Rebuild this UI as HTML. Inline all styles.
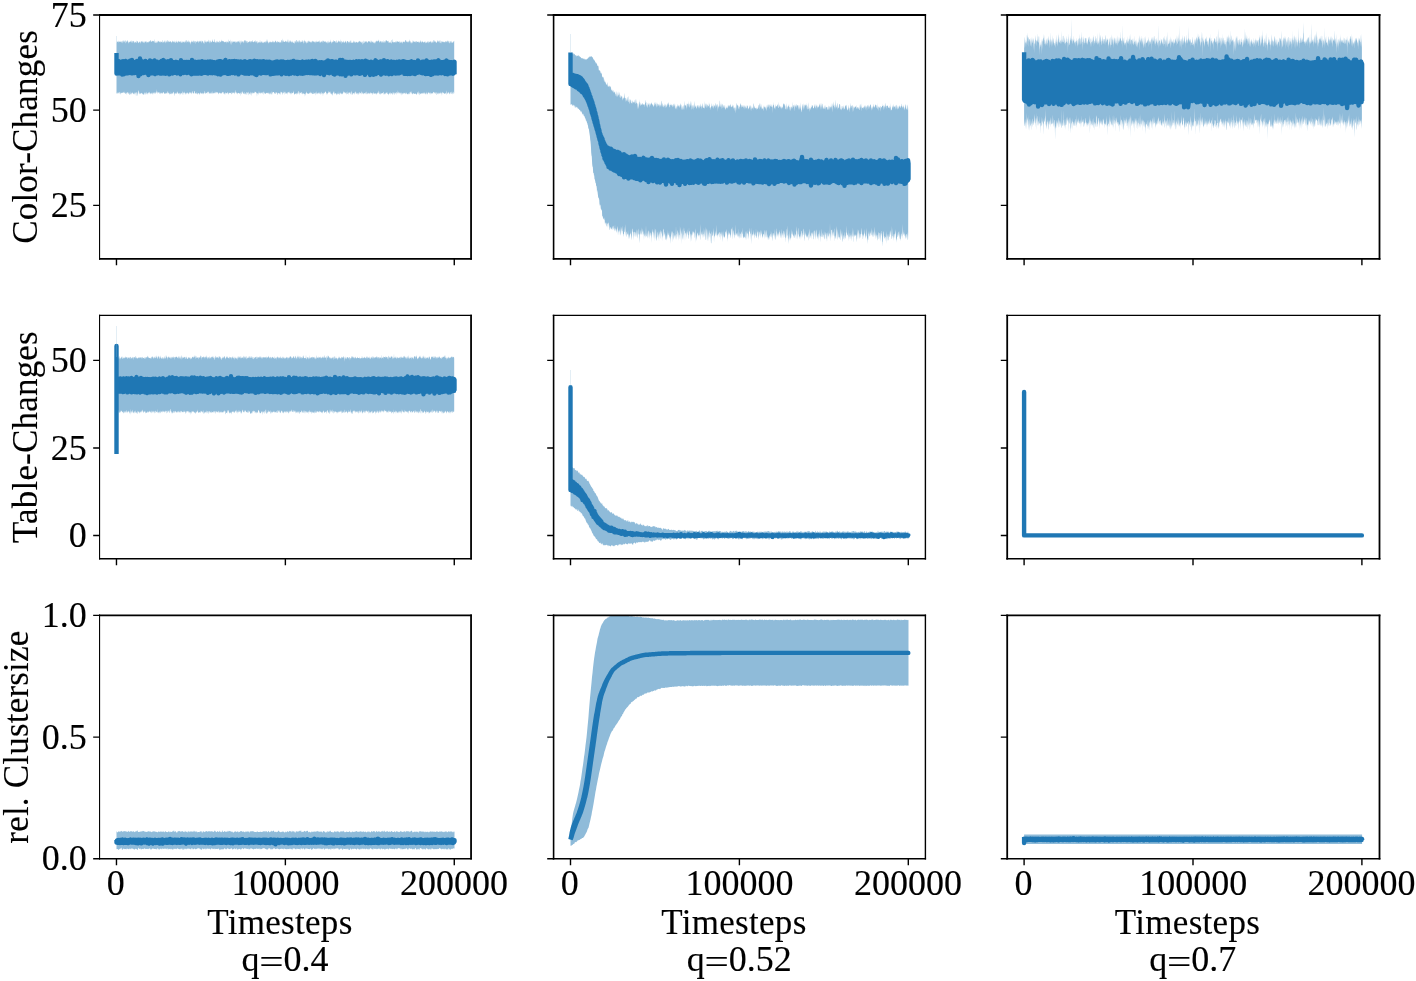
<!DOCTYPE html>
<html lang="en"><head><meta charset="utf-8"><title>Timesteps</title>
<style>html,body{margin:0;padding:0;background:#fff;overflow:hidden}svg{display:block}text{font-family:'Liberation Serif', 'Times New Roman', Times, serif;font-size:35px;fill:#000;letter-spacing:0.3px;stroke:#000;stroke-width:0.12px}.d{font-size:36px;letter-spacing:0}.yl{letter-spacing:0.2px}</style></head><body>
<svg width="1416" height="981" viewBox="0 0 1416 981">
<rect width="1416" height="981" fill="#fff"/>
<defs>
<clipPath id="c00"><rect x="99.6" y="15" width="371.5" height="243.9"/></clipPath>
<clipPath id="c01"><rect x="553.6" y="15" width="371.8" height="243.9"/></clipPath>
<clipPath id="c02"><rect x="1007.2" y="15" width="372.3" height="243.9"/></clipPath>
<clipPath id="c10"><rect x="99.6" y="315.4" width="371.5" height="243.3"/></clipPath>
<clipPath id="c11"><rect x="553.6" y="315.4" width="371.8" height="243.3"/></clipPath>
<clipPath id="c12"><rect x="1007.2" y="315.4" width="372.3" height="243.3"/></clipPath>
<clipPath id="c20"><rect x="99.6" y="615.4" width="371.5" height="243.4"/></clipPath>
<clipPath id="c21"><rect x="553.6" y="615.4" width="371.8" height="243.4"/></clipPath>
<clipPath id="c22"><rect x="1007.2" y="615.4" width="372.3" height="243.4"/></clipPath>
</defs>
<polygon fill="#8fbbd9" points="116.5,43.3 116.7,41.4 117,42 117.2,42.2 117.5,41.1 117.7,41.8 118,41.8 118.2,40.2 118.5,42.7 118.7,42.3 119,41.2 119.2,41.6 119.5,42.3 119.7,41.6 120,41.6 120.2,40.4 120.5,42.3 120.7,41.9 121,42 121.2,40.4 121.5,43.3 121.7,41.9 122,41.5 122.2,43.6 122.5,41.8 122.7,40.5 123,41.1 123.2,39.5 123.5,42.7 123.7,41.4 124,41.1 124.2,42.8 124.5,40.3 124.7,42.3 125,39.9 125.2,40.6 125.5,40.7 125.7,43.1 126,43.4 126.2,40.9 126.5,42.6 126.7,40.4 127,42.3 127.2,41.1 127.5,40.3 127.7,40.2 128,42.1 128.2,43.8 128.5,42 128.7,41.3 129,43.5 129.2,42 129.5,41.9 129.7,42 130,41.1 130.2,41.5 130.5,40.5 130.7,42.3 131,41.7 131.2,42.9 131.5,41.5 131.7,40.1 132,41.7 132.2,43.3 132.5,41.5 132.7,41 133,40.7 133.2,40.9 133.5,41.5 133.7,40.7 134,43.1 134.2,41.5 134.5,42 134.7,43.1 135,43.2 135.2,41.6 135.5,42.2 135.7,42.5 136,41.6 136.2,40.2 136.5,42.4 136.7,42.7 137,43 137.2,41 137.5,41.6 137.7,41.3 138,41.5 138.2,43 138.5,43.2 138.7,42.4 139,42.3 139.2,42.4 139.5,41.8 139.7,41.7 140,41.2 140.2,41.7 140.5,43.8 140.7,42.9 141,41.5 141.2,40.9 141.5,41 141.7,42.1 142,42.2 142.2,40.5 142.5,42.2 142.7,41.3 143,43.1 143.2,41.9 143.5,43.3 143.7,41.4 144,41.5 144.2,42.1 144.5,43.6 144.7,42.3 145,40.7 145.2,42 145.5,41.8 145.7,41.4 146,41.2 146.2,43.4 146.5,41.4 146.7,41 147,42.4 147.2,42 147.5,41.7 147.7,42.7 148,42.2 148.2,42.1 148.5,42.7 148.7,42.1 149,40.7 149.2,41.5 149.5,41.3 149.7,42 150,40.8 150.2,39.9 150.5,41.9 150.7,40.6 151,40 151.2,42.1 151.5,41.2 151.7,42.2 152,41.3 152.2,40.8 152.5,40.7 152.7,41.3 153,41.6 153.2,41.1 153.5,41.5 153.7,40.4 154,41.8 154.2,38.7 154.5,41.4 154.7,42.4 155,42.8 155.2,43.3 155.5,40.4 155.7,42.5 156,42.9 156.2,42.7 156.5,41 156.7,42.2 157,43.5 157.2,40.3 157.5,42.2 157.7,42.8 158,41.2 158.2,42.3 158.5,40.5 158.7,41.1 159,41.1 159.2,42 159.5,41.6 159.7,42.7 160,41 160.2,41.7 160.5,42.7 160.7,42.3 161,40.6 161.2,42.4 161.5,41.4 161.7,42.1 162,42.1 162.2,42.9 162.5,41.9 162.7,40.1 163,40.6 163.2,42.5 163.5,41.4 163.7,42.8 164,42 164.2,41.1 164.5,42.8 164.7,41.1 165,40 165.2,43.7 165.5,40.1 165.7,42.5 166,42.6 166.2,41.9 166.5,40.3 166.7,42.7 167,40.5 167.2,40.6 167.5,40.1 167.7,42.5 168,42.1 168.2,42.5 168.5,40.9 168.7,41.6 169,40.3 169.2,41.5 169.5,42.3 169.7,41.5 170,42.2 170.2,41 170.5,41.3 170.7,41.8 171,41.6 171.2,42.3 171.5,42 171.7,43.4 172,41.6 172.2,40.5 172.5,40.9 172.7,41.8 173,42.4 173.2,41.1 173.5,41.6 173.7,42.4 174,41.7 174.2,40.3 174.5,42.7 174.7,41.9 175,42.2 175.2,42.9 175.5,42.8 175.7,41.5 176,41.3 176.2,42.1 176.5,41.7 176.7,40.1 177,42.9 177.2,42.5 177.5,42.5 177.7,40.7 178,43 178.2,41.3 178.5,41.7 178.7,40.5 179,41.6 179.2,41.6 179.5,41.6 179.7,42.2 180,41.9 180.2,42.7 180.5,41.3 180.7,40.9 181,41.8 181.2,42.4 181.5,42.9 181.7,42.5 182,40.2 182.2,42.1 182.5,43.1 182.7,41.9 183,41.3 183.2,42.1 183.5,41.3 183.7,42.4 184,41.8 184.2,43.1 184.5,42.2 184.7,41.1 185,42.3 185.2,42.6 185.5,41.3 185.7,41.4 186,39.4 186.2,43.2 186.5,41.3 186.7,39.9 187,40.2 187.2,41.6 187.5,42.5 187.7,41 188,42.2 188.2,40.8 188.5,40.3 188.7,42.6 189,42.2 189.2,41.8 189.5,43 189.7,40.9 190,41.4 190.2,43.3 190.5,44.7 190.7,41.8 191,43.3 191.2,41.3 191.5,42.1 191.7,41.6 192,40.1 192.2,42 192.5,42.6 192.7,41.2 193,41.7 193.2,43.1 193.5,40.7 193.7,40.5 194,41.1 194.2,40.7 194.5,43 194.7,42.1 195,41 195.2,41.2 195.5,44.4 195.7,41.3 196,41.1 196.2,42.1 196.5,42.4 196.7,42 197,41 197.2,40.8 197.5,42.3 197.7,41.8 198,40.3 198.2,42.9 198.5,42.5 198.7,41.6 199,40.8 199.2,42 199.5,41.2 199.7,40.6 200,42.1 200.2,40.5 200.5,42.2 200.7,40.5 201,41.6 201.2,41.7 201.5,43.4 201.7,40.8 202,40.5 202.2,41.2 202.5,40.8 202.7,41.3 203,42.2 203.2,42.5 203.5,43.3 203.7,41.1 204,44.2 204.2,43.6 204.5,41.6 204.7,39.7 205,41.7 205.2,42.8 205.5,39.7 205.7,41.9 206,41.6 206.2,41 206.5,42.4 206.7,42.7 207,41.4 207.2,42 207.5,41.2 207.7,41.1 208,41.9 208.2,42.3 208.5,40.3 208.7,39.4 209,42.3 209.2,40.1 209.5,41.9 209.7,43.4 210,41.8 210.2,40.7 210.5,40.5 210.7,42.9 211,41.8 211.2,42.3 211.5,42.6 211.7,41.8 212,41.5 212.2,40.9 212.5,39 212.7,40.4 213,41.7 213.2,41.6 213.5,42.2 213.7,41.7 214,41.9 214.2,42.5 214.5,41 214.7,38.6 215,40.4 215.2,42.7 215.5,41.8 215.7,42.2 216,43.2 216.2,42.8 216.5,40.5 216.7,42.5 217,40.5 217.2,42.2 217.5,42.2 217.7,40.3 218,43 218.2,41.2 218.5,42.4 218.7,41.4 219,42.7 219.2,43 219.5,40.8 219.7,40.4 220,41.7 220.2,42.6 220.5,41.5 220.7,41.2 221,42.2 221.2,39.3 221.5,41.2 221.7,40.6 222,42.1 222.2,41.1 222.5,40.8 222.7,41.5 223,40.5 223.2,41.8 223.5,41.2 223.7,41.5 224,41.2 224.2,42.6 224.5,41.7 224.7,42.3 225,42.2 225.2,41.1 225.5,42.4 225.7,42.1 226,42.1 226.2,41.4 226.5,41.4 226.7,42.6 227,43.8 227.2,41.1 227.5,42.3 227.7,41.5 228,42.5 228.2,42.2 228.5,42.8 228.7,39 229,41.3 229.2,40.9 229.5,41.7 229.7,41.1 230,41.2 230.2,42.4 230.5,44.7 230.7,39.3 231,41.5 231.2,45.2 231.5,41.8 231.7,41.5 232,40.6 232.2,41 232.5,42.5 232.7,42.8 233,41.9 233.2,41 233.5,41.9 233.7,41.6 234,42.3 234.2,41.9 234.5,41.2 234.7,42 235,40.7 235.2,42.5 235.5,42.9 235.7,40.7 236,42.2 236.2,40.9 236.5,42.8 236.7,42.6 237,41.6 237.2,42.7 237.5,41.4 237.7,41.2 238,41.3 238.2,41.7 238.5,40.5 238.7,41.9 239,41.2 239.2,42.5 239.5,42.7 239.7,41.4 240,39.9 240.2,42.5 240.5,45.2 240.7,41.7 241,40.6 241.2,42 241.5,43.2 241.7,40.1 242,42.2 242.2,41.5 242.5,41 242.7,42.8 243,40.6 243.2,42.1 243.5,43.6 243.7,42 244,41 244.2,40.2 244.5,40.6 244.7,40.1 245,43.2 245.2,41.6 245.5,40.1 245.7,40.6 246,40.8 246.2,41.5 246.5,40.6 246.7,43.3 247,41.1 247.2,41.1 247.5,42.1 247.7,43.1 248,43.2 248.2,41.4 248.5,42.2 248.7,41.9 249,42.3 249.2,42 249.5,41 249.7,40.7 250,42 250.2,40.7 250.5,43 250.7,41.8 251,40.9 251.2,41.5 251.5,41.3 251.7,41.2 252,42.7 252.2,40.5 252.5,40.1 252.7,42.1 253,41.6 253.2,42.3 253.5,42.2 253.7,41.6 254,42.5 254.2,41 254.5,41.9 254.7,41.1 255,40.8 255.2,42.4 255.5,42.3 255.7,40 256,40.8 256.2,42.1 256.5,42.8 256.7,40.8 257,41.6 257.2,40.5 257.5,44.1 257.7,42.2 258,43.5 258.2,42.4 258.5,42.6 258.7,42.3 259,41.5 259.2,42.5 259.5,41.9 259.7,43 260,39.5 260.2,41.3 260.5,42.4 260.7,43 261,41.9 261.2,41.2 261.5,41.7 261.7,41.4 262,43.5 262.2,42.6 262.5,43 262.7,42.1 263,41.3 263.2,42.9 263.5,43.3 263.7,42.3 264,41.8 264.2,42.8 264.5,41.5 264.7,42.5 265,41.2 265.2,40.9 265.5,42.3 265.7,42.1 266,43.5 266.2,41.5 266.5,41.8 266.7,40.8 267,39 267.2,40.1 267.5,42.2 267.7,40.7 268,42.8 268.2,43.1 268.5,41.5 268.7,43.9 269,42 269.2,42.8 269.5,41.6 269.7,42.7 270,41 270.2,42.8 270.5,41.3 270.7,41.7 271,42.4 271.2,42 271.5,41.7 271.7,42.5 272,42.5 272.2,40.2 272.5,42.3 272.7,42.4 273,40.9 273.2,42.4 273.5,40.6 273.7,43.1 274,41.6 274.2,41.7 274.5,42.9 274.7,41.7 275,42.3 275.2,40.9 275.5,40.8 275.7,40.5 276,41.6 276.2,42.7 276.5,42 276.7,42.6 277,40.9 277.2,41 277.5,41.4 277.7,42.8 278,42.1 278.2,41.8 278.5,42.4 278.7,41.7 279,41.8 279.2,43 279.5,41.2 279.7,42 280,43.3 280.2,41.9 280.5,42.4 280.7,41.3 281,43.6 281.2,39.8 281.5,40.5 281.7,40.2 282,43.3 282.2,42.1 282.5,38.3 282.7,40.6 283,42.1 283.2,41.9 283.5,41.2 283.7,40.2 284,40.8 284.2,42 284.5,42.1 284.7,41.9 285,41.7 285.2,40.2 285.5,41.8 285.7,40.9 286,41.8 286.2,42.2 286.5,41.2 286.7,40.9 287,42.7 287.2,42.1 287.5,41.2 287.7,39.1 288,41.8 288.2,42.4 288.5,42.8 288.7,41.2 289,38.9 289.2,41.4 289.5,42.9 289.7,40.7 290,41.7 290.2,41 290.5,42 290.7,39.5 291,42.1 291.2,41.4 291.5,41.6 291.7,42.3 292,43.1 292.2,40.3 292.5,42.7 292.7,42.3 293,41.5 293.2,43.1 293.5,42.9 293.7,43 294,41.3 294.2,41 294.5,42.9 294.7,44.1 295,42.4 295.2,42.6 295.5,41.4 295.7,40.6 296,41.6 296.2,43.3 296.5,40.1 296.7,39.9 297,40.1 297.2,41.9 297.5,42.6 297.7,40.7 298,41.4 298.2,43 298.5,41.7 298.7,40.7 299,40.6 299.2,40 299.5,42.5 299.7,39.8 300,42.9 300.2,42.6 300.5,41.2 300.7,41.3 301,42.5 301.2,41.9 301.5,42 301.7,40.3 302,42.6 302.2,41 302.5,39.8 302.7,41.2 303,42.2 303.2,43.7 303.5,41.5 303.7,40.6 304,43.7 304.2,41.9 304.5,39.5 304.7,40.8 305,40.9 305.2,43.1 305.5,41.6 305.7,41.3 306,41.3 306.2,44.1 306.5,41.3 306.7,42.4 307,43.4 307.2,42 307.5,40.8 307.7,42.4 308,43.2 308.2,41.8 308.5,40.7 308.7,40.6 309,42 309.2,41.6 309.5,41.7 309.7,41.8 310,40.5 310.2,42.5 310.5,42 310.7,41.6 311,42.9 311.2,42.6 311.5,41.8 311.7,41 312,42.8 312.2,41.4 312.5,41.1 312.7,40.4 313,41.8 313.2,40.9 313.5,41.3 313.7,42.2 314,41.8 314.2,42.7 314.5,42.1 314.7,41.4 315,41.5 315.2,41.3 315.5,43.4 315.7,41.8 316,41.4 316.2,42.6 316.5,41.9 316.7,41.2 317,40.2 317.2,42.2 317.5,42 317.7,41.8 318,41.4 318.2,41 318.5,41.6 318.7,42 319,41.7 319.2,40.1 319.5,41.4 319.7,42.1 320,43.2 320.2,41 320.5,42.5 320.7,42.5 321,42.5 321.2,41.7 321.5,41.6 321.7,40.8 322,42.5 322.2,39.9 322.5,41.4 322.7,41.5 323,43.4 323.2,41.5 323.5,40.9 323.7,40.5 324,41.1 324.2,41.9 324.5,41.8 324.7,41.6 325,41.2 325.2,41.6 325.5,42.7 325.7,40.8 326,41.9 326.2,43.3 326.5,42.3 326.7,41.4 327,42.4 327.2,41.1 327.5,41.8 327.7,43.2 328,43.5 328.2,40.3 328.5,42.4 328.7,43.6 329,41.3 329.2,42 329.5,43.2 329.7,41.4 330,42.2 330.2,41.4 330.5,39.2 330.7,42.1 331,41.6 331.2,42.6 331.5,43.7 331.7,42.4 332,41.1 332.2,42.2 332.5,42 332.7,42.7 333,40.5 333.2,40.8 333.5,40 333.7,42.3 334,41.8 334.2,41.2 334.5,41.1 334.7,41.3 335,41 335.2,41.5 335.5,41.4 335.7,43.1 336,42.1 336.2,39.7 336.5,41.3 336.7,42.9 337,42.7 337.2,42.1 337.5,42.4 337.7,43.2 338,40.7 338.2,41.1 338.5,40.2 338.7,42.2 339,41.2 339.2,41.2 339.5,41.1 339.7,42.4 340,41.7 340.2,41.3 340.5,42.9 340.7,40.9 341,38.9 341.2,44.4 341.5,41.5 341.7,41.3 342,41.1 342.2,41.7 342.5,42.5 342.7,42.5 343,42.3 343.2,41.5 343.5,40.5 343.7,42.1 344,43.2 344.2,42.8 344.5,41.5 344.7,43.2 345,41.5 345.2,41.8 345.5,40.6 345.7,41.5 346,41.9 346.2,41.6 346.5,42.5 346.7,43.5 347,43 347.2,41 347.5,41.1 347.7,41.2 348,40.9 348.2,41.8 348.5,42.2 348.7,42 349,43.8 349.2,41.9 349.5,41.7 349.7,41.1 350,43.4 350.2,42.7 350.5,41 350.7,41 351,39.7 351.2,41.8 351.5,42.9 351.7,42.7 352,42.8 352.2,42.8 352.5,42.8 352.7,42.5 353,42.2 353.2,41.7 353.5,40.2 353.7,41.7 354,43.4 354.2,41.3 354.5,41.2 354.7,42.7 355,41.9 355.2,41.4 355.5,43.2 355.7,42.4 356,42.5 356.2,41.3 356.5,42.2 356.7,42.1 357,42.5 357.2,42.8 357.5,42.8 357.7,42 358,42.4 358.2,40.8 358.5,42.4 358.7,42.5 359,41.5 359.2,41.1 359.5,41.7 359.7,40.6 360,42.1 360.2,42.1 360.5,40.9 360.7,41.8 361,42.8 361.2,42.8 361.5,42.7 361.7,41.7 362,41.5 362.2,41.4 362.5,42.3 362.7,45.1 363,43.1 363.2,43.2 363.5,43.7 363.7,40.3 364,41.6 364.2,41.4 364.5,43.1 364.7,43.3 365,40.5 365.2,41.8 365.5,42.3 365.7,41.2 366,41.2 366.2,41 366.5,42.6 366.7,41 367,42.8 367.2,41.9 367.5,42.5 367.7,43.2 368,41.1 368.2,41.1 368.5,42.2 368.7,40.9 369,41.1 369.2,41.7 369.5,41.9 369.7,40.7 370,41.5 370.2,42.3 370.5,43 370.7,40 371,43 371.2,42.6 371.5,40.8 371.7,40.5 372,42.2 372.2,41.4 372.5,41.9 372.7,42.7 373,40.7 373.2,41.9 373.5,42.7 373.7,42.6 374,43.4 374.2,43.3 374.5,42.4 374.7,41.6 375,43.9 375.2,42.4 375.5,42.2 375.7,40.8 376,42.5 376.2,41.1 376.5,41.4 376.7,40.6 377,40.8 377.2,41.9 377.5,40.5 377.7,41 378,41.7 378.2,40.2 378.5,40.7 378.7,41.1 379,38.9 379.2,42.4 379.5,40.9 379.7,42.5 380,42.6 380.2,40.7 380.5,41.8 380.7,41.4 381,40.5 381.2,41.5 381.5,41.6 381.7,42.4 382,42.9 382.2,40.8 382.5,41.4 382.7,42.3 383,43.1 383.2,39.6 383.5,42.9 383.7,41.6 384,43.2 384.2,41.4 384.5,41.1 384.7,41.8 385,43.4 385.2,41.8 385.5,39.7 385.7,42.4 386,40.4 386.2,40.6 386.5,40.8 386.7,40.1 387,40.7 387.2,40.9 387.5,41.1 387.7,41.8 388,41.5 388.2,40.5 388.5,41.6 388.7,42.7 389,42.7 389.2,41.9 389.5,42.4 389.7,42.6 390,43 390.2,43.3 390.5,41.5 390.7,41.5 391,43.1 391.2,43.5 391.5,43.2 391.7,39.7 392,40.3 392.2,38.6 392.5,42.5 392.7,41.9 393,41.8 393.2,41.7 393.5,43 393.7,41.5 394,43 394.2,42.3 394.5,42.1 394.7,42.2 395,41.9 395.2,40.8 395.5,42.4 395.7,42.8 396,41.7 396.2,42.5 396.5,42.6 396.7,40.6 397,41.7 397.2,41.4 397.5,41 397.7,42.1 398,41 398.2,41.4 398.5,42 398.7,42.1 399,42.1 399.2,43.8 399.5,40.9 399.7,42 400,40.7 400.2,42.2 400.5,42.8 400.7,42.9 401,41.2 401.2,41.5 401.5,42.9 401.7,41.7 402,42.7 402.2,40.9 402.5,43.9 402.7,42.7 403,42.2 403.2,41.1 403.5,41.7 403.7,41.9 404,42 404.2,41.7 404.5,41.6 404.7,42 405,43.1 405.2,39.8 405.5,40.6 405.7,39.7 406,41.2 406.2,40.2 406.5,42.3 406.7,41.9 407,41.6 407.2,41.2 407.5,41.9 407.7,42 408,42.9 408.2,41.1 408.5,42.4 408.7,40.5 409,42.9 409.2,39 409.5,41.3 409.7,40.3 410,42.5 410.2,40.5 410.5,43.4 410.7,40.4 411,43.6 411.2,43.3 411.5,41.8 411.7,42.2 412,43.8 412.2,42.6 412.5,39.8 412.7,42.9 413,42 413.2,40.3 413.5,42.5 413.7,40.7 414,42 414.2,42 414.5,41.2 414.7,42.4 415,40.9 415.2,42.2 415.5,41.3 415.7,41.2 416,43.5 416.2,41.9 416.5,40.8 416.7,41.7 417,41.1 417.2,41.8 417.5,41.9 417.7,41.9 418,41.9 418.2,41.3 418.5,42.2 418.7,42.8 419,41.2 419.2,41.7 419.5,41.9 419.7,43 420,42.8 420.2,41.1 420.5,41.9 420.7,40.5 421,40.2 421.2,41.8 421.5,42.7 421.7,42.7 422,41.5 422.2,40.6 422.5,42.2 422.7,41.6 423,42.2 423.2,41.9 423.5,42.4 423.7,42.4 424,42.6 424.2,41.4 424.5,42.7 424.7,41.3 425,41.9 425.2,43.6 425.5,42.4 425.7,40.8 426,43.1 426.2,42.9 426.5,42.8 426.7,42 427,42.1 427.2,41.6 427.5,41.2 427.7,43.2 428,41.5 428.2,41.4 428.5,41.4 428.7,43.5 429,42.6 429.2,41.5 429.5,41.8 429.7,42.3 430,42.6 430.2,40.4 430.5,42.6 430.7,41.6 431,41.2 431.2,41.4 431.5,42.5 431.7,43.4 432,41.9 432.2,42.3 432.5,40.7 432.7,42.5 433,43.1 433.2,40.1 433.5,40 433.7,43.2 434,40.2 434.2,41.5 434.5,42.3 434.7,40.3 435,40.7 435.2,41.8 435.5,42.6 435.7,40.6 436,42.8 436.2,42.1 436.5,42.9 436.7,42.9 437,42.1 437.2,42.3 437.5,40.2 437.7,40.6 438,40.9 438.2,41.5 438.5,42.6 438.7,40.2 439,41.5 439.2,40.6 439.5,40.4 439.7,43.1 440,41.9 440.2,43.3 440.5,42.9 440.7,41 441,40.1 441.2,43.7 441.5,41.4 441.7,40.8 442,42.4 442.2,41.9 442.5,41.2 442.7,41.5 443,41.9 443.2,41.9 443.5,42.5 443.7,41.5 444,41.5 444.2,42.3 444.5,42.1 444.7,42.8 445,41.6 445.2,41.7 445.5,40.8 445.7,43.1 446,40.5 446.2,42 446.5,41 446.7,42.1 447,42.5 447.2,40.3 447.5,41.6 447.7,40.2 448,43.1 448.2,41.4 448.5,40.4 448.7,41.2 449,43 449.2,43.2 449.5,43.2 449.7,41.1 450,41.7 450.2,43.3 450.5,41.1 450.7,41.5 451,40.9 451.2,40.8 451.5,42.9 451.7,42.4 452,42.2 452.2,42.3 452.5,42.7 452.7,43.2 453,41.8 453.2,41.5 453.5,40.9 453.7,42.8 454,41.3 454.2,40.5 454.2,92.7 454,93.8 453.7,93.7 453.5,92.3 453.2,92.2 453,91 452.7,94.9 452.5,92.4 452.2,94.2 452,91.5 451.7,92.1 451.5,93.5 451.2,93.9 451,93.7 450.7,93.6 450.5,91.9 450.2,92.3 450,92.7 449.7,94.1 449.5,94.6 449.2,93.5 449,92.1 448.7,92.9 448.5,91.5 448.2,93 448,93.5 447.7,94.2 447.5,93.3 447.2,92.4 447,93.1 446.7,95.5 446.5,92.6 446.2,90.3 446,92.7 445.7,94.2 445.5,93.5 445.2,92.6 445,93.6 444.7,93.1 444.5,94.1 444.2,93.9 444,93.8 443.7,92.9 443.5,93.1 443.2,92.7 443,91.9 442.7,91.7 442.5,93.2 442.2,92.6 442,95.9 441.7,93.4 441.5,93.3 441.2,93.2 441,91.3 440.7,93.4 440.5,93.7 440.2,92.4 440,92.9 439.7,94 439.5,92.2 439.2,93.9 439,93 438.7,93.8 438.5,92.1 438.2,94.7 438,93.4 437.7,94.3 437.5,92.2 437.2,93.6 437,94.8 436.7,95 436.5,92.4 436.2,92.3 436,93.3 435.7,93.8 435.5,93.8 435.2,91.8 435,93.1 434.7,93.4 434.5,92.8 434.2,92 434,92.5 433.7,92.2 433.5,91.7 433.2,92.1 433,94.2 432.7,93.3 432.5,92.8 432.2,93.6 432,92.7 431.7,93.2 431.5,93 431.2,94.2 431,94 430.7,92.2 430.5,92.7 430.2,94.9 430,92.3 429.7,94.8 429.5,92.2 429.2,93.6 429,92.8 428.7,92.2 428.5,93.2 428.2,92.1 428,93.4 427.7,93.7 427.5,93.5 427.2,95.1 427,91.1 426.7,94.3 426.5,92.3 426.2,93.4 426,95.1 425.7,93.8 425.5,94.2 425.2,92.9 425,92.6 424.7,93.2 424.5,92.1 424.2,94 424,94.1 423.7,92 423.5,93.5 423.2,93.6 423,93.3 422.7,93.6 422.5,92.4 422.2,94 422,93.5 421.7,93.5 421.5,92.7 421.2,93.8 421,94.1 420.7,93.8 420.5,93.2 420.2,94.1 420,94.4 419.7,95.4 419.5,92.2 419.2,93.5 419,93.2 418.7,90.8 418.5,93.3 418.2,94.7 418,92.3 417.7,91.8 417.5,93.5 417.2,93.5 417,93.2 416.7,94.9 416.5,94.5 416.2,94.2 416,94.2 415.7,93.2 415.5,93.4 415.2,94 415,93.4 414.7,94 414.5,93.4 414.2,94.2 414,93.8 413.7,93.2 413.5,93.5 413.2,92.7 413,94.2 412.7,94.4 412.5,93.6 412.2,94 412,92.6 411.7,93.7 411.5,93.5 411.2,91.3 411,91.7 410.7,91.6 410.5,94 410.2,92.1 410,92.2 409.7,92.2 409.5,94.4 409.2,93.6 409,94.4 408.7,93.6 408.5,94.7 408.2,92.8 408,93.6 407.7,94.7 407.5,93.7 407.2,94 407,94.5 406.7,92 406.5,94 406.2,92.6 406,94.6 405.7,93.2 405.5,94.3 405.2,92.7 405,92.2 404.7,93.9 404.5,92.8 404.2,93.1 404,93.6 403.7,92.5 403.5,92.9 403.2,93.9 403,94 402.7,94.7 402.5,93.1 402.2,93.2 402,93.7 401.7,92.1 401.5,95.7 401.2,93.6 401,92.6 400.7,92.7 400.5,92.9 400.2,94.8 400,92.6 399.7,93 399.5,93.9 399.2,92.4 399,92.1 398.7,91.5 398.5,93.9 398.2,92.6 398,93.1 397.7,93.5 397.5,90.1 397.2,94 397,92.1 396.7,92.6 396.5,92 396.2,94.7 396,94.3 395.7,92.1 395.5,93.6 395.2,92.9 395,93.9 394.7,92.2 394.5,92.9 394.2,94.9 394,94.7 393.7,92.9 393.5,92 393.2,93.8 393,91.5 392.7,93.5 392.5,94.9 392.2,94.3 392,93.2 391.7,93.4 391.5,93.6 391.2,92.8 391,94.7 390.7,94.1 390.5,91.7 390.2,93.8 390,92.6 389.7,92.8 389.5,93.7 389.2,93.6 389,93.9 388.7,93.4 388.5,95.4 388.2,94.5 388,93.6 387.7,94.1 387.5,94.3 387.2,91.5 387,94 386.7,92.6 386.5,92.7 386.2,92.8 386,92.1 385.7,94.8 385.5,93.1 385.2,93.6 385,94.1 384.7,92.8 384.5,94.6 384.2,94.1 384,94.7 383.7,94.1 383.5,91.8 383.2,92 383,93 382.7,93.1 382.5,93.8 382.2,92.8 382,93.1 381.7,93 381.5,94.3 381.2,93.8 381,92.3 380.7,94.1 380.5,94.2 380.2,94.7 380,91.8 379.7,94.8 379.5,93.6 379.2,94.2 379,90.6 378.7,91.3 378.5,93.5 378.2,92.8 378,91.9 377.7,92.9 377.5,94.1 377.2,92.4 377,93.5 376.7,92.9 376.5,94.5 376.2,94.3 376,94.6 375.7,93.5 375.5,92.8 375.2,93.8 375,93.2 374.7,93.7 374.5,94 374.2,93.4 374,92.6 373.7,92.3 373.5,93.1 373.2,93.9 373,93.6 372.7,93 372.5,93.6 372.2,95.5 372,93.3 371.7,93.7 371.5,92.8 371.2,93.2 371,92.6 370.7,92.7 370.5,92.2 370.2,94.5 370,92.3 369.7,94.6 369.5,93.4 369.2,93.4 369,93.1 368.7,92.7 368.5,94.1 368.2,93.4 368,91.9 367.7,93.9 367.5,92.9 367.2,94.3 367,94.2 366.7,94.2 366.5,93.3 366.2,91.3 366,92.2 365.7,93.4 365.5,94.6 365.2,91.7 365,93.1 364.7,93.6 364.5,93.2 364.2,92.9 364,93.8 363.7,92.6 363.5,94.6 363.2,93.9 363,93.4 362.7,94 362.5,92.2 362.2,92.7 362,93.1 361.7,91.2 361.5,91.7 361.2,94.5 361,93.9 360.7,92.8 360.5,93.1 360.2,92.8 360,94.3 359.7,93 359.5,91.7 359.2,92.5 359,94.1 358.7,95.1 358.5,92.6 358.2,93 358,94.5 357.7,94.2 357.5,92.6 357.2,93.4 357,93 356.7,94.2 356.5,94 356.2,92.6 356,92.5 355.7,91.6 355.5,91.6 355.2,93.3 355,94 354.7,92.2 354.5,92.4 354.2,94.9 354,93.5 353.7,92.9 353.5,93.3 353.2,93 353,94.2 352.7,94.5 352.5,92.3 352.2,94.6 352,95.2 351.7,93.8 351.5,90.5 351.2,92.3 351,92.2 350.7,92.5 350.5,94.3 350.2,94.2 350,92.9 349.7,92.1 349.5,92.6 349.2,93.6 349,91.9 348.7,95.2 348.5,92.9 348.2,92.2 348,93.9 347.7,94.1 347.5,93.7 347.2,91 347,93.7 346.7,94.7 346.5,93 346.2,92.3 346,92.1 345.7,93.2 345.5,92.8 345.2,93.9 345,92.1 344.7,91.8 344.5,93.6 344.2,92.6 344,92 343.7,92.7 343.5,90.7 343.2,92.6 343,93.7 342.7,94.4 342.5,93.8 342.2,93.3 342,93.1 341.7,93.9 341.5,94.6 341.2,93.3 341,93.9 340.7,91.9 340.5,93.8 340.2,93.5 340,92.8 339.7,93.7 339.5,94.9 339.2,94.6 339,90.9 338.7,94.4 338.5,94.1 338.2,93.6 338,93.9 337.7,94.5 337.5,93.8 337.2,92.2 337,95.6 336.7,94.7 336.5,94.3 336.2,93.2 336,93.7 335.7,93 335.5,93.3 335.2,93.2 335,94.7 334.7,93.3 334.5,94.2 334.2,92.2 334,91 333.7,92.7 333.5,91.3 333.2,93.6 333,92.5 332.7,94.1 332.5,95 332.2,95.8 332,92.8 331.7,94 331.5,94.7 331.2,94.1 331,93.5 330.7,93.7 330.5,93.2 330.2,91.7 330,91.2 329.7,93.2 329.5,92 329.2,91.8 329,93.1 328.7,92.9 328.5,91.6 328.2,91.3 328,93.1 327.7,93.8 327.5,94.7 327.2,93.2 327,92.5 326.7,93.5 326.5,95.2 326.2,92.7 326,92.4 325.7,91.2 325.5,92.3 325.2,91.2 325,92.5 324.7,93.5 324.5,93 324.2,92.4 324,91.9 323.7,93.4 323.5,94.2 323.2,93.1 323,96.7 322.7,92.8 322.5,92.9 322.2,93.9 322,92.8 321.7,91.4 321.5,93 321.2,94.5 321,93.3 320.7,95.3 320.5,92.8 320.2,93.9 320,91.4 319.7,93.3 319.5,94 319.2,93.3 319,93.7 318.7,92.8 318.5,94.1 318.2,92.2 318,92.4 317.7,94.5 317.5,92.8 317.2,93.5 317,94.6 316.7,91 316.5,92.7 316.2,94.5 316,92.9 315.7,92.2 315.5,93 315.2,95.8 315,92.9 314.7,93.7 314.5,92.6 314.2,93.7 314,94 313.7,94 313.5,94.2 313.2,91.7 313,93.7 312.7,94.1 312.5,94.2 312.2,93.4 312,91.9 311.7,92.9 311.5,93.4 311.2,92.9 311,93.9 310.7,91.3 310.5,93.4 310.2,92.8 310,92.1 309.7,94.5 309.5,92.4 309.2,93 309,93.3 308.7,93.2 308.5,94.1 308.2,94.1 308,93.9 307.7,93.3 307.5,93.7 307.2,93.3 307,92.5 306.7,91.3 306.5,92.6 306.2,93.6 306,93.1 305.7,95.4 305.5,92.8 305.2,93.7 305,96.9 304.7,93.9 304.5,93.8 304.2,93.9 304,93.4 303.7,93.1 303.5,94.3 303.2,93.4 303,93.3 302.7,94.7 302.5,92.2 302.2,94.3 302,93.5 301.7,93.8 301.5,92.1 301.2,92 301,92.8 300.7,93.3 300.5,92.3 300.2,93.5 300,92.1 299.7,93.4 299.5,95.3 299.2,92.8 299,91.3 298.7,90.8 298.5,92 298.2,93.7 298,93.5 297.7,93.4 297.5,91.8 297.2,94.6 297,93.9 296.7,94.8 296.5,93.5 296.2,92.9 296,92.9 295.7,93.7 295.5,93.8 295.2,93.7 295,94.1 294.7,93.9 294.5,95.2 294.2,93.9 294,92.9 293.7,92.3 293.5,92.7 293.2,90.4 293,92.4 292.7,92.9 292.5,93.3 292.2,93.3 292,93.1 291.7,92 291.5,94.2 291.2,93.1 291,95.2 290.7,92.7 290.5,93.4 290.2,93.6 290,92.3 289.7,93.3 289.5,91.1 289.2,94.1 289,92.5 288.7,92.6 288.5,92.1 288.2,91.8 288,94 287.7,91.8 287.5,95.3 287.2,91.9 287,93.3 286.7,93.9 286.5,92.4 286.2,93.3 286,93.9 285.7,93.4 285.5,93.2 285.2,92.1 285,91.2 284.7,95.4 284.5,91.5 284.2,92.2 284,92.5 283.7,93.3 283.5,91.1 283.2,93.4 283,92.9 282.7,95.2 282.5,93.8 282.2,92.3 282,92.8 281.7,91.7 281.5,91.9 281.2,92.9 281,91.6 280.7,91.9 280.5,93 280.2,94.7 280,94.6 279.7,94.1 279.5,92.9 279.2,93.7 279,92.5 278.7,93.7 278.5,93 278.2,93 278,92.3 277.7,93.5 277.5,95 277.2,94.5 277,93 276.7,93.3 276.5,92.3 276.2,92 276,92.9 275.7,91.8 275.5,94.1 275.2,94.1 275,93 274.7,93.8 274.5,93.5 274.2,93.1 274,91.8 273.7,92.3 273.5,92.2 273.2,92.1 273,91.9 272.7,91.8 272.5,93.1 272.2,93.3 272,95.3 271.7,94.1 271.5,94 271.2,91.1 271,94.6 270.7,93.9 270.5,93.4 270.2,92.4 270,92.5 269.7,93.1 269.5,94.5 269.2,94.3 269,93.4 268.7,94 268.5,92.9 268.2,92.6 268,92.6 267.7,93.3 267.5,92.4 267.2,93.4 267,93.6 266.7,92.9 266.5,92.4 266.2,92.9 266,93 265.7,94.3 265.5,93 265.2,94 265,93.9 264.7,92.8 264.5,92.4 264.2,93.9 264,90.8 263.7,92.6 263.5,95.4 263.2,92.1 263,91.9 262.7,93.7 262.5,93.8 262.2,92.3 262,92.1 261.7,93 261.5,92.5 261.2,93.8 261,92.6 260.7,92.6 260.5,93.9 260.2,92.7 260,94.2 259.7,92.6 259.5,92.8 259.2,93 259,90.5 258.7,94.1 258.5,94.9 258.2,92.6 258,93 257.7,93.7 257.5,93.5 257.2,93.3 257,97.1 256.7,93.1 256.5,92.5 256.2,93.2 256,91.6 255.7,92.5 255.5,91.7 255.2,92.1 255,92.9 254.7,91.2 254.5,92.4 254.2,93.6 254,92.9 253.7,93.5 253.5,92.5 253.2,93.6 253,92.3 252.7,94.4 252.5,91.9 252.2,93.4 252,92.1 251.7,92.9 251.5,93.3 251.2,96.2 251,92.9 250.7,95.3 250.5,93.6 250.2,91.4 250,93 249.7,93.8 249.5,94.4 249.2,93.5 249,93 248.7,91.5 248.5,92.5 248.2,95.2 248,95.3 247.7,91.6 247.5,93.6 247.2,92.8 247,92.6 246.7,91.7 246.5,92.9 246.2,94.7 246,94.9 245.7,92.7 245.5,94.5 245.2,93.8 245,92.5 244.7,92.1 244.5,94.6 244.2,93.9 244,93.6 243.7,92.6 243.5,94.1 243.2,94.1 243,93 242.7,92.4 242.5,92.2 242.2,91.3 242,91.6 241.7,92.4 241.5,94.3 241.2,94 241,92.7 240.7,92.5 240.5,96.4 240.2,92.5 240,93.8 239.7,93.1 239.5,93.8 239.2,93.4 239,93.8 238.7,92.5 238.5,93.1 238.2,93.1 238,93 237.7,93.3 237.5,93.4 237.2,94.8 237,92.1 236.7,93.6 236.5,91.7 236.2,93.7 236,93.5 235.7,92.1 235.5,92.4 235.2,89.8 235,91.3 234.7,93.5 234.5,92.5 234.2,94.5 234,93.3 233.7,92.8 233.5,91.9 233.2,93.2 233,92.4 232.7,94.1 232.5,92.4 232.2,92.9 232,91.6 231.7,92.7 231.5,94.6 231.2,94.1 231,93.5 230.7,92.6 230.5,92.9 230.2,92.9 230,93.3 229.7,92.8 229.5,92.9 229.2,93.2 229,91.9 228.7,94.9 228.5,93.9 228.2,93.5 228,92.4 227.7,91.9 227.5,92.5 227.2,93.6 227,93.8 226.7,93.4 226.5,93 226.2,92.9 226,92.7 225.7,92.7 225.5,95.1 225.2,91.8 225,93.5 224.7,94.9 224.5,92.9 224.2,93.9 224,92.5 223.7,91.8 223.5,93.4 223.2,94.1 223,91.5 222.7,92.2 222.5,92.5 222.2,92.2 222,93.5 221.7,93.5 221.5,93.4 221.2,92.7 221,92.4 220.7,93.5 220.5,93.1 220.2,94 220,92.4 219.7,93.6 219.5,93.1 219.2,92.2 219,93.3 218.7,93.5 218.5,94.5 218.2,93.5 218,92 217.7,92.4 217.5,93.1 217.2,92.3 217,92.6 216.7,92 216.5,93.1 216.2,91.6 216,94.4 215.7,91.4 215.5,92.5 215.2,93.2 215,91.3 214.7,93 214.5,92.9 214.2,93.2 214,93.8 213.7,93.4 213.5,92.6 213.2,93.3 213,93.1 212.7,93.2 212.5,90.7 212.2,94.4 212,93.6 211.7,93.7 211.5,91.4 211.2,93.5 211,93.2 210.7,94.3 210.5,93.1 210.2,92.5 210,93.5 209.7,93.4 209.5,93.8 209.2,92.8 209,92.6 208.7,92.2 208.5,91.3 208.2,92.3 208,95.1 207.7,91.2 207.5,92.2 207.2,91.9 207,93.5 206.7,92.7 206.5,93 206.2,92.5 206,93.7 205.7,92.1 205.5,93.4 205.2,94.1 205,93.1 204.7,93.3 204.5,91.5 204.2,90.7 204,94.8 203.7,93.5 203.5,92.7 203.2,94.1 203,93 202.7,93.7 202.5,92.2 202.2,94.1 202,94.4 201.7,92.7 201.5,94.1 201.2,93 201,93.7 200.7,93.1 200.5,92.6 200.2,92.3 200,94.5 199.7,93.9 199.5,95 199.2,93.3 199,92.7 198.7,93.5 198.5,92.8 198.2,93.8 198,93 197.7,94.6 197.5,94.5 197.2,93.5 197,92 196.7,92.7 196.5,93.9 196.2,93.4 196,93.5 195.7,93.6 195.5,93.1 195.2,93.2 195,94.3 194.7,91.6 194.5,90.8 194.2,91.2 194,93 193.7,93.2 193.5,93.4 193.2,93.8 193,92.4 192.7,90.8 192.5,91.4 192.2,93.4 192,92.4 191.7,92.6 191.5,93.4 191.2,94.5 191,92.5 190.7,93.7 190.5,92.5 190.2,92.5 190,91.9 189.7,92.5 189.5,94 189.2,91.9 189,93.5 188.7,94.1 188.5,92.5 188.2,94.7 188,93.3 187.7,92.5 187.5,92.5 187.2,93.9 187,91.7 186.7,94 186.5,92.9 186.2,93.3 186,95 185.7,93.6 185.5,93 185.2,93.4 185,94.9 184.7,91.3 184.5,92.4 184.2,93 184,92.3 183.7,92.9 183.5,92.3 183.2,94.1 183,95.4 182.7,93.8 182.5,92.7 182.2,91.1 182,92.4 181.7,94.1 181.5,93 181.2,93.4 181,92.5 180.7,93.6 180.5,93.8 180.2,94.2 180,95.8 179.7,93.2 179.5,92.6 179.2,93.6 179,93.9 178.7,93.5 178.5,93.3 178.2,93.5 178,93.6 177.7,91.2 177.5,93.7 177.2,91.8 177,91.4 176.7,93.9 176.5,93.2 176.2,94.1 176,92.2 175.7,93.8 175.5,94.3 175.2,93.1 175,93.1 174.7,94.2 174.5,96.6 174.2,93.5 174,92.2 173.7,92.1 173.5,91.4 173.2,93.6 173,93.2 172.7,93.9 172.5,93.5 172.2,92.6 172,94 171.7,93.5 171.5,92.9 171.2,94.7 171,91.3 170.7,94.2 170.5,93.9 170.2,93.8 170,94.6 169.7,92.9 169.5,93.8 169.2,95.1 169,92 168.7,93.5 168.5,93.1 168.2,93.5 168,91.1 167.7,92.7 167.5,93.9 167.2,90.6 167,94.1 166.7,93.4 166.5,92.5 166.2,93.1 166,92.9 165.7,94.2 165.5,93.7 165.2,92.8 165,92.7 164.7,93.4 164.5,94.2 164.2,93.8 164,92.9 163.7,91.9 163.5,92.7 163.2,92 163,92.5 162.7,93.8 162.5,92.8 162.2,94.2 162,91.8 161.7,93.8 161.5,93.1 161.2,93.4 161,92.4 160.7,92.7 160.5,93.3 160.2,94.5 160,93.1 159.7,92.1 159.5,94.3 159.2,93.4 159,91.5 158.7,93 158.5,92.2 158.2,92.8 158,92.4 157.7,91.3 157.5,93.7 157.2,93.3 157,91.1 156.7,92.6 156.5,93.3 156.2,89 156,93.7 155.7,92.6 155.5,94.4 155.2,92.1 155,92.5 154.7,92.3 154.5,94 154.2,93.3 154,91.9 153.7,92.7 153.5,93.4 153.2,93 153,95.1 152.7,93.7 152.5,93.8 152.2,92.3 152,93.2 151.7,94 151.5,93.5 151.2,92.6 151,92.7 150.7,94.7 150.5,92.9 150.2,93.4 150,93.9 149.7,91.7 149.5,93.9 149.2,91.6 149,93.1 148.7,92.7 148.5,91.9 148.2,93.1 148,94.9 147.7,93.7 147.5,92.9 147.2,93.2 147,94.1 146.7,93.5 146.5,91.6 146.2,93 146,95.3 145.7,93.9 145.5,93.4 145.2,92.4 145,92.6 144.7,92.6 144.5,95.3 144.2,93 144,93.5 143.7,94.5 143.5,94.6 143.2,95 143,94.2 142.7,94 142.5,94.4 142.2,92.7 142,93.8 141.7,92.8 141.5,92.7 141.2,93.3 141,93.7 140.7,93.8 140.5,92.9 140.2,93.4 140,94.7 139.7,93.3 139.5,92 139.2,93.9 139,94 138.7,91.8 138.5,90.5 138.2,90.4 138,91.9 137.7,93.5 137.5,94.2 137.2,96.6 137,93 136.7,92.2 136.5,91.8 136.2,95.8 136,95.9 135.7,93.1 135.5,93.6 135.2,92.4 135,91.4 134.7,94.3 134.5,92.7 134.2,95 134,93.2 133.7,93.4 133.5,93.7 133.2,94.5 133,93.4 132.7,93.2 132.5,93 132.2,92.1 132,93.1 131.7,92.4 131.5,94.1 131.2,93.4 131,95.5 130.7,91.3 130.5,94.1 130.2,93.9 130,94.9 129.7,94.7 129.5,92.4 129.2,95.3 129,91.5 128.7,93.5 128.5,93.7 128.2,93.8 128,92.7 127.7,92.1 127.5,91.8 127.2,93.8 127,92.7 126.7,95.3 126.5,92.4 126.2,93.3 126,92.1 125.7,93.5 125.5,93.8 125.2,93.8 125,93.9 124.7,91.3 124.5,92.7 124.2,92.9 124,92.9 123.7,91.6 123.5,92.6 123.2,93 123,92.1 122.7,92.9 122.5,93 122.2,92.6 122,93.3 121.7,93 121.5,92.4 121.2,93.4 121,92.3 120.7,92.9 120.5,93.8 120.2,94.8 120,92.3 119.7,94.5 119.5,92.1 119.2,91.7 119,93.2 118.7,93.6 118.5,93.1 118.2,92.1 118,92.9 117.7,92.5 117.5,92.5 117.2,94.1 117,93.9 116.7,93.2 116.5,93"/>
<path d="M116.5,53 116.5,62.9 116.5,73.5 117,72 117,61.9 117.5,61.4 117.5,72 118,72.8 118,62.4 118.5,62.8 118.5,73.3 119,72.3 119,61.3 119.5,61.9 119.5,72.7 120,73.1 120,62.7 120.5,62 120.5,71.8 121,72.6 121,62 121.5,63.4 121.5,73.3 122,74.4 122,61.9 122.5,62.3 122.5,72 123,72.7 123,61.1 123.5,62.1 123.5,74.4 124,72.7 124,62.2 124.5,62.7 124.5,72.1 125,72.6 125,63 125.5,60.9 125.5,73.5 126,72.5 126,63.4 126.5,61.4 126.5,72.1 127,71.9 127,62.9 127.5,62.9 127.5,73.4 128,73.1 128,62.7 128.5,62.7 128.5,72.5 129,73 129,62.4 129.5,62.1 129.5,72.2 130,72 130,60.7 130.5,62.5 130.5,72.1 131,72.6 131,62.8 131.5,62.3 131.5,73.3 132,72.6 132,60 132.5,62.6 132.5,73.2 133,72.8 133,61.8 133.5,63 133.5,72.3 134,72.3 134,62 134.5,62.6 134.5,73 135,72.2 135,62.7 135.5,62.9 135.5,72.3 136,72.7 136,62.7 136.5,62.9 136.5,72.9 137,72.8 137,61 137.5,62.7 137.5,72.4 138,71.8 138,62.4 138.5,62.3 138.5,76 139,72 139,62 139.5,61.2 139.5,72.1 140,72.6 140,58.5 140.5,62.6 140.5,74.1 141,73.6 141,61.6 141.5,62.7 141.5,72.3 142,72.6 142,61.2 142.5,62.4 142.5,72.8 143,72.4 143,62.6 143.5,62.1 143.5,73 144,72.9 144,62.9 144.5,63.2 144.5,72.4 145,72.2 145,61.9 145.5,61 145.5,71.9 146,71.9 146,61.6 146.5,61.8 146.5,72.3 147,72 147,62 147.5,63.1 147.5,73.5 148,72 148,63.1 148.5,62.1 148.5,75 149,72.3 149,62.6 149.5,62.6 149.5,72.6 150,72.5 150,60.4 150.5,62.6 150.5,72.4 151,72.3 151,62.3 151.5,61.7 151.5,73.4 152,72.4 152,61.5 152.5,62.4 152.5,72.8 153,72.2 153,63.2 153.5,61.6 153.5,72.5 154,72.7 154,62.3 154.5,60.4 154.5,72.8 155,74.1 155,62 155.5,62.9 155.5,71.8 156,73.1 156,62.5 156.5,62 156.5,73.4 157,72.5 157,61.6 157.5,62.9 157.5,73.2 158,72 158,63 158.5,62.3 158.5,72.1 159,72.4 159,62.7 159.5,62.5 159.5,72.8 160,73.4 160,62.4 160.5,62.3 160.5,73.2 161,73.5 161,61.3 161.5,61 161.5,73.4 162,72.3 162,61.9 162.5,62.2 162.5,73.3 163,73.4 163,62.3 163.5,60.1 163.5,72.5 164,72.7 164,62.5 164.5,61.1 164.5,72.7 165,72.7 165,61.9 165.5,62.5 165.5,73.7 166,72.5 166,62.7 166.5,63 166.5,73.5 167,72.6 167,61.9 167.5,62.9 167.5,73.3 168,72.1 168,61.3 168.5,61.9 168.5,72.8 169,72.2 169,62.2 169.5,61.8 169.5,74.4 170,72 170,61.9 170.5,61.3 170.5,72.9 171,71.6 171,60.1 171.5,62.7 171.5,72.1 172,73.2 172,62 172.5,61.9 172.5,73.5 173,73.1 173,62 173.5,63.1 173.5,72.9 174,72.9 174,62.6 174.5,62.4 174.5,71.9 175,72.5 175,62.7 175.5,62.1 175.5,72.3 176,72.6 176,62 176.5,62 176.5,72.6 177,73.4 177,62.8 177.5,62.9 177.5,72.5 178,72.1 178,63.2 178.5,62.6 178.5,72.8 179,72.1 179,62.4 179.5,62.1 179.5,72.7 180,72.5 180,62.2 180.5,62.2 180.5,74.2 181,72.4 181,60.3 181.5,62 181.5,72.2 182,72.2 182,62.5 182.5,62.1 182.5,72.1 183,72.7 183,63 183.5,62.3 183.5,71.9 184,72.9 184,61.9 184.5,62.7 184.5,72.2 185,72.5 185,62.4 185.5,62.8 185.5,71.6 186,72.6 186,61.9 186.5,62.6 186.5,72.6 187,73 187,62 187.5,62.8 187.5,72.8 188,71.8 188,62.4 188.5,62.1 188.5,72.3 189,72.4 189,62.1 189.5,62.5 189.5,71.8 190,72.4 190,62.2 190.5,62 190.5,73.4 191,73.8 191,62.3 191.5,62.9 191.5,74.3 192,72 192,60 192.5,62.7 192.5,72.1 193,72 193,61.9 193.5,62.7 193.5,73.5 194,72.2 194,62.9 194.5,62.3 194.5,72.8 195,73.4 195,61.7 195.5,62.2 195.5,72.8 196,73.5 196,62.2 196.5,62.8 196.5,73 197,73.4 197,62.7 197.5,62 197.5,72.7 198,73 198,62.3 198.5,62.1 198.5,72.7 199,73.5 199,61.6 199.5,62.2 199.5,72.2 200,72.2 200,62.7 200.5,62.1 200.5,73.6 201,72.1 201,62.1 201.5,62.8 201.5,73.7 202,73.6 202,61.2 202.5,62 202.5,72.8 203,71.8 203,61.7 203.5,62.6 203.5,72.9 204,72.5 204,62.3 204.5,62.1 204.5,72.9 205,71.9 205,62.3 205.5,62 205.5,72.9 206,72.8 206,62.7 206.5,63.3 206.5,72.4 207,73 207,62.5 207.5,61.9 207.5,73 208,73.5 208,61.7 208.5,62.6 208.5,72.6 209,72.4 209,63.1 209.5,61.8 209.5,72.8 210,72 210,62.9 210.5,61.5 210.5,73.1 211,72.4 211,62.4 211.5,62.1 211.5,72.5 212,72.5 212,61.8 212.5,62 212.5,73.2 213,72.3 213,62.3 213.5,62.6 213.5,72.4 214,71.7 214,62.1 214.5,62.6 214.5,72.4 215,73 215,62.5 215.5,62.6 215.5,73.4 216,72.5 216,62.7 216.5,62.5 216.5,71.8 217,73.6 217,62.7 217.5,61.7 217.5,73 218,74.1 218,61.6 218.5,62.9 218.5,73.4 219,74 219,62.7 219.5,61.2 219.5,72.9 220,73.2 220,62 220.5,61.2 220.5,74.6 221,73.7 221,62.3 221.5,62.4 221.5,72.4 222,72.9 222,62.6 222.5,62.4 222.5,73.3 223,72.1 223,62.1 223.5,62.2 223.5,72.7 224,71.8 224,61.4 224.5,61.4 224.5,72.3 225,72.9 225,62.8 225.5,60 225.5,72.7 226,72.6 226,61.4 226.5,63 226.5,72.5 227,72.2 227,62.4 227.5,63.3 227.5,73.7 228,72 228,62.3 228.5,62.6 228.5,73.7 229,72.3 229,62.3 229.5,61.3 229.5,72.2 230,73.4 230,62.3 230.5,62.4 230.5,72 231,72.3 231,61.7 231.5,62.6 231.5,72.6 232,72.4 232,61.2 232.5,61.7 232.5,73.1 233,72.5 233,62.5 233.5,61.6 233.5,72.6 234,72.3 234,61.6 234.5,61.1 234.5,72.7 235,73.3 235,62.4 235.5,61.8 235.5,72.4 236,72.4 236,62 236.5,61.3 236.5,72.9 237,72.8 237,62.1 237.5,62 237.5,73.3 238,71.7 238,61.5 238.5,62.6 238.5,74.4 239,72.8 239,62.1 239.5,62 239.5,72.4 240,72.4 240,62.9 240.5,61.5 240.5,72.6 241,72.5 241,62.5 241.5,61.8 241.5,72.4 242,72.4 242,62.4 242.5,63 242.5,72.7 243,72.5 243,61.9 243.5,62.9 243.5,71.9 244,72 244,62 244.5,62.4 244.5,73.6 245,72.8 245,61.3 245.5,62.8 245.5,72.7 246,73.3 246,62.8 246.5,62.7 246.5,72.2 247,73.5 247,62.3 247.5,63.1 247.5,73.4 248,72.5 248,61.9 248.5,62.7 248.5,72.9 249,73.6 249,62.8 249.5,62.4 249.5,72.4 250,72.1 250,61.2 250.5,62.6 250.5,73.1 251,71.9 251,62.3 251.5,62.9 251.5,73.1 252,73.3 252,63.1 252.5,61.5 252.5,72.4 253,72.7 253,62.6 253.5,62.7 253.5,72.1 254,72.7 254,62.6 254.5,60.8 254.5,73.5 255,74.3 255,62.7 255.5,61.6 255.5,74.2 256,72.4 256,62.9 256.5,62.5 256.5,75.1 257,72.2 257,61.1 257.5,62.4 257.5,72.6 258,72.8 258,62.5 258.5,62.4 258.5,72.6 259,72.4 259,62.4 259.5,61.6 259.5,73.1 260,72 260,62.4 260.5,62.4 260.5,73.3 261,73.5 261,61.4 261.5,61.9 261.5,72.5 262,72.3 262,62.7 262.5,62.4 262.5,72.7 263,72.6 263,62.1 263.5,61.2 263.5,72.8 264,72.9 264,62.1 264.5,62.7 264.5,72.2 265,72 265,62 265.5,63.1 265.5,73.1 266,71.9 266,61.9 266.5,61.7 266.5,72.5 267,72.9 267,62.3 267.5,63.1 267.5,72.3 268,71.8 268,63.1 268.5,62.1 268.5,72.6 269,71.8 269,61.7 269.5,62.2 269.5,72 270,72.6 270,61.9 270.5,63.2 270.5,74.4 271,72.8 271,63.3 271.5,62.6 271.5,72.6 272,73.8 272,62.7 272.5,62.7 272.5,73.9 273,73.9 273,62.7 273.5,63.1 273.5,73.8 274,71.9 274,62.6 274.5,62.5 274.5,72 275,73.5 275,62 275.5,62.6 275.5,72.3 276,72.7 276,63 276.5,61.7 276.5,73.4 277,72.1 277,63.3 277.5,61.6 277.5,72.4 278,72.3 278,62.5 278.5,62.8 278.5,73.2 279,72.6 279,63.2 279.5,61.9 279.5,72.3 280,72.3 280,62.2 280.5,62 280.5,72.2 281,72.4 281,61.4 281.5,62.8 281.5,74.3 282,73.2 282,62.1 282.5,62.6 282.5,72.3 283,72.5 283,61.5 283.5,61.7 283.5,72.2 284,72.5 284,62.9 284.5,62.7 284.5,72.4 285,72 285,62.9 285.5,62.8 285.5,73.6 286,73.8 286,62.2 286.5,63.1 286.5,71.9 287,72.3 287,62.2 287.5,62 287.5,72.9 288,72.5 288,61.9 288.5,62.6 288.5,72.4 289,74.1 289,62.4 289.5,62.1 289.5,72.1 290,73.7 290,62.1 290.5,62 290.5,72 291,73.6 291,61.6 291.5,62.9 291.5,73.1 292,72.8 292,62.4 292.5,63.1 292.5,72.3 293,72.5 293,62.2 293.5,60.9 293.5,72.1 294,73 294,62.4 294.5,62.8 294.5,73.6 295,72.2 295,61.8 295.5,62.8 295.5,71.9 296,72.2 296,62.4 296.5,62 296.5,73.2 297,72.7 297,63 297.5,62.1 297.5,74 298,72 298,61.9 298.5,62.8 298.5,72.9 299,72.9 299,62.9 299.5,62.2 299.5,72.5 300,73.3 300,62.7 300.5,62.3 300.5,72.3 301,73.6 301,63.1 301.5,62.3 301.5,73.6 302,73.1 302,62.2 302.5,61.6 302.5,73.8 303,72.5 303,62.8 303.5,62.8 303.5,72.5 304,73.4 304,62.1 304.5,63 304.5,73.4 305,72.5 305,61.9 305.5,62 305.5,72.3 306,72.7 306,62.9 306.5,61.8 306.5,72.4 307,72.8 307,62.6 307.5,62.6 307.5,72.2 308,72.6 308,62 308.5,61.5 308.5,72.7 309,72.3 309,63 309.5,62.6 309.5,73.1 310,72.2 310,62.7 310.5,62.1 310.5,72.7 311,72.9 311,61.4 311.5,61.9 311.5,72.8 312,72.5 312,61.9 312.5,61.1 312.5,72.4 313,73.1 313,62.6 313.5,62.1 313.5,72.6 314,72.5 314,62.5 314.5,61.8 314.5,72.6 315,73.4 315,62.2 315.5,61.1 315.5,73.3 316,72.3 316,63 316.5,62.5 316.5,73.3 317,73.2 317,62.2 317.5,62.5 317.5,72.7 318,72.2 318,62.7 318.5,62.8 318.5,73 319,72.5 319,62.7 319.5,62.3 319.5,73.4 320,73.8 320,62.4 320.5,62.4 320.5,72 321,72.4 321,62.1 321.5,62.4 321.5,72.3 322,72.5 322,62.3 322.5,62.6 322.5,73 323,72.8 323,62.9 323.5,62.9 323.5,72.7 324,75.1 324,62.6 324.5,62.6 324.5,72.5 325,73.1 325,62.3 325.5,62.7 325.5,72.6 326,71.8 326,63.1 326.5,61.5 326.5,72.3 327,72.2 327,62.2 327.5,63.1 327.5,72.7 328,72.8 328,60.4 328.5,62.4 328.5,71.9 329,71.6 329,62.7 329.5,62.8 329.5,73.2 330,72.6 330,62.5 330.5,61.6 330.5,72 331,72.3 331,61.4 331.5,62.4 331.5,72.4 332,72.4 332,62.6 332.5,61.3 332.5,72.8 333,72.4 333,61.8 333.5,61.8 333.5,74.1 334,73.8 334,62.4 334.5,62.7 334.5,74.6 335,73.7 335,62.4 335.5,61.9 335.5,72.3 336,72.2 336,63.1 336.5,61.9 336.5,73.2 337,72.3 337,62 337.5,63 337.5,73.4 338,73.1 338,63.1 338.5,62.2 338.5,72.2 339,72.1 339,62.1 339.5,62.1 339.5,73.1 340,74.1 340,60 340.5,61.1 340.5,72.1 341,71.9 341,61.4 341.5,62.4 341.5,72.7 342,74.3 342,61.7 342.5,60.1 342.5,72.8 343,73.8 343,62.6 343.5,62.1 343.5,73.3 344,72.1 344,62.4 344.5,62.8 344.5,73.2 345,72.1 345,62.5 345.5,61.9 345.5,75.7 346,71.8 346,62.7 346.5,62 346.5,73 347,73.6 347,62.8 347.5,62.1 347.5,73.6 348,72.9 348,62.1 348.5,62.3 348.5,72.5 349,73.2 349,61.9 349.5,63 349.5,73.4 350,73 350,62.9 350.5,62 350.5,73.3 351,72.3 351,62.4 351.5,62.4 351.5,74.4 352,72 352,62.2 352.5,62.5 352.5,72.1 353,72.4 353,62.3 353.5,61.8 353.5,71.7 354,72.4 354,62.5 354.5,62.7 354.5,72.4 355,73.3 355,62.7 355.5,62.3 355.5,72 356,73.1 356,61.9 356.5,61.2 356.5,72.8 357,72.1 357,62.9 357.5,62.1 357.5,72.2 358,72.6 358,62.5 358.5,61.5 358.5,73.3 359,72.1 359,61.3 359.5,62.8 359.5,73.8 360,72.1 360,62.9 360.5,62.5 360.5,72.3 361,72.2 361,62.5 361.5,63.3 361.5,73.3 362,72 362,61.3 362.5,61.8 362.5,72.8 363,72 363,62.2 363.5,63 363.5,72.4 364,71.8 364,61.5 364.5,62.5 364.5,72 365,74.8 365,60.8 365.5,60.7 365.5,72.6 366,72.5 366,62.3 366.5,62.7 366.5,71.7 367,72 367,62.1 367.5,61.6 367.5,72.5 368,72 368,62 368.5,62.7 368.5,71.9 369,72.2 369,63 369.5,62.9 369.5,73.4 370,74.9 370,62.3 370.5,62.5 370.5,72.8 371,72.7 371,61.6 371.5,62.1 371.5,72.5 372,72.9 372,62.8 372.5,63.1 372.5,73 373,72.7 373,62.5 373.5,62.4 373.5,74.7 374,72.7 374,63.2 374.5,62.1 374.5,72.7 375,74 375,62 375.5,60.3 375.5,73.6 376,74 376,62.4 376.5,61.4 376.5,73.6 377,73 377,62 377.5,62.5 377.5,72.5 378,72.3 378,62 378.5,62.6 378.5,72.4 379,72.6 379,62.2 379.5,62.4 379.5,72.7 380,72.1 380,62.4 380.5,61.5 380.5,72.1 381,74.5 381,62.9 381.5,61.6 381.5,72.6 382,72.8 382,62.7 382.5,62.1 382.5,71.8 383,72.4 383,61.6 383.5,62 383.5,72.6 384,73.3 384,60.3 384.5,62.4 384.5,71.8 385,73.3 385,62.9 385.5,62.5 385.5,72.5 386,73.6 386,62 386.5,62.8 386.5,73.4 387,73.2 387,62 387.5,61.2 387.5,71.9 388,72.4 388,62.4 388.5,62.9 388.5,72.4 389,74.2 389,62 389.5,63.2 389.5,72.3 390,72.5 390,62 390.5,62.7 390.5,72.3 391,72.4 391,62.2 391.5,61.6 391.5,72.6 392,74 392,63.2 392.5,62.7 392.5,72.7 393,72.7 393,62.2 393.5,62.1 393.5,72.2 394,72.9 394,62 394.5,62.7 394.5,72.2 395,72.3 395,62.5 395.5,62.9 395.5,73.5 396,73.5 396,62.1 396.5,62 396.5,72.4 397,72.7 397,62 397.5,62.6 397.5,72.3 398,73.2 398,62.4 398.5,61.9 398.5,72.3 399,73.2 399,62.3 399.5,61.7 399.5,73.2 400,72.1 400,63.1 400.5,62.3 400.5,72.1 401,72.5 401,62.2 401.5,61.9 401.5,71.7 402,71.8 402,62.9 402.5,63.1 402.5,72.4 403,72.3 403,61.3 403.5,61.3 403.5,72.3 404,72.4 404,62.5 404.5,62.5 404.5,73.9 405,72.1 405,62.8 405.5,62.2 405.5,72.3 406,73 406,61.9 406.5,62.3 406.5,72.1 407,72.4 407,62.9 407.5,62.3 407.5,74.1 408,73.3 408,62.2 408.5,62.2 408.5,72.4 409,72.9 409,62.3 409.5,62.8 409.5,73.4 410,73.9 410,62.5 410.5,61.8 410.5,72.5 411,72.2 411,62 411.5,61.4 411.5,71.8 412,73.4 412,62 412.5,63.1 412.5,73 413,72.9 413,62.1 413.5,62.3 413.5,72.6 414,73.6 414,61.9 414.5,62.3 414.5,71.9 415,74 415,62.7 415.5,63.3 415.5,72.6 416,71.7 416,62.4 416.5,63 416.5,72.5 417,72.6 417,61.8 417.5,62.8 417.5,72.7 418,72.3 418,60.4 418.5,62 418.5,72.5 419,72.3 419,62.2 419.5,62.3 419.5,72.3 420,72.3 420,62.6 420.5,63 420.5,72.5 421,71.8 421,62.8 421.5,62.6 421.5,73.1 422,72.7 422,61.9 422.5,61.7 422.5,73.3 423,72.4 423,62.1 423.5,61.9 423.5,71.4 424,72.3 424,62.2 424.5,62.6 424.5,73.1 425,72 425,61.9 425.5,61.6 425.5,74.1 426,72.3 426,63 426.5,60.5 426.5,72.6 427,73.7 427,62.4 427.5,62.6 427.5,73.8 428,73.3 428,62.8 428.5,61.9 428.5,72.1 429,73.8 429,62.2 429.5,62.8 429.5,72.8 430,72.6 430,62.1 430.5,62.5 430.5,73 431,74.8 431,62.3 431.5,61.8 431.5,73.8 432,72.3 432,62.3 432.5,62.7 432.5,74.3 433,71.9 433,62.2 433.5,62.6 433.5,72.2 434,73.3 434,61.5 434.5,61.8 434.5,73.3 435,72.6 435,62.8 435.5,62.9 435.5,73.4 436,72.5 436,61.4 436.5,62.6 436.5,73.4 437,71.8 437,62.6 437.5,62.1 437.5,72.2 438,73.5 438,62.4 438.5,60.3 438.5,73.2 439,72.6 439,62.1 439.5,63 439.5,73.1 440,72.7 440,62.6 440.5,62.6 440.5,72 441,72.2 441,62.5 441.5,62.2 441.5,73.2 442,73 442,63.3 442.5,62.3 442.5,72.1 443,72.6 443,62.2 443.5,62 443.5,72.6 444,72.5 444,62.6 444.5,62 444.5,72.3 445,74 445,62.3 445.5,61.8 445.5,73.1 446,73.4 446,62.2 446.5,60.6 446.5,72.4 447,72.5 447,63.1 447.5,62 447.5,74.3 448,73.2 448,63.1 448.5,61.9 448.5,73.7 449,71.8 449,62.4 449.5,62.9 449.5,73.5 450,73.1 450,62.1 450.5,62.3 450.5,72.2 451,71.9 451,62.3 451.5,63 451.5,73.2 452,72.3 452,62.2 452.5,62.8 452.5,72.9 453,73.7 453,62.8 453.5,63 453.5,73.4 454,72.9 454,62.6 454.5,61.8 454.5,74.3" fill="none" stroke="#1f77b4" stroke-width="4.4" stroke-linejoin="round" stroke-linecap="butt"/>
<path d="M116.5,36V42" stroke="#8fbbd9" stroke-width="0.5" opacity="0.5"/>
<polygon fill="#8fbbd9" points="570.5,53.8 570.8,53.6 571,53.3 571.2,53 571.5,53.3 571.8,52.2 572,53.9 572.2,53.8 572.5,54.2 572.8,53.6 573,54.8 573.2,54.5 573.5,53.1 573.8,53.2 574,54.3 574.2,53.6 574.5,54.3 574.8,54.5 575,54.5 575.2,55.5 575.5,55.2 575.8,55.3 576,55.2 576.2,56.7 576.5,56 576.8,55.1 577,55.9 577.2,55.4 577.5,55.8 577.8,55.9 578,55.4 578.2,55.3 578.5,55.3 578.8,56.8 579,55.2 579.2,57 579.5,55.7 579.8,56.5 580,56.8 580.2,57.5 580.5,57.3 580.8,56.8 581,57.2 581.2,58.5 581.5,58.3 581.8,58 582,57.9 582.2,58 582.5,59 582.8,57.9 583,58.2 583.2,58.7 583.5,59.3 583.8,58 584,59.4 584.2,59.6 584.5,59.3 584.8,58.3 585,59 585.2,59.4 585.5,59.7 585.8,59 586,59.5 586.2,59.9 586.5,59.1 586.8,59.2 587,59 587.2,58.4 587.5,58.7 587.8,58.6 588,58.8 588.2,57.8 588.5,57.4 588.8,57.6 589,57.1 589.2,57.6 589.5,56.7 589.8,56.1 590,57 590.2,56.5 590.5,56.5 590.8,56.5 591,56.8 591.2,55.8 591.5,56.8 591.8,56.6 592,56.8 592.2,57 592.5,57.1 592.8,57.9 593,58.1 593.2,58.9 593.5,59.8 593.8,58.6 594,60.8 594.2,60.7 594.5,59.6 594.8,60.7 595,61.2 595.2,62.4 595.5,61.4 595.8,63.7 596,61.9 596.2,63.2 596.5,63.5 596.8,63.6 597,64.1 597.2,65 597.5,65.8 597.8,66 598,66.3 598.2,65.4 598.5,66.9 598.8,70 599,70.4 599.2,70.5 599.5,69.7 599.8,70.9 600,70.5 600.2,71.1 600.5,72.2 600.8,73.4 601,72.6 601.2,72.8 601.5,74 601.8,73.2 602,75.9 602.2,76.6 602.5,77.2 602.8,77.4 603,76.2 603.2,77.4 603.5,77.2 603.8,79 604,81.4 604.2,78.7 604.5,81.8 604.8,82.1 605,80.1 605.2,84 605.5,81.5 605.8,82.5 606,83.6 606.2,85.2 606.5,84.7 606.8,83.8 607,83.7 607.2,82.1 607.5,84.4 607.8,86.9 608,84.6 608.2,86.5 608.5,86.8 608.8,86.5 609,85.8 609.2,86.1 609.5,86.9 609.8,85.1 610,89.2 610.2,86.4 610.5,87 610.8,85.8 611,88.1 611.2,89.2 611.5,90.6 611.8,89.6 612,91.6 612.2,89.3 612.5,90.9 612.8,91.3 613,92.2 613.2,91.8 613.5,89.6 613.8,93.1 614,92.6 614.2,92 614.5,91.5 614.8,93.4 615,90.8 615.2,93.7 615.5,94.1 615.8,96.6 616,92.8 616.2,95.3 616.5,96.9 616.8,91.2 617,91.8 617.2,93.1 617.5,95.9 617.8,96.9 618,94 618.2,95.2 618.5,95.4 618.8,91 619,96.8 619.2,97.4 619.5,91.8 619.8,94 620,95.5 620.2,94.9 620.5,97.7 620.8,98.1 621,95.4 621.2,97.6 621.5,95.5 621.8,96.2 622,97.3 622.2,100.4 622.5,95.5 622.8,100.7 623,97.9 623.2,97.7 623.5,99.2 623.8,96.9 624,98.8 624.2,92.7 624.5,95.4 624.8,97.9 625,97.8 625.2,98.2 625.5,97.7 625.8,100.8 626,102.2 626.2,98.3 626.5,101.2 626.8,100.1 627,97.2 627.2,97 627.5,99.7 627.8,101.8 628,97.3 628.2,95.8 628.5,102 628.8,102.3 629,99.7 629.2,102.4 629.5,104.3 629.8,98.7 630,99.7 630.2,99.8 630.5,102.8 630.8,99 631,100.2 631.2,103.5 631.5,103 631.8,103.2 632,99.3 632.2,102.2 632.5,100.2 632.8,103.9 633,102.5 633.2,103 633.5,101.4 633.8,102.1 634,102.6 634.2,101.5 634.5,103.4 634.8,100.2 635,99.9 635.2,98.9 635.5,102.1 635.8,104.2 636,103.4 636.2,98.7 636.5,103.5 636.8,102.9 637,102.6 637.2,103.4 637.5,104.2 637.8,109.6 638,105.6 638.2,107 638.5,109 638.8,102.1 639,105.9 639.2,98.9 639.5,105 639.8,101.4 640,102.3 640.2,105.9 640.5,102.3 640.8,105.6 641,106.1 641.2,103.3 641.5,105.1 641.8,104.8 642,104 642.2,102.4 642.5,105.4 642.8,103.1 643,104.4 643.2,105.2 643.5,103.7 643.8,104.4 644,104.7 644.2,104.5 644.5,104.2 644.8,107.4 645,103.1 645.2,103.2 645.5,101.6 645.8,99.5 646,105.5 646.2,105.1 646.5,107 646.8,101.4 647,102.8 647.2,103.2 647.5,108.2 647.8,106.2 648,104 648.2,104.4 648.5,105.1 648.8,102.3 649,105.2 649.2,102.4 649.5,104.8 649.8,107.7 650,105.2 650.2,103.3 650.5,104.1 650.8,106.3 651,103.7 651.2,102.1 651.5,104.2 651.8,102.4 652,104.4 652.2,104.9 652.5,104.2 652.8,104.2 653,106.7 653.2,106.1 653.5,106.9 653.8,105.2 654,104.3 654.2,105.7 654.5,102.3 654.8,102.9 655,106.8 655.2,104.2 655.5,103.9 655.8,101.5 656,106.1 656.2,102.1 656.5,107.7 656.8,105.7 657,101.9 657.2,104.3 657.5,103.4 657.8,106.4 658,106.4 658.2,104.4 658.5,104.1 658.8,106.2 659,104 659.2,108 659.5,104.1 659.8,106.1 660,101.6 660.2,106.2 660.5,104.2 660.8,106 661,107.6 661.2,105.1 661.5,100.6 661.8,101.5 662,106.5 662.2,103.7 662.5,103.2 662.8,107.5 663,105 663.2,107.3 663.5,107.3 663.8,104.7 664,105.8 664.2,103.2 664.5,106.3 664.8,105.5 665,108.6 665.2,107.2 665.5,105.2 665.8,104.1 666,105.1 666.2,105.6 666.5,107 666.8,107.6 667,103.2 667.2,103.5 667.5,106.2 667.8,103.2 668,104.8 668.2,102.1 668.5,103.1 668.8,104.7 669,105 669.2,104.4 669.5,106.6 669.8,107.4 670,107.1 670.2,105.1 670.5,105.1 670.8,104.4 671,102.9 671.2,105.4 671.5,105.4 671.8,104 672,106.2 672.2,107.5 672.5,104.5 672.8,105.3 673,106.9 673.2,106.2 673.5,104.2 673.8,103.5 674,107.1 674.2,103.8 674.5,106.6 674.8,102.7 675,109.3 675.2,103.8 675.5,109.4 675.8,107.4 676,109.2 676.2,108.3 676.5,107 676.8,105.4 677,110.7 677.2,105.2 677.5,107 677.8,103.4 678,106 678.2,107.1 678.5,104.6 678.8,106.3 679,105.4 679.2,105.3 679.5,107.2 679.8,107.7 680,104.6 680.2,102.7 680.5,106.9 680.8,103.9 681,105.1 681.2,104.4 681.5,108 681.8,110.3 682,104.9 682.2,110.3 682.5,108.7 682.8,105.4 683,108.2 683.2,109.8 683.5,105.6 683.8,105.4 684,110.7 684.2,107.8 684.5,100.6 684.8,105.7 685,104.5 685.2,104.9 685.5,106.3 685.8,105.1 686,105.3 686.2,110.1 686.5,102.9 686.8,106.4 687,108.5 687.2,103.3 687.5,103.9 687.8,103.9 688,107.7 688.2,100.4 688.5,107.1 688.8,103.8 689,103.6 689.2,107 689.5,107.7 689.8,103.5 690,104.1 690.2,106.6 690.5,104.2 690.8,100.5 691,104 691.2,106.7 691.5,101 691.8,109.5 692,109.2 692.2,108.5 692.5,105.7 692.8,104.8 693,107.1 693.2,103.9 693.5,110.3 693.8,104.2 694,108.4 694.2,107.7 694.5,105.2 694.8,100.8 695,104.5 695.2,106.3 695.5,107.3 695.8,105.9 696,105.3 696.2,106.2 696.5,108.5 696.8,108.5 697,108.1 697.2,104.9 697.5,105.2 697.8,107.1 698,105.4 698.2,104.8 698.5,108.8 698.8,106.4 699,106.6 699.2,105 699.5,106.7 699.8,108.8 700,106.7 700.2,103.3 700.5,105.2 700.8,107.2 701,106.6 701.2,109.4 701.5,105.6 701.8,106 702,107.9 702.2,103.8 702.5,107.8 702.8,102.7 703,104.3 703.2,108 703.5,107.7 703.8,107.6 704,107.9 704.2,108 704.5,100.8 704.8,109.3 705,107.9 705.2,103.8 705.5,103.6 705.8,106.9 706,104.8 706.2,108.6 706.5,105.6 706.8,103.2 707,104.5 707.2,105.4 707.5,104.1 707.8,108 708,104.9 708.2,107.1 708.5,105.7 708.8,105.9 709,101.6 709.2,105.2 709.5,103.3 709.8,107.5 710,108.3 710.2,107 710.5,110.2 710.8,106.7 711,107.8 711.2,105.5 711.5,106.9 711.8,103.7 712,103.2 712.2,108.2 712.5,106.2 712.8,105.5 713,106 713.2,107.2 713.5,108.9 713.8,103.3 714,106.2 714.2,105.9 714.5,104.8 714.8,106.2 715,107.2 715.2,108.5 715.5,102.8 715.8,103.9 716,106.4 716.2,103.4 716.5,107.6 716.8,104.5 717,106 717.2,103.9 717.5,104.4 717.8,112 718,105.6 718.2,109.1 718.5,106.1 718.8,107.5 719,104.6 719.2,107.2 719.5,105.2 719.8,100.5 720,101 720.2,106 720.5,107.5 720.8,104.7 721,103.8 721.2,105.1 721.5,109.5 721.8,102.6 722,107.5 722.2,108.5 722.5,103.5 722.8,104.4 723,105.4 723.2,104.9 723.5,108.1 723.8,106.4 724,105.2 724.2,106.9 724.5,108.6 724.8,105.5 725,104.5 725.2,108.1 725.5,109.7 725.8,109.3 726,107.9 726.2,106 726.5,107.9 726.8,107.7 727,109.1 727.2,106.3 727.5,108.4 727.8,108.1 728,103.9 728.2,107.8 728.5,104.4 728.8,106.6 729,105.2 729.2,107.4 729.5,105.4 729.8,105.7 730,104.5 730.2,105.3 730.5,103.6 730.8,107.5 731,105.3 731.2,107.1 731.5,106.4 731.8,107.3 732,107.6 732.2,103.9 732.5,106.2 732.8,106.8 733,105.1 733.2,105.2 733.5,107.2 733.8,109 734,107.6 734.2,107.9 734.5,107.1 734.8,111.6 735,107.4 735.2,108.3 735.5,113.5 735.8,107.2 736,105.9 736.2,103.4 736.5,103.3 736.8,110.7 737,106.6 737.2,104.7 737.5,105.5 737.8,104.3 738,106.5 738.2,105.2 738.5,107.7 738.8,109.5 739,107.5 739.2,106.6 739.5,106.6 739.8,109.7 740,103.9 740.2,103 740.5,104.7 740.8,104.2 741,107.5 741.2,105.8 741.5,104.6 741.8,108.1 742,106.4 742.2,107.3 742.5,106.4 742.8,105.5 743,104.4 743.2,107.5 743.5,104.7 743.8,108.7 744,107 744.2,106.5 744.5,104.7 744.8,109.8 745,106 745.2,107.6 745.5,105.3 745.8,108.9 746,107.4 746.2,108.6 746.5,108.2 746.8,106.3 747,104.8 747.2,106.7 747.5,105.3 747.8,105.9 748,110 748.2,108.5 748.5,108.7 748.8,108 749,108.4 749.2,107.1 749.5,105 749.8,106.9 750,107.7 750.2,110.8 750.5,104.5 750.8,106.8 751,105.7 751.2,111.4 751.5,105.7 751.8,109.2 752,108 752.2,107.7 752.5,108.9 752.8,107.6 753,106.2 753.2,110.5 753.5,104.5 753.8,103.1 754,105.3 754.2,108.2 754.5,105.5 754.8,107.6 755,108.6 755.2,108.2 755.5,107.7 755.8,109 756,106.9 756.2,108.9 756.5,107.2 756.8,109.8 757,109.8 757.2,107 757.5,109.2 757.8,108.7 758,108.6 758.2,107.6 758.5,104.7 758.8,105.6 759,108.7 759.2,109.5 759.5,102.7 759.8,105.2 760,102.9 760.2,104.3 760.5,108.1 760.8,105.7 761,107.9 761.2,109.7 761.5,103.5 761.8,107.6 762,107.6 762.2,107.8 762.5,109 762.8,109.3 763,108.1 763.2,105.1 763.5,109.3 763.8,111.2 764,104.9 764.2,106.8 764.5,107.7 764.8,106.3 765,107.5 765.2,107.6 765.5,109.2 765.8,106.4 766,106.8 766.2,110.9 766.5,109.2 766.8,106.1 767,104.7 767.2,106.9 767.5,108.1 767.8,105.1 768,104.3 768.2,104.5 768.5,105.4 768.8,107 769,107.5 769.2,109.2 769.5,105.5 769.8,105 770,103.4 770.2,104.8 770.5,106.4 770.8,106.2 771,106.4 771.2,107.2 771.5,106.1 771.8,104 772,107.2 772.2,107.5 772.5,105.2 772.8,113.3 773,101.8 773.2,103.8 773.5,105.2 773.8,105.6 774,104.9 774.2,107.2 774.5,109 774.8,107.8 775,107.2 775.2,109.9 775.5,103.8 775.8,106.4 776,106.9 776.2,106.1 776.5,106.5 776.8,106.3 777,105.5 777.2,104.4 777.5,104.6 777.8,106.1 778,107.5 778.2,107.8 778.5,108.2 778.8,101.4 779,104.9 779.2,104.4 779.5,106.7 779.8,106.7 780,105.7 780.2,108.7 780.5,105.7 780.8,106.9 781,107.7 781.2,108.1 781.5,106 781.8,109.4 782,108.1 782.2,108.6 782.5,107.1 782.8,107.1 783,105.1 783.2,102.8 783.5,104.4 783.8,103.6 784,106.6 784.2,103.6 784.5,104.2 784.8,104.8 785,106.7 785.2,105 785.5,109.4 785.8,108.5 786,109.8 786.2,106.9 786.5,103.1 786.8,108.6 787,110.6 787.2,105.9 787.5,109.5 787.8,106.2 788,106.9 788.2,106.5 788.5,105.5 788.8,105.8 789,103.2 789.2,107 789.5,107 789.8,110.8 790,106.6 790.2,107.5 790.5,111.2 790.8,108.7 791,105.6 791.2,107.2 791.5,106.8 791.8,109.3 792,105.7 792.2,108.8 792.5,107.5 792.8,101.4 793,107.6 793.2,105.2 793.5,104.9 793.8,106.7 794,107.3 794.2,111.6 794.5,106.8 794.8,104.1 795,106.5 795.2,107.6 795.5,104.9 795.8,106.2 796,103.5 796.2,104.2 796.5,105.9 796.8,108.2 797,104.9 797.2,105 797.5,106.5 797.8,104.7 798,105.6 798.2,104.9 798.5,110.1 798.8,105.8 799,109.5 799.2,107 799.5,110.2 799.8,104.2 800,107.1 800.2,101.9 800.5,109.3 800.8,107.9 801,106 801.2,110.8 801.5,112.4 801.8,109.7 802,109.9 802.2,106.8 802.5,105.1 802.8,103.7 803,108.8 803.2,103 803.5,106.3 803.8,110.2 804,107.6 804.2,104.2 804.5,105 804.8,109.3 805,104.6 805.2,105.8 805.5,103.9 805.8,106.6 806,104.2 806.2,109.2 806.5,104.8 806.8,105.2 807,102 807.2,109.4 807.5,109.2 807.8,105.6 808,107 808.2,109.1 808.5,109.2 808.8,102.1 809,104.9 809.2,112.1 809.5,109.1 809.8,107.9 810,107.5 810.2,108.4 810.5,108.5 810.8,110.4 811,104.6 811.2,106.8 811.5,107.6 811.8,107.4 812,104.7 812.2,106.3 812.5,104.8 812.8,105.9 813,107.2 813.2,107.9 813.5,108 813.8,108.8 814,107.7 814.2,104.3 814.5,106.9 814.8,105.9 815,103.4 815.2,105.3 815.5,107.6 815.8,108.8 816,106.6 816.2,104 816.5,106.7 816.8,105.3 817,110.4 817.2,104.3 817.5,108.5 817.8,106.3 818,107.6 818.2,105.4 818.5,107.8 818.8,107 819,106.4 819.2,104 819.5,105.7 819.8,103 820,107.8 820.2,102.3 820.5,109.8 820.8,103.7 821,110 821.2,107.7 821.5,102.6 821.8,107.8 822,104.2 822.2,104 822.5,109.2 822.8,102.8 823,106.8 823.2,109.5 823.5,107 823.8,109.5 824,105.8 824.2,105.5 824.5,109.2 824.8,108.6 825,106.6 825.2,110.7 825.5,104.5 825.8,108.9 826,106 826.2,107.3 826.5,107 826.8,107.2 827,107.9 827.2,109.7 827.5,109.7 827.8,107 828,107 828.2,104.9 828.5,110.2 828.8,108.7 829,105.6 829.2,107.2 829.5,109.9 829.8,105.5 830,107.4 830.2,107.3 830.5,106.3 830.8,109 831,102.9 831.2,108.9 831.5,106 831.8,107.1 832,102.1 832.2,112.6 832.5,108 832.8,103 833,105.6 833.2,106.2 833.5,104.9 833.8,101.2 834,104.2 834.2,105.1 834.5,107.2 834.8,107.3 835,109.4 835.2,106.5 835.5,99.5 835.8,104.8 836,109 836.2,104.4 836.5,107.2 836.8,107.5 837,104.8 837.2,102.6 837.5,104.8 837.8,109.7 838,108.1 838.2,106.9 838.5,108.2 838.8,108.2 839,105.1 839.2,104.2 839.5,103.9 839.8,104.3 840,108.5 840.2,109 840.5,109.9 840.8,104.1 841,109.1 841.2,109.3 841.5,110.4 841.8,106.2 842,106.1 842.2,106.1 842.5,107.7 842.8,108.5 843,108.8 843.2,105.6 843.5,110.3 843.8,104.8 844,108.1 844.2,109.6 844.5,109.1 844.8,107.7 845,106.1 845.2,106.7 845.5,105.4 845.8,105.5 846,104.9 846.2,109.1 846.5,104.5 846.8,105.5 847,109.6 847.2,109.2 847.5,110.4 847.8,110 848,107.8 848.2,109.1 848.5,104.7 848.8,107.4 849,110.5 849.2,107.9 849.5,107.5 849.8,112.4 850,108.6 850.2,104.1 850.5,109.3 850.8,101.9 851,108 851.2,107.8 851.5,106.1 851.8,105.4 852,106.1 852.2,112.5 852.5,104.8 852.8,105.4 853,106.6 853.2,106.2 853.5,111.7 853.8,107.7 854,106.7 854.2,108.5 854.5,107.7 854.8,106.7 855,106.4 855.2,106.7 855.5,106.7 855.8,106.2 856,107.1 856.2,109.6 856.5,104.5 856.8,108.4 857,108.5 857.2,106.9 857.5,107 857.8,109.3 858,106.2 858.2,108.3 858.5,109.3 858.8,107.4 859,107.5 859.2,109.9 859.5,110 859.8,104 860,109.1 860.2,105.7 860.5,103.4 860.8,107.4 861,107.4 861.2,102.9 861.5,111.6 861.8,106.1 862,108.4 862.2,107.8 862.5,108.3 862.8,107.2 863,107.7 863.2,107.2 863.5,106.4 863.8,109.3 864,107.4 864.2,107.8 864.5,105.9 864.8,105.2 865,107.4 865.2,104.2 865.5,109.9 865.8,106.3 866,106.4 866.2,106.1 866.5,107.3 866.8,108.1 867,111.2 867.2,105.7 867.5,104.8 867.8,106.8 868,106.8 868.2,105.6 868.5,109.5 868.8,105 869,104.6 869.2,108.9 869.5,106.3 869.8,106.7 870,105.3 870.2,104.4 870.5,105.6 870.8,103.6 871,108.5 871.2,107.6 871.5,110.8 871.8,106.9 872,105.9 872.2,109 872.5,106 872.8,109.9 873,106 873.2,103.4 873.5,106.3 873.8,106.4 874,108 874.2,106.1 874.5,107.5 874.8,107.5 875,105.3 875.2,104.8 875.5,105.5 875.8,103.8 876,107.2 876.2,108.3 876.5,106.4 876.8,104.9 877,104.7 877.2,108.2 877.5,109.1 877.8,102.7 878,111 878.2,110 878.5,105.9 878.8,107 879,107.3 879.2,108.1 879.5,106.3 879.8,107.8 880,108.2 880.2,111.8 880.5,106.3 880.8,105.7 881,109 881.2,106.9 881.5,107.3 881.8,107.2 882,106.3 882.2,106.1 882.5,106.1 882.8,105.5 883,103.1 883.2,110.6 883.5,106.9 883.8,105.5 884,105 884.2,109.3 884.5,105.8 884.8,107.3 885,103.6 885.2,102.9 885.5,107.5 885.8,103.7 886,108.2 886.2,108.7 886.5,105.4 886.8,106 887,106.1 887.2,105.6 887.5,105.4 887.8,105.9 888,106.5 888.2,107.1 888.5,107.9 888.8,107.9 889,107.1 889.2,105.5 889.5,107.9 889.8,108.5 890,107.2 890.2,106.2 890.5,111.1 890.8,102.7 891,108.2 891.2,109.8 891.5,109.9 891.8,110.6 892,108.2 892.2,106.1 892.5,108.1 892.8,104.8 893,109.4 893.2,105.5 893.5,107.9 893.8,103.6 894,106.4 894.2,107.4 894.5,106.6 894.8,106.4 895,105.6 895.2,106.5 895.5,109.8 895.8,105.9 896,104.5 896.2,105 896.5,105.7 896.8,109.2 897,106.5 897.2,108.5 897.5,109.7 897.8,105.3 898,107.4 898.2,105.8 898.5,108.8 898.8,108.6 899,107.7 899.2,104.9 899.5,106.1 899.8,106.8 900,106.9 900.2,105.8 900.5,107.5 900.8,108.1 901,107.6 901.2,105.5 901.5,106.3 901.8,103.4 902,104.3 902.2,108.2 902.5,106.6 902.8,106.7 903,109 903.2,105.9 903.5,107 903.8,104.2 904,109.9 904.2,106.7 904.5,110.5 904.8,108.5 905,106.9 905.2,108.1 905.5,103.9 905.8,106 906,103.4 906.2,108.9 906.5,108.2 906.8,109.7 907,109.6 907.2,110 907.5,106.7 907.8,104.2 908,106.3 908.2,111 908.2,239.9 908,232.7 907.8,239.5 907.5,240.1 907.2,231.7 907,236.8 906.8,238.8 906.5,233.9 906.2,234.3 906,234.7 905.8,237.1 905.5,239.2 905.2,235.7 905,234.1 904.8,233.2 904.5,235.3 904.2,236.4 904,228.8 903.8,234.4 903.5,234.5 903.2,231.4 903,236.3 902.8,235.5 902.5,223.9 902.2,236.9 902,239.1 901.8,232.1 901.5,237.1 901.2,233.8 901,234 900.8,241.2 900.5,238.5 900.2,239.4 900,233.6 899.8,237.1 899.5,239.4 899.2,230.5 899,236.5 898.8,232.3 898.5,231.5 898.2,236.8 898,234.6 897.8,237.2 897.5,236.8 897.2,232.3 897,236.3 896.8,243 896.5,238 896.2,239.8 896,240.6 895.8,229.1 895.5,234.8 895.2,230.3 895,235.8 894.8,233.7 894.5,233.8 894.2,238.5 894,235.2 893.8,233.5 893.5,241 893.2,236.1 893,238.6 892.8,235.9 892.5,236.3 892.2,227.8 892,238.8 891.8,225.4 891.5,238.6 891.2,239.2 891,235.8 890.8,232.6 890.5,230 890.2,235.4 890,230.8 889.8,233.7 889.5,235.9 889.2,237.2 889,237.1 888.8,233.4 888.5,240 888.2,240.5 888,235.3 887.8,237.3 887.5,233.5 887.2,241.4 887,238.6 886.8,230.9 886.5,237.5 886.2,243.9 886,231.8 885.8,241.8 885.5,236.4 885.2,237.6 885,237.1 884.8,238.3 884.5,238.7 884.2,236 884,235.8 883.8,231.4 883.5,231.6 883.2,236.3 883,237 882.8,241.5 882.5,242 882.2,246.7 882,233.9 881.8,232.9 881.5,236.4 881.2,231.1 881,230.7 880.8,236.8 880.5,242 880.2,232.4 880,235.8 879.8,240 879.5,233.1 879.2,232.9 879,239.1 878.8,239 878.5,232.6 878.2,232.2 878,235.4 877.8,239.3 877.5,240.7 877.2,234.8 877,235.1 876.8,238.3 876.5,234 876.2,236.4 876,230.4 875.8,236.9 875.5,231.9 875.2,240.1 875,234.6 874.8,236.1 874.5,226.4 874.2,233 874,237.6 873.8,236.6 873.5,233.6 873.2,231.2 873,236.7 872.8,234.5 872.5,237.5 872.2,229.8 872,234.7 871.8,235.6 871.5,227.8 871.2,233.7 871,236.1 870.8,231.1 870.5,233.2 870.2,233.4 870,237.2 869.8,231 869.5,236.7 869.2,235.8 869,233.2 868.8,234.4 868.5,231.1 868.2,239.8 868,239.8 867.8,244 867.5,237.2 867.2,240.3 867,238.1 866.8,234 866.5,227.9 866.2,236.5 866,235.6 865.8,239 865.5,237.1 865.2,234 865,237.3 864.8,229.1 864.5,232.5 864.2,234 864,233.6 863.8,236.9 863.5,234.2 863.2,236.6 863,239.3 862.8,239.1 862.5,233.5 862.2,236.1 862,233.6 861.8,227.4 861.5,231 861.2,234.1 861,233.9 860.8,233.7 860.5,235 860.2,238 860,237.2 859.8,239.3 859.5,234.7 859.2,232.6 859,239.6 858.8,234.5 858.5,231.9 858.2,229.5 858,231.6 857.8,234.9 857.5,228.8 857.2,240.1 857,234.5 856.8,235.6 856.5,242.3 856.2,238.5 856,233.2 855.8,236.3 855.5,234.2 855.2,236.5 855,234.8 854.8,235.7 854.5,236.9 854.2,234.7 854,234.1 853.8,237 853.5,229.1 853.2,242.5 853,241 852.8,227.1 852.5,236.5 852.2,236.4 852,231 851.8,237 851.5,233.9 851.2,241.5 851,237.7 850.8,232.4 850.5,239.7 850.2,235 850,236.1 849.8,240.1 849.5,232.6 849.2,237 849,237.1 848.8,235.8 848.5,241.4 848.2,229.8 848,235.7 847.8,232.9 847.5,235.4 847.2,234.8 847,237.3 846.8,232.2 846.5,233 846.2,225.6 846,235.8 845.8,235.5 845.5,238.4 845.2,238.4 845,231.6 844.8,233.3 844.5,236.4 844.2,238.3 844,241.1 843.8,234.7 843.5,236 843.2,239 843,238.9 842.8,242.4 842.5,239.9 842.2,230.9 842,236.5 841.8,233 841.5,237.5 841.2,230 841,239.5 840.8,240.5 840.5,232.1 840.2,228.6 840,238.9 839.8,236.7 839.5,237.3 839.2,239.3 839,230.9 838.8,237 838.5,237.7 838.2,233.1 838,238.6 837.8,240.3 837.5,228.9 837.2,232.9 837,240.4 836.8,232.9 836.5,226.1 836.2,230.9 836,236.5 835.8,239.1 835.5,238.1 835.2,235.1 835,236.8 834.8,235.4 834.5,241.9 834.2,228.2 834,229.2 833.8,236.3 833.5,232.8 833.2,231.4 833,237.4 832.8,232.3 832.5,236 832.2,228.7 832,239.7 831.8,229.7 831.5,230.3 831.2,229.4 831,238.3 830.8,233.1 830.5,241.8 830.2,234 830,222.6 829.8,235.4 829.5,232.9 829.2,234 829,240.2 828.8,230.7 828.5,237 828.2,235.3 828,237.4 827.8,234.4 827.5,231.9 827.2,237 827,242.3 826.8,239.1 826.5,238.3 826.2,233.5 826,232.4 825.8,232.2 825.5,234.5 825.2,234.8 825,239.4 824.8,239.3 824.5,237.9 824.2,232.8 824,231 823.8,234.8 823.5,235.2 823.2,237.9 823,233.6 822.8,237.4 822.5,236.7 822.2,232.5 822,234.2 821.8,237.2 821.5,236.4 821.2,228.4 821,233 820.8,242.8 820.5,236.2 820.2,236.4 820,232.3 819.8,236.9 819.5,229.6 819.2,234.8 819,239.3 818.8,231.6 818.5,240.9 818.2,234.2 818,234 817.8,236.3 817.5,236.8 817.2,238.7 817,238.5 816.8,231.3 816.5,229.2 816.2,237.2 816,229.8 815.8,235.1 815.5,239.9 815.2,234.6 815,231.3 814.8,230.5 814.5,237.6 814.2,230.6 814,230.4 813.8,232.4 813.5,239.4 813.2,238.9 813,231.9 812.8,234.7 812.5,232.1 812.2,236.8 812,231.5 811.8,233.7 811.5,233.1 811.2,240 811,231 810.8,238.8 810.5,235.7 810.2,235.2 810,237 809.8,239.3 809.5,231.9 809.2,228.5 809,234.9 808.8,234.5 808.5,232 808.2,240.9 808,239.3 807.8,234.8 807.5,237.8 807.2,236.6 807,235.5 806.8,237.5 806.5,233.9 806.2,238 806,236 805.8,233 805.5,235.8 805.2,230.9 805,237.8 804.8,241.7 804.5,237.3 804.2,230.6 804,236.4 803.8,228.6 803.5,229.6 803.2,234.9 803,234.7 802.8,237.5 802.5,232.4 802.2,235.1 802,238.7 801.8,233.3 801.5,230.7 801.2,231.1 801,240.7 800.8,236.3 800.5,233.3 800.2,237.8 800,236.1 799.8,239.6 799.5,235.7 799.2,236.8 799,237.7 798.8,233.9 798.5,234.9 798.2,227.7 798,229 797.8,235.1 797.5,239.7 797.2,233.9 797,230.6 796.8,231.7 796.5,226 796.2,236.5 796,240 795.8,233.5 795.5,236.1 795.2,233.9 795,237.7 794.8,231.9 794.5,237.5 794.2,238 794,233.3 793.8,238.2 793.5,234.8 793.2,235.9 793,236.3 792.8,230.7 792.5,233.5 792.2,235.2 792,233.4 791.8,234.4 791.5,229 791.2,238.4 791,236.4 790.8,239 790.5,237.6 790.2,240.9 790,234 789.8,241 789.5,236.5 789.2,230.5 789,237.9 788.8,239.5 788.5,244.1 788.2,233.2 788,239.2 787.8,235.5 787.5,235.6 787.2,225.5 787,231.1 786.8,238.2 786.5,234.5 786.2,228.9 786,229.5 785.8,243.1 785.5,237.5 785.2,238.1 785,235.1 784.8,234.1 784.5,230.8 784.2,236.8 784,237 783.8,230.6 783.5,231.2 783.2,236.3 783,239 782.8,234.3 782.5,232.6 782.2,235.8 782,234.7 781.8,228.8 781.5,234.4 781.2,238.9 781,235.2 780.8,238.5 780.5,235.6 780.2,232.4 780,235.6 779.8,232.3 779.5,232.1 779.2,229.5 779,238.2 778.8,235.8 778.5,234.2 778.2,233.3 778,232.1 777.8,236.2 777.5,233 777.2,237.5 777,231.3 776.8,231.4 776.5,237.9 776.2,228.4 776,229 775.8,238.2 775.5,240.5 775.2,236.1 775,234.5 774.8,239.6 774.5,228.7 774.2,237.2 774,233.6 773.8,236.4 773.5,233.6 773.2,232.7 773,235.5 772.8,241.5 772.5,238.2 772.2,232.4 772,236.6 771.8,231.7 771.5,236.3 771.2,238.1 771,230.2 770.8,234.8 770.5,233.8 770.2,237.4 770,236.1 769.8,240.1 769.5,236.3 769.2,235.1 769,236.7 768.8,240.5 768.5,237.3 768.2,237.5 768,240.5 767.8,237.8 767.5,233.9 767.2,237.6 767,237.3 766.8,237.6 766.5,229.5 766.2,232 766,237.5 765.8,237.3 765.5,230.1 765.2,234.2 765,236.7 764.8,229.6 764.5,231.9 764.2,239.6 764,233.5 763.8,235.1 763.5,234 763.2,233.8 763,237.7 762.8,237 762.5,235.6 762.2,239.1 762,232.3 761.8,234.7 761.5,234 761.2,229.9 761,234.3 760.8,238.4 760.5,232.8 760.2,229.6 760,236.8 759.8,232.4 759.5,231.5 759.2,236.1 759,231.7 758.8,231.2 758.5,240 758.2,236.6 758,236.6 757.8,231.6 757.5,233 757.2,229.9 757,236.9 756.8,235.3 756.5,238.3 756.2,237.6 756,227.4 755.8,236.5 755.5,232 755.2,235.7 755,236.5 754.8,238.9 754.5,234 754.2,235.5 754,232 753.8,234.7 753.5,229.7 753.2,235.9 753,233.7 752.8,234 752.5,236.5 752.2,234.5 752,235 751.8,244.6 751.5,235 751.2,231.2 751,227 750.8,240.2 750.5,233.4 750.2,233.9 750,232.3 749.8,231.4 749.5,231.5 749.2,227.5 749,233.3 748.8,240.2 748.5,233.3 748.2,238.8 748,229.6 747.8,232.8 747.5,234.2 747.2,232.7 747,241.2 746.8,236 746.5,230.8 746.2,234.4 746,240.3 745.8,237.9 745.5,237.6 745.2,230.9 745,232.9 744.8,238.3 744.5,236.4 744.2,236.9 744,237.8 743.8,238.6 743.5,236 743.2,238.3 743,237.1 742.8,233.6 742.5,234.1 742.2,227.6 742,238.3 741.8,237.2 741.5,231.3 741.2,232.2 741,233.7 740.8,233.7 740.5,233.4 740.2,238.5 740,236.8 739.8,231.6 739.5,236.1 739.2,239 739,235.5 738.8,235.9 738.5,238 738.2,228.3 738,237.6 737.8,235.9 737.5,231.8 737.2,236.7 737,232.9 736.8,235.9 736.5,233.3 736.2,233.4 736,235.2 735.8,235.2 735.5,224.6 735.2,236.5 735,232.5 734.8,234.5 734.5,234.9 734.2,238.8 734,236.8 733.8,231.5 733.5,230.1 733.2,235.3 733,231.3 732.8,226.4 732.5,232.9 732.2,239.7 732,235.4 731.8,229.9 731.5,228.6 731.2,228.7 731,235.6 730.8,234.3 730.5,236.5 730.2,238.5 730,232.7 729.8,235.1 729.5,233.8 729.2,233 729,231.6 728.8,235.4 728.5,234 728.2,230.6 728,239.4 727.8,238.3 727.5,232.7 727.2,242.3 727,235.2 726.8,229.8 726.5,234.2 726.2,228.3 726,236.3 725.8,231 725.5,232.1 725.2,232.5 725,237.1 724.8,236.5 724.5,238.6 724.2,235.9 724,237.9 723.8,230.4 723.5,237.8 723.2,234.5 723,237.7 722.8,242.3 722.5,235.8 722.2,231.3 722,238.2 721.8,233.6 721.5,236.5 721.2,231.3 721,233.7 720.8,234.3 720.5,231.8 720.2,240.9 720,231.7 719.8,233 719.5,231.7 719.2,237.7 719,236.5 718.8,233.3 718.5,234.7 718.2,232.3 718,236.2 717.8,234.5 717.5,235.1 717.2,237.9 717,231.8 716.8,236.6 716.5,224.8 716.2,234.7 716,236.2 715.8,234.6 715.5,230.7 715.2,235.3 715,232.4 714.8,237.9 714.5,235.5 714.2,236.6 714,243.7 713.8,231.2 713.5,235 713.2,228.1 713,231.9 712.8,235.8 712.5,235.2 712.2,236.6 712,231.8 711.8,231.4 711.5,242.9 711.2,243.5 711,232.5 710.8,234.1 710.5,233.4 710.2,244.1 710,233 709.8,232.7 709.5,229.7 709.2,238.1 709,236.3 708.8,229.9 708.5,241.6 708.2,233.8 708,238.2 707.8,241.6 707.5,234.3 707.2,229.2 707,240.7 706.8,237 706.5,228.3 706.2,230.5 706,234.9 705.8,240.3 705.5,239.5 705.2,226.6 705,232.1 704.8,237 704.5,229.3 704.2,238.1 704,227.3 703.8,232.5 703.5,238 703.2,233.9 703,233.9 702.8,235.6 702.5,230.2 702.2,238.6 702,233.8 701.8,236.1 701.5,231.2 701.2,234.5 701,234 700.8,224 700.5,233.3 700.2,240.4 700,238.4 699.8,234.8 699.5,235.8 699.2,230.9 699,236.6 698.8,236.5 698.5,234.5 698.2,235.7 698,231.5 697.8,234.1 697.5,232.7 697.2,234.4 697,236.6 696.8,240.9 696.5,234.5 696.2,240.9 696,234 695.8,243.6 695.5,228.3 695.2,231.3 695,237.3 694.8,237.9 694.5,233.3 694.2,232.1 694,234.5 693.8,232.8 693.5,231.2 693.2,231.9 693,232.9 692.8,230.8 692.5,233.2 692.2,235.1 692,235.7 691.8,235.3 691.5,233.4 691.2,241.4 691,237.9 690.8,234.8 690.5,233.2 690.2,242.6 690,231.8 689.8,231.3 689.5,231.3 689.2,236.1 689,226.3 688.8,237.4 688.5,239.5 688.2,234.7 688,235.3 687.8,229 687.5,235 687.2,232.5 687,231.5 686.8,239.7 686.5,230.6 686.2,237.4 686,231.9 685.8,232.9 685.5,233.2 685.2,234.5 685,241.8 684.8,235.1 684.5,231 684.2,230.7 684,227.1 683.8,229.4 683.5,240.2 683.2,233.9 683,235.8 682.8,240 682.5,237.7 682.2,231.7 682,228.3 681.8,244.8 681.5,230.5 681.2,234.4 681,232.6 680.8,226.9 680.5,231.3 680.2,240.7 680,225.3 679.8,235.5 679.5,234.4 679.2,239.8 679,232 678.8,233.1 678.5,235.9 678.2,241.1 678,230.9 677.8,238.1 677.5,230.1 677.2,231.4 677,236.6 676.8,240.3 676.5,234.6 676.2,233.9 676,225.4 675.8,234.8 675.5,236 675.2,239.9 675,231.5 674.8,238.6 674.5,234.7 674.2,237.1 674,232.8 673.8,233 673.5,240.2 673.2,238 673,233.7 672.8,231.1 672.5,232.6 672.2,243 672,235.2 671.8,230.8 671.5,237.8 671.2,231.1 671,235.7 670.8,239.8 670.5,235.5 670.2,243.9 670,239.6 669.8,235.4 669.5,238.4 669.2,235.5 669,230.5 668.8,235.3 668.5,235 668.2,232.7 668,236.5 667.8,232.4 667.5,239.2 667.2,229.5 667,238.6 666.8,234.4 666.5,240.3 666.2,238.2 666,241.4 665.8,232.6 665.5,239.4 665.2,239.8 665,235.8 664.8,235.5 664.5,231.5 664.2,234.6 664,234.2 663.8,237.1 663.5,228.5 663.2,229.6 663,229.9 662.8,238.2 662.5,235.1 662.2,237.4 662,241.9 661.8,231.1 661.5,231.7 661.2,234.5 661,232.5 660.8,231.8 660.5,229.6 660.2,239.1 660,237.8 659.8,234.7 659.5,233.2 659.2,231.2 659,243.2 658.8,230.6 658.5,240 658.2,234 658,236.5 657.8,237.8 657.5,233.1 657.2,231.6 657,237 656.8,240.5 656.5,240.5 656.2,237.1 656,228.9 655.8,231.3 655.5,240.1 655.2,228.4 655,229.7 654.8,242.2 654.5,227.7 654.2,238.7 654,233.3 653.8,231.9 653.5,239 653.2,230.3 653,236 652.8,231.8 652.5,231.7 652.2,228.6 652,233.7 651.8,243.3 651.5,232.4 651.2,238.2 651,233.8 650.8,236.3 650.5,233.3 650.2,232.8 650,231.7 649.8,238 649.5,230.6 649.2,240.1 649,232.3 648.8,230.2 648.5,238.2 648.2,230.6 648,231.1 647.8,232.9 647.5,235.1 647.2,238.8 647,236.5 646.8,236.5 646.5,235.8 646.2,232.7 646,225 645.8,232.5 645.5,238 645.2,235.3 645,234 644.8,236.8 644.5,235.4 644.2,232.3 644,241 643.8,234.7 643.5,233.9 643.2,230.3 643,235.5 642.8,231.9 642.5,231.3 642.2,228.2 642,236.4 641.8,227.3 641.5,233.1 641.2,235.1 641,233.3 640.8,235 640.5,230.1 640.2,235 640,229 639.8,238.3 639.5,243.4 639.2,233.8 639,235.1 638.8,233.2 638.5,235.2 638.2,228.5 638,229.8 637.8,230.9 637.5,236.7 637.2,238.7 637,231.7 636.8,229.1 636.5,237.3 636.2,231.9 636,237.7 635.8,232.7 635.5,231.9 635.2,237.8 635,231.5 634.8,232.2 634.5,231.5 634.2,235.4 634,236.9 633.8,232.5 633.5,232.1 633.2,240.5 633,235.7 632.8,228.7 632.5,228.7 632.2,232.2 632,231 631.8,240.7 631.5,235.1 631.2,240.2 631,228.7 630.8,234.3 630.5,234.6 630.2,232.5 630,234.3 629.8,238.6 629.5,233.9 629.2,239.7 629,234.1 628.8,234.9 628.5,239.6 628.2,233.3 628,230 627.8,235.2 627.5,233.8 627.2,233.4 627,235.3 626.8,237.2 626.5,231.5 626.2,232.2 626,238.3 625.8,223.9 625.5,228.9 625.2,235.7 625,232.3 624.8,231.5 624.5,232.3 624.2,226.4 624,234.2 623.8,233.4 623.5,236.9 623.2,233.7 623,233.9 622.8,231.3 622.5,230.9 622.2,225.2 622,234.2 621.8,231 621.5,227.1 621.2,231.7 621,226 620.8,229.5 620.5,233.8 620.2,235.8 620,232.6 619.8,228 619.5,231.9 619.2,230 619,236.2 618.8,230.4 618.5,232.8 618.2,229.5 618,235.8 617.8,230.5 617.5,225.9 617.2,228 617,229.2 616.8,232.3 616.5,228.5 616.2,233.3 616,231 615.8,230.6 615.5,227.9 615.2,229.8 615,223.9 614.8,229.8 614.5,231.6 614.2,228 614,228.4 613.8,229.7 613.5,227.8 613.2,225.4 613,226.5 612.8,228.6 612.5,225.4 612.2,230 612,229.6 611.8,229 611.5,228.2 611.2,229.7 611,226.8 610.8,227.9 610.5,226.7 610.2,229.4 610,227.3 609.8,230 609.5,229.7 609.2,224.5 609,227.6 608.8,224.9 608.5,222.3 608.2,223.7 608,222 607.8,227.9 607.5,223.8 607.2,223.7 607,222.9 606.8,222.6 606.5,226.4 606.2,226.2 606,223.3 605.8,223.2 605.5,221.9 605.2,224.4 605,224.4 604.8,221.8 604.5,217.2 604.2,220 604,220 603.8,218.7 603.5,219.2 603.2,217.9 603,217.5 602.8,217.3 602.5,215.8 602.2,216.3 602,210.9 601.8,210.1 601.5,210.5 601.2,209.1 601,208.4 600.8,209 600.5,205.1 600.2,204.6 600,206.6 599.8,204.9 599.5,204 599.2,198.9 599,200.1 598.8,197.4 598.5,198.3 598.2,197.2 598,195.7 597.8,194 597.5,191.6 597.2,189.8 597,192.5 596.8,188.2 596.5,186.1 596.2,186.1 596,184.2 595.8,182.6 595.5,183.6 595.2,180.8 595,180.4 594.8,179.3 594.5,178.9 594.2,175.1 594,175.9 593.8,173.7 593.5,172.8 593.2,173 593,169.8 592.8,166.7 592.5,166.8 592.2,164.3 592,160.5 591.8,156.4 591.5,155.5 591.2,152.5 591,147.9 590.8,144.8 590.5,141.5 590.2,139.4 590,137 589.8,135.4 589.5,133.6 589.2,131.5 589,130 588.8,128.8 588.5,128.8 588.2,127.4 588,125.5 587.8,125.2 587.5,124.3 587.2,122.7 587,123.2 586.8,121.5 586.5,121.4 586.2,120.3 586,121.1 585.8,119.8 585.5,118.7 585.2,118.1 585,118.6 584.8,117 584.5,116.5 584.2,115.8 584,116 583.8,116 583.5,113.8 583.2,115.2 583,113 582.8,114.7 582.5,114.2 582.2,113.7 582,112.8 581.8,112.4 581.5,112 581.2,110.7 581,112.1 580.8,112 580.5,110.5 580.2,110.9 580,109.9 579.8,110.1 579.5,110.2 579.2,109.5 579,109.3 578.8,109.1 578.5,109 578.2,108.2 578,108.7 577.8,108.8 577.5,107.2 577.2,108 577,106.7 576.8,107.4 576.5,106.4 576.2,107.5 576,107.7 575.8,108.1 575.5,107.2 575.2,106.6 575,105.3 574.8,107.9 574.5,105.5 574.2,105.3 574,106.7 573.8,105.3 573.5,104.6 573.2,105.5 573,105.7 572.8,105.5 572.5,106 572.2,104.3 572,105.2 571.8,103.9 571.5,104.2 571.2,104.6 571,104.6 570.8,104.8 570.5,104.6"/>
<path d="M570.5,52.6 570.5,75 570.5,84 571,83.8 571,74.7 571.5,75 571.5,84.4 572,84.8 572,74.7 572.5,74.9 572.5,85 573,85.2 573,75.1 573.5,75.2 573.5,85.7 574,85.7 574,75.5 574.5,75.7 574.5,85.9 575,86.5 575,76 575.5,75.9 575.5,86.8 576,87.2 576,75.9 576.5,76.6 576.5,87.3 577,87.6 577,76.3 577.5,76.5 577.5,87.9 578,88.2 578,76.4 578.5,77 578.5,89 579,89.3 579,77.3 579.5,77.2 579.5,89.7 580,90.1 580,77.5 580.5,78.2 580.5,90.4 581,90.9 581,78.2 581.5,79.1 581.5,90.5 582,92 582,79.5 582.5,80.2 582.5,91.6 583,92 583,80.8 583.5,82 583.5,93.1 584,93.7 584,82.6 584.5,83.2 584.5,94.8 585,95.8 585,84 585.5,84.3 585.5,96.1 586,97.2 586,85.1 586.5,86.4 586.5,98 587,98.7 587,87.6 587.5,88.5 587.5,99.9 588,101 588,90 588.5,91.7 588.5,102 589,103.5 589,92.8 589.5,94.4 589.5,105.1 590,106.3 590,96.2 590.5,97 590.5,107.9 591,109.4 591,98.9 591.5,100.1 591.5,110.9 592,113.2 592,101.4 592.5,103.2 592.5,114.5 593,116.2 593,104.8 593.5,106.6 593.5,118.2 594,119.9 594,108 594.5,110.1 594.5,121.6 595,123.5 595,112 595.5,113.6 595.5,125 596,126.6 596,115.6 596.5,118 596.5,128.5 597,129.9 597,119.8 597.5,122.6 597.5,131.5 598,133.7 598,124.6 598.5,127.3 598.5,135.2 599,137.5 599,129.1 599.5,131.1 599.5,139.5 600,140.8 600,133.3 600.5,134.6 600.5,143.3 601,145.3 601,136.2 601.5,137 601.5,147.3 602,149.1 602,138.1 602.5,138.9 602.5,151.4 603,152.7 603,140.8 603.5,141.9 603.5,154.9 604,155.6 604,142.9 604.5,144.3 604.5,158.6 605,157.8 605,145.1 605.5,145.8 605.5,160.1 606,160.9 606,147.1 606.5,147.4 606.5,162.6 607,162.8 607,148.7 607.5,148 607.5,164.2 608,164.7 608,147.6 608.5,149.2 608.5,166.9 609,166.2 609,148.5 609.5,149.9 609.5,167.3 610,166.7 610,150 610.5,149.4 610.5,168.5 611,167.8 611,148.6 611.5,150.9 611.5,167.9 612,168.2 612,150.1 612.5,150.5 612.5,168.6 613,169.7 613,150.5 613.5,150.7 613.5,169.5 614,169.4 614,150.9 614.5,151.2 614.5,170.5 615,169.9 615,152.1 615.5,151.8 615.5,170.7 616,171.1 616,152.7 616.5,152.9 616.5,170.5 617,171.5 617,153.3 617.5,151.9 617.5,171.6 618,171.6 618,154.1 618.5,154.1 618.5,171.6 619,173.9 619,153.3 619.5,152.9 619.5,172.9 620,173.6 620,154.9 620.5,154.3 620.5,173.8 621,174.5 621,154.4 621.5,155.6 621.5,173 622,174.6 622,154.6 622.5,155.8 622.5,175 623,174.4 623,156.2 623.5,155.9 623.5,173.7 624,177.3 624,154.3 624.5,156.7 624.5,176.1 625,174.8 625,155.5 625.5,155.5 625.5,175.9 626,174.8 626,156.6 626.5,156.4 626.5,177 627,176.8 627,157.1 627.5,158.2 627.5,175.3 628,176.6 628,158.9 628.5,157.1 628.5,178.5 629,176.8 629,157.7 629.5,158.2 629.5,175.6 630,175.3 630,157.7 630.5,158.7 630.5,176.5 631,177.2 631,157.7 631.5,158.6 631.5,175.8 632,176.4 632,156.4 632.5,159.5 632.5,176.3 633,176.1 633,157.9 633.5,158.3 633.5,175.8 634,178 634,158.9 634.5,158 634.5,176 635,176.8 635,155.9 635.5,157.6 635.5,176.2 636,178.1 636,159.6 636.5,159.2 636.5,178.9 637,178.4 637,160.3 637.5,160.2 637.5,176.3 638,177.4 638,159.4 638.5,159.1 638.5,177.2 639,179.2 639,159.4 639.5,160.5 639.5,179.4 640,178.1 640,159 640.5,159.1 640.5,180.3 641,178.3 641,159.9 641.5,159.7 641.5,179.2 642,178.3 642,160 642.5,159.9 642.5,178.4 643,178.1 643,160.1 643.5,157.8 643.5,178.5 644,177.3 644,160.2 644.5,160.8 644.5,178.8 645,178.3 645,161 645.5,160.3 645.5,178.8 646,180 646,159.4 646.5,161.3 646.5,177.4 647,179.6 647,159.7 647.5,160.1 647.5,178.2 648,179 648,160 648.5,161.9 648.5,182 649,179.4 649,161.4 649.5,161.4 649.5,180.6 650,180.1 650,159.5 650.5,160.5 650.5,179.2 651,179.1 651,160.8 651.5,161.8 651.5,179.1 652,178.4 652,158 652.5,161.4 652.5,179.3 653,181.1 653,160.5 653.5,160.8 653.5,179.1 654,179.3 654,162.2 654.5,160.1 654.5,178.7 655,180.6 655,161.7 655.5,160.4 655.5,179.8 656,179 656,160 656.5,161.3 656.5,180.1 657,182.3 657,162.1 657.5,161.1 657.5,178.5 658,180.3 658,160.1 658.5,162.1 658.5,178.9 659,179.9 659,160.9 659.5,162 659.5,179.1 660,182.5 660,162.3 660.5,162.2 660.5,180.2 661,179.7 661,160.9 661.5,161 661.5,180.8 662,180.1 662,161.8 662.5,162.8 662.5,179 663,180.1 663,161.2 663.5,160.4 663.5,179.8 664,181.1 664,159.5 664.5,162.6 664.5,179.2 665,181.3 665,162.5 665.5,162.7 665.5,179 666,184.5 666,162.2 666.5,162 666.5,179.5 667,179.9 667,162.9 667.5,160.8 667.5,179.1 668,178.8 668,159.8 668.5,161.7 668.5,179.7 669,178.9 669,161.9 669.5,161.8 669.5,179.4 670,181.4 670,160.9 670.5,162.5 670.5,179.8 671,179.5 671,162.2 671.5,161.5 671.5,179.9 672,183.7 672,162.5 672.5,161.2 672.5,181.1 673,181.1 673,162.9 673.5,161.9 673.5,180.5 674,180.7 674,161.2 674.5,162.1 674.5,180.9 675,179.4 675,163.3 675.5,162.8 675.5,179.1 676,179.4 676,160.2 676.5,162.2 676.5,181.1 677,179.4 677,163.5 677.5,162.5 677.5,182.9 678,181.4 678,160 678.5,162.4 678.5,180.5 679,180.5 679,162.9 679.5,162.8 679.5,185.1 680,180.2 680,162.7 680.5,163.2 680.5,181.4 681,180.3 681,161 681.5,162.5 681.5,181.7 682,180.7 682,163 682.5,162.7 682.5,180.3 683,179.8 683,163.2 683.5,162.1 683.5,180.6 684,182 684,161.6 684.5,162.8 684.5,181.8 685,183.8 685,162.3 685.5,161.9 685.5,179.9 686,182.1 686,161.8 686.5,163.1 686.5,180.5 687,181.3 687,163.1 687.5,161.2 687.5,180.6 688,181.9 688,162.4 688.5,162.4 688.5,181.7 689,180.3 689,162.3 689.5,163.1 689.5,183 690,181 690,161.2 690.5,160.5 690.5,182.1 691,180 691,161 691.5,163.7 691.5,182.7 692,180.4 692,164 692.5,161.5 692.5,180.8 693,180.4 693,161.9 693.5,163 693.5,182.7 694,181.6 694,162.1 694.5,162.6 694.5,181.7 695,179.5 695,162.5 695.5,162 695.5,179.7 696,179.7 696,161.2 696.5,163.4 696.5,179.9 697,181.9 697,162.4 697.5,163 697.5,180.9 698,179.7 698,160.2 698.5,161.7 698.5,182.7 699,182.3 699,163.7 699.5,162 699.5,181.3 700,180.9 700,162.9 700.5,160.7 700.5,180.3 701,179 701,162.3 701.5,162.9 701.5,180.4 702,181.3 702,161.7 702.5,163.7 702.5,180.2 703,179.9 703,162.3 703.5,162.8 703.5,181.6 704,183.4 704,163 704.5,162.6 704.5,180.4 705,183.7 705,162.7 705.5,163.2 705.5,179.7 706,180.3 706,160.6 706.5,160.4 706.5,179.5 707,181.3 707,162.7 707.5,163.4 707.5,181.8 708,180.6 708,162.6 708.5,163.1 708.5,181.7 709,180.5 709,163.4 709.5,159.1 709.5,180.2 710,181.3 710,161.8 710.5,161.1 710.5,179.7 711,180.7 711,162.6 711.5,161.1 711.5,181.2 712,182 712,162.1 712.5,162.6 712.5,180.3 713,180.6 713,162.7 713.5,162.3 713.5,181.8 714,179.2 714,161.3 714.5,162.8 714.5,179.6 715,179.7 715,163.3 715.5,162.2 715.5,179.7 716,181.5 716,162.4 716.5,162.1 716.5,180.1 717,180.7 717,162.9 717.5,159.7 717.5,180.1 718,181.6 718,161.8 718.5,162.8 718.5,180.7 719,181 719,162.9 719.5,161.8 719.5,180.4 720,179.8 720,163.7 720.5,161.9 720.5,181.8 721,179.9 721,160.7 721.5,160.6 721.5,179.9 722,180.2 722,162.9 722.5,160.2 722.5,181.6 723,181 723,162 723.5,162.6 723.5,180.7 724,180.5 724,162.8 724.5,161.9 724.5,180.2 725,179.9 725,162 725.5,163.3 725.5,180.2 726,181 726,162.9 726.5,162.1 726.5,179.2 727,182.6 727,162.4 727.5,162.2 727.5,180.8 728,179.8 728,162.7 728.5,160.2 728.5,180.2 729,178.7 729,162.5 729.5,161.6 729.5,180 730,181 730,162 730.5,162.9 730.5,180.2 731,181.1 731,161.7 731.5,162.5 731.5,180.4 732,181.5 732,162.9 732.5,161.6 732.5,180 733,179.1 733,160.4 733.5,163.3 733.5,181.1 734,180 734,162.9 734.5,161.9 734.5,180.1 735,179.9 735,163.2 735.5,162.2 735.5,180.2 736,180.4 736,163.4 736.5,162.3 736.5,179.6 737,180.6 737,162.4 737.5,161.6 737.5,179.9 738,180.2 738,162.4 738.5,163.1 738.5,182.3 739,180.6 739,163.3 739.5,162.4 739.5,182.5 740,180.1 740,161.3 740.5,161.1 740.5,180.6 741,180.8 741,161.7 741.5,163 741.5,180.4 742,180.1 742,163.3 742.5,163.7 742.5,181.3 743,180.2 743,161.2 743.5,161.9 743.5,180.5 744,182.5 744,162.3 744.5,161.7 744.5,179.7 745,179.4 745,162.7 745.5,162.3 745.5,180.2 746,180.7 746,160.4 746.5,163 746.5,179.7 747,180.7 747,163.3 747.5,163.2 747.5,180.5 748,180 748,161.6 748.5,162.9 748.5,180.4 749,181.3 749,162.5 749.5,161.1 749.5,180 750,180.2 750,163.1 750.5,162.3 750.5,181.3 751,181.2 751,161.5 751.5,162.1 751.5,179.3 752,179.6 752,162.3 752.5,163.6 752.5,181.7 753,181 753,163.4 753.5,163 753.5,183.4 754,180.9 754,161.8 754.5,163.4 754.5,179.4 755,180.4 755,159.4 755.5,162.4 755.5,180.4 756,180.4 756,163.4 756.5,162 756.5,181.4 757,181.6 757,161.5 757.5,162.6 757.5,180.7 758,180.1 758,161.8 758.5,161.7 758.5,179.6 759,182 759,163.2 759.5,161.6 759.5,179.9 760,182.1 760,161 760.5,162.8 760.5,179.9 761,180.2 761,161.1 761.5,162.1 761.5,181.9 762,179.9 762,161.7 762.5,161.9 762.5,182.5 763,181 763,163.1 763.5,163.3 763.5,180.1 764,181.1 764,162.8 764.5,160.4 764.5,181.5 765,179.5 765,161.4 765.5,163.2 765.5,182 766,180.1 766,162.9 766.5,163.4 766.5,180.5 767,179.8 767,162.7 767.5,161.4 767.5,182.6 768,181.5 768,162.4 768.5,160.6 768.5,181.3 769,184 769,161.9 769.5,162.6 769.5,179.9 770,181.3 770,161.8 770.5,161.8 770.5,181.6 771,179.6 771,162.8 771.5,162.1 771.5,182.2 772,180.5 772,161.4 772.5,163.6 772.5,180.3 773,180.7 773,163.2 773.5,163.1 773.5,180.9 774,181.7 774,162.1 774.5,162.9 774.5,183.8 775,182.4 775,160.9 775.5,162.2 775.5,180.6 776,182.4 776,161.5 776.5,161.3 776.5,180.1 777,179.4 777,162.9 777.5,162.5 777.5,179.7 778,181.7 778,162.2 778.5,163.3 778.5,181.7 779,180.1 779,162.9 779.5,162 779.5,180.6 780,180.7 780,163 780.5,162.2 780.5,180.8 781,180.6 781,162.3 781.5,162 781.5,180.1 782,179.5 782,163.6 782.5,163 782.5,180.9 783,180.2 783,162.3 783.5,161.6 783.5,180.2 784,181.5 784,161 784.5,163.1 784.5,180.4 785,179.9 785,161.5 785.5,163.2 785.5,180.4 786,181 786,161.8 786.5,162.3 786.5,180.8 787,179.9 787,163 787.5,162.2 787.5,180.4 788,180.4 788,162.6 788.5,161.4 788.5,181.3 789,183 789,161.2 789.5,163.5 789.5,181.5 790,180.9 790,162.4 790.5,162.6 790.5,182.1 791,181.4 791,162.6 791.5,162.4 791.5,180.4 792,181.7 792,163.5 792.5,161.5 792.5,180.1 793,180.9 793,163.7 793.5,162.6 793.5,180.1 794,180.1 794,160.6 794.5,161.2 794.5,184.6 795,179.6 795,162 795.5,163.2 795.5,180.3 796,180.9 796,162.6 796.5,162.9 796.5,182.9 797,180 797,162.1 797.5,163.9 797.5,181 798,181.4 798,163 798.5,162.7 798.5,181.9 799,181.2 799,162.5 799.5,163.2 799.5,182.1 800,181.2 800,162.1 800.5,162.1 800.5,179.7 801,182.1 801,161.8 801.5,159.2 801.5,181.3 802,179.8 802,156.9 802.5,163.7 802.5,181.1 803,179.9 803,162.9 803.5,161 803.5,181.1 804,180.7 804,163.2 804.5,161.7 804.5,180.4 805,181 805,162.8 805.5,161.3 805.5,180.5 806,179.8 806,161.6 806.5,161.4 806.5,181.2 807,181.8 807,163.7 807.5,161.5 807.5,180.3 808,180.6 808,163.5 808.5,163.6 808.5,180.7 809,182 809,162.4 809.5,162.2 809.5,181.9 810,181 810,162.7 810.5,163.1 810.5,179.2 811,185.6 811,159.8 811.5,161.7 811.5,180.9 812,183 812,163.5 812.5,163.6 812.5,181.3 813,181.5 813,162.7 813.5,162 813.5,180.3 814,181.5 814,162.6 814.5,162.7 814.5,181.6 815,182.7 815,163.4 815.5,163.1 815.5,179.9 816,180.2 816,161.7 816.5,162.2 816.5,180.7 817,180.5 817,162.5 817.5,163.1 817.5,180.6 818,179.8 818,162.6 818.5,160.9 818.5,183.4 819,183 819,162.5 819.5,162 819.5,180.1 820,179.8 820,163.2 820.5,163 820.5,180.3 821,180.7 821,162.9 821.5,161.6 821.5,180.2 822,180.5 822,162.5 822.5,162.9 822.5,180.5 823,181 823,163.3 823.5,163.1 823.5,182.2 824,182.5 824,163.7 824.5,163.3 824.5,181.5 825,182.3 825,162.1 825.5,162.1 825.5,180.4 826,181.7 826,162.5 826.5,160 826.5,182.3 827,180.5 827,161.5 827.5,161.5 827.5,180.2 828,180.2 828,163.1 828.5,162.9 828.5,180.3 829,180.2 829,163.8 829.5,163 829.5,182.9 830,180.4 830,162.3 830.5,162.2 830.5,181.4 831,181.6 831,160.5 831.5,161.9 831.5,179.7 832,178.9 832,161.6 832.5,163.7 832.5,180.4 833,180.4 833,163 833.5,162.9 833.5,180.9 834,179.7 834,163 834.5,162.3 834.5,180 835,180.5 835,161.2 835.5,160 835.5,181.2 836,179.5 836,162.2 836.5,163.3 836.5,181.9 837,180.7 837,162.2 837.5,163.4 837.5,182.4 838,181.7 838,163 838.5,161.7 838.5,183 839,181.5 839,163.4 839.5,162.3 839.5,180.4 840,180 840,161.7 840.5,160.9 840.5,181.5 841,181 841,163.6 841.5,160.4 841.5,180.9 842,180.2 842,164 842.5,160.8 842.5,183.3 843,182.1 843,163.3 843.5,162.3 843.5,180 844,182.9 844,164.2 844.5,163.9 844.5,185.7 845,180 845,163.3 845.5,163.6 845.5,180.5 846,180.6 846,162 846.5,161.9 846.5,180.2 847,182.6 847,161.3 847.5,161.5 847.5,182.8 848,180 848,161.8 848.5,161.4 848.5,180.6 849,181.9 849,160.4 849.5,162.8 849.5,182.2 850,179.7 850,162.9 850.5,162.8 850.5,180.6 851,179.4 851,162.8 851.5,162.9 851.5,182.4 852,180.8 852,162.2 852.5,161.2 852.5,181 853,181.5 853,159.7 853.5,164.2 853.5,181.4 854,182.9 854,163.7 854.5,163.5 854.5,180.4 855,180.2 855,162 855.5,161.8 855.5,182.6 856,180.6 856,161.2 856.5,163.5 856.5,180.6 857,180.3 857,163.5 857.5,162.4 857.5,179.6 858,180.5 858,162.5 858.5,162 858.5,180.7 859,181.4 859,161 859.5,162.2 859.5,180.8 860,180.5 860,163.8 860.5,163.1 860.5,181.7 861,180.3 861,163.4 861.5,159.9 861.5,183 862,180.2 862,162.5 862.5,163.2 862.5,179.8 863,181.3 863,162.4 863.5,161.9 863.5,180.9 864,180.1 864,161.3 864.5,162.3 864.5,180.1 865,181.3 865,163.7 865.5,162 865.5,179.9 866,179.8 866,160.4 866.5,163.5 866.5,180 867,180 867,162.8 867.5,161.6 867.5,181.6 868,180.9 868,162.4 868.5,162.3 868.5,181.3 869,180.2 869,162.6 869.5,162 869.5,181 870,180.6 870,163.3 870.5,162.4 870.5,180.6 871,183.1 871,160.4 871.5,162.2 871.5,181 872,179.9 872,162.3 872.5,162.5 872.5,180.6 873,181 873,162.1 873.5,162.3 873.5,180.9 874,181.9 874,162.5 874.5,161.4 874.5,180.1 875,181.1 875,163.1 875.5,162.8 875.5,181.3 876,182.5 876,163.5 876.5,163.5 876.5,179.7 877,182.6 877,162.9 877.5,163.3 877.5,181.3 878,180.7 878,161.7 878.5,161.8 878.5,183.8 879,180.5 879,163.5 879.5,160.8 879.5,181.8 880,181.6 880,160.2 880.5,162.8 880.5,181 881,180 881,162.8 881.5,162.6 881.5,180.1 882,181.4 882,163.6 882.5,163.5 882.5,181.5 883,180.7 883,161.7 883.5,160.9 883.5,179.8 884,180.8 884,160.4 884.5,163.4 884.5,183.7 885,183.3 885,162.7 885.5,163 885.5,181.5 886,181.7 886,163.7 886.5,162.1 886.5,182.1 887,180.5 887,163.9 887.5,162.6 887.5,179.8 888,183.6 888,163.3 888.5,163.3 888.5,181.3 889,180 889,162.5 889.5,161.8 889.5,181.5 890,179.7 890,162.3 890.5,163.1 890.5,181.2 891,180.7 891,163 891.5,162 891.5,181.2 892,181.9 892,163.2 892.5,161.8 892.5,181.2 893,180.3 893,162.5 893.5,163.9 893.5,180.6 894,180.3 894,162.2 894.5,163.4 894.5,179.8 895,180.5 895,162 895.5,163.9 895.5,180.3 896,183 896,157.9 896.5,162.5 896.5,181.5 897,181 897,163.7 897.5,163.3 897.5,180.3 898,180.2 898,159.4 898.5,162.5 898.5,180.5 899,181.3 899,163.5 899.5,163.2 899.5,180.7 900,181.3 900,162.7 900.5,162.4 900.5,180.9 901,180.4 901,162.8 901.5,161.5 901.5,180.3 902,181.8 902,162.4 902.5,161.4 902.5,181.1 903,181.8 903,163.9 903.5,163.3 903.5,181.4 904,180.3 904,163.5 904.5,161.7 904.5,183.9 905,179.4 905,162.7 905.5,161.1 905.5,183.5 906,181.1 906,162.8 906.5,162.5 906.5,179.6 907,181.1 907,161.4 907.5,161.9 907.5,180.5 908,180.2 908,160.2 908.5,163.5 908.5,179.8" fill="none" stroke="#1f77b4" stroke-width="4.4" stroke-linejoin="round" stroke-linecap="butt"/>
<path d="M570.5,34V53" stroke="#8fbbd9" stroke-width="0.5" opacity="0.5"/>
<polygon fill="#8fbbd9" points="1024.1,36.8 1024.3,47.4 1024.5,38.8 1024.7,36.6 1024.9,48.3 1025.1,45.9 1025.3,41.4 1025.5,42.6 1025.7,43.5 1025.9,39.1 1026.1,41.4 1026.3,43.9 1026.5,39.9 1026.7,47.1 1026.9,34.1 1027.1,38.1 1027.3,32.3 1027.5,38.9 1027.7,34.7 1027.9,44.5 1028.1,46.8 1028.3,36.4 1028.5,38.8 1028.7,36.8 1028.9,41.4 1029.1,39.2 1029.3,38.7 1029.5,39.8 1029.7,42.2 1029.9,38.6 1030.1,41.2 1030.3,37.2 1030.5,46.3 1030.7,41 1030.9,45.6 1031.1,47.1 1031.3,41.7 1031.5,36.6 1031.7,46.1 1031.9,38 1032.1,43.6 1032.3,38.7 1032.5,43 1032.7,42.4 1032.9,36.7 1033.1,45.8 1033.3,50.1 1033.5,36.9 1033.7,41.1 1033.9,38.3 1034.1,41.4 1034.3,52.9 1034.5,42.5 1034.7,44 1034.9,43.2 1035.1,38.4 1035.3,35 1035.5,39.7 1035.7,39.7 1035.9,43.5 1036.1,46 1036.3,42.2 1036.5,39.9 1036.7,41.5 1036.9,39.9 1037.1,41.7 1037.3,39.2 1037.5,42.6 1037.7,38.6 1037.9,32.9 1038.1,41.8 1038.3,42.5 1038.5,42.7 1038.7,37.5 1038.9,35.9 1039.1,36.7 1039.3,45.1 1039.5,55.5 1039.7,43.3 1039.9,49.8 1040.1,44.5 1040.3,45.2 1040.5,41.3 1040.7,46.9 1040.9,46.3 1041.1,38.4 1041.3,43.8 1041.5,46.2 1041.7,54.6 1041.9,40 1042.1,50.1 1042.3,42.5 1042.5,38.6 1042.7,40.8 1042.9,41.8 1043.1,37.1 1043.3,42.2 1043.5,33.4 1043.7,38.6 1043.9,38 1044.1,43.8 1044.3,44.4 1044.5,39.8 1044.7,40.6 1044.9,34.5 1045.1,41.1 1045.3,46.3 1045.5,42.8 1045.7,44.6 1045.9,41.7 1046.1,39.1 1046.3,41.2 1046.5,45.1 1046.7,43.8 1046.9,38.6 1047.1,38.8 1047.3,43.4 1047.5,42.5 1047.7,46.3 1047.9,38.5 1048.1,35.4 1048.3,41.4 1048.5,36.7 1048.7,39.9 1048.9,40.2 1049.1,41.5 1049.3,48.2 1049.5,43.6 1049.7,40.4 1049.9,39.1 1050.1,45.2 1050.3,41 1050.5,31.7 1050.7,42.6 1050.9,38.3 1051.1,43.1 1051.3,46.9 1051.5,38.1 1051.7,42.3 1051.9,40.2 1052.1,40.3 1052.3,44.7 1052.5,34.7 1052.7,39 1052.9,46.6 1053.1,39.4 1053.3,37.7 1053.5,40.1 1053.7,41.9 1053.9,43 1054.1,45.2 1054.3,45.7 1054.5,43.7 1054.7,43 1054.9,43.2 1055.1,38.1 1055.3,48.1 1055.5,45.6 1055.7,39.9 1055.9,43.2 1056.1,44.2 1056.3,41.7 1056.5,41.9 1056.7,34.2 1056.9,39.5 1057.1,43 1057.3,46.7 1057.5,38.3 1057.7,45.7 1057.9,40.8 1058.1,38.7 1058.3,34.6 1058.5,40.4 1058.7,42.7 1058.9,32.8 1059.1,38.2 1059.3,41.5 1059.5,43 1059.7,42.4 1059.9,41.5 1060.1,44 1060.3,42.8 1060.5,40.7 1060.7,40.2 1060.9,40.7 1061.1,30.4 1061.3,41.5 1061.5,38.7 1061.7,44.1 1061.9,41.7 1062.1,42.5 1062.3,39 1062.5,42.6 1062.7,41.2 1062.9,36 1063.1,35.8 1063.3,36 1063.5,42.1 1063.7,42.4 1063.9,41.4 1064.1,43.7 1064.3,43.6 1064.5,37 1064.7,38.7 1064.9,40.4 1065.1,42.9 1065.3,43.2 1065.5,39 1065.7,45.7 1065.9,42.7 1066.1,42.1 1066.3,41.3 1066.5,42.4 1066.7,35.5 1066.9,38.8 1067.1,39 1067.3,43.1 1067.5,43 1067.7,40.2 1067.9,53.1 1068.1,32.8 1068.3,38.8 1068.5,47.2 1068.7,43.7 1068.9,36.1 1069.1,43.8 1069.3,42.7 1069.5,45.2 1069.7,45.1 1069.9,41.3 1070.1,35.3 1070.3,40 1070.5,40.3 1070.7,37.5 1070.9,41.4 1071.1,40.8 1071.3,39.1 1071.5,18.4 1071.7,42.7 1071.9,38.4 1072.1,38.8 1072.3,44.2 1072.5,38.4 1072.7,44.3 1072.9,40.7 1073.1,35.3 1073.3,40.4 1073.5,39.1 1073.7,41.5 1073.9,40.2 1074.1,42.1 1074.3,43.3 1074.5,41.6 1074.7,44.8 1074.9,38 1075.1,41 1075.3,42.2 1075.5,42.2 1075.7,46.7 1075.9,40.3 1076.1,43.5 1076.3,40.8 1076.5,41.4 1076.7,37.2 1076.9,41.2 1077.1,39.3 1077.3,48.2 1077.5,39.4 1077.7,43.2 1077.9,45.9 1078.1,43.9 1078.3,38.4 1078.5,39.5 1078.7,45.7 1078.9,37.4 1079.1,41.4 1079.3,45 1079.5,33.4 1079.7,38.6 1079.9,38.2 1080.1,39.4 1080.3,44.8 1080.5,38 1080.7,39.1 1080.9,44.5 1081.1,44.2 1081.3,31.3 1081.5,37.8 1081.7,37.2 1081.9,43.3 1082.1,41.2 1082.3,50.2 1082.5,41.8 1082.7,42.2 1082.9,36.4 1083.1,43.2 1083.3,34.7 1083.5,45.8 1083.7,36.7 1083.9,39.9 1084.1,37.6 1084.3,45.1 1084.5,40.8 1084.7,43.2 1084.9,43 1085.1,37.9 1085.3,38.6 1085.5,37.4 1085.7,38.5 1085.9,43.2 1086.1,42.5 1086.3,43.1 1086.5,38.3 1086.7,38 1086.9,44.5 1087.1,43.2 1087.3,41.8 1087.5,40.6 1087.7,44.3 1087.9,44.7 1088.1,40.1 1088.3,39.4 1088.5,36.5 1088.7,40.2 1088.9,37.8 1089.1,36.2 1089.3,42.6 1089.5,41.8 1089.7,41.3 1089.9,36.2 1090.1,38.4 1090.3,39.5 1090.5,47.2 1090.7,42.6 1090.9,44 1091.1,40.9 1091.3,37.8 1091.5,47.2 1091.7,42 1091.9,42.1 1092.1,43.8 1092.3,40.6 1092.5,42.1 1092.7,37.1 1092.9,41.7 1093.1,37.1 1093.3,36.4 1093.5,46.9 1093.7,33.7 1093.9,39.4 1094.1,40.9 1094.3,40.6 1094.5,45.1 1094.7,40.7 1094.9,42.9 1095.1,43.5 1095.3,36.1 1095.5,36.5 1095.7,42.2 1095.9,39.3 1096.1,37.6 1096.3,43.5 1096.5,42.2 1096.7,37.5 1096.9,42.9 1097.1,32.6 1097.3,40.8 1097.5,44 1097.7,44.8 1097.9,41.1 1098.1,44.7 1098.3,42.9 1098.5,40 1098.7,41.7 1098.9,43.3 1099.1,42.6 1099.3,38.1 1099.5,31.6 1099.7,47.5 1099.9,40 1100.1,34.2 1100.3,37.8 1100.5,41.8 1100.7,35.1 1100.9,42.4 1101.1,40.5 1101.3,45.2 1101.5,38.4 1101.7,41.2 1101.9,45.5 1102.1,43.3 1102.3,35.7 1102.5,40.5 1102.7,41.4 1102.9,35.4 1103.1,42.5 1103.3,44.5 1103.5,38.8 1103.7,38.9 1103.9,41.5 1104.1,44.7 1104.3,39 1104.5,39.1 1104.7,39.5 1104.9,40.9 1105.1,42.8 1105.3,37.9 1105.5,34.4 1105.7,36.4 1105.9,45.4 1106.1,38.3 1106.3,43.2 1106.5,41.5 1106.7,37.7 1106.9,41.8 1107.1,38.9 1107.3,39.7 1107.5,40 1107.7,37.4 1107.9,40.5 1108.1,45.7 1108.3,43.4 1108.5,46.2 1108.7,37.8 1108.9,49.2 1109.1,42.8 1109.3,42 1109.5,39.1 1109.7,37.9 1109.9,41.2 1110.1,45.4 1110.3,43.9 1110.5,48.6 1110.7,40 1110.9,36.4 1111.1,39.6 1111.3,45.1 1111.5,45.1 1111.7,37.6 1111.9,34.1 1112.1,44.8 1112.3,35.4 1112.5,43 1112.7,38.1 1112.9,40 1113.1,39.4 1113.3,43.6 1113.5,48.3 1113.7,36.6 1113.9,44.7 1114.1,42.8 1114.3,37.9 1114.5,38.6 1114.7,42 1114.9,36.6 1115.1,39.8 1115.3,43.8 1115.5,42.2 1115.7,37.1 1115.9,44.7 1116.1,43.1 1116.3,42.5 1116.5,45.5 1116.7,36.7 1116.9,41.4 1117.1,38.5 1117.3,35 1117.5,46.4 1117.7,39.6 1117.9,45.7 1118.1,40.3 1118.3,41 1118.5,43.7 1118.7,42.8 1118.9,36.3 1119.1,42.4 1119.3,37.2 1119.5,40.1 1119.7,42 1119.9,39.4 1120.1,31.1 1120.3,40.9 1120.5,37.9 1120.7,39 1120.9,37.5 1121.1,40.6 1121.3,41.1 1121.5,39.9 1121.7,44.8 1121.9,40.5 1122.1,41.4 1122.3,36.6 1122.5,40.2 1122.7,48.1 1122.9,23.9 1123.1,43.6 1123.3,41.8 1123.5,40.7 1123.7,37.6 1123.9,41.4 1124.1,36.3 1124.3,45.8 1124.5,42.2 1124.7,45.2 1124.9,42.6 1125.1,43.3 1125.3,43.4 1125.5,41.8 1125.7,46.1 1125.9,42.2 1126.1,42 1126.3,39.1 1126.5,40.4 1126.7,50.3 1126.9,39.6 1127.1,43.7 1127.3,41.2 1127.5,35.8 1127.7,43.5 1127.9,41.2 1128.1,40.9 1128.3,44.4 1128.5,42.1 1128.7,37.9 1128.9,42 1129.1,39.1 1129.3,38.5 1129.5,46.2 1129.7,34.4 1129.9,39.7 1130.1,39.5 1130.3,43.6 1130.5,44.7 1130.7,38.9 1130.9,33 1131.1,46.9 1131.3,38.6 1131.5,40.3 1131.7,40.1 1131.9,40 1132.1,41.6 1132.3,38.2 1132.5,42.9 1132.7,44.2 1132.9,38.8 1133.1,38.5 1133.3,44.6 1133.5,45.5 1133.7,43.1 1133.9,43.7 1134.1,34.9 1134.3,42 1134.5,41.7 1134.7,41 1134.9,44 1135.1,44.4 1135.3,41.2 1135.5,40.5 1135.7,45.9 1135.9,39.8 1136.1,39.4 1136.3,44.5 1136.5,40.8 1136.7,46.6 1136.9,46.4 1137.1,44.3 1137.3,42 1137.5,47.6 1137.7,40.1 1137.9,48 1138.1,42.9 1138.3,42.7 1138.5,42.1 1138.7,41.4 1138.9,37.3 1139.1,50.6 1139.3,44.4 1139.5,37.9 1139.7,35.1 1139.9,39.7 1140.1,40.2 1140.3,43 1140.5,39.1 1140.7,42.5 1140.9,38.5 1141.1,35.3 1141.3,44.7 1141.5,41.2 1141.7,37.7 1141.9,38.9 1142.1,43.1 1142.3,37.1 1142.5,41.8 1142.7,44.9 1142.9,39.9 1143.1,44 1143.3,45.8 1143.5,48.4 1143.7,44.4 1143.9,38.4 1144.1,37 1144.3,40.6 1144.5,47.7 1144.7,40.7 1144.9,44.2 1145.1,43 1145.3,48 1145.5,41.3 1145.7,35.8 1145.9,39.4 1146.1,42.3 1146.3,42.8 1146.5,43.1 1146.7,43.5 1146.9,42.2 1147.1,40.1 1147.3,41.2 1147.5,39.7 1147.7,42.4 1147.9,41.7 1148.1,47.1 1148.3,42.1 1148.5,38.6 1148.7,40.7 1148.9,36.4 1149.1,40.8 1149.3,42.6 1149.5,39.9 1149.7,45.4 1149.9,41.9 1150.1,39.2 1150.3,43.9 1150.5,43.5 1150.7,40.9 1150.9,42.6 1151.1,38.6 1151.3,51.4 1151.5,36.5 1151.7,40.4 1151.9,37.7 1152.1,41.1 1152.3,35.9 1152.5,42 1152.7,44.5 1152.9,37.3 1153.1,42.3 1153.3,36 1153.5,39.6 1153.7,41.4 1153.9,40.1 1154.1,44.3 1154.3,35.9 1154.5,36.2 1154.7,45.5 1154.9,36.9 1155.1,46.4 1155.3,43 1155.5,43.9 1155.7,40.8 1155.9,38.4 1156.1,41 1156.3,42.3 1156.5,39.5 1156.7,37.7 1156.9,43 1157.1,39.2 1157.3,43.5 1157.5,42.4 1157.7,45.8 1157.9,44.1 1158.1,24.1 1158.3,42.4 1158.5,41.6 1158.7,48.8 1158.9,40.6 1159.1,40.4 1159.3,40.4 1159.5,40.9 1159.7,39.2 1159.9,46.7 1160.1,42.4 1160.3,43 1160.5,45.6 1160.7,37.1 1160.9,46.2 1161.1,40.3 1161.3,42.4 1161.5,39.6 1161.7,39.3 1161.9,39.8 1162.1,42.6 1162.3,44.3 1162.5,41.9 1162.7,44.7 1162.9,40.1 1163.1,37.1 1163.3,38.3 1163.5,40.1 1163.7,46.5 1163.9,43.7 1164.1,43.9 1164.3,44.6 1164.5,39.1 1164.7,39.7 1164.9,35.1 1165.1,41.6 1165.3,39 1165.5,48.4 1165.7,42.1 1165.9,39.3 1166.1,47.5 1166.3,35.4 1166.5,38.3 1166.7,45.1 1166.9,39.1 1167.1,46.8 1167.3,43.7 1167.5,31.1 1167.7,40.2 1167.9,47.4 1168.1,43.1 1168.3,44.1 1168.5,43.4 1168.7,44.5 1168.9,40.2 1169.1,40.4 1169.3,42.3 1169.5,43.6 1169.7,43.6 1169.9,38.9 1170.1,39.8 1170.3,48.5 1170.5,45.1 1170.7,40.4 1170.9,35.9 1171.1,41.7 1171.3,42.6 1171.5,40.3 1171.7,37.9 1171.9,45.7 1172.1,40.5 1172.3,42.4 1172.5,42.5 1172.7,39.8 1172.9,43.5 1173.1,39.2 1173.3,39.2 1173.5,46.9 1173.7,41.7 1173.9,43.8 1174.1,38.9 1174.3,43.6 1174.5,42.6 1174.7,42.1 1174.9,43.9 1175.1,42.5 1175.3,37.7 1175.5,41 1175.7,39.4 1175.9,38.2 1176.1,43 1176.3,34.4 1176.5,42.4 1176.7,40.5 1176.9,45.4 1177.1,43.8 1177.3,43.5 1177.5,42.7 1177.7,35.8 1177.9,39.7 1178.1,37.7 1178.3,41.5 1178.5,42.1 1178.7,40 1178.9,33.5 1179.1,41.5 1179.3,40.1 1179.5,25.2 1179.7,48.1 1179.9,39.8 1180.1,39.1 1180.3,41.2 1180.5,41.1 1180.7,43.9 1180.9,47.2 1181.1,37.5 1181.3,49.5 1181.5,42.5 1181.7,39.6 1181.9,38.4 1182.1,45.5 1182.3,36.8 1182.5,38.9 1182.7,45.4 1182.9,34.4 1183.1,38.9 1183.3,45.1 1183.5,41.6 1183.7,40.1 1183.9,43.4 1184.1,35.4 1184.3,37.7 1184.5,42.9 1184.7,39.1 1184.9,35.2 1185.1,48.2 1185.3,40.9 1185.5,43.5 1185.7,42.6 1185.9,41.3 1186.1,39.2 1186.3,41 1186.5,34.5 1186.7,38.4 1186.9,44.1 1187.1,39.3 1187.3,39.8 1187.5,41.4 1187.7,42.6 1187.9,43.7 1188.1,40.8 1188.3,39.1 1188.5,37.7 1188.7,39.7 1188.9,26.1 1189.1,41.8 1189.3,39.5 1189.5,42.7 1189.7,40.5 1189.9,39.2 1190.1,38.9 1190.3,42.7 1190.5,38.4 1190.7,41 1190.9,45.7 1191.1,45.1 1191.3,41.4 1191.5,42.8 1191.7,42.9 1191.9,42.8 1192.1,40.2 1192.3,38.8 1192.5,36.3 1192.7,45.1 1192.9,44.8 1193.1,46 1193.3,41 1193.5,43.9 1193.7,44.4 1193.9,43.3 1194.1,49.1 1194.3,42 1194.5,39.1 1194.7,46.8 1194.9,37.6 1195.1,43.4 1195.3,40.1 1195.5,44.3 1195.7,38.8 1195.9,40.6 1196.1,35.7 1196.3,44.5 1196.5,39.3 1196.7,37.1 1196.9,38.2 1197.1,40.8 1197.3,39.2 1197.5,37.8 1197.7,47.1 1197.9,32.6 1198.1,40.2 1198.3,33 1198.5,39.5 1198.7,36.8 1198.9,36.9 1199.1,35.3 1199.3,39.6 1199.5,37.9 1199.7,42.6 1199.9,38.1 1200.1,45.2 1200.3,37.2 1200.5,46.3 1200.7,40.1 1200.9,47.7 1201.1,41.8 1201.3,41.5 1201.5,43.1 1201.7,30.7 1201.9,37.6 1202.1,38.9 1202.3,36.8 1202.5,43.3 1202.7,56.8 1202.9,32 1203.1,38.3 1203.3,41.6 1203.5,39 1203.7,43.5 1203.9,40.3 1204.1,43.2 1204.3,46.1 1204.5,41.5 1204.7,47.7 1204.9,40.1 1205.1,38 1205.3,42.6 1205.5,40 1205.7,38.1 1205.9,39.4 1206.1,35.7 1206.3,42.3 1206.5,40.9 1206.7,36.7 1206.9,40.4 1207.1,44.9 1207.3,44.2 1207.5,40.6 1207.7,42.1 1207.9,40 1208.1,47.6 1208.3,45.6 1208.5,40.2 1208.7,44.4 1208.9,39.9 1209.1,39.9 1209.3,36.6 1209.5,38.5 1209.7,38.1 1209.9,39.1 1210.1,38.3 1210.3,51.9 1210.5,32.3 1210.7,46.2 1210.9,39.9 1211.1,37.3 1211.3,43 1211.5,41.1 1211.7,41.1 1211.9,40 1212.1,45.6 1212.3,39 1212.5,44.3 1212.7,41.9 1212.9,43.7 1213.1,41.5 1213.3,50.2 1213.5,39.8 1213.7,42.2 1213.9,40.5 1214.1,41.6 1214.3,37.6 1214.5,39.6 1214.7,38 1214.9,38.6 1215.1,42.5 1215.3,42.6 1215.5,42.1 1215.7,41.1 1215.9,38.6 1216.1,42 1216.3,36 1216.5,37.1 1216.7,44.5 1216.9,42 1217.1,41.1 1217.3,51.6 1217.5,39.9 1217.7,45.7 1217.9,36.6 1218.1,28.5 1218.3,37.6 1218.5,43.6 1218.7,43.2 1218.9,40.7 1219.1,36.5 1219.3,38.9 1219.5,43.3 1219.7,42.3 1219.9,37.1 1220.1,41.5 1220.3,48.5 1220.5,40.5 1220.7,36.8 1220.9,40.9 1221.1,42.6 1221.3,45.9 1221.5,43.6 1221.7,37.6 1221.9,38.1 1222.1,44.8 1222.3,32.9 1222.5,44.7 1222.7,37.3 1222.9,41.3 1223.1,37.5 1223.3,38.1 1223.5,41.7 1223.7,43.9 1223.9,40.2 1224.1,39.7 1224.3,42.6 1224.5,44.3 1224.7,44.7 1224.9,40.5 1225.1,39.8 1225.3,44.2 1225.5,44 1225.7,47.1 1225.9,41.5 1226.1,42.5 1226.3,40.9 1226.5,35.4 1226.7,50.4 1226.9,44.7 1227.1,35.3 1227.3,41.5 1227.5,41.6 1227.7,38.8 1227.9,36.5 1228.1,38.7 1228.3,35.6 1228.5,42.2 1228.7,42.4 1228.9,34 1229.1,37.2 1229.3,38 1229.5,46.1 1229.7,42.7 1229.9,39.7 1230.1,38.9 1230.3,40.6 1230.5,29.4 1230.7,45.5 1230.9,43.2 1231.1,41.8 1231.3,41.3 1231.5,40.3 1231.7,35 1231.9,36.8 1232.1,43.1 1232.3,37.9 1232.5,41.1 1232.7,39.9 1232.9,39.9 1233.1,42.6 1233.3,40.6 1233.5,37.9 1233.7,43.2 1233.9,54.9 1234.1,46.3 1234.3,42.2 1234.5,40.5 1234.7,51.1 1234.9,42.5 1235.1,38.6 1235.3,51.4 1235.5,47.2 1235.7,42.2 1235.9,38.1 1236.1,35.8 1236.3,38.1 1236.5,48.2 1236.7,38.6 1236.9,37.2 1237.1,40.8 1237.3,44.3 1237.5,40.4 1237.7,35.3 1237.9,42 1238.1,45.2 1238.3,42.7 1238.5,39.7 1238.7,39.9 1238.9,46.8 1239.1,37.9 1239.3,41.9 1239.5,45.6 1239.7,40.5 1239.9,38.4 1240.1,42.5 1240.3,38.6 1240.5,45.5 1240.7,44.5 1240.9,43.9 1241.1,41.8 1241.3,41.9 1241.5,42.8 1241.7,37.8 1241.9,39.5 1242.1,40.2 1242.3,44.7 1242.5,47.4 1242.7,41 1242.9,47.6 1243.1,43.9 1243.3,39.5 1243.5,39.6 1243.7,41.8 1243.9,44.9 1244.1,37.3 1244.3,43.9 1244.5,27.3 1244.7,43.7 1244.9,40.6 1245.1,37.8 1245.3,30.9 1245.5,40.3 1245.7,43.9 1245.9,39.1 1246.1,41.6 1246.3,34.3 1246.5,38.2 1246.7,39.7 1246.9,37.8 1247.1,41.6 1247.3,35.5 1247.5,45.8 1247.7,39.4 1247.9,39 1248.1,44.2 1248.3,39.9 1248.5,44.5 1248.7,38.3 1248.9,38.6 1249.1,38.6 1249.3,46.2 1249.5,35.7 1249.7,41.5 1249.9,46.7 1250.1,39.2 1250.3,44.6 1250.5,47.5 1250.7,43.1 1250.9,41.6 1251.1,40.2 1251.3,38.7 1251.5,41.6 1251.7,43.2 1251.9,40.3 1252.1,44.3 1252.3,44.4 1252.5,43.5 1252.7,40.2 1252.9,43 1253.1,41.8 1253.3,47.5 1253.5,42 1253.7,43.2 1253.9,37.3 1254.1,41.6 1254.3,46.2 1254.5,42.5 1254.7,44.1 1254.9,40.3 1255.1,39.7 1255.3,42 1255.5,37.7 1255.7,40.2 1255.9,48 1256.1,40 1256.3,39.4 1256.5,45.5 1256.7,42.6 1256.9,39.7 1257.1,43.8 1257.3,40.8 1257.5,39.4 1257.7,41.7 1257.9,41.5 1258.1,39.7 1258.3,40.2 1258.5,45.5 1258.7,46.2 1258.9,41.8 1259.1,34 1259.3,41.3 1259.5,36.8 1259.7,39.6 1259.9,36.4 1260.1,46.7 1260.3,41.1 1260.5,45.5 1260.7,34.5 1260.9,46.5 1261.1,41.8 1261.3,44.1 1261.5,40.4 1261.7,39.2 1261.9,34.6 1262.1,40.2 1262.3,34.7 1262.5,39.8 1262.7,29.5 1262.9,40 1263.1,47.6 1263.3,42.9 1263.5,42.4 1263.7,47.3 1263.9,40.4 1264.1,38.5 1264.3,43.6 1264.5,41.8 1264.7,37.3 1264.9,45.2 1265.1,48.6 1265.3,33.7 1265.5,43.8 1265.7,40.6 1265.9,43.4 1266.1,32.2 1266.3,38.6 1266.5,44.2 1266.7,45.4 1266.9,42.5 1267.1,43.7 1267.3,44.4 1267.5,45.8 1267.7,51.3 1267.9,45.2 1268.1,40.6 1268.3,35.9 1268.5,43.3 1268.7,42.4 1268.9,38.7 1269.1,41.9 1269.3,39 1269.5,40 1269.7,45.4 1269.9,42.6 1270.1,41 1270.3,50.7 1270.5,43.3 1270.7,45.4 1270.9,44 1271.1,34.3 1271.3,41.9 1271.5,33.5 1271.7,45.9 1271.9,41.7 1272.1,40 1272.3,41.4 1272.5,38.1 1272.7,41.7 1272.9,46 1273.1,39.9 1273.3,41.9 1273.5,40.9 1273.7,47 1273.9,44.9 1274.1,34.8 1274.3,41 1274.5,35.9 1274.7,37.5 1274.9,43.6 1275.1,46.5 1275.3,39.3 1275.5,44 1275.7,37.1 1275.9,41.9 1276.1,44.9 1276.3,38.3 1276.5,43.5 1276.7,46.1 1276.9,40.1 1277.1,39.3 1277.3,43.8 1277.5,48.3 1277.7,42.8 1277.9,45.1 1278.1,42 1278.3,42.1 1278.5,39.9 1278.7,42.5 1278.9,42.1 1279.1,47 1279.3,44.8 1279.5,39.9 1279.7,37.7 1279.9,37.8 1280.1,41.1 1280.3,38.5 1280.5,38.5 1280.7,39 1280.9,40.9 1281.1,30.6 1281.3,37.4 1281.5,49.7 1281.7,40.5 1281.9,41.4 1282.1,46 1282.3,38.6 1282.5,41.2 1282.7,47.6 1282.9,46.5 1283.1,45.2 1283.3,36.4 1283.5,39.2 1283.7,41.6 1283.9,37.7 1284.1,38 1284.3,45.6 1284.5,35.4 1284.7,38.4 1284.9,39 1285.1,49.2 1285.3,40.9 1285.5,39.1 1285.7,38.2 1285.9,36.1 1286.1,45.3 1286.3,40.5 1286.5,42.8 1286.7,38.7 1286.9,45.1 1287.1,47.5 1287.3,41.8 1287.5,39.7 1287.7,37.2 1287.9,43.1 1288.1,39.4 1288.3,50.2 1288.5,43.1 1288.7,37.5 1288.9,36.7 1289.1,37.9 1289.3,43.6 1289.5,46.4 1289.7,42.3 1289.9,39.2 1290.1,45.1 1290.3,40.8 1290.5,42.3 1290.7,37.2 1290.9,41.6 1291.1,42.5 1291.3,37.5 1291.5,43.8 1291.7,43.5 1291.9,49.4 1292.1,30.1 1292.3,47 1292.5,39 1292.7,40.8 1292.9,37.1 1293.1,40 1293.3,40.4 1293.5,44.8 1293.7,35.4 1293.9,42.1 1294.1,48.1 1294.3,35 1294.5,36.8 1294.7,42.3 1294.9,36.1 1295.1,40 1295.3,36.2 1295.5,41.7 1295.7,49 1295.9,38.4 1296.1,47.1 1296.3,39.3 1296.5,41.4 1296.7,42.8 1296.9,35.5 1297.1,46.4 1297.3,42.3 1297.5,42 1297.7,47.2 1297.9,38.2 1298.1,42.4 1298.3,36.8 1298.5,43.4 1298.7,26.9 1298.9,40.5 1299.1,40.6 1299.3,48.7 1299.5,39.6 1299.7,43.6 1299.9,42.8 1300.1,34.9 1300.3,42.4 1300.5,43.1 1300.7,39.1 1300.9,37.4 1301.1,41 1301.3,42.8 1301.5,42.5 1301.7,36.6 1301.9,41.2 1302.1,36.8 1302.3,41.7 1302.5,42.2 1302.7,38.6 1302.9,40.1 1303.1,33.9 1303.3,32.6 1303.5,21.9 1303.7,40.5 1303.9,42 1304.1,41.4 1304.3,44.2 1304.5,42.3 1304.7,42 1304.9,40.4 1305.1,43.5 1305.3,39.5 1305.5,46.5 1305.7,40.6 1305.9,42.9 1306.1,41 1306.3,44 1306.5,38.9 1306.7,42.5 1306.9,38.7 1307.1,46.3 1307.3,39.3 1307.5,40.6 1307.7,37.2 1307.9,39.1 1308.1,37.4 1308.3,36.6 1308.5,44.1 1308.7,37.6 1308.9,37.8 1309.1,42 1309.3,48.7 1309.5,33.8 1309.7,43.4 1309.9,41.2 1310.1,43.5 1310.3,40.6 1310.5,43 1310.7,44.5 1310.9,39.3 1311.1,23.2 1311.3,36.7 1311.5,40.5 1311.7,42.2 1311.9,43.1 1312.1,37.9 1312.3,40.8 1312.5,39.8 1312.7,42.1 1312.9,41.7 1313.1,38.5 1313.3,44.2 1313.5,37.7 1313.7,46.9 1313.9,40.9 1314.1,42.8 1314.3,35.5 1314.5,44.1 1314.7,38.2 1314.9,34.4 1315.1,43.4 1315.3,33.8 1315.5,35.9 1315.7,44.2 1315.9,42.3 1316.1,43.5 1316.3,37.4 1316.5,30.7 1316.7,35.2 1316.9,37.4 1317.1,49.7 1317.3,35.8 1317.5,40.3 1317.7,40.3 1317.9,44.9 1318.1,46.7 1318.3,41.4 1318.5,44.6 1318.7,37.7 1318.9,42.8 1319.1,42.8 1319.3,37 1319.5,39.2 1319.7,38.6 1319.9,39.7 1320.1,40.8 1320.3,35.3 1320.5,40.4 1320.7,38.1 1320.9,38.8 1321.1,43.3 1321.3,40.9 1321.5,40.8 1321.7,39 1321.9,35.5 1322.1,36.2 1322.3,42.5 1322.5,48.6 1322.7,45.6 1322.9,39.3 1323.1,40.8 1323.3,40.7 1323.5,45.8 1323.7,41.1 1323.9,38.3 1324.1,42.8 1324.3,48.1 1324.5,27.2 1324.7,39.7 1324.9,44.7 1325.1,38.2 1325.3,41.3 1325.5,39.1 1325.7,36.3 1325.9,46 1326.1,35.1 1326.3,43 1326.5,41.9 1326.7,43.1 1326.9,41.8 1327.1,46.1 1327.3,44.1 1327.5,40.7 1327.7,42.7 1327.9,44.7 1328.1,46.9 1328.3,38.3 1328.5,41 1328.7,37 1328.9,36.2 1329.1,41.3 1329.3,38.5 1329.5,40.1 1329.7,44.4 1329.9,40.5 1330.1,40 1330.3,35.7 1330.5,41.2 1330.7,36.8 1330.9,44.1 1331.1,35.6 1331.3,41.9 1331.5,35.8 1331.7,43.8 1331.9,41.8 1332.1,37.2 1332.3,38.5 1332.5,47.2 1332.7,44 1332.9,41.9 1333.1,40.3 1333.3,40.5 1333.5,39.3 1333.7,39.1 1333.9,40.9 1334.1,42.3 1334.3,30 1334.5,35.9 1334.7,41.3 1334.9,39.8 1335.1,39.1 1335.3,44.4 1335.5,42.6 1335.7,39.3 1335.9,37.7 1336.1,47.7 1336.3,42.8 1336.5,33.5 1336.7,42.5 1336.9,53.4 1337.1,42.4 1337.3,48.1 1337.5,38.5 1337.7,42 1337.9,42.8 1338.1,46.2 1338.3,40 1338.5,38.9 1338.7,50.9 1338.9,38 1339.1,44.4 1339.3,41.1 1339.5,37.7 1339.7,42.8 1339.9,40.5 1340.1,40.4 1340.3,46.1 1340.5,33.6 1340.7,41.9 1340.9,36.4 1341.1,42 1341.3,40.4 1341.5,39.2 1341.7,41.3 1341.9,42.6 1342.1,43.3 1342.3,39.7 1342.5,42.7 1342.7,40.7 1342.9,39.2 1343.1,43.3 1343.3,42.3 1343.5,43.5 1343.7,40.6 1343.9,36.7 1344.1,44.1 1344.3,41 1344.5,38.5 1344.7,37.5 1344.9,44.2 1345.1,43.1 1345.3,44 1345.5,41.5 1345.7,39 1345.9,39.7 1346.1,45 1346.3,36.4 1346.5,40.7 1346.7,39.6 1346.9,39.9 1347.1,55.4 1347.3,35.1 1347.5,42.1 1347.7,37.9 1347.9,47.6 1348.1,40.3 1348.3,40.6 1348.5,42.5 1348.7,43.1 1348.9,40.8 1349.1,45 1349.3,41.3 1349.5,44.4 1349.7,40.1 1349.9,38.3 1350.1,39.6 1350.3,38.5 1350.5,36.3 1350.7,35.9 1350.9,37.6 1351.1,43 1351.3,45.9 1351.5,37.9 1351.7,41.5 1351.9,33.1 1352.1,44.1 1352.3,47.2 1352.5,39.5 1352.7,43.3 1352.9,35.4 1353.1,42.3 1353.3,43.9 1353.5,42 1353.7,43.3 1353.9,44.8 1354.1,48.6 1354.3,41.6 1354.5,41.2 1354.7,43.4 1354.9,38.9 1355.1,44 1355.3,38.5 1355.5,42 1355.7,38.7 1355.9,37.6 1356.1,41.4 1356.3,38.4 1356.5,37.6 1356.7,40.3 1356.9,38.3 1357.1,41.9 1357.3,42.7 1357.5,42.5 1357.7,46.8 1357.9,41 1358.1,40.1 1358.3,46.3 1358.5,39.6 1358.7,37 1358.9,49.7 1359.1,38.6 1359.3,38.5 1359.5,40 1359.7,41.3 1359.9,39.7 1360.1,34.3 1360.3,41.2 1360.5,41.9 1360.7,42.2 1360.9,46.4 1361.1,38.2 1361.3,47.5 1361.5,42.4 1361.7,33.1 1361.9,46.7 1361.9,118.3 1361.7,124.4 1361.5,119 1361.3,125.1 1361.1,128.9 1360.9,120.4 1360.7,121.6 1360.5,119.6 1360.3,124.3 1360.1,120.3 1359.9,125.4 1359.7,123.5 1359.5,119 1359.3,120.1 1359.1,122.1 1358.9,121.9 1358.7,115.8 1358.5,126.8 1358.3,119.4 1358.1,127.8 1357.9,120.5 1357.7,121.4 1357.5,124.8 1357.3,124 1357.1,126 1356.9,129 1356.7,130.1 1356.5,119.9 1356.3,116.1 1356.1,125.9 1355.9,120.5 1355.7,123.8 1355.5,122 1355.3,123.7 1355.1,118.6 1354.9,119.2 1354.7,120.4 1354.5,124.7 1354.3,137.5 1354.1,129.4 1353.9,123.5 1353.7,126.5 1353.5,117.6 1353.3,121.8 1353.1,120.1 1352.9,122.7 1352.7,126.1 1352.5,127.3 1352.3,130.2 1352.1,125.7 1351.9,118.2 1351.7,127.7 1351.5,127.4 1351.3,123.3 1351.1,117.8 1350.9,126.8 1350.7,124 1350.5,124.3 1350.3,120.8 1350.1,123.7 1349.9,127 1349.7,112.8 1349.5,127.5 1349.3,119.4 1349.1,127.1 1348.9,119.6 1348.7,121.9 1348.5,118.7 1348.3,115.3 1348.1,122.6 1347.9,123.9 1347.7,127.3 1347.5,122 1347.3,123.8 1347.1,117.7 1346.9,130 1346.7,120.6 1346.5,121.2 1346.3,123.2 1346.1,128.2 1345.9,124.7 1345.7,122.2 1345.5,133.2 1345.3,122.4 1345.1,122.1 1344.9,120.8 1344.7,119.4 1344.5,125.4 1344.3,121.2 1344.1,122.2 1343.9,122 1343.7,125.4 1343.5,121.8 1343.3,126.5 1343.1,121 1342.9,112.8 1342.7,121.1 1342.5,124.3 1342.3,122.7 1342.1,120 1341.9,119.8 1341.7,115.5 1341.5,124.1 1341.3,120.1 1341.1,122.9 1340.9,113.3 1340.7,124.3 1340.5,119.7 1340.3,129 1340.1,122.9 1339.9,112.8 1339.7,123.3 1339.5,122.1 1339.3,123.6 1339.1,123.7 1338.9,125 1338.7,118.9 1338.5,122.2 1338.3,121.1 1338.1,125.9 1337.9,124 1337.7,121.4 1337.5,122.3 1337.3,126.6 1337.1,119.1 1336.9,125.2 1336.7,124.7 1336.5,122.2 1336.3,122.6 1336.1,120.9 1335.9,122.6 1335.7,124.4 1335.5,121.1 1335.3,123.1 1335.1,120.9 1334.9,123.4 1334.7,120.6 1334.5,120.1 1334.3,125.3 1334.1,123.1 1333.9,127.6 1333.7,124.5 1333.5,124.5 1333.3,123.8 1333.1,121.8 1332.9,127.4 1332.7,117.4 1332.5,119.4 1332.3,116.3 1332.1,121.4 1331.9,119.1 1331.7,120.2 1331.5,125.7 1331.3,118.8 1331.1,120.6 1330.9,124.3 1330.7,125 1330.5,123.1 1330.3,126.3 1330.1,125.2 1329.9,119.6 1329.7,117.5 1329.5,122.9 1329.3,122.7 1329.1,126.2 1328.9,125 1328.7,119.2 1328.5,119.6 1328.3,126.7 1328.1,124.3 1327.9,122.5 1327.7,123.1 1327.5,129.6 1327.3,123.9 1327.1,118.7 1326.9,124.6 1326.7,123.4 1326.5,124.3 1326.3,121.7 1326.1,125.6 1325.9,127.5 1325.7,125.2 1325.5,126 1325.3,116.7 1325.1,127.7 1324.9,117.7 1324.7,114 1324.5,123.7 1324.3,127.6 1324.1,118.8 1323.9,126.6 1323.7,120.3 1323.5,119.6 1323.3,121 1323.1,107 1322.9,124.2 1322.7,128.3 1322.5,124.4 1322.3,115.5 1322.1,128 1321.9,119.5 1321.7,122.8 1321.5,125.7 1321.3,125.5 1321.1,118 1320.9,124.9 1320.7,126.7 1320.5,118.6 1320.3,123.4 1320.1,124.8 1319.9,124.6 1319.7,115.8 1319.5,121 1319.3,123 1319.1,126.1 1318.9,118.8 1318.7,119.4 1318.5,115.8 1318.3,125.6 1318.1,125.1 1317.9,125.2 1317.7,119.8 1317.5,126.1 1317.3,120.8 1317.1,121.1 1316.9,120 1316.7,119.6 1316.5,120.4 1316.3,118.5 1316.1,120.6 1315.9,121.5 1315.7,119.1 1315.5,117.6 1315.3,126.7 1315.1,120.5 1314.9,127.2 1314.7,123 1314.5,127.6 1314.3,118.1 1314.1,126.7 1313.9,126.3 1313.7,119.1 1313.5,123.4 1313.3,129.8 1313.1,121.3 1312.9,123.3 1312.7,124.1 1312.5,127.6 1312.3,119.1 1312.1,118.6 1311.9,122.2 1311.7,121.9 1311.5,116.1 1311.3,127.1 1311.1,121 1310.9,123.8 1310.7,123.3 1310.5,126.1 1310.3,117.6 1310.1,122.3 1309.9,118.9 1309.7,124 1309.5,120.6 1309.3,121.1 1309.1,121.9 1308.9,120.1 1308.7,124.8 1308.5,124.5 1308.3,118.9 1308.1,126.8 1307.9,124.8 1307.7,124.2 1307.5,124.6 1307.3,125.7 1307.1,131.4 1306.9,126 1306.7,124.3 1306.5,118.8 1306.3,117.9 1306.1,123.3 1305.9,123.4 1305.7,126.3 1305.5,121.8 1305.3,116.9 1305.1,121 1304.9,118.2 1304.7,123.7 1304.5,120.1 1304.3,119.6 1304.1,116.2 1303.9,122.1 1303.7,121.2 1303.5,123.9 1303.3,123.9 1303.1,119.6 1302.9,115.8 1302.7,124.9 1302.5,123 1302.3,116 1302.1,127.7 1301.9,117.7 1301.7,121 1301.5,118.6 1301.3,129.4 1301.1,121.3 1300.9,125.9 1300.7,120.3 1300.5,123.2 1300.3,128.4 1300.1,120.1 1299.9,130.7 1299.7,117.5 1299.5,118.5 1299.3,125.8 1299.1,118.5 1298.9,121.5 1298.7,121.9 1298.5,126.3 1298.3,121.8 1298.1,123.2 1297.9,121.9 1297.7,123.4 1297.5,120.3 1297.3,118.6 1297.1,119.9 1296.9,123.2 1296.7,123.7 1296.5,116.3 1296.3,118.4 1296.1,128.3 1295.9,123.7 1295.7,128 1295.5,126.1 1295.3,119.4 1295.1,112.2 1294.9,128.7 1294.7,127 1294.5,125 1294.3,123.6 1294.1,122.9 1293.9,124.5 1293.7,122.3 1293.5,127.6 1293.3,119 1293.1,121.8 1292.9,120.6 1292.7,126.5 1292.5,116.9 1292.3,127.2 1292.1,124.8 1291.9,121.9 1291.7,123.4 1291.5,122 1291.3,120.7 1291.1,130.4 1290.9,123.9 1290.7,119.6 1290.5,122.3 1290.3,119.2 1290.1,122.4 1289.9,119.9 1289.7,130.6 1289.5,117.8 1289.3,123.1 1289.1,124.9 1288.9,123.8 1288.7,126.1 1288.5,114.9 1288.3,122.5 1288.1,120.2 1287.9,122.2 1287.7,121.3 1287.5,129 1287.3,117.4 1287.1,117.6 1286.9,121.8 1286.7,122.8 1286.5,117.7 1286.3,126.6 1286.1,124.2 1285.9,119 1285.7,120.5 1285.5,127.9 1285.3,119 1285.1,122.1 1284.9,119.9 1284.7,120.1 1284.5,119.9 1284.3,124.3 1284.1,120.6 1283.9,122.2 1283.7,121.1 1283.5,127.8 1283.3,124.6 1283.1,124.1 1282.9,122.7 1282.7,115.4 1282.5,124.5 1282.3,127.9 1282.1,122.7 1281.9,134.9 1281.7,121.8 1281.5,122.6 1281.3,119.2 1281.1,121 1280.9,124.4 1280.7,121.8 1280.5,120.1 1280.3,116.6 1280.1,124.6 1279.9,122.8 1279.7,122.2 1279.5,118 1279.3,123.5 1279.1,120.3 1278.9,121.1 1278.7,115.9 1278.5,123.9 1278.3,122 1278.1,125.7 1277.9,116 1277.7,120.8 1277.5,123.4 1277.3,123.7 1277.1,117.9 1276.9,123.5 1276.7,123.7 1276.5,120 1276.3,124.5 1276.1,119.6 1275.9,124.1 1275.7,118.8 1275.5,125.1 1275.3,119.4 1275.1,122.6 1274.9,120.5 1274.7,119.4 1274.5,124.1 1274.3,123.8 1274.1,113.2 1273.9,122.8 1273.7,122.6 1273.5,126.8 1273.3,129.8 1273.1,120.3 1272.9,125.4 1272.7,128.4 1272.5,125.9 1272.3,124.8 1272.1,130.3 1271.9,115.6 1271.7,127 1271.5,126.6 1271.3,123.5 1271.1,126.2 1270.9,126.6 1270.7,124.9 1270.5,119 1270.3,127 1270.1,126.6 1269.9,119.8 1269.7,120 1269.5,120.9 1269.3,122.3 1269.1,118.1 1268.9,127.4 1268.7,122.4 1268.5,120.9 1268.3,124.4 1268.1,123.4 1267.9,123.6 1267.7,139.2 1267.5,123.2 1267.3,123.7 1267.1,124.9 1266.9,122.4 1266.7,121.7 1266.5,127.4 1266.3,123.2 1266.1,128.1 1265.9,117.1 1265.7,126.4 1265.5,123.7 1265.3,128.2 1265.1,123 1264.9,121.7 1264.7,130.1 1264.5,118 1264.3,118.7 1264.1,121.9 1263.9,120.5 1263.7,126.1 1263.5,123.6 1263.3,118.4 1263.1,120.6 1262.9,123 1262.7,128.1 1262.5,119.8 1262.3,127 1262.1,122.3 1261.9,121.7 1261.7,120.5 1261.5,121.4 1261.3,124.9 1261.1,113.6 1260.9,116.5 1260.7,119.1 1260.5,120.4 1260.3,118.3 1260.1,126 1259.9,123.1 1259.7,134.7 1259.5,120.7 1259.3,122.2 1259.1,127.2 1258.9,126.4 1258.7,120.4 1258.5,119.3 1258.3,126 1258.1,120.3 1257.9,122.7 1257.7,128.1 1257.5,121 1257.3,119.6 1257.1,121.7 1256.9,123.6 1256.7,122.2 1256.5,119.3 1256.3,119.9 1256.1,120 1255.9,120.2 1255.7,120 1255.5,120.2 1255.3,121.3 1255.1,118.9 1254.9,116.7 1254.7,113.9 1254.5,123.9 1254.3,123.1 1254.1,124.1 1253.9,118.4 1253.7,123.3 1253.5,129.1 1253.3,125 1253.1,122.5 1252.9,124.7 1252.7,125.5 1252.5,123.1 1252.3,122.2 1252.1,124.6 1251.9,118.3 1251.7,122.6 1251.5,125.8 1251.3,123.4 1251.1,125.2 1250.9,123 1250.7,122.4 1250.5,117.4 1250.3,121 1250.1,126.5 1249.9,130.5 1249.7,122.4 1249.5,117.8 1249.3,125.1 1249.1,122.5 1248.9,125.2 1248.7,116.1 1248.5,121.8 1248.3,124.5 1248.1,126.1 1247.9,129.5 1247.7,122.9 1247.5,120.2 1247.3,125.2 1247.1,120 1246.9,123.3 1246.7,127.1 1246.5,127.2 1246.3,120.4 1246.1,120 1245.9,126 1245.7,124.4 1245.5,127.2 1245.3,124.3 1245.1,119.8 1244.9,126 1244.7,124 1244.5,121.7 1244.3,118.8 1244.1,121.9 1243.9,122.6 1243.7,131.2 1243.5,127.1 1243.3,122.7 1243.1,120.3 1242.9,127.2 1242.7,117.2 1242.5,117.5 1242.3,124.2 1242.1,122 1241.9,118.7 1241.7,122.1 1241.5,119.8 1241.3,119.6 1241.1,120 1240.9,123.1 1240.7,124.9 1240.5,129.4 1240.3,119.4 1240.1,119.4 1239.9,120.9 1239.7,121.8 1239.5,123.2 1239.3,117.1 1239.1,118.7 1238.9,126.6 1238.7,130.4 1238.5,120.3 1238.3,123.7 1238.1,121.4 1237.9,122.5 1237.7,124.6 1237.5,120.6 1237.3,121.8 1237.1,125.3 1236.9,120.5 1236.7,121.2 1236.5,115.3 1236.3,119.7 1236.1,126.3 1235.9,124.7 1235.7,126.9 1235.5,122.2 1235.3,122.9 1235.1,122.4 1234.9,120.7 1234.7,119.4 1234.5,128.4 1234.3,127.3 1234.1,122 1233.9,127 1233.7,122 1233.5,124.1 1233.3,113.9 1233.1,118.2 1232.9,124.9 1232.7,129.6 1232.5,119.8 1232.3,120.3 1232.1,127.7 1231.9,124.5 1231.7,121.9 1231.5,122.5 1231.3,120.5 1231.1,116.8 1230.9,128.2 1230.7,120.9 1230.5,124.9 1230.3,118 1230.1,129.2 1229.9,125 1229.7,117.6 1229.5,123.2 1229.3,126.7 1229.1,125.6 1228.9,122.2 1228.7,122.8 1228.5,123.9 1228.3,120.9 1228.1,117.3 1227.9,121.5 1227.7,123.1 1227.5,122.3 1227.3,120.4 1227.1,124.3 1226.9,130.5 1226.7,121 1226.5,121.2 1226.3,129.7 1226.1,129.8 1225.9,118.2 1225.7,120.6 1225.5,126.2 1225.3,120.6 1225.1,121.8 1224.9,127.6 1224.7,121.5 1224.5,125.1 1224.3,119.5 1224.1,128.6 1223.9,120.2 1223.7,123.2 1223.5,118.8 1223.3,127.2 1223.1,124.8 1222.9,123.7 1222.7,122.6 1222.5,127.6 1222.3,119.7 1222.1,124.6 1221.9,117.9 1221.7,125.6 1221.5,123 1221.3,121.3 1221.1,121.7 1220.9,122 1220.7,119.9 1220.5,118.6 1220.3,119.1 1220.1,119.6 1219.9,121.6 1219.7,122.8 1219.5,123.7 1219.3,119.7 1219.1,126.5 1218.9,126.3 1218.7,129.4 1218.5,124.2 1218.3,118.9 1218.1,128 1217.9,127.2 1217.7,112.1 1217.5,123 1217.3,123.2 1217.1,123.1 1216.9,122.8 1216.7,129.5 1216.5,125.1 1216.3,124.6 1216.1,125.4 1215.9,127.2 1215.7,126 1215.5,120.9 1215.3,119.8 1215.1,121.3 1214.9,120.3 1214.7,120 1214.5,126.9 1214.3,123.8 1214.1,123.6 1213.9,125.3 1213.7,126.1 1213.5,128 1213.3,127.7 1213.1,124.7 1212.9,126.8 1212.7,123.9 1212.5,122.9 1212.3,124.4 1212.1,116.6 1211.9,122.2 1211.7,119.3 1211.5,132.5 1211.3,120.5 1211.1,120.3 1210.9,124.2 1210.7,123.1 1210.5,123 1210.3,121.9 1210.1,124.5 1209.9,117.5 1209.7,122.2 1209.5,125.5 1209.3,119.1 1209.1,121.7 1208.9,123.7 1208.7,120.2 1208.5,124.5 1208.3,123.9 1208.1,120.8 1207.9,125.5 1207.7,122.1 1207.5,125.7 1207.3,118.5 1207.1,128 1206.9,119.6 1206.7,128 1206.5,121.8 1206.3,124.9 1206.1,120.6 1205.9,121.3 1205.7,124.9 1205.5,122 1205.3,125.1 1205.1,117.9 1204.9,125.2 1204.7,117.7 1204.5,125.8 1204.3,124.2 1204.1,123.2 1203.9,128.5 1203.7,119.8 1203.5,127.3 1203.3,126 1203.1,126.5 1202.9,121.7 1202.7,116.8 1202.5,121.1 1202.3,125.8 1202.1,116.6 1201.9,125.8 1201.7,118.8 1201.5,125.5 1201.3,118 1201.1,121.9 1200.9,121.1 1200.7,119 1200.5,112.2 1200.3,128.4 1200.1,121.8 1199.9,117 1199.7,120.7 1199.5,124.4 1199.3,125.2 1199.1,134.1 1198.9,124.2 1198.7,116.2 1198.5,126.6 1198.3,120 1198.1,120.8 1197.9,123.6 1197.7,126.8 1197.5,123.4 1197.3,125.3 1197.1,118.2 1196.9,124.1 1196.7,126.2 1196.5,116.7 1196.3,126.4 1196.1,126.5 1195.9,121.1 1195.7,121 1195.5,121.8 1195.3,118.5 1195.1,135.5 1194.9,122.6 1194.7,118 1194.5,107.9 1194.3,122 1194.1,117.7 1193.9,125.8 1193.7,126 1193.5,121 1193.3,122.7 1193.1,126.9 1192.9,125.2 1192.7,127.8 1192.5,121.5 1192.3,125.7 1192.1,125.1 1191.9,131.5 1191.7,129.3 1191.5,124.2 1191.3,120.1 1191.1,123.5 1190.9,116.8 1190.7,126.3 1190.5,127.2 1190.3,115.4 1190.1,121.2 1189.9,124.1 1189.7,125.2 1189.5,121.6 1189.3,126.1 1189.1,122.4 1188.9,121 1188.7,135.6 1188.5,127.4 1188.3,121.3 1188.1,120.9 1187.9,123.6 1187.7,124.3 1187.5,121.7 1187.3,124.2 1187.1,121.9 1186.9,127.5 1186.7,126.3 1186.5,125.1 1186.3,121 1186.1,123.1 1185.9,123.2 1185.7,128.2 1185.5,120.7 1185.3,125.1 1185.1,119.6 1184.9,125.6 1184.7,123.2 1184.5,130.6 1184.3,126.6 1184.1,127.4 1183.9,120.4 1183.7,121.2 1183.5,116.8 1183.3,118.4 1183.1,118.2 1182.9,126.4 1182.7,124 1182.5,126.1 1182.3,123.8 1182.1,124.9 1181.9,120.2 1181.7,122.8 1181.5,114.7 1181.3,124 1181.1,116.9 1180.9,128.9 1180.7,125.1 1180.5,122.1 1180.3,124.1 1180.1,122.6 1179.9,125.2 1179.7,126.7 1179.5,119.6 1179.3,123.5 1179.1,127.1 1178.9,120.8 1178.7,117 1178.5,127.7 1178.3,119.5 1178.1,125.7 1177.9,122.9 1177.7,124.7 1177.5,116.5 1177.3,125.7 1177.1,123.7 1176.9,129.6 1176.7,122.6 1176.5,119 1176.3,122.9 1176.1,120.9 1175.9,125.7 1175.7,122.3 1175.5,129.5 1175.3,129.1 1175.1,119.9 1174.9,121.9 1174.7,127.1 1174.5,123.7 1174.3,110 1174.1,122.8 1173.9,122.9 1173.7,119.7 1173.5,119.9 1173.3,125.4 1173.1,122.4 1172.9,123.8 1172.7,121.8 1172.5,117.8 1172.3,126.2 1172.1,124.5 1171.9,126.2 1171.7,128.9 1171.5,111.6 1171.3,123.4 1171.1,127.3 1170.9,121.8 1170.7,119.7 1170.5,127.7 1170.3,130.1 1170.1,125.6 1169.9,124.3 1169.7,129.6 1169.5,118.1 1169.3,120.7 1169.1,127.5 1168.9,124.3 1168.7,119.6 1168.5,125.3 1168.3,126.5 1168.1,123.5 1167.9,117.5 1167.7,119.3 1167.5,124.8 1167.3,126 1167.1,124.9 1166.9,120.7 1166.7,120.6 1166.5,129.3 1166.3,125.6 1166.1,120 1165.9,124.3 1165.7,122.5 1165.5,121.2 1165.3,119.4 1165.1,125.4 1164.9,128.1 1164.7,126 1164.5,113.8 1164.3,118 1164.1,120.2 1163.9,122.8 1163.7,124.6 1163.5,120.5 1163.3,122.3 1163.1,125 1162.9,121.6 1162.7,124 1162.5,117.9 1162.3,122.3 1162.1,126.9 1161.9,122.7 1161.7,123.9 1161.5,125.2 1161.3,125.6 1161.1,125.6 1160.9,124.4 1160.7,121.3 1160.5,119.4 1160.3,124 1160.1,119.5 1159.9,121.2 1159.7,120.6 1159.5,125.2 1159.3,122.3 1159.1,121.3 1158.9,117.7 1158.7,118.9 1158.5,116 1158.3,122 1158.1,124.3 1157.9,120.1 1157.7,124.8 1157.5,118.7 1157.3,121.4 1157.1,124.5 1156.9,123.3 1156.7,123.4 1156.5,124.7 1156.3,125.8 1156.1,120.9 1155.9,122 1155.7,125.6 1155.5,127.7 1155.3,121.3 1155.1,129.4 1154.9,116.5 1154.7,120.4 1154.5,122.7 1154.3,123.6 1154.1,122.9 1153.9,123.9 1153.7,121.7 1153.5,125.7 1153.3,116 1153.1,122.2 1152.9,118.1 1152.7,125.5 1152.5,117.3 1152.3,121.4 1152.1,130.3 1151.9,120.4 1151.7,125 1151.5,129.1 1151.3,120.9 1151.1,121.8 1150.9,124.9 1150.7,119 1150.5,123.2 1150.3,119.4 1150.1,121.3 1149.9,123 1149.7,121.4 1149.5,127.6 1149.3,120.1 1149.1,131.1 1148.9,126.5 1148.7,119.5 1148.5,127.8 1148.3,124.6 1148.1,130.3 1147.9,121.7 1147.7,120.1 1147.5,130.1 1147.3,125.5 1147.1,126.3 1146.9,123.8 1146.7,124.8 1146.5,124.4 1146.3,123.9 1146.1,121.5 1145.9,127.4 1145.7,121.9 1145.5,126.9 1145.3,128.2 1145.1,134.3 1144.9,122.6 1144.7,121.4 1144.5,127.7 1144.3,125.3 1144.1,121.7 1143.9,120.4 1143.7,122 1143.5,125.3 1143.3,126.7 1143.1,119.4 1142.9,120.9 1142.7,118.3 1142.5,132 1142.3,120.4 1142.1,122.1 1141.9,124.8 1141.7,124.2 1141.5,120 1141.3,127.1 1141.1,118.6 1140.9,124.4 1140.7,114.1 1140.5,123.3 1140.3,124.2 1140.1,128 1139.9,124.9 1139.7,127.9 1139.5,115.5 1139.3,124.8 1139.1,124.1 1138.9,123 1138.7,123.4 1138.5,121.7 1138.3,117.2 1138.1,128.4 1137.9,122.4 1137.7,126.4 1137.5,119.4 1137.3,122.2 1137.1,129.3 1136.9,127.7 1136.7,122.8 1136.5,117.8 1136.3,122.6 1136.1,120.7 1135.9,117.7 1135.7,120.5 1135.5,121.2 1135.3,125.4 1135.1,119.1 1134.9,121.9 1134.7,133.1 1134.5,117.3 1134.3,124.3 1134.1,122.5 1133.9,121.2 1133.7,123.4 1133.5,124 1133.3,128.4 1133.1,119.4 1132.9,122.9 1132.7,125 1132.5,121.5 1132.3,120.1 1132.1,121.2 1131.9,126.3 1131.7,122.8 1131.5,127.1 1131.3,116.7 1131.1,123.9 1130.9,117.7 1130.7,137.3 1130.5,123.5 1130.3,114.9 1130.1,117.8 1129.9,119.3 1129.7,123.9 1129.5,116.4 1129.3,120.4 1129.1,129.4 1128.9,118.7 1128.7,120.4 1128.5,131.4 1128.3,121.7 1128.1,121.2 1127.9,128.8 1127.7,119.7 1127.5,122.9 1127.3,123.2 1127.1,126 1126.9,125.9 1126.7,116.4 1126.5,120.4 1126.3,118.4 1126.1,124.7 1125.9,117.5 1125.7,124.1 1125.5,121.6 1125.3,120.1 1125.1,124 1124.9,119.9 1124.7,120.2 1124.5,127.3 1124.3,117.4 1124.1,123.6 1123.9,129.1 1123.7,130.3 1123.5,127.2 1123.3,123.6 1123.1,116.4 1122.9,130 1122.7,121 1122.5,123.1 1122.3,124.7 1122.1,121.1 1121.9,120 1121.7,119.4 1121.5,120.4 1121.3,127.6 1121.1,118.4 1120.9,125.9 1120.7,115 1120.5,120.5 1120.3,121.9 1120.1,125.7 1119.9,124.2 1119.7,125.6 1119.5,123.5 1119.3,124.7 1119.1,132.7 1118.9,125.4 1118.7,126.3 1118.5,122.1 1118.3,122.2 1118.1,124.5 1117.9,124.5 1117.7,121.7 1117.5,124.4 1117.3,121.9 1117.1,121.6 1116.9,123.8 1116.7,121.1 1116.5,120 1116.3,118.9 1116.1,117.3 1115.9,118.1 1115.7,123.8 1115.5,121.5 1115.3,121 1115.1,131.9 1114.9,119.8 1114.7,120.3 1114.5,124.4 1114.3,123.3 1114.1,115.3 1113.9,129.7 1113.7,118.9 1113.5,123.8 1113.3,114.4 1113.1,127.3 1112.9,124.9 1112.7,124.7 1112.5,115.3 1112.3,128.2 1112.1,119.8 1111.9,124.9 1111.7,125.6 1111.5,123.3 1111.3,124.4 1111.1,119.3 1110.9,120.2 1110.7,122.5 1110.5,121 1110.3,125.3 1110.1,116.9 1109.9,122.5 1109.7,117 1109.5,127.6 1109.3,125 1109.1,113.9 1108.9,127.9 1108.7,120.9 1108.5,124.1 1108.3,123.7 1108.1,124.2 1107.9,120.4 1107.7,135.8 1107.5,124.7 1107.3,125.3 1107.1,126.5 1106.9,121.1 1106.7,115.8 1106.5,127.6 1106.3,124.1 1106.1,118 1105.9,124.7 1105.7,124.5 1105.5,122 1105.3,125.7 1105.1,124 1104.9,123.7 1104.7,124.1 1104.5,122.3 1104.3,128.5 1104.1,124.2 1103.9,120 1103.7,119.5 1103.5,118.1 1103.3,124.1 1103.1,119.4 1102.9,123.4 1102.7,125.1 1102.5,118.2 1102.3,124.8 1102.1,126.1 1101.9,119.5 1101.7,125.6 1101.5,123 1101.3,120.4 1101.1,124.5 1100.9,122.9 1100.7,123.9 1100.5,120.7 1100.3,122.7 1100.1,118.8 1099.9,125.9 1099.7,120 1099.5,123.6 1099.3,129.1 1099.1,121.9 1098.9,117.7 1098.7,120.7 1098.5,122.9 1098.3,118.1 1098.1,117.7 1097.9,127.5 1097.7,123.7 1097.5,124.4 1097.3,120.8 1097.1,126.5 1096.9,127.1 1096.7,122.1 1096.5,115.1 1096.3,117.6 1096.1,115.5 1095.9,123.8 1095.7,123 1095.5,125.6 1095.3,127.5 1095.1,123.1 1094.9,121.6 1094.7,123.1 1094.5,125.1 1094.3,121.7 1094.1,131.1 1093.9,124.1 1093.7,117.2 1093.5,122.7 1093.3,125.6 1093.1,128.6 1092.9,125.1 1092.7,125 1092.5,121 1092.3,126.8 1092.1,118.4 1091.9,122.6 1091.7,124.7 1091.5,120.8 1091.3,126.2 1091.1,124.1 1090.9,125.1 1090.7,117.8 1090.5,121.8 1090.3,120.2 1090.1,127.1 1089.9,133.7 1089.7,115 1089.5,119 1089.3,120.5 1089.1,123.2 1088.9,122 1088.7,126.7 1088.5,120.4 1088.3,124.6 1088.1,122.8 1087.9,127.2 1087.7,124.4 1087.5,125 1087.3,122.9 1087.1,123.4 1086.9,121.9 1086.7,123.3 1086.5,125 1086.3,121.7 1086.1,127.5 1085.9,119.1 1085.7,123.7 1085.5,118.7 1085.3,117.5 1085.1,122.9 1084.9,123 1084.7,122.2 1084.5,124.7 1084.3,123.8 1084.1,126.2 1083.9,127.1 1083.7,125.7 1083.5,118.6 1083.3,120.5 1083.1,122.4 1082.9,121.8 1082.7,122.7 1082.5,119.2 1082.3,121 1082.1,121.9 1081.9,123.5 1081.7,121.8 1081.5,115.2 1081.3,127.3 1081.1,120.1 1080.9,128.2 1080.7,120 1080.5,123.9 1080.3,119.1 1080.1,124.2 1079.9,121.7 1079.7,120.5 1079.5,124.8 1079.3,122.7 1079.1,124.1 1078.9,119.2 1078.7,122.8 1078.5,123.3 1078.3,120.2 1078.1,117.2 1077.9,123.1 1077.7,118.5 1077.5,124.1 1077.3,121.3 1077.1,122.1 1076.9,128.1 1076.7,124.6 1076.5,125.1 1076.3,114.7 1076.1,123.7 1075.9,122.4 1075.7,119 1075.5,119.2 1075.3,123.1 1075.1,126.2 1074.9,125.4 1074.7,120.7 1074.5,125.1 1074.3,126.5 1074.1,120.3 1073.9,126.6 1073.7,122.1 1073.5,126.6 1073.3,121.4 1073.1,123.7 1072.9,130.3 1072.7,118 1072.5,121.5 1072.3,122.3 1072.1,121 1071.9,123.7 1071.7,123.3 1071.5,119.4 1071.3,128.9 1071.1,124.7 1070.9,119.8 1070.7,116.9 1070.5,129.6 1070.3,127.3 1070.1,134.1 1069.9,117.3 1069.7,118.2 1069.5,121.9 1069.3,123.7 1069.1,123.5 1068.9,122.3 1068.7,131.7 1068.5,122.3 1068.3,118.5 1068.1,122.2 1067.9,116 1067.7,123.3 1067.5,117.2 1067.3,120.9 1067.1,119.9 1066.9,124.3 1066.7,125.6 1066.5,120.5 1066.3,117.1 1066.1,120.5 1065.9,130 1065.7,126 1065.5,118.6 1065.3,125.2 1065.1,124.9 1064.9,121.9 1064.7,125.9 1064.5,125.1 1064.3,128.2 1064.1,118.2 1063.9,126.1 1063.7,124.5 1063.5,119.9 1063.3,120.5 1063.1,110.3 1062.9,124.6 1062.7,122 1062.5,125.5 1062.3,125.8 1062.1,125.4 1061.9,128.8 1061.7,122.3 1061.5,126.9 1061.3,128.1 1061.1,109.2 1060.9,125.8 1060.7,125.3 1060.5,120.9 1060.3,122.9 1060.1,124.5 1059.9,119.6 1059.7,122 1059.5,124.8 1059.3,120.6 1059.1,127 1058.9,127.2 1058.7,121.4 1058.5,118.8 1058.3,117.5 1058.1,128.5 1057.9,119.7 1057.7,122.7 1057.5,124 1057.3,121.4 1057.1,126.4 1056.9,121.8 1056.7,128.7 1056.5,124.9 1056.3,120.9 1056.1,120 1055.9,126 1055.7,128.9 1055.5,127.4 1055.3,125.9 1055.1,139.9 1054.9,128.5 1054.7,125.1 1054.5,122.2 1054.3,119.7 1054.1,120.5 1053.9,118.1 1053.7,126.9 1053.5,121.5 1053.3,127.5 1053.1,122.2 1052.9,123.8 1052.7,123.2 1052.5,123.9 1052.3,119.7 1052.1,114.7 1051.9,120.2 1051.7,123.8 1051.5,124.3 1051.3,123.2 1051.1,125.3 1050.9,120.3 1050.7,127.5 1050.5,123.6 1050.3,116.9 1050.1,119.4 1049.9,121.1 1049.7,125.5 1049.5,122.3 1049.3,120.3 1049.1,124.4 1048.9,123.9 1048.7,120 1048.5,125 1048.3,130.1 1048.1,128.7 1047.9,124.4 1047.7,121.7 1047.5,122.7 1047.3,119.2 1047.1,121.6 1046.9,121.6 1046.7,128.1 1046.5,128.9 1046.3,123.5 1046.1,127.1 1045.9,124.9 1045.7,123.6 1045.5,108.4 1045.3,119.4 1045.1,115.5 1044.9,120.7 1044.7,122.3 1044.5,120.3 1044.3,122.5 1044.1,117.8 1043.9,120.3 1043.7,134.9 1043.5,127.2 1043.3,122.8 1043.1,124.6 1042.9,121.5 1042.7,125 1042.5,117.2 1042.3,123 1042.1,120.8 1041.9,122 1041.7,116.3 1041.5,126.5 1041.3,124.6 1041.1,126.2 1040.9,126.4 1040.7,123.2 1040.5,122.3 1040.3,133.9 1040.1,123 1039.9,123.2 1039.7,115.9 1039.5,123.7 1039.3,122.9 1039.1,124.8 1038.9,120.7 1038.7,122 1038.5,126.1 1038.3,119.9 1038.1,126.1 1037.9,120.1 1037.7,116.1 1037.5,116.4 1037.3,126.1 1037.1,124.5 1036.9,117.5 1036.7,119.3 1036.5,122.7 1036.3,112.5 1036.1,130.4 1035.9,123.6 1035.7,122.9 1035.5,117.9 1035.3,127.7 1035.1,119.4 1034.9,113.7 1034.7,118.3 1034.5,123.1 1034.3,115.7 1034.1,122.5 1033.9,125.3 1033.7,124.6 1033.5,121.7 1033.3,120.7 1033.1,123.4 1032.9,123 1032.7,127.3 1032.5,124.8 1032.3,118.7 1032.1,118.8 1031.9,123.8 1031.7,123.9 1031.5,120 1031.3,124.4 1031.1,130.4 1030.9,126.3 1030.7,125 1030.5,118.4 1030.3,125.3 1030.1,125.7 1029.9,123.5 1029.7,119.9 1029.5,118.8 1029.3,130.9 1029.1,127 1028.9,123.9 1028.7,114.4 1028.5,130.4 1028.3,127.1 1028.1,121.5 1027.9,119.2 1027.7,125.9 1027.5,117.6 1027.3,120.5 1027.1,117 1026.9,121.5 1026.7,123.7 1026.5,112.6 1026.3,122.9 1026.1,130.1 1025.9,118.3 1025.7,129.9 1025.5,118.6 1025.3,127.5 1025.1,122 1024.9,125.7 1024.7,126.3 1024.5,119.2 1024.3,126.1 1024.1,122"/>
<path d="M1024.1,52.2 1024.1,63.6 1024.1,99.4 1024.6,100.6 1024.6,63.1 1025.1,62.5 1025.1,99.9 1025.6,100.5 1025.6,62.6 1026.1,61.8 1026.1,100.3 1026.6,100.5 1026.6,64.3 1027.1,61.3 1027.1,101.9 1027.6,101.2 1027.6,63.7 1028.1,64.4 1028.1,102.7 1028.6,101.9 1028.6,60.4 1029.1,60.7 1029.1,104.5 1029.6,102.4 1029.6,60.9 1030.1,61.6 1030.1,102.4 1030.6,103.4 1030.6,61.4 1031.1,63 1031.1,100 1031.6,102.1 1031.6,62.6 1032.1,62.9 1032.1,102 1032.6,100 1032.6,59.9 1033.1,62.7 1033.1,100.1 1033.6,101.2 1033.6,61.2 1034.1,62.4 1034.1,101 1034.6,100.5 1034.6,62.8 1035.1,62.5 1035.1,102.2 1035.6,101.4 1035.6,62.5 1036.1,64.7 1036.1,101.7 1036.6,101.5 1036.6,64.5 1037.1,62.2 1037.1,101.4 1037.6,101.7 1037.6,63.9 1038.1,62.1 1038.1,106.5 1038.6,99.9 1038.6,61.4 1039.1,62.6 1039.1,101.8 1039.6,101 1039.6,63.4 1040.1,62.4 1040.1,101.5 1040.6,103.3 1040.6,61.5 1041.1,62.8 1041.1,101.2 1041.6,101.1 1041.6,62.9 1042.1,62.7 1042.1,105 1042.6,102.1 1042.6,63 1043.1,63.4 1043.1,102.6 1043.6,102.5 1043.6,64.2 1044.1,62.3 1044.1,101.5 1044.6,100.6 1044.6,61.8 1045.1,63.2 1045.1,100.9 1045.6,100.2 1045.6,62.1 1046.1,62.8 1046.1,102.4 1046.6,101 1046.6,61 1047.1,64.1 1047.1,100.7 1047.6,101.2 1047.6,64.4 1048.1,63.5 1048.1,102.4 1048.6,102.7 1048.6,61.6 1049.1,63.2 1049.1,104 1049.6,101.5 1049.6,62.6 1050.1,63.2 1050.1,100.3 1050.6,102.2 1050.6,62.7 1051.1,63.2 1051.1,101.3 1051.6,100.2 1051.6,62.3 1052.1,63.2 1052.1,102 1052.6,101.3 1052.6,60.9 1053.1,63.9 1053.1,99.8 1053.6,103.8 1053.6,63.6 1054.1,64.2 1054.1,100.6 1054.6,100.6 1054.6,61.5 1055.1,62.3 1055.1,100.9 1055.6,102.3 1055.6,64 1056.1,63.8 1056.1,101 1056.6,101.2 1056.6,60.5 1057.1,62.7 1057.1,99.8 1057.6,101.1 1057.6,62.9 1058.1,63.5 1058.1,103.3 1058.6,104.3 1058.6,61.8 1059.1,60.5 1059.1,101.3 1059.6,100.3 1059.6,63.7 1060.1,63.2 1060.1,101.2 1060.6,104.1 1060.6,61.4 1061.1,62.8 1061.1,102.1 1061.6,104.9 1061.6,61.7 1062.1,63.1 1062.1,99.8 1062.6,100.2 1062.6,64.3 1063.1,64.3 1063.1,101.9 1063.6,103.3 1063.6,63.1 1064.1,58.9 1064.1,101.5 1064.6,101.5 1064.6,63.5 1065.1,62.5 1065.1,100.5 1065.6,101.5 1065.6,63.3 1066.1,63.3 1066.1,100.1 1066.6,100.6 1066.6,63.2 1067.1,60.3 1067.1,101.4 1067.6,100.7 1067.6,59.6 1068.1,64 1068.1,100.8 1068.6,102.5 1068.6,63 1069.1,60.9 1069.1,100.7 1069.6,101.8 1069.6,63.3 1070.1,62.5 1070.1,100.7 1070.6,100.5 1070.6,62 1071.1,63.5 1071.1,100.9 1071.6,101 1071.6,63.7 1072.1,62.1 1072.1,99.9 1072.6,102.5 1072.6,62.7 1073.1,63.3 1073.1,100.9 1073.6,104 1073.6,63.6 1074.1,63.8 1074.1,101 1074.6,100.7 1074.6,60.1 1075.1,62.9 1075.1,103 1075.6,101.4 1075.6,62.2 1076.1,60.3 1076.1,101.6 1076.6,102.3 1076.6,61.1 1077.1,63.4 1077.1,99.5 1077.6,100 1077.6,62.8 1078.1,61.4 1078.1,102.3 1078.6,100.4 1078.6,60.2 1079.1,61.4 1079.1,100.8 1079.6,102.8 1079.6,63.1 1080.1,62.3 1080.1,100.8 1080.6,102.8 1080.6,62.9 1081.1,62.7 1081.1,101.6 1081.6,101.3 1081.6,64 1082.1,59.9 1082.1,99.9 1082.6,100.6 1082.6,59.9 1083.1,63.2 1083.1,100.2 1083.6,100.8 1083.6,62.3 1084.1,60.4 1084.1,102.6 1084.6,101.8 1084.6,60.5 1085.1,64.8 1085.1,100.4 1085.6,101.7 1085.6,63.4 1086.1,63.8 1086.1,101.9 1086.6,100.3 1086.6,62.2 1087.1,62.8 1087.1,99.4 1087.6,102.6 1087.6,60.1 1088.1,63.1 1088.1,102.2 1088.6,100.2 1088.6,61.7 1089.1,62.3 1089.1,100.4 1089.6,101.5 1089.6,60.2 1090.1,62.9 1090.1,101.9 1090.6,100.2 1090.6,64.2 1091.1,62.9 1091.1,101 1091.6,100.4 1091.6,61.4 1092.1,61.5 1092.1,101 1092.6,100.2 1092.6,63.8 1093.1,62.5 1093.1,100.9 1093.6,101.6 1093.6,63.2 1094.1,63.8 1094.1,99.9 1094.6,100.6 1094.6,62.6 1095.1,63.5 1095.1,103.4 1095.6,102.1 1095.6,62.9 1096.1,60.9 1096.1,102.5 1096.6,100.1 1096.6,58.1 1097.1,63.3 1097.1,99.7 1097.6,101 1097.6,63.7 1098.1,63.5 1098.1,103 1098.6,101.4 1098.6,60.7 1099.1,63.8 1099.1,101.1 1099.6,99.5 1099.6,59.9 1100.1,63.9 1100.1,101.5 1100.6,101.5 1100.6,62.1 1101.1,61.6 1101.1,100.2 1101.6,101.4 1101.6,62.6 1102.1,61.9 1102.1,102.4 1102.6,103.2 1102.6,62.8 1103.1,62.7 1103.1,100.3 1103.6,102.7 1103.6,61.3 1104.1,63.5 1104.1,101.6 1104.6,102.3 1104.6,62.4 1105.1,63.6 1105.1,101.6 1105.6,100.3 1105.6,62.7 1106.1,61.8 1106.1,102.2 1106.6,101.2 1106.6,63.9 1107.1,63.1 1107.1,103.8 1107.6,100.3 1107.6,63.5 1108.1,62.1 1108.1,103.2 1108.6,99.9 1108.6,58.5 1109.1,62.3 1109.1,100.2 1109.6,103 1109.6,64.6 1110.1,64.3 1110.1,102.8 1110.6,99.8 1110.6,62.5 1111.1,64.6 1111.1,103.8 1111.6,100.7 1111.6,60.9 1112.1,63.4 1112.1,102.5 1112.6,104.4 1112.6,61.7 1113.1,63.5 1113.1,99.2 1113.6,101.2 1113.6,63.3 1114.1,61 1114.1,101 1114.6,99.8 1114.6,63.1 1115.1,63.8 1115.1,99.5 1115.6,101.3 1115.6,63.7 1116.1,61.2 1116.1,100.6 1116.6,101.3 1116.6,63.4 1117.1,62.7 1117.1,100.4 1117.6,100.7 1117.6,63.8 1118.1,62.5 1118.1,100 1118.6,101.3 1118.6,63 1119.1,60.9 1119.1,100.7 1119.6,100 1119.6,61.5 1120.1,62.3 1120.1,99.4 1120.6,103.7 1120.6,64 1121.1,58.2 1121.1,100.8 1121.6,101.4 1121.6,62.9 1122.1,63.7 1122.1,101.7 1122.6,100.4 1122.6,63.3 1123.1,62.6 1123.1,101.8 1123.6,101.1 1123.6,62.1 1124.1,63.2 1124.1,101.9 1124.6,100.7 1124.6,61.7 1125.1,62.6 1125.1,100.6 1125.6,102.6 1125.6,62.1 1126.1,62.8 1126.1,100.2 1126.6,99.6 1126.6,63.9 1127.1,63.5 1127.1,98.9 1127.6,99.6 1127.6,63.1 1128.1,63.2 1128.1,100.9 1128.6,100.2 1128.6,62.1 1129.1,62.3 1129.1,100.4 1129.6,100 1129.6,61.7 1130.1,60.7 1130.1,100.3 1130.6,100.6 1130.6,62.5 1131.1,61.8 1131.1,100.8 1131.6,101.2 1131.6,62.6 1132.1,64.2 1132.1,102 1132.6,100.8 1132.6,61.4 1133.1,57 1133.1,99.4 1133.6,100.5 1133.6,62.3 1134.1,63 1134.1,99.5 1134.6,100.6 1134.6,60.5 1135.1,62.6 1135.1,99.9 1135.6,100.6 1135.6,61.6 1136.1,63.8 1136.1,100.2 1136.6,102.6 1136.6,63.7 1137.1,62.5 1137.1,103.9 1137.6,101.7 1137.6,63.1 1138.1,62.3 1138.1,101.6 1138.6,102.9 1138.6,62.7 1139.1,60.5 1139.1,101.9 1139.6,100.5 1139.6,61.8 1140.1,62 1140.1,101 1140.6,102 1140.6,62.8 1141.1,62.9 1141.1,100.5 1141.6,101.5 1141.6,61.7 1142.1,61.8 1142.1,102.5 1142.6,100.4 1142.6,59.1 1143.1,61.3 1143.1,101.9 1143.6,100.4 1143.6,62.7 1144.1,63.8 1144.1,102.3 1144.6,102.2 1144.6,62.3 1145.1,62.8 1145.1,104.4 1145.6,99.6 1145.6,62.1 1146.1,62.1 1146.1,100.1 1146.6,102.4 1146.6,63.7 1147.1,63.1 1147.1,103.2 1147.6,101.1 1147.6,61.1 1148.1,59.2 1148.1,100.7 1148.6,103.4 1148.6,61.9 1149.1,63.3 1149.1,101.2 1149.6,100.7 1149.6,61.9 1150.1,61.2 1150.1,100 1150.6,100.7 1150.6,63.3 1151.1,64.2 1151.1,101 1151.6,102.1 1151.6,58.7 1152.1,61.3 1152.1,101.3 1152.6,101.3 1152.6,63 1153.1,63.9 1153.1,102.1 1153.6,102.1 1153.6,63.2 1154.1,63.1 1154.1,102.4 1154.6,102.2 1154.6,60.7 1155.1,62 1155.1,103.8 1155.6,100.6 1155.6,63.6 1156.1,61.3 1156.1,99.9 1156.6,101.8 1156.6,63.1 1157.1,62.4 1157.1,101.4 1157.6,100.7 1157.6,62.6 1158.1,62.7 1158.1,102.2 1158.6,99.8 1158.6,64 1159.1,61.4 1159.1,103.2 1159.6,100.2 1159.6,61.7 1160.1,60.4 1160.1,102.9 1160.6,101.1 1160.6,62.9 1161.1,63.3 1161.1,101.6 1161.6,100.8 1161.6,63.6 1162.1,63.3 1162.1,100.8 1162.6,102.9 1162.6,62.6 1163.1,63.2 1163.1,101 1163.6,102.5 1163.6,63.1 1164.1,61.9 1164.1,101.4 1164.6,100.8 1164.6,63.6 1165.1,62.1 1165.1,100.6 1165.6,99.8 1165.6,63.5 1166.1,64.1 1166.1,103 1166.6,100.1 1166.6,62.9 1167.1,61.8 1167.1,100.3 1167.6,101.2 1167.6,60.4 1168.1,63.2 1168.1,101.6 1168.6,101.2 1168.6,59.9 1169.1,63.2 1169.1,100.9 1169.6,100.4 1169.6,61 1170.1,63 1170.1,103.4 1170.6,101.7 1170.6,61.8 1171.1,63.5 1171.1,100.7 1171.6,100.5 1171.6,64.2 1172.1,61.7 1172.1,101.1 1172.6,100.6 1172.6,63.6 1173.1,63.2 1173.1,101.7 1173.6,100.8 1173.6,62 1174.1,62.6 1174.1,101.6 1174.6,102.8 1174.6,62 1175.1,64.5 1175.1,101.8 1175.6,102.3 1175.6,63.2 1176.1,63.3 1176.1,103.8 1176.6,100.6 1176.6,62.6 1177.1,61.8 1177.1,101 1177.6,103 1177.6,60.9 1178.1,62 1178.1,99.6 1178.6,99.4 1178.6,62.3 1179.1,57.2 1179.1,100 1179.6,99.3 1179.6,61 1180.1,62.8 1180.1,99.7 1180.6,101 1180.6,59.3 1181.1,60.5 1181.1,102.2 1181.6,100.6 1181.6,63.9 1182.1,64.4 1182.1,100.1 1182.6,101.6 1182.6,62.8 1183.1,62.9 1183.1,101 1183.6,101.3 1183.6,61.8 1184.1,62.2 1184.1,107.3 1184.6,100 1184.6,63.4 1185.1,63.3 1185.1,100.9 1185.6,101.5 1185.6,62.3 1186.1,64 1186.1,100.6 1186.6,101.5 1186.6,62.7 1187.1,63.4 1187.1,100.7 1187.6,99.6 1187.6,63.7 1188.1,63.5 1188.1,107.3 1188.6,103.2 1188.6,62.9 1189.1,63.5 1189.1,100.5 1189.6,101 1189.6,61.3 1190.1,62.5 1190.1,101.2 1190.6,100.9 1190.6,63.1 1191.1,62.1 1191.1,100.4 1191.6,100.5 1191.6,61.7 1192.1,62.2 1192.1,101.1 1192.6,99.8 1192.6,59.8 1193.1,63.1 1193.1,99.4 1193.6,100.1 1193.6,63.6 1194.1,61.9 1194.1,100.1 1194.6,100.2 1194.6,63.2 1195.1,63.1 1195.1,100 1195.6,101.1 1195.6,63.6 1196.1,62.5 1196.1,100.1 1196.6,102.3 1196.6,61.8 1197.1,62 1197.1,101.2 1197.6,101.8 1197.6,63.4 1198.1,63.2 1198.1,100.5 1198.6,101.9 1198.6,64 1199.1,64.1 1199.1,100.3 1199.6,99.9 1199.6,61.4 1200.1,62 1200.1,101.1 1200.6,101.1 1200.6,63.2 1201.1,60.6 1201.1,100.2 1201.6,101.4 1201.6,63.9 1202.1,62 1202.1,99.7 1202.6,101.5 1202.6,62.3 1203.1,63.1 1203.1,101.4 1203.6,100.8 1203.6,64 1204.1,61 1204.1,99.7 1204.6,105 1204.6,63.1 1205.1,63.3 1205.1,102 1205.6,101.1 1205.6,62.9 1206.1,63.1 1206.1,101.1 1206.6,100.9 1206.6,61.6 1207.1,60.3 1207.1,100.3 1207.6,101.5 1207.6,62.1 1208.1,64.1 1208.1,101.5 1208.6,101.9 1208.6,60.4 1209.1,63.3 1209.1,99.7 1209.6,100.4 1209.6,62 1210.1,63.6 1210.1,100.8 1210.6,104.7 1210.6,63.3 1211.1,60.9 1211.1,100.2 1211.6,103.6 1211.6,62.2 1212.1,63.6 1212.1,101.3 1212.6,101.8 1212.6,59.6 1213.1,61.7 1213.1,103 1213.6,99.1 1213.6,61.3 1214.1,64.5 1214.1,102.3 1214.6,100.8 1214.6,63.2 1215.1,61.4 1215.1,101.8 1215.6,100.4 1215.6,63.3 1216.1,60.5 1216.1,104.2 1216.6,103.6 1216.6,61.6 1217.1,62.8 1217.1,103.7 1217.6,102.3 1217.6,61.7 1218.1,63 1218.1,101.2 1218.6,99.9 1218.6,63.4 1219.1,62.2 1219.1,99.9 1219.6,99.5 1219.6,62 1220.1,63.3 1220.1,100.9 1220.6,101.1 1220.6,64 1221.1,62.7 1221.1,100.9 1221.6,103.6 1221.6,63.8 1222.1,63.4 1222.1,102.9 1222.6,99.7 1222.6,61.5 1223.1,62.1 1223.1,102.1 1223.6,102.1 1223.6,62.3 1224.1,63.1 1224.1,101.1 1224.6,99.7 1224.6,63.8 1225.1,60.9 1225.1,102.6 1225.6,100 1225.6,62.8 1226.1,62.1 1226.1,101.6 1226.6,100.5 1226.6,56.5 1227.1,63.2 1227.1,101.4 1227.6,100.5 1227.6,64 1228.1,63.4 1228.1,100.2 1228.6,102.6 1228.6,59.5 1229.1,62.4 1229.1,103.4 1229.6,99.8 1229.6,63.3 1230.1,62.2 1230.1,103.3 1230.6,101.3 1230.6,61.1 1231.1,61.9 1231.1,102.2 1231.6,102.3 1231.6,60.6 1232.1,62.4 1232.1,100.5 1232.6,101.9 1232.6,62 1233.1,62.4 1233.1,100.2 1233.6,102.3 1233.6,63.6 1234.1,63.2 1234.1,100.1 1234.6,101.5 1234.6,63.3 1235.1,61.7 1235.1,100.7 1235.6,103 1235.6,64.1 1236.1,64 1236.1,100.6 1236.6,99.9 1236.6,63.4 1237.1,63.8 1237.1,100.6 1237.6,100.9 1237.6,60.9 1238.1,63.6 1238.1,101.6 1238.6,100.8 1238.6,61.2 1239.1,63 1239.1,100.1 1239.6,99.3 1239.6,63.3 1240.1,62.3 1240.1,100.2 1240.6,100.2 1240.6,63.4 1241.1,63.5 1241.1,103.9 1241.6,100.4 1241.6,62.3 1242.1,62.3 1242.1,102.4 1242.6,99.9 1242.6,63.6 1243.1,63.4 1243.1,100.4 1243.6,102.8 1243.6,61.3 1244.1,63.7 1244.1,100.8 1244.6,101.3 1244.6,61.3 1245.1,62.9 1245.1,101.1 1245.6,105.5 1245.6,63.9 1246.1,63.7 1246.1,101.2 1246.6,101.1 1246.6,62.6 1247.1,58.9 1247.1,103.5 1247.6,102.3 1247.6,62.7 1248.1,63 1248.1,101.9 1248.6,101.8 1248.6,62.6 1249.1,63.9 1249.1,101.6 1249.6,101 1249.6,63.2 1250.1,63.2 1250.1,102 1250.6,100.5 1250.6,63.5 1251.1,63.1 1251.1,101.5 1251.6,104.7 1251.6,61.8 1252.1,61.9 1252.1,100.9 1252.6,102.1 1252.6,63.3 1253.1,63.6 1253.1,103.2 1253.6,102.4 1253.6,62.5 1254.1,60.9 1254.1,101.7 1254.6,103.9 1254.6,62.4 1255.1,63.4 1255.1,99.8 1255.6,100.4 1255.6,63.7 1256.1,61.8 1256.1,101.3 1256.6,100.4 1256.6,63.2 1257.1,60.2 1257.1,100.3 1257.6,100.7 1257.6,62.3 1258.1,63 1258.1,100.6 1258.6,100.3 1258.6,62.3 1259.1,62.5 1259.1,101.7 1259.6,102.7 1259.6,61.3 1260.1,60.6 1260.1,100.3 1260.6,101 1260.6,62.8 1261.1,64.6 1261.1,100.3 1261.6,100.9 1261.6,63.7 1262.1,63.4 1262.1,101.8 1262.6,101.4 1262.6,64 1263.1,62.1 1263.1,101.8 1263.6,100.4 1263.6,63.7 1264.1,64.6 1264.1,102.1 1264.6,101.1 1264.6,60.6 1265.1,62.5 1265.1,100 1265.6,101.3 1265.6,63.8 1266.1,62.7 1266.1,102 1266.6,101.3 1266.6,59.8 1267.1,63.9 1267.1,103.2 1267.6,99.8 1267.6,63.7 1268.1,61.8 1268.1,101.7 1268.6,100.6 1268.6,62.5 1269.1,60.1 1269.1,99.9 1269.6,102 1269.6,63 1270.1,62.8 1270.1,101 1270.6,99.7 1270.6,63 1271.1,62.5 1271.1,104.4 1271.6,101.5 1271.6,61.9 1272.1,63.3 1272.1,100.4 1272.6,101.5 1272.6,62.8 1273.1,63.7 1273.1,101.9 1273.6,100.6 1273.6,62.5 1274.1,62.3 1274.1,104.7 1274.6,100.9 1274.6,61.3 1275.1,64.2 1275.1,101.6 1275.6,103.3 1275.6,64.2 1276.1,60.2 1276.1,99.8 1276.6,102.5 1276.6,64.9 1277.1,64.4 1277.1,99.4 1277.6,100 1277.6,64.5 1278.1,62.2 1278.1,100 1278.6,100.2 1278.6,62 1279.1,63.3 1279.1,101.4 1279.6,100.7 1279.6,63.1 1280.1,61.7 1280.1,100.8 1280.6,100.2 1280.6,62 1281.1,62.8 1281.1,105.8 1281.6,100.9 1281.6,63.5 1282.1,62.8 1282.1,102.5 1282.6,99 1282.6,62.1 1283.1,61.7 1283.1,100.6 1283.6,101.6 1283.6,61.4 1284.1,63.4 1284.1,99.8 1284.6,100.6 1284.6,62.9 1285.1,62.3 1285.1,99.8 1285.6,100 1285.6,63.2 1286.1,62.5 1286.1,99.7 1286.6,101.1 1286.6,63.8 1287.1,62.6 1287.1,103.7 1287.6,101.6 1287.6,62.6 1288.1,63.1 1288.1,101.1 1288.6,102.5 1288.6,59.7 1289.1,62.7 1289.1,100.9 1289.6,100.9 1289.6,62.8 1290.1,64 1290.1,102.9 1290.6,100.1 1290.6,64.2 1291.1,63.8 1291.1,101.1 1291.6,101.7 1291.6,62.3 1292.1,62.7 1292.1,101 1292.6,100.3 1292.6,60.9 1293.1,61.2 1293.1,102.7 1293.6,100.1 1293.6,64 1294.1,62.5 1294.1,102.6 1294.6,100.2 1294.6,63.8 1295.1,63.7 1295.1,103.2 1295.6,100.6 1295.6,64.6 1296.1,62.6 1296.1,102 1296.6,100.1 1296.6,61.9 1297.1,62.2 1297.1,102.4 1297.6,101.2 1297.6,63.5 1298.1,64.3 1298.1,102.6 1298.6,99.6 1298.6,65.1 1299.1,63.3 1299.1,101.2 1299.6,101.4 1299.6,62.7 1300.1,63.9 1300.1,100.8 1300.6,100.8 1300.6,62.3 1301.1,63.1 1301.1,100.2 1301.6,100.7 1301.6,62.9 1302.1,63.1 1302.1,100.5 1302.6,100.3 1302.6,62.6 1303.1,62.8 1303.1,100.7 1303.6,101.8 1303.6,60.7 1304.1,62.6 1304.1,101.3 1304.6,99.4 1304.6,63.3 1305.1,62.6 1305.1,100.5 1305.6,101.8 1305.6,62.3 1306.1,62.8 1306.1,102.3 1306.6,100.2 1306.6,62.7 1307.1,61.9 1307.1,103.1 1307.6,101.8 1307.6,62.3 1308.1,63.8 1308.1,100.2 1308.6,100.6 1308.6,62.5 1309.1,63 1309.1,102.4 1309.6,100.6 1309.6,62.8 1310.1,63.5 1310.1,99.7 1310.6,103.4 1310.6,64 1311.1,63.4 1311.1,100.8 1311.6,101.5 1311.6,62.8 1312.1,63.5 1312.1,100.6 1312.6,99.7 1312.6,62.8 1313.1,62.5 1313.1,99.7 1313.6,101.6 1313.6,63.1 1314.1,62.7 1314.1,100.7 1314.6,99 1314.6,64.5 1315.1,62.2 1315.1,102.4 1315.6,102.3 1315.6,63.7 1316.1,63.3 1316.1,100.4 1316.6,102 1316.6,61.9 1317.1,62.8 1317.1,102.1 1317.6,100.5 1317.6,64.3 1318.1,58.3 1318.1,101.3 1318.6,101.1 1318.6,62.4 1319.1,61.3 1319.1,102.6 1319.6,99.9 1319.6,63.7 1320.1,62.2 1320.1,102.8 1320.6,100.8 1320.6,64.8 1321.1,64.5 1321.1,99.7 1321.6,101.3 1321.6,62.6 1322.1,62 1322.1,101.7 1322.6,101.4 1322.6,62.8 1323.1,62.8 1323.1,100.9 1323.6,101.8 1323.6,63.2 1324.1,63.5 1324.1,102 1324.6,100.9 1324.6,59.4 1325.1,62.9 1325.1,100.3 1325.6,101.3 1325.6,60.2 1326.1,63.1 1326.1,99.3 1326.6,100.6 1326.6,62.7 1327.1,63.7 1327.1,102 1327.6,103.2 1327.6,63.7 1328.1,62.5 1328.1,100.9 1328.6,101.8 1328.6,63.4 1329.1,62.9 1329.1,100.2 1329.6,100.8 1329.6,63.2 1330.1,61.4 1330.1,102.1 1330.6,99.6 1330.6,59.4 1331.1,63.9 1331.1,99.3 1331.6,102.5 1331.6,64.1 1332.1,63.4 1332.1,102 1332.6,99.3 1332.6,63.4 1333.1,62.1 1333.1,102.9 1333.6,102.1 1333.6,63.9 1334.1,59.1 1334.1,100.6 1334.6,100.4 1334.6,64.3 1335.1,63.1 1335.1,101.5 1335.6,100.1 1335.6,61.9 1336.1,62.6 1336.1,102.8 1336.6,100.8 1336.6,63.5 1337.1,64.1 1337.1,100.9 1337.6,99.6 1337.6,62.4 1338.1,63.4 1338.1,99.7 1338.6,101.5 1338.6,63.1 1339.1,63.2 1339.1,100.5 1339.6,102.3 1339.6,59.6 1340.1,62.6 1340.1,99.3 1340.6,99.7 1340.6,62.5 1341.1,63.8 1341.1,100.2 1341.6,100.8 1341.6,63 1342.1,61.7 1342.1,104.1 1342.6,101.3 1342.6,59.8 1343.1,62.4 1343.1,100.1 1343.6,100.8 1343.6,64 1344.1,64.4 1344.1,101 1344.6,103.3 1344.6,63.5 1345.1,62.8 1345.1,101.5 1345.6,102.8 1345.6,58.8 1346.1,62.8 1346.1,101.8 1346.6,101 1346.6,62.6 1347.1,62.7 1347.1,108 1347.6,101.7 1347.6,62.9 1348.1,60.9 1348.1,100.9 1348.6,101.5 1348.6,63.5 1349.1,63 1349.1,100.5 1349.6,101.1 1349.6,62.1 1350.1,63.7 1350.1,99.5 1350.6,102.6 1350.6,63.2 1351.1,62.6 1351.1,100.6 1351.6,100.9 1351.6,63.4 1352.1,62.7 1352.1,100.5 1352.6,102.6 1352.6,63.9 1353.1,62.3 1353.1,100.4 1353.6,100.3 1353.6,62.1 1354.1,59.7 1354.1,100.2 1354.6,101.2 1354.6,62.2 1355.1,62.1 1355.1,101.9 1355.6,99.8 1355.6,64 1356.1,59.8 1356.1,102 1356.6,99.9 1356.6,64.1 1357.1,63.8 1357.1,101 1357.6,101 1357.6,61.9 1358.1,63.3 1358.1,101 1358.6,105.6 1358.6,62.8 1359.1,62 1359.1,99.8 1359.6,100 1359.6,64 1360.1,63.5 1360.1,101.1 1360.6,100.6 1360.6,62.2 1361.1,61.5 1361.1,99.9 1361.6,102.1 1361.6,62.8 1362.1,64.1 1362.1,101" fill="none" stroke="#1f77b4" stroke-width="4.4" stroke-linejoin="round" stroke-linecap="butt"/>
<polygon fill="#8fbbd9" points="116.5,358.4 116.7,359.2 117,358.4 117.2,357.1 117.5,358.4 117.7,356.2 118,356.9 118.2,357.4 118.5,358.7 118.7,355.9 119,359.4 119.2,355.6 119.5,357.1 119.7,359 120,357.9 120.2,358.3 120.5,358.2 120.7,359.8 121,356.8 121.2,357.4 121.5,357.4 121.7,356 122,358.8 122.2,359 122.5,358.4 122.7,355.9 123,358 123.2,358.8 123.5,356.8 123.7,358.1 124,358.2 124.2,358 124.5,358.6 124.7,357.3 125,357.2 125.2,357.5 125.5,355.9 125.7,357.8 126,357.8 126.2,356.9 126.5,357.4 126.7,357.3 127,357.7 127.2,357.8 127.5,357 127.7,359.2 128,358.5 128.2,357.9 128.5,357.1 128.7,357.6 129,357.9 129.2,358.4 129.5,356.5 129.7,359.1 130,356.7 130.2,359.4 130.5,356.4 130.7,357 131,357 131.2,358.2 131.5,357.9 131.7,359 132,357.6 132.2,358.8 132.5,357.1 132.7,357.7 133,356.5 133.2,360.2 133.5,357.7 133.7,357.1 134,357.4 134.2,357.7 134.5,357 134.7,357 135,357.6 135.2,355.9 135.5,356.2 135.7,358.4 136,358 136.2,358.1 136.5,356.6 136.7,358.3 137,358.5 137.2,358.2 137.5,359.1 137.7,357.8 138,358.1 138.2,357.7 138.5,357.1 138.7,357.7 139,358.4 139.2,357 139.5,357.2 139.7,358.4 140,357.5 140.2,358.3 140.5,356.9 140.7,357.6 141,357.3 141.2,357.5 141.5,356.9 141.7,359 142,357.8 142.2,357.3 142.5,359 142.7,356.8 143,357.1 143.2,358.3 143.5,358 143.7,357.9 144,358.1 144.2,357.8 144.5,356.9 144.7,359.1 145,359 145.2,358.6 145.5,356.9 145.7,357.1 146,358.9 146.2,357 146.5,357.3 146.7,357.5 147,357.3 147.2,357.8 147.5,355.6 147.7,356.9 148,355.5 148.2,357.5 148.5,358.1 148.7,356.9 149,357.8 149.2,358.1 149.5,358.3 149.7,357.7 150,357.9 150.2,359.1 150.5,357.6 150.7,358.5 151,357.4 151.2,356.9 151.5,357.4 151.7,359.6 152,355.5 152.2,358 152.5,356.7 152.7,356.6 153,356.4 153.2,357.8 153.5,359.1 153.7,357 154,359 154.2,355.9 154.5,358.5 154.7,357 155,357.5 155.2,358 155.5,358.5 155.7,357.2 156,355.6 156.2,357.3 156.5,357.5 156.7,355.1 157,357.9 157.2,359 157.5,356.1 157.7,359.4 158,357 158.2,357.6 158.5,356.8 158.7,355.7 159,355.9 159.2,359.2 159.5,356.7 159.7,359.6 160,355.8 160.2,357.3 160.5,358.3 160.7,355 161,358.7 161.2,358.5 161.5,358.9 161.7,357.6 162,358 162.2,356.6 162.5,359.2 162.7,358.6 163,356.7 163.2,359.8 163.5,356.9 163.7,358.4 164,358.6 164.2,358.4 164.5,356.4 164.7,356.3 165,359.4 165.2,357.9 165.5,358.5 165.7,357.5 166,354.7 166.2,356.7 166.5,357.7 166.7,355.2 167,357.3 167.2,360.1 167.5,357.5 167.7,356.9 168,358.3 168.2,356.5 168.5,357.3 168.7,357.6 169,355.6 169.2,358.2 169.5,357.6 169.7,357.6 170,357.2 170.2,359 170.5,357.5 170.7,356.4 171,359.1 171.2,357.7 171.5,356.5 171.7,357.3 172,359.2 172.2,356.6 172.5,357.7 172.7,357.7 173,356.5 173.2,356.2 173.5,358.2 173.7,357.6 174,357 174.2,357.2 174.5,356.7 174.7,359.9 175,357.6 175.2,356.7 175.5,356.9 175.7,358.3 176,356.2 176.2,356.8 176.5,357.2 176.7,356.4 177,357 177.2,358.5 177.5,357.5 177.7,357.4 178,357.4 178.2,359.1 178.5,356.5 178.7,356.3 179,357 179.2,356 179.5,358.4 179.7,358.4 180,356.9 180.2,359.4 180.5,358 180.7,357.6 181,355.9 181.2,360.1 181.5,356.8 181.7,356.3 182,354.7 182.2,359.2 182.5,357.6 182.7,357.1 183,358.2 183.2,356.5 183.5,358.2 183.7,358 184,357.1 184.2,356.9 184.5,356.8 184.7,356.9 185,358.8 185.2,358.9 185.5,358.3 185.7,356.4 186,357.5 186.2,356.2 186.5,357.5 186.7,357.7 187,358.9 187.2,359 187.5,358.9 187.7,357.3 188,359.5 188.2,357.1 188.5,357.8 188.7,357.8 189,356.9 189.2,358 189.5,358.1 189.7,356.5 190,359.4 190.2,359.2 190.5,358 190.7,357.1 191,359.4 191.2,358.4 191.5,358.4 191.7,358.3 192,357.3 192.2,356.4 192.5,357.1 192.7,357.3 193,357.5 193.2,356 193.5,358.2 193.7,357.7 194,356.7 194.2,356.9 194.5,357.6 194.7,355.2 195,356.1 195.2,355.5 195.5,357 195.7,359.6 196,356.7 196.2,356.1 196.5,357.6 196.7,358.2 197,358.1 197.2,358.1 197.5,357.1 197.7,357.9 198,356.8 198.2,359.6 198.5,358.3 198.7,356.8 199,357.6 199.2,357.7 199.5,357.6 199.7,357.4 200,356.9 200.2,356.1 200.5,355.2 200.7,356.8 201,358.3 201.2,357.5 201.5,359.9 201.7,355.6 202,357 202.2,358.3 202.5,356.7 202.7,356.9 203,357.1 203.2,357.3 203.5,357.5 203.7,356.4 204,355.9 204.2,357.7 204.5,356.9 204.7,357.2 205,359.2 205.2,357.1 205.5,356.9 205.7,356 206,358.2 206.2,357.3 206.5,355 206.7,356.8 207,357.8 207.2,356.4 207.5,359.6 207.7,358.6 208,357.2 208.2,357.6 208.5,357.6 208.7,357.1 209,359.2 209.2,358.1 209.5,355.6 209.7,359 210,356.8 210.2,357.8 210.5,357.9 210.7,359 211,356.6 211.2,357.1 211.5,356.7 211.7,357.2 212,358.7 212.2,355.6 212.5,356.9 212.7,357 213,357.5 213.2,355.8 213.5,358.5 213.7,357.9 214,357.6 214.2,359.3 214.5,360.3 214.7,357.5 215,357 215.2,356.6 215.5,355.4 215.7,357.7 216,358.4 216.2,356.6 216.5,357.6 216.7,358.3 217,356.4 217.2,357 217.5,357.6 217.7,357.3 218,358 218.2,358.6 218.5,357.9 218.7,355.7 219,358.2 219.2,357.1 219.5,356.3 219.7,356.7 220,356.3 220.2,357.7 220.5,356.5 220.7,358.3 221,359.2 221.2,357.7 221.5,358.8 221.7,359.7 222,360 222.2,356.2 222.5,357.8 222.7,358.1 223,358.3 223.2,357.4 223.5,356.7 223.7,358.7 224,356.2 224.2,355.9 224.5,356.6 224.7,357.1 225,357.7 225.2,357.8 225.5,358.2 225.7,359.6 226,358.6 226.2,355.9 226.5,357.7 226.7,357.4 227,356.3 227.2,358.3 227.5,357 227.7,356.1 228,358 228.2,358 228.5,358 228.7,358.7 229,356.8 229.2,356.7 229.5,356.9 229.7,359.1 230,357.5 230.2,357.1 230.5,357.1 230.7,358.5 231,357.2 231.2,357.1 231.5,359.7 231.7,357.6 232,357.9 232.2,357.2 232.5,356.1 232.7,357.6 233,357.7 233.2,358.8 233.5,357.6 233.7,358.6 234,356.1 234.2,357.7 234.5,360.2 234.7,356.8 235,358.9 235.2,358 235.5,357.6 235.7,358.5 236,356.3 236.2,358.4 236.5,358.4 236.7,358.4 237,358.4 237.2,360.4 237.5,356 237.7,357.4 238,358.6 238.2,358.2 238.5,355.6 238.7,357.3 239,357.8 239.2,356 239.5,357.7 239.7,357.5 240,357.5 240.2,358.6 240.5,355.6 240.7,357.1 241,359 241.2,357.7 241.5,358.3 241.7,357.8 242,356.3 242.2,357.8 242.5,357.7 242.7,357.5 243,357.7 243.2,356.8 243.5,359.3 243.7,355.9 244,355.7 244.2,357.7 244.5,355.9 244.7,359.1 245,356.6 245.2,358.4 245.5,356.2 245.7,356.8 246,358.9 246.2,359.2 246.5,356.3 246.7,355.9 247,359.8 247.2,357.1 247.5,357.9 247.7,358 248,358.5 248.2,357.8 248.5,358 248.7,356.9 249,356.2 249.2,356 249.5,357.5 249.7,358.4 250,356.2 250.2,356.6 250.5,357.7 250.7,358.1 251,358.3 251.2,357.3 251.5,358.1 251.7,356.6 252,355.7 252.2,359.6 252.5,356.7 252.7,357.1 253,359 253.2,359.3 253.5,359.1 253.7,357.3 254,356.8 254.2,357.7 254.5,357.6 254.7,357.9 255,358.8 255.2,357.5 255.5,356.8 255.7,357 256,357 256.2,356.5 256.5,357.1 256.7,358.9 257,358.7 257.2,358.8 257.5,357 257.7,356.5 258,358.1 258.2,358 258.5,357.2 258.7,357.1 259,357 259.2,358.3 259.5,356.8 259.7,357.3 260,355.5 260.2,357.3 260.5,357.9 260.7,357.2 261,355.9 261.2,357.5 261.5,357.3 261.7,359 262,357.4 262.2,359 262.5,357.4 262.7,357 263,357.3 263.2,357.8 263.5,357.6 263.7,357.1 264,356.7 264.2,357.8 264.5,357.8 264.7,357.2 265,356.8 265.2,357.2 265.5,356.7 265.7,357.7 266,358.3 266.2,358.7 266.5,357.3 266.7,356.8 267,356.5 267.2,358.1 267.5,357.1 267.7,357.8 268,357.2 268.2,356.8 268.5,356.4 268.7,355.5 269,358.3 269.2,357.6 269.5,357.1 269.7,358.8 270,357.4 270.2,356.4 270.5,357.6 270.7,357.2 271,359.2 271.2,357.1 271.5,357.5 271.7,358.4 272,358.1 272.2,356.7 272.5,357.1 272.7,356.8 273,357.9 273.2,357.3 273.5,358.6 273.7,357.6 274,358.1 274.2,356.1 274.5,358.2 274.7,359.2 275,358.3 275.2,358.8 275.5,357 275.7,358.6 276,357.8 276.2,357.4 276.5,360.1 276.7,356.5 277,358.6 277.2,356 277.5,357 277.7,356.9 278,358.1 278.2,358.7 278.5,357.5 278.7,357.5 279,356.7 279.2,358.2 279.5,358.2 279.7,356.8 280,358.2 280.2,355.6 280.5,358.7 280.7,357.9 281,356.5 281.2,357.7 281.5,358.5 281.7,358.2 282,357.9 282.2,356.5 282.5,357 282.7,359.2 283,357.7 283.2,358.5 283.5,356.2 283.7,358.6 284,356.8 284.2,357.6 284.5,358.4 284.7,358.9 285,357.8 285.2,359 285.5,358 285.7,357.9 286,357.2 286.2,357.4 286.5,356.6 286.7,357.9 287,357.4 287.2,357.8 287.5,357.1 287.7,357.7 288,360 288.2,357.6 288.5,358.2 288.7,358.2 289,356.4 289.2,358.1 289.5,356.1 289.7,358.6 290,356.9 290.2,355.9 290.5,357 290.7,355.8 291,357.5 291.2,357.3 291.5,358.9 291.7,357.9 292,356.3 292.2,358.8 292.5,357.3 292.7,358.1 293,358 293.2,357 293.5,355.9 293.7,356.3 294,357.1 294.2,358.5 294.5,358.1 294.7,358.3 295,356.1 295.2,356 295.5,357.7 295.7,355.3 296,360.1 296.2,357.7 296.5,358.7 296.7,357.9 297,356.7 297.2,356.6 297.5,356.7 297.7,359.3 298,354.2 298.2,357.9 298.5,356.7 298.7,356 299,359.1 299.2,355.9 299.5,356.8 299.7,358.1 300,359.6 300.2,357.5 300.5,356.1 300.7,357.4 301,358 301.2,357 301.5,357.1 301.7,358.6 302,358.6 302.2,357.4 302.5,358.4 302.7,357.6 303,355.6 303.2,358.3 303.5,355.3 303.7,355.6 304,358 304.2,358.1 304.5,357.9 304.7,358.3 305,358.6 305.2,358.3 305.5,357.8 305.7,358.2 306,354.8 306.2,357 306.5,358.8 306.7,359.5 307,359 307.2,357.5 307.5,356.7 307.7,357.3 308,358.2 308.2,357.3 308.5,357.7 308.7,359.5 309,358.4 309.2,359 309.5,355.1 309.7,357.8 310,358.5 310.2,357.9 310.5,357.2 310.7,358.7 311,356.6 311.2,357.3 311.5,358.1 311.7,357.3 312,357.1 312.2,356.7 312.5,359 312.7,356.5 313,357.4 313.2,357 313.5,357.3 313.7,358.3 314,356.4 314.2,358.7 314.5,356.6 314.7,357.6 315,359.3 315.2,358 315.5,359.7 315.7,357.2 316,357.9 316.2,355 316.5,357 316.7,359 317,358.1 317.2,358 317.5,357.8 317.7,357.5 318,356.7 318.2,358.5 318.5,356.1 318.7,357.6 319,358.7 319.2,357.1 319.5,357.2 319.7,358.1 320,356.6 320.2,357.5 320.5,356.3 320.7,358.5 321,358 321.2,358 321.5,356.9 321.7,358.5 322,358.3 322.2,357.5 322.5,356.1 322.7,357.7 323,356.9 323.2,356.2 323.5,358.4 323.7,357.6 324,357.7 324.2,358 324.5,354.8 324.7,356 325,358.2 325.2,356.7 325.5,358 325.7,357.6 326,357.7 326.2,360.8 326.5,357.6 326.7,356.2 327,356.2 327.2,358 327.5,354.8 327.7,357.8 328,358.2 328.2,355.4 328.5,355.9 328.7,356.5 329,356.4 329.2,358.4 329.5,358 329.7,356.9 330,357.3 330.2,357.5 330.5,358.1 330.7,358.8 331,358.4 331.2,357.7 331.5,359.5 331.7,357.3 332,358.4 332.2,357.9 332.5,356.4 332.7,357.8 333,358.4 333.2,357.2 333.5,356.6 333.7,360.4 334,357.5 334.2,356.6 334.5,356.1 334.7,358.9 335,358.6 335.2,357.4 335.5,358.9 335.7,358.5 336,355.9 336.2,358.3 336.5,358.8 336.7,357.7 337,358.1 337.2,359.7 337.5,359.4 337.7,358.1 338,358.4 338.2,358.1 338.5,356.2 338.7,358.6 339,358.2 339.2,356 339.5,358.8 339.7,357.2 340,357.6 340.2,358.3 340.5,357.8 340.7,359.1 341,358.2 341.2,358.8 341.5,356.4 341.7,357.4 342,356.6 342.2,357.9 342.5,357.3 342.7,357.2 343,357.9 343.2,358 343.5,356 343.7,356.7 344,356.6 344.2,357.2 344.5,358.9 344.7,361.8 345,357 345.2,356.6 345.5,358.7 345.7,358.3 346,358.4 346.2,358.3 346.5,359.5 346.7,357.7 347,357 347.2,357.2 347.5,357.1 347.7,356.9 348,358.6 348.2,357.3 348.5,359 348.7,358.1 349,357.4 349.2,357.2 349.5,356.7 349.7,358.1 350,360.7 350.2,358.2 350.5,357.8 350.7,358.1 351,359.1 351.2,357.7 351.5,357.4 351.7,356.3 352,356.2 352.2,358 352.5,357.1 352.7,356 353,356.9 353.2,358.2 353.5,357 353.7,356.5 354,358.7 354.2,358.6 354.5,357.9 354.7,357.4 355,357.1 355.2,356.5 355.5,358.2 355.7,356.7 356,358.7 356.2,358.4 356.5,357.7 356.7,358.3 357,358.2 357.2,356.7 357.5,356.9 357.7,358.1 358,358.1 358.2,358 358.5,357.9 358.7,358 359,358.2 359.2,358.3 359.5,356.4 359.7,358.5 360,358.3 360.2,358 360.5,358.6 360.7,358.7 361,358.2 361.2,358.3 361.5,358.1 361.7,358.2 362,355.2 362.2,357.1 362.5,359 362.7,357.6 363,358.1 363.2,358.3 363.5,358.2 363.7,357.7 364,357.3 364.2,357.6 364.5,358 364.7,356.4 365,357.2 365.2,358.1 365.5,358.2 365.7,358.6 366,357.3 366.2,357.3 366.5,356 366.7,357.7 367,359.1 367.2,358.5 367.5,355.8 367.7,357.7 368,357.2 368.2,358.1 368.5,357.3 368.7,357.4 369,358.1 369.2,358.9 369.5,355.9 369.7,357.6 370,358.5 370.2,359.5 370.5,356.5 370.7,358.9 371,358.3 371.2,358 371.5,357.5 371.7,356.5 372,357.3 372.2,358.9 372.5,357.2 372.7,355.6 373,358.2 373.2,356.8 373.5,356.5 373.7,359 374,356.8 374.2,358.5 374.5,357 374.7,358.6 375,356.6 375.2,357.6 375.5,357.3 375.7,357.7 376,356.9 376.2,358 376.5,356.8 376.7,356.8 377,355.7 377.2,357.6 377.5,357.8 377.7,356.7 378,359.6 378.2,357.8 378.5,357.2 378.7,356.8 379,357.6 379.2,359.3 379.5,356.4 379.7,357.5 380,358.2 380.2,357.6 380.5,357.5 380.7,357.4 381,357.8 381.2,354.2 381.5,358.8 381.7,358.7 382,357.7 382.2,358 382.5,357.2 382.7,358.2 383,356.9 383.2,359.3 383.5,356.7 383.7,356.4 384,356.7 384.2,357 384.5,357.6 384.7,356.9 385,356.9 385.2,358.1 385.5,357.2 385.7,356.4 386,356.3 386.2,356.7 386.5,357.6 386.7,357.3 387,356.9 387.2,357.1 387.5,358.5 387.7,359.2 388,356.6 388.2,356.3 388.5,355.5 388.7,360.1 389,357 389.2,357.6 389.5,357.3 389.7,358.6 390,355.8 390.2,358 390.5,357.4 390.7,358.2 391,355.9 391.2,356.8 391.5,357.2 391.7,355.5 392,356.7 392.2,356.6 392.5,359.6 392.7,356.5 393,359.3 393.2,357.9 393.5,357.5 393.7,358.8 394,353.2 394.2,357.7 394.5,357.1 394.7,358.5 395,357.1 395.2,357.8 395.5,358 395.7,357.3 396,355.9 396.2,358.6 396.5,358.6 396.7,358.7 397,356.2 397.2,357.5 397.5,357.5 397.7,357.3 398,358.7 398.2,358.1 398.5,358.1 398.7,357.3 399,358.6 399.2,356.4 399.5,357.7 399.7,358.3 400,357.2 400.2,356.8 400.5,359.6 400.7,355.9 401,358 401.2,356.5 401.5,356.8 401.7,358 402,357.8 402.2,358 402.5,357.5 402.7,356.8 403,358.4 403.2,356.4 403.5,355.7 403.7,358 404,357.2 404.2,357.4 404.5,356.7 404.7,355.7 405,355.9 405.2,357.4 405.5,356.7 405.7,358.5 406,358.3 406.2,358.7 406.5,356.6 406.7,357.5 407,359.6 407.2,357.3 407.5,355.7 407.7,358.8 408,356.8 408.2,358.4 408.5,358.3 408.7,354.9 409,357 409.2,358.9 409.5,358.8 409.7,357.5 410,357.7 410.2,358.3 410.5,358 410.7,357.8 411,356.3 411.2,357.7 411.5,356.7 411.7,359.8 412,357.7 412.2,358.2 412.5,357.6 412.7,356.6 413,358.5 413.2,359.4 413.5,358.2 413.7,358.3 414,356.6 414.2,356.3 414.5,356.7 414.7,356.4 415,356.1 415.2,359.2 415.5,356.5 415.7,356.8 416,356.2 416.2,357.2 416.5,356 416.7,355.1 417,358.1 417.2,358.6 417.5,358.2 417.7,359.5 418,358.6 418.2,358.8 418.5,356.8 418.7,357.9 419,357.8 419.2,356.8 419.5,355.5 419.7,356.7 420,357.2 420.2,355.2 420.5,357.4 420.7,358 421,357.1 421.2,359.2 421.5,357.7 421.7,357.4 422,358.3 422.2,357.5 422.5,358.8 422.7,355.6 423,358.3 423.2,355.1 423.5,357.3 423.7,356.3 424,359.1 424.2,358.2 424.5,357.1 424.7,358.8 425,355.3 425.2,358.8 425.5,358.9 425.7,357.1 426,357.9 426.2,358.8 426.5,357.9 426.7,357.8 427,357 427.2,357.3 427.5,357.4 427.7,358 428,358.2 428.2,356.2 428.5,358.7 428.7,359 429,357.4 429.2,356.1 429.5,356.9 429.7,357.5 430,357.6 430.2,358.9 430.5,359.4 430.7,359.7 431,358.6 431.2,356.7 431.5,357.3 431.7,356.7 432,356.3 432.2,356.7 432.5,356.7 432.7,356.8 433,358.1 433.2,358.1 433.5,355.6 433.7,358.8 434,356.6 434.2,358.5 434.5,355.6 434.7,357.3 435,358.3 435.2,355.7 435.5,357.1 435.7,356.8 436,359.5 436.2,358.3 436.5,357.4 436.7,356.8 437,357.8 437.2,356.9 437.5,357.7 437.7,359 438,355.9 438.2,358.2 438.5,357.1 438.7,358.3 439,355.9 439.2,356.5 439.5,357.4 439.7,356.2 440,358 440.2,358.6 440.5,357.9 440.7,358.2 441,357.1 441.2,357.1 441.5,359.3 441.7,358.3 442,358.6 442.2,357.4 442.5,357.8 442.7,356.6 443,357.4 443.2,357.1 443.5,356.9 443.7,356.3 444,357 444.2,355.7 444.5,355.4 444.7,357.3 445,357.6 445.2,358.6 445.5,354.8 445.7,357.6 446,358.3 446.2,359.9 446.5,358 446.7,357.5 447,357.7 447.2,357.4 447.5,358 447.7,359.2 448,358 448.2,357.1 448.5,358.7 448.7,356.8 449,356.8 449.2,358.8 449.5,358.1 449.7,358 450,357.2 450.2,357.7 450.5,358.2 450.7,357.2 451,356.9 451.2,356.6 451.5,357.4 451.7,356 452,357.5 452.2,357.7 452.5,357.1 452.7,356.4 453,357 453.2,357.5 453.5,357.1 453.7,356.7 454,357.1 454.2,358.7 454.2,410.7 454,412.3 453.7,412.1 453.5,411.8 453.2,411.5 453,410.3 452.7,413 452.5,413.1 452.2,411.2 452,411.2 451.7,412.6 451.5,411.5 451.2,410.8 451,413.9 450.7,412.2 450.5,411.3 450.2,412.6 450,412.1 449.7,410.7 449.5,412.4 449.2,413.6 449,412.1 448.7,413.5 448.5,412 448.2,412 448,411 447.7,412.3 447.5,411.6 447.2,410.7 447,411.2 446.7,412.4 446.5,412.4 446.2,413.7 446,411.9 445.7,410.4 445.5,411.6 445.2,411.6 445,411.4 444.7,412.6 444.5,413.1 444.2,412.4 444,410.7 443.7,413.1 443.5,413.5 443.2,412.9 443,412.4 442.7,411.4 442.5,414.1 442.2,411.8 442,410.2 441.7,411.2 441.5,411.3 441.2,413.7 441,411.2 440.7,411.9 440.5,411.7 440.2,411 440,410.7 439.7,411.3 439.5,410.8 439.2,410.8 439,413.1 438.7,412.7 438.5,413.1 438.2,411.5 438,411 437.7,410.5 437.5,412 437.2,413.6 437,411.9 436.7,410.9 436.5,410.1 436.2,412.3 436,412.4 435.7,412.8 435.5,412.6 435.2,411.3 435,410.7 434.7,411 434.5,410.3 434.2,411.4 434,411.6 433.7,410.2 433.5,411.8 433.2,412.2 433,411.7 432.7,408.9 432.5,411.5 432.2,413 432,413.3 431.7,411.9 431.5,410.1 431.2,411.7 431,412 430.7,412.5 430.5,412.3 430.2,410.7 430,412.7 429.7,413.6 429.5,412 429.2,413.3 429,411.3 428.7,412.2 428.5,410.9 428.2,414 428,412.3 427.7,411.5 427.5,412.2 427.2,411.6 427,413.4 426.7,411.3 426.5,410.4 426.2,412.7 426,411.9 425.7,412 425.5,414.6 425.2,412.5 425,411.5 424.7,410.6 424.5,410.9 424.2,412.1 424,411.6 423.7,412.9 423.5,412 423.2,413.1 423,412.4 422.7,412.7 422.5,410.9 422.2,411.8 422,413.9 421.7,410.9 421.5,411 421.2,410.4 421,412.2 420.7,413.7 420.5,409.5 420.2,409.1 420,411.6 419.7,410.8 419.5,412.6 419.2,412 419,413.3 418.7,410.5 418.5,412.5 418.2,413.5 418,412.7 417.7,412.4 417.5,411 417.2,412.2 417,410.9 416.7,411.3 416.5,413.3 416.2,411.6 416,411.9 415.7,410.1 415.5,412.6 415.2,412 415,409.6 414.7,412.6 414.5,413 414.2,412.8 414,411 413.7,411 413.5,411.9 413.2,410.5 413,412.4 412.7,411.9 412.5,411.4 412.2,412.4 412,413.2 411.7,411.7 411.5,411.1 411.2,410.9 411,411.4 410.7,411.7 410.5,412.1 410.2,413.1 410,411 409.7,411.4 409.5,410.2 409.2,411.1 409,410.7 408.7,411 408.5,412.1 408.2,413.9 408,412 407.7,413.2 407.5,411.5 407.2,411.4 407,411.9 406.7,411.5 406.5,411.1 406.2,412.4 406,411.5 405.7,411.4 405.5,411.2 405.2,410.6 405,412.5 404.7,411.6 404.5,413.4 404.2,409.6 404,410.8 403.7,412.5 403.5,412.3 403.2,412.3 403,411.7 402.7,411.4 402.5,410.3 402.2,411.8 402,409.1 401.7,412.1 401.5,411.6 401.2,413.9 401,412.9 400.7,412.5 400.5,411.3 400.2,410.9 400,412.5 399.7,410.7 399.5,411.5 399.2,413.3 399,410.7 398.7,413.7 398.5,410.9 398.2,412.5 398,412.5 397.7,413.5 397.5,411.4 397.2,412.4 397,413.1 396.7,410.7 396.5,411.5 396.2,411.8 396,413.9 395.7,411.7 395.5,410.3 395.2,411.5 395,412.3 394.7,411.2 394.5,412.3 394.2,412.2 394,412.6 393.7,409.3 393.5,414.3 393.2,413.1 393,411.6 392.7,412.2 392.5,412.5 392.2,411.7 392,412.6 391.7,413.2 391.5,413.4 391.2,411 391,411.7 390.7,411.4 390.5,412 390.2,411.2 390,411.7 389.7,412.1 389.5,411.7 389.2,410.2 389,411.7 388.7,410.8 388.5,410.3 388.2,413 388,412.5 387.7,411.4 387.5,413.1 387.2,411.7 387,410.8 386.7,412.9 386.5,410.8 386.2,412.7 386,410.1 385.7,411.6 385.5,411.1 385.2,411 385,411.2 384.7,410.4 384.5,409.5 384.2,410.4 384,413 383.7,410.9 383.5,410.4 383.2,412.4 383,411.5 382.7,411.2 382.5,410.2 382.2,411.6 382,411.8 381.7,410.8 381.5,410 381.2,411.4 381,412.7 380.7,412.3 380.5,410.4 380.2,412 380,412.7 379.7,411 379.5,410 379.2,412.6 379,411.4 378.7,411.3 378.5,412.7 378.2,413.2 378,413.2 377.7,410.8 377.5,412.2 377.2,411 377,409.9 376.7,413.1 376.5,412.8 376.2,411.6 376,413.4 375.7,411.8 375.5,411.1 375.2,414.9 375,410.6 374.7,412.1 374.5,411.7 374.2,411.3 374,411.4 373.7,413.2 373.5,412.5 373.2,412.8 373,412.3 372.7,413.6 372.5,413.4 372.2,410.7 372,410.7 371.7,411.4 371.5,411.9 371.2,411.3 371,413.7 370.7,412.3 370.5,411.7 370.2,411.9 370,413.4 369.7,412.4 369.5,410.9 369.2,412.9 369,410.7 368.7,410.6 368.5,411.3 368.2,413.9 368,412.6 367.7,411.4 367.5,411.3 367.2,412 367,410.3 366.7,410.7 366.5,410.8 366.2,411.7 366,411.1 365.7,411.4 365.5,413.4 365.2,410.7 365,410.2 364.7,411.7 364.5,411.5 364.2,413.3 364,412.7 363.7,410 363.5,411.5 363.2,412.6 363,412 362.7,414.1 362.5,412.5 362.2,412.2 362,413.7 361.7,409.4 361.5,411.1 361.2,411.7 361,410.5 360.7,411.5 360.5,413 360.2,411.8 360,412 359.7,413.1 359.5,410.5 359.2,410.8 359,411.3 358.7,410.9 358.5,414 358.2,412.5 358,412.8 357.7,412.1 357.5,410.6 357.2,411.9 357,413.1 356.7,410.9 356.5,411.7 356.2,411.7 356,411.7 355.7,411.6 355.5,410.9 355.2,412.9 355,412.7 354.7,411.1 354.5,410 354.2,411.5 354,411 353.7,410.2 353.5,412 353.2,410.8 353,411.3 352.7,411.4 352.5,413.5 352.2,414.3 352,411.9 351.7,412.5 351.5,412.6 351.2,414.3 351,412.6 350.7,409.1 350.5,410.5 350.2,413.3 350,410.8 349.7,412.1 349.5,411.8 349.2,411.6 349,413.1 348.7,409.5 348.5,412.2 348.2,411.7 348,411.7 347.7,413.2 347.5,413.4 347.2,412.4 347,411.3 346.7,410.6 346.5,411.7 346.2,411.9 346,412.1 345.7,412.7 345.5,411.4 345.2,412.7 345,409.6 344.7,410.2 344.5,412.8 344.2,412.7 344,411.2 343.7,411.9 343.5,411.4 343.2,413.4 343,410.9 342.7,413 342.5,412.7 342.2,413 342,410.5 341.7,410.7 341.5,413.9 341.2,411.7 341,412.1 340.7,410.3 340.5,412 340.2,411.3 340,412.4 339.7,411 339.5,411.8 339.2,411.7 339,412.8 338.7,411.1 338.5,413 338.2,411.8 338,411.5 337.7,414 337.5,411.4 337.2,412.9 337,411.4 336.7,413.7 336.5,411.7 336.2,412 336,411.8 335.7,411.9 335.5,411.4 335.2,410.7 335,412.9 334.7,412.5 334.5,411.2 334.2,411.4 334,412.2 333.7,414.1 333.5,411.5 333.2,410.7 333,410.9 332.7,412.7 332.5,412.7 332.2,409.8 332,409.5 331.7,411.4 331.5,412.6 331.2,410.8 331,411.8 330.7,412.8 330.5,410.7 330.2,410.4 330,408.9 329.7,412.2 329.5,414 329.2,413.5 329,411.1 328.7,412.9 328.5,412 328.2,413.2 328,411.8 327.7,410.8 327.5,410.3 327.2,409.7 327,413.3 326.7,413.4 326.5,411.3 326.2,411.6 326,411.5 325.7,412.3 325.5,411.2 325.2,412.3 325,412.3 324.7,412.7 324.5,413.3 324.2,412 324,411.3 323.7,410.3 323.5,412.3 323.2,410.8 323,411.5 322.7,414 322.5,411.4 322.2,412.2 322,413.3 321.7,411.5 321.5,412.7 321.2,412.5 321,412.2 320.7,411.9 320.5,410.7 320.2,412.2 320,411.6 319.7,410.8 319.5,410.9 319.2,412.7 319,411.8 318.7,412 318.5,412.7 318.2,411.5 318,410.8 317.7,412.1 317.5,411.5 317.2,411.4 317,411 316.7,412.6 316.5,413.3 316.2,410.7 316,413.4 315.7,410 315.5,412.9 315.2,412.6 315,412.5 314.7,410.9 314.5,412.3 314.2,413.8 314,412.5 313.7,412.5 313.5,413.1 313.2,412.6 313,412.1 312.7,411.4 312.5,412.7 312.2,412.4 312,412.9 311.7,414.1 311.5,411.2 311.2,412.2 311,411.4 310.7,411.8 310.5,412.5 310.2,411.4 310,412.9 309.7,411.4 309.5,412 309.2,409.9 309,410.7 308.7,414.4 308.5,411.4 308.2,411.4 308,412.1 307.7,412.7 307.5,413 307.2,411.4 307,411.4 306.7,413.1 306.5,411.2 306.2,411.6 306,413.8 305.7,411.2 305.5,410.7 305.2,411.8 305,413.5 304.7,410.7 304.5,413.8 304.2,410.5 304,410.3 303.7,411.1 303.5,412.8 303.2,412.5 303,413 302.7,411.7 302.5,413.3 302.2,411.6 302,410.7 301.7,410.8 301.5,413.1 301.2,410 301,411.7 300.7,412.3 300.5,411.9 300.2,411.9 300,413.5 299.7,413.8 299.5,413.2 299.2,411.1 299,412 298.7,413.6 298.5,411.8 298.2,411.3 298,411.8 297.7,412 297.5,410.9 297.2,413.5 297,412.8 296.7,412.8 296.5,412.5 296.2,411.8 296,410.7 295.7,413 295.5,410.3 295.2,413.9 295,410.1 294.7,411.9 294.5,410.6 294.2,412 294,411.8 293.7,412.6 293.5,409.8 293.2,410.8 293,412.1 292.7,411.9 292.5,412 292.2,410.9 292,409.8 291.7,410.9 291.5,412 291.2,409 291,411.9 290.7,410.7 290.5,412.2 290.2,411 290,410.6 289.7,412.7 289.5,412 289.2,410.5 289,413.1 288.7,413.3 288.5,410.9 288.2,414.2 288,410 287.7,413 287.5,411.5 287.2,412.1 287,411.5 286.7,410.8 286.5,413.2 286.2,411.2 286,412.8 285.7,412.6 285.5,411.8 285.2,411.6 285,411.1 284.7,411.3 284.5,411.7 284.2,412.6 284,412.1 283.7,412.6 283.5,413.5 283.2,413.1 283,411.2 282.7,412.7 282.5,413.2 282.2,411.2 282,411 281.7,410.6 281.5,412.1 281.2,410.5 281,411.3 280.7,413.5 280.5,412.7 280.2,412.3 280,413.2 279.7,411.2 279.5,412.6 279.2,410 279,411.1 278.7,412.5 278.5,410.4 278.2,410.9 278,409.4 277.7,411 277.5,412.6 277.2,413 277,413.2 276.7,411.1 276.5,410.9 276.2,413.2 276,412.1 275.7,412 275.5,413 275.2,411.5 275,413.1 274.7,412 274.5,412.3 274.2,411.5 274,410.4 273.7,411.6 273.5,412.2 273.2,411.7 273,412.2 272.7,412.8 272.5,412.4 272.2,411.7 272,411.6 271.7,411.7 271.5,412 271.2,413.7 271,412.1 270.7,413.5 270.5,414 270.2,410.1 270,411.3 269.7,410.8 269.5,412.1 269.2,411.9 269,412.1 268.7,412.3 268.5,410.6 268.2,410.4 268,412 267.7,412.1 267.5,413.1 267.2,413.5 267,409 266.7,413.7 266.5,413.1 266.2,414.3 266,411.7 265.7,413.1 265.5,410.5 265.2,409.3 265,410.8 264.7,411.6 264.5,414.5 264.2,411.8 264,410.6 263.7,412.5 263.5,411.6 263.2,412.8 263,412.4 262.7,410.9 262.5,412 262.2,415.2 262,412.1 261.7,411.4 261.5,411.2 261.2,412 261,413.4 260.7,412.9 260.5,412.7 260.2,413.4 260,412.5 259.7,413.4 259.5,411.4 259.2,411.8 259,410.3 258.7,409.8 258.5,410.3 258.2,410.7 258,411.4 257.7,412.4 257.5,413.3 257.2,412.5 257,411.4 256.7,413.3 256.5,413.5 256.2,412 256,411.4 255.7,412.1 255.5,413.5 255.2,411.8 255,413.5 254.7,411.7 254.5,410.7 254.2,411.2 254,410.7 253.7,410.4 253.5,411.4 253.2,411.6 253,411.7 252.7,413.7 252.5,411.5 252.2,410.8 252,411.7 251.7,412.9 251.5,414 251.2,412.7 251,413.3 250.7,413.6 250.5,414.1 250.2,413.4 250,412.5 249.7,411.5 249.5,411.4 249.2,411.5 249,410.3 248.7,413.1 248.5,412.9 248.2,410.9 248,409.4 247.7,412.9 247.5,412.6 247.2,412.4 247,411.6 246.7,412.7 246.5,412.1 246.2,411.7 246,412 245.7,410.6 245.5,411 245.2,410.1 245,412 244.7,410 244.5,410.9 244.2,412.5 244,412.4 243.7,411.8 243.5,412.5 243.2,411.7 243,409.6 242.7,410.6 242.5,411.7 242.2,409.5 242,411.6 241.7,412.3 241.5,413.1 241.2,413.4 241,413.8 240.7,412.4 240.5,411.2 240.2,410.9 240,412.2 239.7,411.6 239.5,409.9 239.2,412.1 239,411.7 238.7,412.4 238.5,412.6 238.2,409.8 238,412.1 237.7,411.8 237.5,410.5 237.2,413.9 237,412.5 236.7,409.6 236.5,410.8 236.2,413.5 236,411.8 235.7,411.2 235.5,411.5 235.2,410.3 235,410.9 234.7,413.3 234.5,411.4 234.2,413.2 234,412.3 233.7,411.9 233.5,412.7 233.2,410.6 233,411.7 232.7,411.9 232.5,410.9 232.2,412.1 232,411.8 231.7,414.7 231.5,413.2 231.2,411.2 231,413.4 230.7,412.2 230.5,413 230.2,411.9 230,413.7 229.7,412.6 229.5,413.4 229.2,412.4 229,411.5 228.7,409.8 228.5,412.8 228.2,410.3 228,410.3 227.7,410.4 227.5,414 227.2,410.3 227,413.1 226.7,412.7 226.5,412.9 226.2,412.2 226,413.8 225.7,414.4 225.5,413.1 225.2,410.8 225,411.8 224.7,411 224.5,412.1 224.2,410.1 224,411.1 223.7,411.3 223.5,412.3 223.2,412.4 223,411.8 222.7,412.8 222.5,412.6 222.2,411.9 222,412.6 221.7,412.3 221.5,412.8 221.2,411 221,412.6 220.7,412.7 220.5,411.3 220.2,411.9 220,411.9 219.7,413.6 219.5,411.9 219.2,411.3 219,413.1 218.7,412.2 218.5,410.8 218.2,411.1 218,412.2 217.7,411.7 217.5,411.5 217.2,412.9 217,411.7 216.7,412.5 216.5,410.8 216.2,411.8 216,411.6 215.7,411.1 215.5,412.8 215.2,413.9 215,411.3 214.7,413.2 214.5,410.9 214.2,411.2 214,412 213.7,410.9 213.5,413.5 213.2,411.3 213,411.7 212.7,412.4 212.5,411.9 212.2,412.3 212,412.4 211.7,413.1 211.5,412.5 211.2,411 211,412.2 210.7,412.8 210.5,412.1 210.2,411.4 210,413.2 209.7,411.9 209.5,410.9 209.2,411.5 209,410.9 208.7,411.4 208.5,412 208.2,414.1 208,413.4 207.7,412.6 207.5,410.8 207.2,411.2 207,412.9 206.7,410 206.5,413.7 206.2,411.4 206,411.7 205.7,412.5 205.5,411.3 205.2,413.6 205,411.2 204.7,413.8 204.5,411.7 204.2,413.2 204,413.5 203.7,413.7 203.5,412.2 203.2,410.6 203,410.3 202.7,413.3 202.5,411.5 202.2,412.2 202,412.3 201.7,411.1 201.5,410.7 201.2,412.2 201,410.6 200.7,411.6 200.5,412.3 200.2,413 200,412.5 199.7,412 199.5,412.9 199.2,411.8 199,412.2 198.7,413 198.5,412.5 198.2,412.8 198,411.2 197.7,410.8 197.5,412.6 197.2,409.3 197,412.5 196.7,412 196.5,411.5 196.2,413 196,410.5 195.7,414.2 195.5,413.4 195.2,412.4 195,412.9 194.7,412.8 194.5,411.8 194.2,412.7 194,411.8 193.7,411.3 193.5,411.4 193.2,412.5 193,410.9 192.7,411.8 192.5,411.8 192.2,411.8 192,410.4 191.7,412.4 191.5,413.4 191.2,411.2 191,415.3 190.7,412.9 190.5,412.3 190.2,412.2 190,411.7 189.7,413.6 189.5,411.2 189.2,412.3 189,412.7 188.7,411.1 188.5,410.8 188.2,413.1 188,411.6 187.7,410.7 187.5,411 187.2,412.1 187,411.4 186.7,413.2 186.5,411.8 186.2,411 186,410.7 185.7,412.6 185.5,414.2 185.2,412.4 185,411.8 184.7,411.6 184.5,411.9 184.2,411.5 184,409.8 183.7,412.9 183.5,411.5 183.2,412.3 183,411.6 182.7,412.7 182.5,411.7 182.2,412.1 182,412 181.7,410.5 181.5,411.8 181.2,411.1 181,413.2 180.7,411.1 180.5,410.7 180.2,413.2 180,410.3 179.7,413.1 179.5,411.7 179.2,412.1 179,413.3 178.7,411.6 178.5,410.4 178.2,412.3 178,411.2 177.7,411.4 177.5,413.3 177.2,411.5 177,411.7 176.7,411.8 176.5,413.1 176.2,411.9 176,413.1 175.7,410.4 175.5,411.5 175.2,411.4 175,411.2 174.7,410.9 174.5,412.9 174.2,412.5 174,411.6 173.7,410.7 173.5,411.7 173.2,413.3 173,412.7 172.7,412.1 172.5,412.9 172.2,413.7 172,412.2 171.7,413.8 171.5,410.6 171.2,412.2 171,411.7 170.7,410.8 170.5,408.8 170.2,409.3 170,412.3 169.7,413 169.5,412.4 169.2,410.1 169,410.9 168.7,412.5 168.5,410.3 168.2,411 168,411.2 167.7,413.2 167.5,411.9 167.2,409.9 167,413.5 166.7,413.1 166.5,411 166.2,410.8 166,411.1 165.7,412 165.5,411.1 165.2,410.2 165,413.2 164.7,410.8 164.5,411.6 164.2,412.6 164,411.7 163.7,410.5 163.5,411.8 163.2,411.7 163,411.7 162.7,410.2 162.5,412.9 162.2,411.3 162,412.1 161.7,411 161.5,411.8 161.2,412.5 161,411 160.7,413.2 160.5,410.2 160.2,413.4 160,412.8 159.7,411.3 159.5,411.4 159.2,413.8 159,411.8 158.7,412.7 158.5,413.6 158.2,411.9 158,411.5 157.7,413.2 157.5,408.7 157.2,412.7 157,412.2 156.7,411.7 156.5,411.6 156.2,412.4 156,410.7 155.7,410.7 155.5,410.9 155.2,413.3 155,412.9 154.7,411.6 154.5,410.8 154.2,413.7 154,412.6 153.7,410.7 153.5,413 153.2,410.6 153,412.4 152.7,412.6 152.5,410.6 152.2,411.7 152,412.1 151.7,410.3 151.5,412.5 151.2,413.5 151,411.4 150.7,412.2 150.5,411.3 150.2,413.5 150,410.3 149.7,412 149.5,411.7 149.2,411.1 149,412.1 148.7,412.5 148.5,411.1 148.2,413.1 148,411.1 147.7,411.4 147.5,412.5 147.2,412.6 147,412 146.7,412.7 146.5,412.5 146.2,413.1 146,413.1 145.7,413.6 145.5,410.6 145.2,412.8 145,412.2 144.7,410.8 144.5,412 144.2,411.8 144,410.6 143.7,412.3 143.5,412.7 143.2,412.5 143,412.1 142.7,409.6 142.5,410.1 142.2,411.8 142,411.1 141.7,410.6 141.5,412.1 141.2,412.5 141,411 140.7,411.8 140.5,412.6 140.2,412.2 140,412.2 139.7,412.6 139.5,413.7 139.2,412.3 139,411.1 138.7,412.8 138.5,411.6 138.2,411.6 138,411.8 137.7,410.4 137.5,413.3 137.2,414.2 137,412.1 136.7,412.1 136.5,413.5 136.2,412.9 136,412.5 135.7,412.7 135.5,412.4 135.2,410.2 135,411.4 134.7,413.7 134.5,411.4 134.2,410.9 134,412.3 133.7,413 133.5,411.6 133.2,413.5 133,413 132.7,412 132.5,411 132.2,409.6 132,412.5 131.7,411.1 131.5,413.7 131.2,410.6 131,412.9 130.7,411.5 130.5,408.7 130.2,415 130,413 129.7,411.3 129.5,412.9 129.2,413.8 129,410.2 128.7,411.8 128.5,411.1 128.2,412.3 128,410.9 127.7,413.6 127.5,412.1 127.2,411.2 127,412.4 126.7,412.2 126.5,410 126.2,410.7 126,413.2 125.7,410.7 125.5,412.9 125.2,411.6 125,411.1 124.7,411.5 124.5,412 124.2,412.8 124,413.5 123.7,413.1 123.5,413.3 123.2,410.9 123,412.2 122.7,411.3 122.5,412.5 122.2,412 122,412 121.7,410.9 121.5,411 121.2,410.8 121,409.9 120.7,412 120.5,411.2 120.2,412.5 120,412.4 119.7,413.2 119.5,412.5 119.2,411.5 119,412.1 118.7,409.6 118.5,410.5 118.2,413 118,412.7 117.7,411.6 117.5,414 117.2,413.2 117,411.8 116.7,412.9 116.5,415.6"/>
<path d="M116.5,454 116.5,345.9 116.5,378.8 116.5,391.2 117,390.8 117,379.4 117.5,379.8 117.5,390.7 118,391.5 118,379.6 118.5,379.4 118.5,390.9 119,391.3 119,379.4 119.5,378.9 119.5,390.7 120,391.1 120,379.7 120.5,378.5 120.5,391.5 121,390.7 121,380.1 121.5,379.4 121.5,391.3 122,390.8 122,379 122.5,378.9 122.5,391.6 123,392 123,379.4 123.5,378.6 123.5,391 124,391.7 124,378.6 124.5,379.9 124.5,390.7 125,390.6 125,378.9 125.5,380.1 125.5,391.4 126,390.9 126,379 126.5,378.4 126.5,391.4 127,391.3 127,379.7 127.5,379.6 127.5,392.4 128,391.2 128,379.8 128.5,378.5 128.5,390.8 129,390.3 129,378.7 129.5,379.5 129.5,391.6 130,391.2 130,380 130.5,378.5 130.5,391.4 131,390.6 131,379.5 131.5,378.1 131.5,392.3 132,390.8 132,379.2 132.5,379.6 132.5,390.6 133,390.8 133,378.9 133.5,380 133.5,391.1 134,391.2 134,379.2 134.5,380.2 134.5,392.1 135,391.4 135,380.1 135.5,379.8 135.5,391.1 136,390.6 136,378.7 136.5,377 136.5,391.2 137,392.2 137,378.3 137.5,379.6 137.5,391.4 138,391.6 138,379 138.5,379.6 138.5,391.9 139,391.6 139,379.7 139.5,379.8 139.5,391.3 140,392.5 140,379.3 140.5,380 140.5,391.4 141,390.3 141,378 141.5,379.5 141.5,390.6 142,391.7 142,379.3 142.5,378.8 142.5,391.5 143,391.2 143,379.8 143.5,379.4 143.5,391 144,391.3 144,380.3 144.5,379.3 144.5,390.6 145,392.3 145,379.3 145.5,379.1 145.5,390.9 146,391.5 146,379.3 146.5,379.2 146.5,390.9 147,393 147,379.6 147.5,379 147.5,391.3 148,391 148,379.4 148.5,379.5 148.5,391.7 149,391.7 149,379.2 149.5,380 149.5,392.3 150,391.3 150,379.8 150.5,379.8 150.5,392.2 151,390.8 151,379.3 151.5,379.7 151.5,390.7 152,391.1 152,379.6 152.5,379.5 152.5,390.4 153,392.3 153,378.8 153.5,379.9 153.5,390.9 154,392 154,378.9 154.5,379 154.5,390.8 155,391.9 155,379.8 155.5,378.7 155.5,391 156,391.1 156,380 156.5,379.5 156.5,392.3 157,392.5 157,379.4 157.5,379.4 157.5,390.8 158,390.7 158,379.1 158.5,379.7 158.5,391.1 159,391.2 159,379.3 159.5,378.7 159.5,392 160,390.4 160,379.8 160.5,379 160.5,390.6 161,390.8 161,380 161.5,379.6 161.5,391 162,390.8 162,379.8 162.5,379.2 162.5,391.5 163,390.8 163,378.3 163.5,379.8 163.5,390.9 164,391.2 164,379.2 164.5,379.6 164.5,390.7 165,392.3 165,379.7 165.5,379.8 165.5,391.7 166,390.9 166,379.4 166.5,379.3 166.5,391.8 167,392.3 167,379.1 167.5,378.9 167.5,391.4 168,390.2 168,379.5 168.5,379.4 168.5,390.3 169,390.2 169,379.2 169.5,377.5 169.5,390.4 170,391.1 170,379.1 170.5,379.9 170.5,391.3 171,391.2 171,379.7 171.5,379.9 171.5,391 172,390.9 172,379.7 172.5,377.3 172.5,391 173,390.9 173,378.6 173.5,378.6 173.5,391.2 174,390.9 174,379.4 174.5,379 174.5,392.1 175,390.9 175,379.2 175.5,378.3 175.5,392.1 176,390.8 176,379.8 176.5,378.1 176.5,391 177,390.5 177,379.6 177.5,379.9 177.5,391.3 178,390.8 178,379.5 178.5,379.4 178.5,391.8 179,391.3 179,379.8 179.5,379.8 179.5,390.4 180,391 180,378.8 180.5,379.9 180.5,391.4 181,390.8 181,378.3 181.5,379.9 181.5,390.2 182,390.4 182,379.9 182.5,378.4 182.5,391 183,390 183,379.4 183.5,379.3 183.5,390.5 184,391.5 184,378.8 184.5,379.3 184.5,391.5 185,391.3 185,378.6 185.5,378.5 185.5,392.2 186,392.5 186,379.4 186.5,378.5 186.5,391.1 187,390.6 187,379.6 187.5,378.9 187.5,391.7 188,391 188,379.9 188.5,378.8 188.5,391.7 189,391.1 189,380.2 189.5,379.2 189.5,392 190,392.6 190,378.6 190.5,379.5 190.5,390.6 191,391.9 191,379.8 191.5,379.7 191.5,391 192,392.6 192,377.5 192.5,379.2 192.5,390.4 193,390.7 193,378.2 193.5,379.7 193.5,391 194,391.3 194,379.5 194.5,377.6 194.5,391.6 195,391 195,379.3 195.5,378.9 195.5,391.2 196,391.8 196,379.6 196.5,378.8 196.5,390.9 197,391.9 197,379.6 197.5,378.4 197.5,390.5 198,391.8 198,380.4 198.5,379.1 198.5,391 199,390.5 199,378.9 199.5,379.6 199.5,391.1 200,390.6 200,378.6 200.5,377.8 200.5,391.3 201,391.1 201,380 201.5,380.2 201.5,390.4 202,391.2 202,380.1 202.5,378.9 202.5,391.5 203,391.5 203,379.6 203.5,378.3 203.5,390.9 204,390.9 204,379.4 204.5,379.8 204.5,390.7 205,391.4 205,379.1 205.5,380.2 205.5,391.2 206,390.9 206,379.8 206.5,379.1 206.5,391.1 207,390.4 207,378.8 207.5,378.8 207.5,391.3 208,392.7 208,378.9 208.5,379.4 208.5,390.4 209,390.7 209,378.5 209.5,378.3 209.5,392.1 210,390.5 210,378.5 210.5,378 210.5,390.4 211,390.4 211,380.2 211.5,379.4 211.5,390.8 212,390.7 212,378.9 212.5,379.8 212.5,391 213,391.6 213,379.4 213.5,379.4 213.5,391.6 214,393.3 214,379.9 214.5,379.7 214.5,392.3 215,390.6 215,379.3 215.5,379.6 215.5,390.9 216,391.4 216,379.3 216.5,378.4 216.5,391.3 217,390.8 217,379 217.5,379.7 217.5,391.3 218,390.8 218,379.7 218.5,378.7 218.5,393.2 219,391.2 219,379.4 219.5,378.9 219.5,390.2 220,391.8 220,377.9 220.5,378.7 220.5,391.9 221,391.8 221,379.7 221.5,379 221.5,391.2 222,390.8 222,380 222.5,379.1 222.5,390.9 223,390.6 223,379.1 223.5,379.5 223.5,391.1 224,392.4 224,380.2 224.5,379.5 224.5,391.9 225,390.9 225,379.6 225.5,380 225.5,391.6 226,390.6 226,378.8 226.5,379.7 226.5,390.5 227,391.2 227,378 227.5,379.8 227.5,391.1 228,391.1 228,380.3 228.5,379.5 228.5,391.2 229,390.8 229,380 229.5,379.3 229.5,390.7 230,390.9 230,379.1 230.5,379.4 230.5,391.8 231,390.9 231,376.2 231.5,380.1 231.5,390.6 232,390.9 232,379.4 232.5,378.9 232.5,390.7 233,391.8 233,379.6 233.5,379.5 233.5,391.4 234,390.8 234,379.5 234.5,379.7 234.5,391.7 235,390.5 235,380.4 235.5,379.2 235.5,391 236,390.5 236,379.7 236.5,379.5 236.5,391.5 237,391.1 237,379 237.5,378 237.5,391.1 238,391.1 238,379.8 238.5,379.9 238.5,391.9 239,390.7 239,377.7 239.5,379.5 239.5,390.7 240,391.3 240,379.8 240.5,378.2 240.5,392.4 241,391.5 241,379.6 241.5,379.6 241.5,391.4 242,392.4 242,378.3 242.5,379 242.5,391.1 243,391.5 243,378.3 243.5,379.6 243.5,390.6 244,390.7 244,379.2 244.5,378.9 244.5,390.7 245,390.6 245,379.2 245.5,378.3 245.5,391.1 246,390.7 246,379.6 246.5,379.5 246.5,391 247,391 247,378.2 247.5,379 247.5,391.4 248,391.3 248,379.9 248.5,379 248.5,391 249,391.6 249,379.3 249.5,379.2 249.5,391.4 250,390.4 250,379.7 250.5,379.3 250.5,390.7 251,390.5 251,379.5 251.5,379.4 251.5,390.9 252,390.7 252,380.3 252.5,379.6 252.5,391.4 253,391.3 253,379 253.5,379.7 253.5,391.6 254,390.6 254,379.1 254.5,379.7 254.5,390.4 255,391.3 255,379.8 255.5,379.2 255.5,392.7 256,391.2 256,379.4 256.5,379.9 256.5,391 257,391.4 257,379.3 257.5,379.2 257.5,392 258,391.1 258,379.8 258.5,378.9 258.5,391 259,392.1 259,379.5 259.5,380 259.5,391.1 260,391 260,379.3 260.5,379.3 260.5,391 261,391.2 261,378.8 261.5,379.4 261.5,390.6 262,391.2 262,380 262.5,379.4 262.5,390.7 263,390.4 263,380.5 263.5,378.9 263.5,391.1 264,390.6 264,380.1 264.5,378.3 264.5,390.4 265,391.8 265,379.5 265.5,378.9 265.5,390.5 266,391.6 266,379.9 266.5,379.5 266.5,391.2 267,391.3 267,379.4 267.5,379.6 267.5,390.6 268,390.8 268,379 268.5,379.7 268.5,390.7 269,391.3 269,379.3 269.5,379.7 269.5,390.3 270,392 270,379.9 270.5,378.8 270.5,391.4 271,391.1 271,379.5 271.5,379.1 271.5,391.7 272,391.6 272,379.1 272.5,379.7 272.5,391.4 273,392 273,378.5 273.5,379.9 273.5,391.6 274,391.5 274,378.9 274.5,379.5 274.5,391.5 275,392 275,379.2 275.5,379.9 275.5,391.1 276,391.2 276,379.2 276.5,379.7 276.5,390.5 277,390.4 277,379.6 277.5,378.5 277.5,392.3 278,391.6 278,379.2 278.5,379.3 278.5,390.8 279,391.8 279,379.6 279.5,380.4 279.5,391.2 280,391.5 280,380.1 280.5,378.4 280.5,390.3 281,392.7 281,379.3 281.5,378.8 281.5,392.1 282,390.8 282,378.9 282.5,378.6 282.5,391 283,391.1 283,378.4 283.5,379.7 283.5,391.6 284,390.8 284,379.2 284.5,379.2 284.5,391.2 285,391.1 285,380 285.5,379.1 285.5,391.5 286,390.7 286,379.6 286.5,380 286.5,390.9 287,391.9 287,379.5 287.5,379.3 287.5,391.2 288,392.4 288,379.5 288.5,379.1 288.5,391.2 289,392.5 289,377.3 289.5,379.1 289.5,390.8 290,391.1 290,379 290.5,379.1 290.5,390.4 291,391.2 291,379.4 291.5,379.7 291.5,390.2 292,390.8 292,379.9 292.5,379 292.5,390.9 293,390.9 293,378.7 293.5,378.9 293.5,392 294,391.2 294,377.8 294.5,379.5 294.5,391.6 295,391.9 295,379.1 295.5,379.6 295.5,390.8 296,391.8 296,378 296.5,379 296.5,390.7 297,391.6 297,380.4 297.5,380 297.5,391.2 298,391 298,379.8 298.5,379.2 298.5,391 299,390.6 299,380.1 299.5,379.1 299.5,391.1 300,390.2 300,378.4 300.5,379.3 300.5,391.1 301,390.9 301,380.1 301.5,379.2 301.5,390.8 302,391.1 302,379.6 302.5,379.1 302.5,392.4 303,392.3 303,378.7 303.5,378.9 303.5,391.3 304,391.9 304,379.9 304.5,379.2 304.5,391 305,391.2 305,379.2 305.5,378.2 305.5,390.6 306,391.3 306,379.7 306.5,378.5 306.5,392 307,390.8 307,379 307.5,379.2 307.5,390.7 308,390.6 308,379.9 308.5,379.9 308.5,390.9 309,390.6 309,379.3 309.5,379.2 309.5,391.9 310,392.2 310,379 310.5,379.5 310.5,391.8 311,390.6 311,379.9 311.5,379.6 311.5,391.6 312,391.7 312,379.8 312.5,379.1 312.5,390.6 313,390.8 313,379.9 313.5,378.5 313.5,391.7 314,392.2 314,379.3 314.5,379.6 314.5,390.5 315,391.2 315,379 315.5,378.9 315.5,391.7 316,391.2 316,378.4 316.5,379.4 316.5,391.8 317,390.5 317,379.3 317.5,379 317.5,393.2 318,391.2 318,379.2 318.5,379.4 318.5,392 319,390.8 319,378.8 319.5,379.4 319.5,392.3 320,391 320,379.9 320.5,379.4 320.5,391.1 321,391.2 321,379.4 321.5,379.1 321.5,391.9 322,391.4 322,379.8 322.5,379.1 322.5,390.9 323,390.6 323,379 323.5,379.2 323.5,391.4 324,391.1 324,380.1 324.5,378.4 324.5,390.5 325,391.8 325,379.7 325.5,379.9 325.5,391.1 326,390.9 326,378.9 326.5,377.9 326.5,391.2 327,390.2 327,379 327.5,379.7 327.5,390.6 328,392.2 328,379.7 328.5,379.8 328.5,391.9 329,391.8 329,379.6 329.5,379.3 329.5,391.8 330,390.8 330,378.7 330.5,379.7 330.5,391.5 331,393 331,379.8 331.5,379.5 331.5,391 332,390.4 332,379.7 332.5,379.5 332.5,390.1 333,392 333,379.7 333.5,380 333.5,390.6 334,391.3 334,378.7 334.5,379.3 334.5,392 335,391.9 335,376.9 335.5,378.9 335.5,391 336,392.8 336,379.6 336.5,379.4 336.5,391.5 337,390.8 337,378.4 337.5,379.7 337.5,391.8 338,391.4 338,380.1 338.5,379.2 338.5,391 339,391 339,379.9 339.5,378.2 339.5,391 340,392.3 340,379.8 340.5,378.8 340.5,390.9 341,391.4 341,379.8 341.5,379.2 341.5,391.1 342,392 342,378.6 342.5,380.1 342.5,391.5 343,390.8 343,379.5 343.5,377.5 343.5,391.1 344,392 344,379.2 344.5,379.6 344.5,391.1 345,391.3 345,379.1 345.5,380 345.5,391.2 346,391.8 346,379.1 346.5,379.2 346.5,391.1 347,390.7 347,378.3 347.5,379.3 347.5,390.6 348,393.1 348,379.9 348.5,380 348.5,390.5 349,390.9 349,379.2 349.5,379.8 349.5,391.1 350,390.6 350,379.7 350.5,379.7 350.5,390.5 351,391.4 351,379.1 351.5,379.4 351.5,390.4 352,390.8 352,380.1 352.5,380 352.5,390.9 353,391 353,379.3 353.5,379 353.5,390.6 354,391.8 354,379.7 354.5,380 354.5,390.8 355,391 355,378.5 355.5,379.9 355.5,390.4 356,391.6 356,379.3 356.5,379.2 356.5,391 357,391.7 357,379.1 357.5,379.6 357.5,390.6 358,390.8 358,379.9 358.5,379.7 358.5,390.8 359,392.7 359,379.1 359.5,379.4 359.5,391 360,390.9 360,380 360.5,379.3 360.5,392 361,391.6 361,379.2 361.5,379.7 361.5,390.5 362,391.4 362,380 362.5,379.9 362.5,390.3 363,390.5 363,379.8 363.5,379.5 363.5,392.4 364,390.4 364,379.6 364.5,379.2 364.5,390.8 365,390.7 365,378.9 365.5,380.1 365.5,391 366,391.1 366,379.1 366.5,379.5 366.5,391.3 367,391.4 367,379.5 367.5,379.8 367.5,390.8 368,391.8 368,378.7 368.5,379.7 368.5,392 369,390.3 369,380 369.5,379 369.5,390.8 370,391.5 370,379.4 370.5,379.3 370.5,390.5 371,391.7 371,379.7 371.5,379.9 371.5,390.7 372,391.2 372,378.7 372.5,378.5 372.5,390.7 373,390.5 373,379.3 373.5,379.5 373.5,392.3 374,391.2 374,378.3 374.5,380.1 374.5,391 375,392.2 375,379.4 375.5,379.2 375.5,391.1 376,391 376,379.1 376.5,379.8 376.5,391.8 377,390.4 377,379.2 377.5,379 377.5,390.1 378,391.1 378,379 378.5,379.3 378.5,391 379,393.3 379,378.8 379.5,379.3 379.5,390.9 380,390.3 380,379.2 380.5,379.1 380.5,391.1 381,390.5 381,379.8 381.5,379.4 381.5,390.9 382,390.5 382,378.9 382.5,379 382.5,391.1 383,390.9 383,379.1 383.5,379.6 383.5,390.3 384,391.2 384,379.9 384.5,379.7 384.5,391 385,392.1 385,378.5 385.5,379.9 385.5,392.8 386,391.2 386,379.9 386.5,379.7 386.5,390.7 387,390.7 387,378.6 387.5,379.4 387.5,390.7 388,390.7 388,379.4 388.5,380 388.5,391.5 389,390.4 389,379.3 389.5,379.5 389.5,390.9 390,391.1 390,379.4 390.5,379.1 390.5,391.2 391,392 391,379.2 391.5,379.4 391.5,392.5 392,392.3 392,379.7 392.5,379.3 392.5,391.1 393,391.1 393,379.8 393.5,379.5 393.5,390.5 394,390.8 394,379.6 394.5,378.8 394.5,390.5 395,391 395,379.7 395.5,379.5 395.5,391.6 396,390.3 396,379.3 396.5,378.5 396.5,390.9 397,391.9 397,379.1 397.5,379.2 397.5,391 398,391.1 398,379.7 398.5,379.3 398.5,390.3 399,392.2 399,379 399.5,379.8 399.5,391.4 400,391.5 400,379.3 400.5,378.8 400.5,390.8 401,390.4 401,378.5 401.5,378.6 401.5,390.5 402,392.2 402,379.3 402.5,379.4 402.5,390.8 403,391 403,379.2 403.5,379.6 403.5,390.8 404,392.4 404,379.2 404.5,379.5 404.5,390.3 405,392.7 405,378.6 405.5,378.2 405.5,391.6 406,390.9 406,379.6 406.5,380.1 406.5,391.2 407,391.1 407,379.4 407.5,376.5 407.5,391.1 408,390.9 408,379.4 408.5,380 408.5,391.8 409,391.2 409,378.6 409.5,378.3 409.5,391.5 410,391.3 410,378.1 410.5,379.4 410.5,390.7 411,392.5 411,379.3 411.5,379.7 411.5,391.8 412,392 412,377 412.5,378.2 412.5,391.6 413,391.5 413,379.9 413.5,379.7 413.5,391.1 414,390.9 414,379.9 414.5,378.6 414.5,391.2 415,391.1 415,380.2 415.5,377.7 415.5,390.9 416,392.2 416,379.9 416.5,378.7 416.5,391.7 417,392.2 417,378.9 417.5,380 417.5,391.6 418,390.9 418,377.3 418.5,378.1 418.5,390.7 419,391.7 419,379 419.5,379 419.5,391.4 420,390.5 420,378.4 420.5,379.8 420.5,391.3 421,391.3 421,379.8 421.5,379.2 421.5,391.5 422,391 422,379.2 422.5,378.6 422.5,390.5 423,391.5 423,379.7 423.5,380.1 423.5,394.2 424,390.5 424,378.3 424.5,379.9 424.5,390.7 425,391.6 425,379.2 425.5,378.8 425.5,391.8 426,390.7 426,379.9 426.5,379.8 426.5,390.7 427,390.9 427,378.8 427.5,378.6 427.5,391.5 428,391.1 428,379.8 428.5,378.7 428.5,390.4 429,391.8 429,380 429.5,379 429.5,392.6 430,390.5 430,379.4 430.5,379.4 430.5,390.5 431,391.3 431,379.3 431.5,379.1 431.5,391.2 432,390.4 432,379.5 432.5,379.4 432.5,391.2 433,390.6 433,379.1 433.5,378.5 433.5,391 434,391.4 434,378.9 434.5,380 434.5,393.5 435,391.6 435,379 435.5,380 435.5,390.5 436,390.7 436,379.3 436.5,380.1 436.5,390.9 437,390.8 437,377.4 437.5,379.4 437.5,391.4 438,391.6 438,379.9 438.5,378.3 438.5,390.5 439,391.6 439,379 439.5,379.6 439.5,392.9 440,391.2 440,379.9 440.5,378.7 440.5,390.7 441,390.9 441,380.2 441.5,379.3 441.5,391.1 442,392 442,379.8 442.5,379.9 442.5,390.9 443,391.6 443,379.1 443.5,379.3 443.5,390.8 444,391.1 444,380.4 444.5,378.6 444.5,390.7 445,391.5 445,379.5 445.5,379.1 445.5,390.8 446,390.7 446,379.7 446.5,379.8 446.5,391.2 447,391.3 447,379.3 447.5,379.2 447.5,390.9 448,390.4 448,378.8 448.5,378.4 448.5,392.5 449,391.9 449,379.1 449.5,378 449.5,391.6 450,392.2 450,379.2 450.5,379.5 450.5,390.4 451,391.2 451,379.4 451.5,380 451.5,391.6 452,391.2 452,378.5 452.5,378.5 452.5,390.3 453,390.8 453,379 453.5,378.9 453.5,390.9 454,390.9 454,379 454.5,379.9 454.5,390.8" fill="none" stroke="#1f77b4" stroke-width="4.4" stroke-linejoin="round" stroke-linecap="butt"/>
<path d="M116.5,326V357" stroke="#8fbbd9" stroke-width="0.5" opacity="0.5"/>
<polygon fill="#8fbbd9" points="570.5,466.8 571,466.1 571.5,466.4 572,467.4 572.5,467 573,468.3 573.5,468.1 574,468.5 574.5,467.8 575,470.1 575.5,470.2 576,469.8 576.5,470.7 577,471.4 577.5,470.3 578,471.5 578.5,472.9 579,472.2 579.5,472.8 580,474.7 580.5,473.5 581,475.1 581.5,474.7 582,474.4 582.5,475.4 583,476.2 583.5,476.7 584,477.3 584.5,476.8 585,478.1 585.5,479.3 586,478.5 586.5,479 587,481.1 587.5,480.9 588,480.4 588.5,481.3 589,482.1 589.5,483.4 590,484.3 590.5,485.2 591,486.2 591.5,486.9 592,487.6 592.5,488.7 593,488.6 593.5,491 594,491 594.5,491.9 595,493.2 595.5,492.9 596,494.3 596.5,495.5 597,496.1 597.5,496.8 598,498 598.5,499.4 599,500.7 599.5,500.9 600,501.9 600.5,502.4 601,503.6 601.5,503.9 602,502.5 602.5,505.2 603,505.3 603.5,506.2 604,506.6 604.5,506.6 605,508 605.5,508.3 606,508.2 606.5,508.3 607,508.6 607.5,509.8 608,510.9 608.5,509.8 609,510.8 609.5,511.4 610,511.9 610.5,512.5 611,512.7 611.5,512 612,512.5 612.5,514 613,513.5 613.5,513.3 614,514.3 614.5,514.8 615,515.5 615.5,515.5 616,515.7 616.5,515.6 617,515.5 617.5,515.7 618,516.9 618.5,516.8 619,516.4 619.5,517.1 620,517.6 620.5,517.9 621,517.3 621.5,519.2 622,517.8 622.5,519.4 623,518.3 623.5,519.1 624,520.2 624.5,520.2 625,520.2 625.5,520.2 626,520.3 626.5,520.9 627,521.7 627.5,520.7 628,519.7 628.5,521.8 629,522.2 629.5,521.3 630,521.5 630.5,522.6 631,522.5 631.5,521.8 632,521.4 632.5,522.1 633,522.3 633.5,521.6 634,522.6 634.5,522.1 635,522.9 635.5,524.6 636,522.8 636.5,523.7 637,522.8 637.5,524.4 638,523.6 638.5,525.2 639,524 639.5,524.7 640,524.5 640.5,523.1 641,524.8 641.5,525.3 642,524.2 642.5,525.4 643,525.8 643.5,524.4 644,524.9 644.5,526 645,526.3 645.5,525.9 646,526.4 646.5,526.1 647,525.4 647.5,525.1 648,526.9 648.5,525.7 649,525.9 649.5,525.9 650,526 650.5,527 651,526.8 651.5,527.2 652,526.5 652.5,526.8 653,526.3 653.5,526.1 654,526.6 654.5,526.6 655,526.1 655.5,527.3 656,527.6 656.5,526.9 657,527.1 657.5,528.1 658,527.8 658.5,527.4 659,528 659.5,527.8 660,528.2 660.5,527.6 661,528.2 661.5,529 662,528.1 662.5,530.4 663,529 663.5,527.9 664,528.4 664.5,528.8 665,529.2 665.5,528.3 666,529.5 666.5,529 667,530 667.5,529.4 668,528.9 668.5,528.7 669,529.5 669.5,530.1 670,529.9 670.5,530.1 671,529.7 671.5,529.8 672,529.8 672.5,530.2 673,530 673.5,529.7 674,530 674.5,530 675,530.4 675.5,529.9 676,531.2 676.5,531.1 677,530.9 677.5,530.9 678,530 678.5,530.1 679,529.8 679.5,530 680,530.7 680.5,530.4 681,530 681.5,530.9 682,530.8 682.5,530.4 683,530.8 683.5,530.9 684,529.8 684.5,530.2 685,530.6 685.5,530.6 686,530.5 686.5,531.9 687,530.6 687.5,530.2 688,531.6 688.5,530.9 689,529.9 689.5,531.1 690,530.5 690.5,530.6 691,531.7 691.5,530.6 692,530.6 692.5,530.7 693,531.6 693.5,531 694,530.8 694.5,531.6 695,531.3 695.5,531.2 696,531.3 696.5,530.5 697,532.1 697.5,532.1 698,530.8 698.5,531.5 699,531.6 699.5,530.3 700,530.6 700.5,532.5 701,531.3 701.5,531.1 702,530.4 702.5,531.1 703,531.2 703.5,531.5 704,531.9 704.5,531.2 705,531 705.5,530.9 706,531.6 706.5,530.7 707,531.5 707.5,532.2 708,531 708.5,530.7 709,531.3 709.5,530.6 710,531.5 710.5,531 711,532.1 711.5,531.8 712,530.7 712.5,531.4 713,531.6 713.5,531.3 714,531.2 714.5,531 715,531.8 715.5,531.2 716,530.7 716.5,531.1 717,530.9 717.5,530.5 718,531.9 718.5,531.3 719,530.8 719.5,531 720,530.9 720.5,530.9 721,532 721.5,532.5 722,531.1 722.5,532.2 723,532 723.5,532.3 724,531.4 724.5,531.9 725,531.4 725.5,531.9 726,531.5 726.5,531.3 727,531.6 727.5,531.9 728,532.2 728.5,532.8 729,532.3 729.5,531.5 730,531.5 730.5,530.8 731,530.9 731.5,531.5 732,532 732.5,531.6 733,531.4 733.5,531 734,530.8 734.5,532.6 735,530.5 735.5,531.2 736,531.2 736.5,530.3 737,532.1 737.5,531.2 738,531.7 738.5,531.7 739,532 739.5,531.7 740,531.8 740.5,531.5 741,531.7 741.5,532.3 742,530.7 742.5,531.6 743,531.5 743.5,531.1 744,531.2 744.5,532.1 745,531.2 745.5,531 746,532.6 746.5,530.7 747,532 747.5,532 748,531.6 748.5,530.9 749,531.5 749.5,531.4 750,532.7 750.5,531.2 751,531.6 751.5,532 752,532 752.5,531.2 753,532.5 753.5,531.8 754,531.2 754.5,532.3 755,532.4 755.5,532.1 756,532.8 756.5,532 757,532 757.5,531.4 758,531.9 758.5,532.6 759,531.1 759.5,532 760,531.9 760.5,531.6 761,531.9 761.5,531.5 762,532 762.5,532.2 763,531.6 763.5,532.6 764,531.3 764.5,531.9 765,531.2 765.5,531.5 766,532.1 766.5,531.1 767,532.7 767.5,531.1 768,531.1 768.5,531 769,531.6 769.5,531.3 770,532.6 770.5,532.4 771,530.6 771.5,532 772,531.9 772.5,532 773,531.9 773.5,532.2 774,532 774.5,531.7 775,532.4 775.5,532.3 776,531.2 776.5,531.8 777,531.9 777.5,532 778,531.2 778.5,531.4 779,531.1 779.5,531.5 780,532.1 780.5,531.8 781,531.1 781.5,532.4 782,532.3 782.5,531.5 783,531.3 783.5,531.9 784,532.6 784.5,531.2 785,531.8 785.5,531.9 786,531.8 786.5,531.2 787,532.9 787.5,531.1 788,532.5 788.5,531.8 789,531.7 789.5,531.3 790,531 790.5,531.5 791,533.1 791.5,532.4 792,531.9 792.5,531.4 793,531.8 793.5,531.7 794,531.5 794.5,532.8 795,531.9 795.5,532.1 796,532.1 796.5,531.4 797,531.5 797.5,532.1 798,530.5 798.5,532.4 799,531.9 799.5,532.5 800,531.4 800.5,531.5 801,531.3 801.5,531.7 802,531.5 802.5,532.7 803,531.6 803.5,532.2 804,532.6 804.5,531.6 805,532.1 805.5,531.6 806,532 806.5,531.8 807,531.8 807.5,531.1 808,532.1 808.5,530.8 809,531.2 809.5,531.3 810,531.7 810.5,532.3 811,532.2 811.5,531.7 812,531.7 812.5,531 813,532 813.5,531.8 814,532 814.5,532.5 815,531.9 815.5,530.4 816,532.3 816.5,531.9 817,532.4 817.5,531 818,531.7 818.5,531.9 819,532.1 819.5,532.4 820,530.4 820.5,532.6 821,531.8 821.5,532.7 822,532.3 822.5,531.5 823,532.4 823.5,531.3 824,531.8 824.5,531.6 825,532.1 825.5,531.4 826,531.8 826.5,531.4 827,531.8 827.5,532.5 828,532 828.5,532.8 829,532.2 829.5,531.1 830,532.2 830.5,532 831,531.5 831.5,531.9 832,531.1 832.5,531.4 833,532.1 833.5,531.7 834,532.1 834.5,532.7 835,531.8 835.5,531.8 836,531.5 836.5,532.2 837,530.6 837.5,530.9 838,531.7 838.5,532.3 839,531.6 839.5,531.5 840,531.5 840.5,531.9 841,532.7 841.5,531.8 842,532 842.5,531.2 843,532.1 843.5,530.9 844,532.1 844.5,531.6 845,532 845.5,532.2 846,530.9 846.5,532.6 847,531.7 847.5,531.1 848,532.2 848.5,531.1 849,532.4 849.5,531.9 850,531.8 850.5,532.3 851,532.6 851.5,530.9 852,533 852.5,531.1 853,531.2 853.5,531 854,531.2 854.5,531.7 855,531.7 855.5,531.6 856,531.4 856.5,532.1 857,532.4 857.5,532.2 858,532.1 858.5,531.8 859,532.3 859.5,532.7 860,531.1 860.5,531.7 861,531.6 861.5,532 862,531.1 862.5,531.9 863,531.5 863.5,532.4 864,532.2 864.5,531 865,531.3 865.5,533.5 866,531.9 866.5,531.6 867,531.6 867.5,532.7 868,532.5 868.5,531.8 869,532.6 869.5,531.3 870,532 870.5,531.1 871,532.5 871.5,532.2 872,530.6 872.5,532 873,532.4 873.5,532.4 874,531.9 874.5,532.3 875,533.2 875.5,532.2 876,532.3 876.5,531.9 877,532.9 877.5,532.1 878,530.6 878.5,532 879,532.6 879.5,532.2 880,531.6 880.5,531.9 881,531.7 881.5,532 882,531.1 882.5,532.1 883,532.5 883.5,532.1 884,530.9 884.5,531.1 885,531.6 885.5,532.3 886,531.6 886.5,531.6 887,532.5 887.5,531.6 888,531.6 888.5,532 889,531.6 889.5,532.8 890,532.3 890.5,532 891,530.4 891.5,532.8 892,533.2 892.5,531.7 893,531.8 893.5,532.3 894,532.5 894.5,531.9 895,532.2 895.5,531.9 896,531.9 896.5,531.5 897,531.9 897.5,531.3 898,532 898.5,531.3 899,532.7 899.5,532.2 900,531.7 900.5,532.4 901,531.8 901.5,531.7 902,532.5 902.5,532 903,531.9 903.5,532.1 904,532.1 904.5,531.7 905,532.1 905.5,531.2 906,532.3 906.5,532.8 907,532.4 907.5,532.8 908,530.9 908.5,533.1 908.5,539.4 908,538.1 907.5,538.9 907,537.6 906.5,538.1 906,539.1 905.5,538 905,539.2 904.5,537.8 904,538.6 903.5,537.9 903,538.9 902.5,538 902,538.4 901.5,538.1 901,538.6 900.5,538.8 900,539.5 899.5,538.1 899,538.8 898.5,537.2 898,538.3 897.5,537.8 897,537.5 896.5,539 896,537.9 895.5,537.6 895,538.3 894.5,539.1 894,538.3 893.5,537.7 893,537.6 892.5,538.9 892,538.1 891.5,538.1 891,538.7 890.5,538.6 890,538.6 889.5,538.5 889,538.5 888.5,537.5 888,539.1 887.5,539.3 887,538.2 886.5,539.2 886,538.8 885.5,539.1 885,538.7 884.5,538.4 884,539 883.5,537.9 883,539.1 882.5,538 882,539.3 881.5,539.1 881,537.8 880.5,537.4 880,537.9 879.5,538.1 879,538.5 878.5,538.1 878,537.6 877.5,538.8 877,538.8 876.5,538.3 876,538.2 875.5,538.8 875,539.3 874.5,538.5 874,538.2 873.5,538.7 873,537.9 872.5,538.3 872,538.5 871.5,539.3 871,539.1 870.5,538.6 870,538.7 869.5,538.3 869,539.2 868.5,538.2 868,538.9 867.5,539.1 867,538.8 866.5,538.1 866,539 865.5,538.5 865,539 864.5,538.8 864,538 863.5,538.4 863,538.1 862.5,538.6 862,537.9 861.5,538.3 861,539.6 860.5,537.9 860,539.7 859.5,538 859,538.7 858.5,539 858,538.5 857.5,539.1 857,539.5 856.5,538.5 856,537.2 855.5,537.4 855,538.3 854.5,538.9 854,539.2 853.5,539.4 853,538.2 852.5,538.8 852,538.7 851.5,538.4 851,538.8 850.5,538.3 850,538.8 849.5,538.2 849,538.6 848.5,538.2 848,538.5 847.5,538.2 847,538.3 846.5,539.1 846,538.5 845.5,539.4 845,538.1 844.5,538.1 844,539.1 843.5,538.2 843,538.4 842.5,537.7 842,539 841.5,539.4 841,539.1 840.5,539.1 840,537.6 839.5,538.5 839,538.7 838.5,539 838,538.3 837.5,538.7 837,537.8 836.5,539.1 836,538.4 835.5,538.8 835,538.4 834.5,539.6 834,538.4 833.5,537.4 833,539.1 832.5,538.2 832,538.7 831.5,538.7 831,537.8 830.5,537.3 830,538.3 829.5,539.6 829,538.3 828.5,538.6 828,538.4 827.5,539 827,538.3 826.5,538.5 826,538.7 825.5,537.4 825,538.6 824.5,538.6 824,538.1 823.5,539.2 823,538.5 822.5,539.1 822,538.4 821.5,538.5 821,538.8 820.5,538.6 820,539 819.5,537.1 819,539.1 818.5,539.3 818,538.2 817.5,538.9 817,538.6 816.5,539 816,538.6 815.5,538.9 815,539 814.5,538.5 814,539.3 813.5,538.9 813,539.2 812.5,537.9 812,538.4 811.5,539.5 811,538 810.5,538.8 810,539.3 809.5,539.2 809,539.6 808.5,538.8 808,538.8 807.5,538.5 807,538.7 806.5,538.6 806,537.6 805.5,539.8 805,537.5 804.5,539.1 804,539.1 803.5,538.3 803,537.6 802.5,538.7 802,538 801.5,538.5 801,539.9 800.5,538.8 800,538.2 799.5,539 799,538.8 798.5,538.2 798,538.8 797.5,538.4 797,537.8 796.5,539 796,538.2 795.5,538.5 795,538.7 794.5,538.5 794,538.3 793.5,538.6 793,538.5 792.5,537.2 792,539.1 791.5,538.8 791,538 790.5,537.9 790,538.5 789.5,537.6 789,539.2 788.5,538.2 788,537.9 787.5,538.2 787,539.4 786.5,537.3 786,537.1 785.5,538.7 785,538.9 784.5,538 784,538.9 783.5,538.4 783,538.4 782.5,539.6 782,538.4 781.5,539.4 781,539.7 780.5,538 780,538.4 779.5,538.5 779,538.7 778.5,538.7 778,538.9 777.5,538.6 777,537.6 776.5,538.4 776,538.1 775.5,538.4 775,538.4 774.5,537.5 774,539 773.5,538.8 773,539.7 772.5,538.9 772,538.8 771.5,538.3 771,538.2 770.5,538 770,537.7 769.5,539.6 769,539.4 768.5,539.2 768,537.6 767.5,539 767,538.4 766.5,538.1 766,538.6 765.5,538.5 765,538.6 764.5,537.9 764,538.5 763.5,538.7 763,538.4 762.5,539.5 762,538.4 761.5,538.3 761,539 760.5,538.1 760,538.6 759.5,538.7 759,538.5 758.5,538.5 758,539.5 757.5,538.8 757,538.6 756.5,539.1 756,538.3 755.5,538.4 755,539.3 754.5,539.2 754,537.9 753.5,538.9 753,539.5 752.5,538.6 752,538.4 751.5,537.9 751,537.6 750.5,538.8 750,538.3 749.5,538.6 749,538.9 748.5,538.5 748,538.9 747.5,538.9 747,538.6 746.5,539.5 746,538.3 745.5,538.7 745,536.7 744.5,538.4 744,537.9 743.5,537.9 743,538.3 742.5,539.3 742,539.2 741.5,538.6 741,539.2 740.5,538.5 740,539 739.5,538.2 739,540 738.5,539 738,539.1 737.5,538.3 737,538.4 736.5,538.2 736,538.6 735.5,538.1 735,538.4 734.5,537.2 734,539.1 733.5,538.8 733,539.1 732.5,539.2 732,538.2 731.5,537.8 731,538.4 730.5,537.9 730,538.5 729.5,538.6 729,538.5 728.5,538.9 728,538.7 727.5,538.5 727,538.5 726.5,538.2 726,537.8 725.5,537.8 725,538.9 724.5,538.7 724,538.5 723.5,537.4 723,538.3 722.5,539 722,537.8 721.5,538.2 721,538.6 720.5,538.3 720,537.6 719.5,538.2 719,538.7 718.5,539.3 718,539.5 717.5,538.8 717,538.7 716.5,537.8 716,538.8 715.5,538.8 715,538.4 714.5,540 714,538.9 713.5,539.2 713,538.5 712.5,539.7 712,539.1 711.5,538.1 711,538.5 710.5,539 710,538.1 709.5,538.3 709,538.7 708.5,539.2 708,537.8 707.5,538.7 707,538.5 706.5,538.6 706,539 705.5,538.2 705,539.3 704.5,538.7 704,538.7 703.5,539.5 703,539.2 702.5,538 702,538.6 701.5,538.4 701,537.6 700.5,538.7 700,537.8 699.5,537.9 699,538.2 698.5,538 698,538.1 697.5,539 697,539.9 696.5,539.7 696,538.5 695.5,538.4 695,539.4 694.5,538.3 694,539.3 693.5,537.9 693,537.8 692.5,538.6 692,537.7 691.5,538.3 691,538.4 690.5,537.8 690,538.8 689.5,538.3 689,537.7 688.5,538.4 688,539.7 687.5,538 687,538.4 686.5,538.6 686,538.6 685.5,539.7 685,538 684.5,539 684,538.8 683.5,538.8 683,538.5 682.5,538.1 682,538.6 681.5,539.1 681,538.8 680.5,539.1 680,538.7 679.5,539.1 679,538.4 678.5,538.6 678,537.8 677.5,538.3 677,538.8 676.5,539.7 676,539.3 675.5,538.4 675,539.5 674.5,538.9 674,539.2 673.5,539.4 673,539.1 672.5,538.7 672,538.9 671.5,538.8 671,540 670.5,540 670,538.9 669.5,539.6 669,538.8 668.5,538.9 668,538.8 667.5,539.3 667,539.2 666.5,539 666,539.3 665.5,539.9 665,538.9 664.5,539.2 664,538.7 663.5,539.4 663,538.8 662.5,539.1 662,539.6 661.5,539.8 661,541 660.5,540.6 660,539.8 659.5,540.1 659,538.9 658.5,540.3 658,539.9 657.5,539.6 657,538.9 656.5,540.6 656,539.6 655.5,540.7 655,540.1 654.5,541.1 654,540.9 653.5,540.3 653,540.7 652.5,541.8 652,541.9 651.5,541.3 651,541.3 650.5,541.4 650,540.1 649.5,540.6 649,540.7 648.5,542 648,541.1 647.5,542.1 647,541.9 646.5,541.8 646,541.8 645.5,541.7 645,542.8 644.5,542.5 644,541.5 643.5,542.2 643,541.5 642.5,541.8 642,542.1 641.5,542.2 641,542.2 640.5,542.1 640,542.2 639.5,542 639,542.5 638.5,542.1 638,542.3 637.5,543 637,542.3 636.5,542.3 636,543.4 635.5,543.7 635,542.8 634.5,542.4 634,542.9 633.5,542.9 633,545.1 632.5,544.5 632,543.7 631.5,543.3 631,543.4 630.5,543.2 630,544.3 629.5,543.5 629,543.2 628.5,543.2 628,544 627.5,544.2 627,544.5 626.5,543.8 626,544.1 625.5,542.9 625,543.9 624.5,544.4 624,543.8 623.5,543.8 623,544.9 622.5,544.2 622,545.2 621.5,544.2 621,545.5 620.5,544.2 620,543.7 619.5,545.1 619,543.8 618.5,545.4 618,544.9 617.5,546.1 617,545.1 616.5,545.1 616,544.8 615.5,545.4 615,545.1 614.5,546.5 614,545.4 613.5,546.6 613,545.7 612.5,545.6 612,545.6 611.5,545.1 611,545.9 610.5,546.4 610,545.9 609.5,546 609,545.1 608.5,545.4 608,546.4 607.5,544.9 607,545.2 606.5,544.8 606,544.8 605.5,545.3 605,545.3 604.5,544.8 604,545.9 603.5,544.8 603,545 602.5,543.8 602,543.1 601.5,544.2 601,544.2 600.5,542.4 600,543 599.5,543 599,542.4 598.5,541.3 598,541.6 597.5,540.8 597,539.3 596.5,539.2 596,539.1 595.5,537.7 595,537 594.5,536.3 594,536.2 593.5,535.3 593,534 592.5,533.2 592,532.4 591.5,530.8 591,530.2 590.5,528.6 590,528.4 589.5,527.4 589,526.8 588.5,524.6 588,524.9 587.5,523.3 587,523.2 586.5,522.2 586,521.2 585.5,519.8 585,518.3 584.5,518.4 584,516.9 583.5,516.3 583,516 582.5,515.3 582,513.6 581.5,513 581,513.8 580.5,512 580,511.9 579.5,511 579,512.1 578.5,509.3 578,510.9 577.5,511 577,508.5 576.5,510 576,509.3 575.5,509.5 575,508.3 574.5,508.2 574,508.1 573.5,506.7 573,507.4 572.5,506.6 572,505.5 571.5,506.6 571,506.4 570.5,505.3"/>
<path d="M570.5,484 570.5,387.2 570.5,481.3 570.5,490 571,489.7 571,481.2 571.5,481.1 571.5,489.1 572,489.7 572,481.8 572.5,482 572.5,491.1 573,490.7 573,482 573.5,482.1 573.5,490.8 574,491.3 574,483.4 574.5,483.5 574.5,491.4 575,492.5 575,483.6 575.5,484.5 575.5,492.4 576,492.9 576,484.8 576.5,484.9 576.5,493.1 577,493.8 577,485.2 577.5,486 577.5,493.9 578,494 578,486.9 578.5,487 578.5,494.9 579,495 579,487.2 579.5,487.8 579.5,495 580,496 580,488.9 580.5,489.9 580.5,496 581,497 581,489.7 581.5,490.5 581.5,497.4 582,498.4 582,491.8 582.5,491.9 582.5,500.1 583,499.3 583,492.9 583.5,493.8 583.5,499.4 584,500.3 584,494.3 584.5,495.3 584.5,501.2 585,502.2 585,495.5 585.5,496.8 585.5,502.4 586,503 586,497.6 586.5,498.5 586.5,504.1 587,504.8 587,499.1 587.5,500.1 587.5,506.4 588,507.2 588,500.3 588.5,501.6 588.5,507.4 589,508.4 589,502.2 589.5,503.1 589.5,509.4 590,510.3 590,504.7 590.5,505.7 590.5,510.5 591,511.7 591,506.2 591.5,507.4 591.5,512.1 592,514.3 592,507.8 592.5,509.7 592.5,513.8 593,515.4 593,510.3 593.5,511.1 593.5,516.9 594,516.7 594,511.8 594.5,511.1 594.5,517.6 595,518.1 595,513.4 595.5,513.9 595.5,519.1 596,519.6 596,515 596.5,515.8 596.5,520.5 597,521.2 597,516.5 597.5,517.2 597.5,521.9 598,522.8 598,517.7 598.5,518.4 598.5,522.3 599,523.5 599,519.1 599.5,519.5 599.5,523.6 600,523.8 600,520 600.5,520.9 600.5,524.9 601,525.3 601,521.1 601.5,522.1 601.5,525.6 602,525.6 602,523.5 602.5,524 602.5,526.7 603,526.9 603,524.2 603.5,524.8 603.5,527.2 604,527.8 604,524.4 604.5,525 604.5,527.8 605,527.9 605,525.1 605.5,526.1 605.5,527.9 606,528.5 606,525.8 606.5,526.5 606.5,528.5 607,528.4 607,526.9 607.5,526.8 607.5,529.1 608,529.6 608,527.4 608.5,527.5 608.5,529.4 609,530.5 609,527.5 609.5,527.7 609.5,529.7 610,530.4 610,528.6 610.5,528.8 610.5,530.9 611,530.5 611,528.8 611.5,527.8 611.5,530.7 612,530.4 612,529.3 612.5,529.5 612.5,530.9 613,531.1 613,529.5 613.5,530.2 613.5,531 614,531.3 614,529 614.5,530.3 614.5,532.2 615,531.6 615,530.3 615.5,530.1 615.5,532.4 616,531.5 616,530.4 616.5,530.3 616.5,532.4 617,532.3 617,531.4 617.5,531.2 617.5,532.6 618,532 618,531.3 618.5,531.1 618.5,532.7 619,532.7 619,531.4 619.5,531 619.5,533.1 620,532.2 620,531.5 620.5,531.5 620.5,532.5 621,533.7 621,531.9 621.5,531.7 621.5,533.9 622,533.6 622,532.2 622.5,531.3 622.5,532.7 623,532.8 623,531.4 623.5,532.1 623.5,532.9 624,533 624,532.1 624.5,532.3 624.5,533.9 625,534.8 625,531.8 625.5,532.7 625.5,533.4 626,533.2 626,532.9 626.5,533 626.5,533.2 627,534.5 627,533.1 627.5,533.2 627.5,533.5 628,533.4 628,533.1 628.5,533.1 628.5,533.5 629,533.6 629,533.3 629.5,533.2 629.5,533.6 630,533.7 630,533.6 630.5,533.1 630.5,534.3 631,534.1 631,533.6 631.5,533.7 631.5,534.7 632,534 632,533.2 632.5,533.2 632.5,535 633,534 633,533.8 633.5,534 633.5,534.1 634,534.1 634,533.8 634.5,534.1 634.5,534.2 635,534.5 635,534.1 635.5,533.9 635.5,534.3 636,534.3 636,534.1 636.5,533.7 636.5,534.4 637,534.4 637,533.5 637.5,534.3 637.5,534.6 638,534.4 638,534.3 638.5,533.9 638.5,534.5 639,534.5 639,534.4 639.5,534.2 639.5,534.5 640,534.5 640,534.5 640.5,534.5 640.5,534.8 641,534.6 641,534.3 641.5,534.4 641.5,534.6 642,534.9 642,534.6 642.5,534.6 642.5,534.7 643,534.7 643,534.5 643.5,534.6 643.5,534.7 644,534.8 644,534.2 644.5,534.6 644.5,534.8 645,535.1 645,534.7 645.5,533.4 645.5,534.9 646,534.9 646,534.6 646.5,534.8 646.5,534.9 647,534.9 647,534.7 647.5,534.9 647.5,535.4 648,535 648,534.7 648.5,533.9 648.5,535 649,535 649,534.9 649.5,534.9 649.5,535 650,535.7 650,535 650.5,535 650.5,535.1 651,535.5 651,534.1 651.5,534.9 651.5,535.4 652,535.1 652,535 652.5,535 652.5,535.3 653,535.1 653,535 653.5,534.6 653.5,535.4 654,535.3 654,535 654.5,535 654.5,535.1 655,535.1 655,535 655.5,535 655.5,535.1 656,535.2 656,535 656.5,534.9 656.5,535.2 657,535.2 657,535.1 657.5,534.6 657.5,535.6 658,535.2 658,535.1 658.5,535.1 658.5,535.2 659,535.2 659,535 659.5,535.1 659.5,535.2 660,535.2 660,535.1 660.5,535.1 660.5,535.3 661,535.2 661,535.1 661.5,535.1 661.5,535.2 662,535.2 662,535.1 662.5,534.9 662.5,535.4 663,535.3 663,535.2 663.5,535.2 663.5,535.3 664,535.7 664,535.2 664.5,535.2 664.5,535.3 665,535.4 665,535.1 665.5,535.2 665.5,535.3 666,535.3 666,535.2 666.5,535.2 666.5,535.3 667,535.3 667,535.2 667.5,535.2 667.5,536 668,535.3 668,535.2 668.5,535.2 668.5,535.3 669,535.4 669,535.3 669.5,535.3 669.5,535.4 670,535.4 670,535.2 670.5,535.3 670.5,535.4 671,535.4 671,535.3 671.5,535.2 671.5,535.4 672,535.4 672,535.3 672.5,535.3 672.5,535.7 673,535.4 673,535.3 673.5,534.9 673.5,535.4 674,535.6 674,535.2 674.5,535.3 674.5,535.4 675,535.4 675,535.3 675.5,535.3 675.5,535.7 676,535.4 676,535 676.5,535.4 676.5,535.5 677,536.2 677,535.4 677.5,534.7 677.5,535.5 678,535.5 678,535.3 678.5,535.3 678.5,535.5 679,535.7 679,535.4 679.5,535.3 679.5,535.5 680,536 680,535.4 680.5,535.2 680.5,536.2 681,535.5 681,534.3 681.5,535.4 681.5,535.5 682,535.5 682,535.4 682.5,535.4 682.5,535.5 683,535.5 683,535.4 683.5,535.4 683.5,535.5 684,536 684,535.4 684.5,535 684.5,535.5 685,536.1 685,535.4 685.5,535.4 685.5,535.5 686,535.5 686,535.4 686.5,535.4 686.5,535.5 687,535.5 687,535.4 687.5,535.4 687.5,535.5 688,535.5 688,535.4 688.5,534.5 688.5,535.5 689,535.5 689,535.4 689.5,535.4 689.5,535.6 690,535.5 690,535.4 690.5,535.4 690.5,536.3 691,535.5 691,535 691.5,535.4 691.5,535.5 692,535.5 692,535.2 692.5,535.4 692.5,535.5 693,535.6 693,535.4 693.5,535 693.5,535.5 694,535.5 694,535.3 694.5,534.3 694.5,536.2 695,535.5 695,535.4 695.5,535.3 695.5,535.5 696,535.5 696,535.4 696.5,535.4 696.5,535.5 697,535.8 697,535.4 697.5,535.4 697.5,535.5 698,535.5 698,534.1 698.5,534.6 698.5,535.5 699,535.8 699,535.4 699.5,535.4 699.5,535.5 700,535.5 700,535.4 700.5,535.4 700.5,535.5 701,535.5 701,535.4 701.5,535.4 701.5,535.5 702,535.5 702,535.4 702.5,535.4 702.5,535.5 703,535.5 703,535.1 703.5,534.4 703.5,535.5 704,535.5 704,535.4 704.5,535.4 704.5,535.6 705,535.6 705,535.4 705.5,535.4 705.5,535.5 706,535.5 706,535.2 706.5,535 706.5,536 707,535.7 707,535.4 707.5,535.3 707.5,535.5 708,535.5 708,534.4 708.5,534.7 708.5,535.5 709,535.5 709,535.1 709.5,534.9 709.5,535.5 710,535.5 710,535.4 710.5,535.4 710.5,535.5 711,535.5 711,535.4 711.5,534.3 711.5,535.5 712,535.5 712,535.4 712.5,535.1 712.5,535.5 713,535.5 713,535.2 713.5,535.4 713.5,535.5 714,535.5 714,535.4 714.5,535.4 714.5,535.5 715,535.7 715,535.4 715.5,535.4 715.5,535.5 716,535.6 716,535.3 716.5,535.4 716.5,535.5 717,535.6 717,534.6 717.5,535.3 717.5,535.8 718,535.5 718,534.7 718.5,534.6 718.5,535.5 719,535.5 719,535.4 719.5,535.4 719.5,535.8 720,535.5 720,535.1 720.5,535.4 720.5,535.7 721,535.5 721,535.4 721.5,535.4 721.5,535.5 722,535.5 722,535.4 722.5,535.4 722.5,535.5 723,535.5 723,535 723.5,535.4 723.5,535.5 724,535.5 724,535.4 724.5,535.4 724.5,535.5 725,535.5 725,535.2 725.5,535.4 725.5,535.5 726,535.5 726,535.4 726.5,535.4 726.5,535.5 727,535.7 727,535.4 727.5,535 727.5,535.5 728,535.5 728,535.4 728.5,535.4 728.5,535.5 729,535.5 729,535.4 729.5,535.4 729.5,535.5 730,535.5 730,535.4 730.5,535.4 730.5,535.5 731,535.5 731,535.3 731.5,535.4 731.5,535.5 732,535.5 732,535.4 732.5,535.3 732.5,535.5 733,535.5 733,535.4 733.5,535.4 733.5,535.5 734,535.5 734,535.4 734.5,535.4 734.5,535.8 735,535.6 735,535.1 735.5,535.4 735.5,535.5 736,536.1 736,535.4 736.5,535.4 736.5,535.5 737,535.5 737,534.7 737.5,535.4 737.5,535.5 738,535.5 738,535.4 738.5,535.4 738.5,535.5 739,535.5 739,535.4 739.5,534.1 739.5,535.5 740,535.5 740,535.4 740.5,535.4 740.5,535.5 741,535.5 741,535.4 741.5,535.4 741.5,536.3 742,535.5 742,535.1 742.5,534.8 742.5,535.6 743,535.5 743,535.4 743.5,535 743.5,535.5 744,535.5 744,535.3 744.5,535.2 744.5,535.5 745,535.5 745,535.4 745.5,535.4 745.5,535.5 746,535.5 746,535.2 746.5,535.4 746.5,535.5 747,535.5 747,535.4 747.5,535.4 747.5,535.9 748,535.5 748,535.4 748.5,535.4 748.5,535.5 749,535.5 749,534.7 749.5,535.4 749.5,535.5 750,535.5 750,535.4 750.5,535.4 750.5,535.5 751,535.5 751,534.9 751.5,534.5 751.5,535.5 752,535.5 752,535.3 752.5,535.3 752.5,535.6 753,535.5 753,535.4 753.5,535.4 753.5,535.5 754,535.6 754,535.4 754.5,535.4 754.5,535.5 755,535.5 755,535.4 755.5,535.4 755.5,535.5 756,535.5 756,535.4 756.5,534.9 756.5,535.5 757,535.5 757,535.4 757.5,535.4 757.5,535.5 758,535.5 758,535.4 758.5,535.4 758.5,535.5 759,535.5 759,535.4 759.5,535.4 759.5,536.4 760,536 760,535.1 760.5,535.2 760.5,535.5 761,535.7 761,535.4 761.5,535.4 761.5,535.5 762,535.5 762,535.4 762.5,534.8 762.5,535.7 763,535.5 763,535.4 763.5,535.3 763.5,535.5 764,535.5 764,535.4 764.5,535.4 764.5,535.5 765,536 765,535.4 765.5,535.4 765.5,535.7 766,536.1 766,535.3 766.5,535 766.5,535.5 767,535.5 767,535.4 767.5,535.4 767.5,535.5 768,535.5 768,535.4 768.5,535.4 768.5,535.5 769,535.5 769,535.4 769.5,535.4 769.5,535.5 770,535.5 770,535.4 770.5,535.4 770.5,535.5 771,535.5 771,535.4 771.5,535.3 771.5,535.5 772,535.5 772,535.4 772.5,535 772.5,536.9 773,535.5 773,535.4 773.5,535.4 773.5,535.7 774,535.5 774,535.4 774.5,535.4 774.5,535.5 775,535.5 775,535.4 775.5,535.4 775.5,535.6 776,535.5 776,535.2 776.5,535.4 776.5,535.5 777,535.5 777,535.4 777.5,535.4 777.5,535.5 778,536.1 778,535 778.5,535.1 778.5,535.5 779,535.7 779,534.8 779.5,535.4 779.5,535.5 780,535.5 780,535.3 780.5,535.4 780.5,535.5 781,535.5 781,535.4 781.5,535.4 781.5,535.5 782,535.5 782,535.4 782.5,535.4 782.5,535.6 783,535.5 783,535.4 783.5,535.4 783.5,535.9 784,535.7 784,535.4 784.5,535.4 784.5,535.5 785,535.7 785,535.4 785.5,535.4 785.5,535.5 786,536 786,535.4 786.5,535.4 786.5,535.5 787,535.5 787,535.4 787.5,535.4 787.5,535.5 788,535.5 788,535.3 788.5,535.4 788.5,535.8 789,535.6 789,535.4 789.5,535.4 789.5,535.5 790,535.5 790,535 790.5,535.4 790.5,535.5 791,535.5 791,535.2 791.5,535.4 791.5,535.5 792,535.5 792,535.4 792.5,535.4 792.5,535.5 793,535.5 793,535.2 793.5,535.2 793.5,535.5 794,536.4 794,535 794.5,535.4 794.5,535.5 795,535.5 795,535.4 795.5,535.4 795.5,535.5 796,535.9 796,535.4 796.5,535.3 796.5,535.5 797,535.5 797,535.4 797.5,535.4 797.5,535.5 798,535.7 798,535.4 798.5,535.4 798.5,536.1 799,535.5 799,535.4 799.5,534.9 799.5,536 800,535.5 800,535.4 800.5,535.4 800.5,536.2 801,535.5 801,535.3 801.5,535.4 801.5,535.5 802,535.7 802,535.4 802.5,535.4 802.5,535.5 803,535.6 803,535.4 803.5,535.4 803.5,535.5 804,535.5 804,535.4 804.5,535.4 804.5,535.5 805,535.6 805,535.4 805.5,534.8 805.5,535.7 806,536.1 806,535.1 806.5,535.4 806.5,535.6 807,535.5 807,535.4 807.5,535.4 807.5,535.5 808,535.5 808,535.4 808.5,535.1 808.5,535.5 809,535.5 809,535.4 809.5,535.4 809.5,535.5 810,535.5 810,535.4 810.5,535.4 810.5,536 811,535.5 811,535.2 811.5,535.4 811.5,536.4 812,535.8 812,535.4 812.5,535.4 812.5,535.5 813,535.5 813,535.4 813.5,534.6 813.5,535.5 814,536.1 814,535.4 814.5,535.4 814.5,535.5 815,535.8 815,535.4 815.5,535.4 815.5,535.5 816,535.5 816,535.4 816.5,535.3 816.5,535.5 817,535.5 817,535.1 817.5,535.4 817.5,535.5 818,535.5 818,535.4 818.5,535.2 818.5,535.5 819,535.5 819,535.4 819.5,535.4 819.5,535.5 820,535.5 820,535.4 820.5,535.4 820.5,535.8 821,535.5 821,535.4 821.5,535.4 821.5,535.5 822,535.7 822,535.1 822.5,535.4 822.5,535.5 823,535.5 823,535.2 823.5,535.4 823.5,535.5 824,535.6 824,535.4 824.5,535.4 824.5,535.6 825,535.8 825,535.4 825.5,535.4 825.5,536.1 826,535.5 826,535.2 826.5,535.4 826.5,535.5 827,535.7 827,534.6 827.5,535.3 827.5,535.5 828,536 828,535.4 828.5,535.4 828.5,535.5 829,535.5 829,535.4 829.5,535.4 829.5,535.5 830,535.5 830,535.4 830.5,535.4 830.5,535.7 831,535.5 831,534.8 831.5,535.4 831.5,535.5 832,535.5 832,534.8 832.5,535.4 832.5,535.6 833,535.5 833,535.4 833.5,535.4 833.5,535.9 834,535.5 834,535 834.5,535.4 834.5,535.5 835,535.5 835,535.4 835.5,535.4 835.5,535.9 836,535.5 836,535.4 836.5,535.4 836.5,535.5 837,535.5 837,535.4 837.5,535.4 837.5,535.5 838,535.5 838,534.6 838.5,535.4 838.5,535.5 839,535.5 839,535.4 839.5,535.4 839.5,535.5 840,535.5 840,535.4 840.5,535.4 840.5,535.5 841,535.7 841,535.4 841.5,535.4 841.5,535.5 842,535.5 842,535.3 842.5,535.1 842.5,535.5 843,535.6 843,535.4 843.5,535.3 843.5,535.5 844,536.2 844,535.4 844.5,535.4 844.5,535.5 845,535.5 845,535.4 845.5,535.4 845.5,535.6 846,535.5 846,535.3 846.5,535.4 846.5,536 847,535.7 847,535.3 847.5,535 847.5,535.5 848,535.5 848,535.3 848.5,535.4 848.5,535.5 849,535.5 849,535.1 849.5,535.4 849.5,535.5 850,535.5 850,535 850.5,535.4 850.5,535.5 851,535.5 851,535.4 851.5,535.4 851.5,535.5 852,535.5 852,535.4 852.5,535.4 852.5,535.7 853,535.5 853,535.4 853.5,535.4 853.5,535.5 854,535.5 854,535.4 854.5,535.4 854.5,535.5 855,535.5 855,535.4 855.5,535.3 855.5,535.5 856,535.5 856,535.4 856.5,535.4 856.5,535.6 857,536.2 857,535.3 857.5,535.4 857.5,535.5 858,535.5 858,535.4 858.5,535.4 858.5,535.5 859,535.5 859,535.4 859.5,535.4 859.5,535.7 860,535.5 860,534.9 860.5,535.3 860.5,535.8 861,535.5 861,535.4 861.5,534.9 861.5,535.7 862,535.5 862,535.4 862.5,535.1 862.5,535.5 863,535.5 863,535.4 863.5,535.4 863.5,536.3 864,535.5 864,535.4 864.5,535.3 864.5,535.7 865,535.5 865,535.4 865.5,535.3 865.5,535.5 866,535.5 866,535.4 866.5,535.4 866.5,535.9 867,535.6 867,535.4 867.5,535.3 867.5,535.5 868,535.5 868,535.4 868.5,535.4 868.5,535.5 869,535.7 869,534.9 869.5,535.4 869.5,535.8 870,535.5 870,535.4 870.5,535.4 870.5,535.5 871,535.5 871,535.4 871.5,534.4 871.5,535.5 872,535.5 872,535.4 872.5,535.4 872.5,535.5 873,535.5 873,534.7 873.5,535.4 873.5,536.3 874,535.5 874,535.4 874.5,535.4 874.5,535.5 875,535.5 875,535.1 875.5,535.4 875.5,535.5 876,535.5 876,535.4 876.5,535.4 876.5,535.8 877,535.5 877,535.4 877.5,535.4 877.5,536.5 878,535.5 878,535.4 878.5,535.4 878.5,536.7 879,535.5 879,535.2 879.5,535.4 879.5,535.5 880,535.5 880,534.6 880.5,535.1 880.5,535.5 881,535.5 881,535.4 881.5,535.1 881.5,535.5 882,535.5 882,535.1 882.5,535.4 882.5,535.5 883,535.5 883,535.3 883.5,535.4 883.5,535.5 884,536.9 884,535.4 884.5,535.4 884.5,535.5 885,535.7 885,535.4 885.5,535.2 885.5,536.4 886,536.1 886,535.2 886.5,535.4 886.5,535.5 887,535.6 887,535.4 887.5,534.7 887.5,535.5 888,535.5 888,535.4 888.5,535.4 888.5,535.6 889,536 889,535.3 889.5,535.4 889.5,535.5 890,535.5 890,535.4 890.5,535.1 890.5,535.5 891,535.5 891,535.2 891.5,534.4 891.5,535.5 892,535.7 892,535 892.5,535.4 892.5,535.5 893,535.5 893,535.4 893.5,535.3 893.5,535.7 894,535.5 894,535.4 894.5,535.4 894.5,535.5 895,535.5 895,535.2 895.5,535.3 895.5,535.5 896,535.5 896,535.4 896.5,535.4 896.5,535.5 897,535.5 897,535.4 897.5,535.3 897.5,535.7 898,535.5 898,535.4 898.5,534.5 898.5,535.5 899,535.6 899,535.4 899.5,535.4 899.5,535.5 900,535.5 900,535.4 900.5,535.4 900.5,535.5 901,535.5 901,535.4 901.5,535.3 901.5,535.5 902,535.5 902,535.4 902.5,535.3 902.5,535.5 903,535.6 903,535.4 903.5,535.4 903.5,535.5 904,536.1 904,535.2 904.5,535.4 904.5,535.5 905,535.5 905,535.2 905.5,535.1 905.5,535.7 906,535.5 906,535.4 906.5,535.4 906.5,535.5 907,535.5 907,535 907.5,535.4 907.5,535.5 908,535.5 908,535.4 908.5,535.4 908.5,535.5 909.1,535.4" fill="none" stroke="#1f77b4" stroke-width="4.4" stroke-linejoin="round" stroke-linecap="butt"/>
<path d="M570.5,370V386" stroke="#8fbbd9" stroke-width="0.5" opacity="0.5"/>
<path d="M1024.1,391.9L1024.1,535.4L1361.9,535.4" fill="none" stroke="#1f77b4" stroke-width="4.4" stroke-linejoin="round" stroke-linecap="round"/>
<polygon fill="#8fbbd9" points="116.5,831.1 117,832 117.5,832.4 118,832 118.5,831.4 119,831.1 119.5,831.9 120,831.4 120.5,831.4 121,831.2 121.5,830.8 122,831.6 122.5,831.6 123,831.9 123.5,830.7 124,831.8 124.5,831.1 125,831 125.5,831.1 126,832.3 126.5,831.6 127,831.1 127.5,832 128,831.9 128.5,831.1 129,830.8 129.5,832 130,832 130.5,831.1 131,831.3 131.5,831.5 132,831.1 132.5,831.9 133,831.5 133.5,831.3 134,831.5 134.5,831.9 135,832.2 135.5,831.5 136,830.8 136.5,831.8 137,830.6 137.5,830.6 138,831.9 138.5,831.9 139,831.8 139.5,831.9 140,831.4 140.5,831.4 141,831.8 141.5,831.3 142,831.5 142.5,831.2 143,830.7 143.5,831.3 144,831 144.5,831.8 145,831.6 145.5,831.9 146,831.5 146.5,832.1 147,832.1 147.5,831.7 148,831.1 148.5,831.5 149,831.2 149.5,831.4 150,831.7 150.5,831.2 151,832 151.5,832.3 152,831.6 152.5,831.7 153,831.6 153.5,831.3 154,831.5 154.5,831.5 155,831.3 155.5,831.9 156,831.6 156.5,832 157,832.1 157.5,832.6 158,831.8 158.5,831.5 159,831.5 159.5,832.1 160,831.6 160.5,831.5 161,831.7 161.5,831.7 162,831.3 162.5,831.9 163,831.5 163.5,831.4 164,831.7 164.5,832.4 165,831.3 165.5,831.3 166,831.7 166.5,832.1 167,832 167.5,832.3 168,832.1 168.5,831.5 169,831 169.5,832.1 170,832.6 170.5,831.3 171,832.2 171.5,831.8 172,832.1 172.5,831.1 173,831.8 173.5,831.1 174,830.2 174.5,831.9 175,831.8 175.5,831 176,831.8 176.5,832.6 177,832.7 177.5,831.9 178,830.7 178.5,831.3 179,831.6 179.5,830.8 180,831.6 180.5,831.8 181,831.2 181.5,831.6 182,831.5 182.5,831.1 183,831.5 183.5,831.8 184,832.3 184.5,831.9 185,830.6 185.5,831.7 186,831.5 186.5,831.8 187,832.2 187.5,832.4 188,830.7 188.5,831.3 189,832.4 189.5,831.4 190,831.6 190.5,831.4 191,831.6 191.5,831.5 192,831.4 192.5,831.5 193,832 193.5,831.4 194,830.4 194.5,831.2 195,832.1 195.5,830.9 196,832.4 196.5,831.3 197,831.5 197.5,832.4 198,832.1 198.5,832 199,832.1 199.5,832.2 200,831.3 200.5,831.7 201,830.7 201.5,831.4 202,832.8 202.5,832.5 203,831 203.5,831.5 204,831.8 204.5,832.2 205,831.5 205.5,831.4 206,831.4 206.5,830.9 207,831.3 207.5,832.1 208,831 208.5,831.5 209,831.2 209.5,831.3 210,831.5 210.5,831.6 211,831.2 211.5,831.6 212,831 212.5,831.5 213,831.9 213.5,831.8 214,831.7 214.5,830.8 215,830.6 215.5,831.5 216,831.7 216.5,832.2 217,831.7 217.5,831.1 218,831.4 218.5,832 219,831.8 219.5,830.6 220,832.2 220.5,831.2 221,832.6 221.5,831.6 222,832.4 222.5,830.1 223,831.7 223.5,831.9 224,832.1 224.5,831.1 225,831.1 225.5,832.1 226,831.8 226.5,831.6 227,832.1 227.5,831.6 228,830.5 228.5,831.6 229,831.4 229.5,830.8 230,831.2 230.5,831.3 231,831.5 231.5,831.4 232,832.3 232.5,831.3 233,832.7 233.5,832.5 234,831.9 234.5,831.5 235,831.8 235.5,831.2 236,831.4 236.5,832.3 237,831.5 237.5,831.7 238,831 238.5,832.5 239,832.1 239.5,831.8 240,831.9 240.5,830.9 241,831.1 241.5,831.3 242,831.2 242.5,831.7 243,832 243.5,831.2 244,831.8 244.5,832 245,832.5 245.5,831.8 246,830.9 246.5,831.8 247,832.1 247.5,831 248,832 248.5,831.7 249,830.7 249.5,833 250,831.4 250.5,831.5 251,831.1 251.5,831.4 252,831.2 252.5,831.3 253,831.2 253.5,831.6 254,831.6 254.5,831.9 255,832 255.5,832 256,832 256.5,832.2 257,831.3 257.5,831.6 258,832.1 258.5,831.9 259,832 259.5,832 260,831.8 260.5,831.7 261,831.7 261.5,832.1 262,831.9 262.5,831.5 263,831.9 263.5,830.9 264,831.6 264.5,830.7 265,832.6 265.5,831.3 266,830.8 266.5,831.4 267,831.6 267.5,832.4 268,831.4 268.5,830.7 269,831.8 269.5,832.5 270,831.5 270.5,831.5 271,832 271.5,830.4 272,831.3 272.5,831.6 273,831.1 273.5,830.4 274,831 274.5,832.2 275,831.8 275.5,831.9 276,831.4 276.5,832.4 277,831.6 277.5,832.1 278,831.6 278.5,830.6 279,831 279.5,831.7 280,832.2 280.5,832.3 281,831.7 281.5,832.3 282,831.5 282.5,832.1 283,830.9 283.5,832.1 284,831.7 284.5,832.8 285,832.3 285.5,831.3 286,832.8 286.5,831.7 287,832.1 287.5,831.1 288,831.4 288.5,832.2 289,831.2 289.5,831.3 290,830.7 290.5,831.5 291,831.2 291.5,832.6 292,830.4 292.5,831.4 293,831.7 293.5,831.3 294,831.3 294.5,831.8 295,832.8 295.5,832.5 296,830.9 296.5,831.2 297,832.1 297.5,831.3 298,831.7 298.5,831.3 299,831.5 299.5,831 300,830.5 300.5,831.5 301,830.1 301.5,831.9 302,832.3 302.5,831.5 303,832 303.5,831.8 304,831.2 304.5,831 305,830.8 305.5,831.8 306,831.8 306.5,831 307,830.8 307.5,830.8 308,831.3 308.5,832.5 309,831.9 309.5,831.5 310,832.4 310.5,831.9 311,832.8 311.5,831.6 312,831.4 312.5,832.3 313,831.3 313.5,831.9 314,831.4 314.5,831.8 315,831.3 315.5,832 316,831.3 316.5,831.4 317,831.5 317.5,830.8 318,831.7 318.5,831.3 319,831.8 319.5,832.1 320,831.1 320.5,832.1 321,831.5 321.5,831.5 322,832 322.5,832.7 323,831.3 323.5,831 324,831.4 324.5,831.8 325,831.5 325.5,833 326,831.7 326.5,831.8 327,832.9 327.5,831 328,831.6 328.5,831.6 329,832.2 329.5,831.2 330,830.7 330.5,830.7 331,831.9 331.5,831.9 332,832.1 332.5,831.7 333,833.1 333.5,832.1 334,832.3 334.5,831 335,831.5 335.5,831.5 336,832.3 336.5,830.9 337,832.4 337.5,830.8 338,831.6 338.5,831.7 339,831.5 339.5,832.3 340,832.4 340.5,831.3 341,831.3 341.5,831.6 342,831.4 342.5,831 343,832.2 343.5,830.6 344,831.6 344.5,832.1 345,832.5 345.5,832 346,832 346.5,831.3 347,832.3 347.5,831.7 348,831.9 348.5,832.1 349,831.7 349.5,831.3 350,831.5 350.5,832.4 351,832.1 351.5,832.6 352,831.5 352.5,831.4 353,832.1 353.5,831.7 354,832.2 354.5,831.8 355,831.4 355.5,831.6 356,831.4 356.5,830.9 357,831.2 357.5,832.1 358,831.5 358.5,831.9 359,831.6 359.5,831.8 360,831.5 360.5,831.2 361,831.6 361.5,831.7 362,831.6 362.5,831.9 363,831.6 363.5,831.4 364,831.5 364.5,831.9 365,832.2 365.5,831.3 366,831.9 366.5,832.4 367,832 367.5,831.3 368,832.5 368.5,831.6 369,831.2 369.5,831.7 370,832.5 370.5,832.2 371,832.1 371.5,831.1 372,831.3 372.5,832.1 373,831.4 373.5,831 374,831.5 374.5,830.9 375,832 375.5,832.4 376,831.2 376.5,830.8 377,831.9 377.5,831.8 378,831.5 378.5,831.3 379,831.7 379.5,831.6 380,831.4 380.5,832.3 381,831.5 381.5,831.2 382,831.8 382.5,831.3 383,830.6 383.5,831.7 384,831.8 384.5,830.3 385,831.9 385.5,832.1 386,831.2 386.5,831.3 387,832.3 387.5,830.7 388,831.6 388.5,832 389,831.8 389.5,831.4 390,831.5 390.5,832.2 391,831.2 391.5,831.1 392,831.5 392.5,831.7 393,832 393.5,831.9 394,831.9 394.5,831.2 395,831.2 395.5,832.3 396,832.2 396.5,830.9 397,831.2 397.5,831.8 398,831.5 398.5,831.9 399,832.2 399.5,832 400,831.4 400.5,830.8 401,832 401.5,831.3 402,831.7 402.5,832.1 403,831.7 403.5,832 404,830.9 404.5,831.5 405,831.4 405.5,832.5 406,830.7 406.5,831.2 407,831.8 407.5,830.9 408,831.5 408.5,830.8 409,832.5 409.5,831.6 410,831.5 410.5,831.4 411,831.3 411.5,830.5 412,831 412.5,832.3 413,832.5 413.5,832 414,831.8 414.5,832.1 415,830.9 415.5,831.9 416,832.3 416.5,831.2 417,832 417.5,831.6 418,832.3 418.5,832.8 419,831 419.5,831.4 420,831.4 420.5,831.2 421,831.2 421.5,831.9 422,830.9 422.5,831.7 423,831.7 423.5,831.7 424,831.3 424.5,832.1 425,832.6 425.5,831.4 426,831.8 426.5,832.3 427,831.6 427.5,831.9 428,831.5 428.5,832.2 429,832.5 429.5,831.8 430,831.5 430.5,831.6 431,831.3 431.5,832.1 432,831.3 432.5,831.8 433,831.5 433.5,832 434,831.3 434.5,831.9 435,831.6 435.5,832 436,832 436.5,831.3 437,831.6 437.5,831.4 438,831.7 438.5,831.9 439,831.7 439.5,831.7 440,830.9 440.5,831.9 441,831.2 441.5,831.6 442,831.4 442.5,831.7 443,832.1 443.5,832.2 444,831.3 444.5,832.3 445,831.6 445.5,831.6 446,831.6 446.5,831.2 447,832.6 447.5,831.9 448,831.8 448.5,831.2 449,831.5 449.5,831.9 450,831.1 450.5,831.8 451,831.5 451.5,831.3 452,831.9 452.5,831.5 453,832.7 453.5,831.5 454,831.8 454.5,831.4 454.5,848.4 454,848.5 453.5,848.4 453,848.1 452.5,849 452,848.9 451.5,848.7 451,848.7 450.5,849.7 450,849.7 449.5,848.4 449,850.1 448.5,848.1 448,848.8 447.5,849.4 447,849.5 446.5,849.4 446,848.7 445.5,848.5 445,849.8 444.5,849.1 444,848.6 443.5,849.5 443,848.5 442.5,849 442,849.3 441.5,849.5 441,848.4 440.5,848.8 440,848.4 439.5,847.7 439,848.7 438.5,849.1 438,849 437.5,848.8 437,849.6 436.5,849.1 436,849.1 435.5,849.3 435,849.1 434.5,849.1 434,849.7 433.5,849.1 433,849 432.5,848.6 432,848.4 431.5,848.5 431,850 430.5,848.6 430,849.9 429.5,848.6 429,849.2 428.5,849.3 428,849.5 427.5,848.6 427,849.1 426.5,847.8 426,849.1 425.5,850 425,848.2 424.5,849.4 424,848.7 423.5,848.8 423,849.9 422.5,848.9 422,848.8 421.5,848.8 421,848.2 420.5,848.3 420,847.8 419.5,849.6 419,849.8 418.5,848.9 418,848.6 417.5,849.2 417,849.7 416.5,849.5 416,848.7 415.5,847.8 415,848.6 414.5,849.8 414,848.6 413.5,849.5 413,849 412.5,849.5 412,848.9 411.5,848.8 411,848.3 410.5,849.1 410,849 409.5,848.2 409,848.1 408.5,849 408,850 407.5,849.2 407,848.9 406.5,848.2 406,848 405.5,849 405,849.2 404.5,848.4 404,849.4 403.5,848.9 403,849 402.5,849.2 402,849.6 401.5,848.3 401,849.9 400.5,848.6 400,848.5 399.5,848.4 399,848 398.5,848.4 398,847.7 397.5,848.9 397,849.3 396.5,849.2 396,848 395.5,848.7 395,849 394.5,849.4 394,848.8 393.5,848.7 393,849.2 392.5,848.8 392,849.3 391.5,848.6 391,849.2 390.5,848.5 390,848.9 389.5,848.3 389,848.6 388.5,849.8 388,848.9 387.5,848.6 387,849.1 386.5,848.9 386,848.5 385.5,849.2 385,849.8 384.5,849.4 384,848.6 383.5,848.9 383,848.9 382.5,849.4 382,848.6 381.5,848.8 381,848.5 380.5,849.6 380,849.4 379.5,848.3 379,849.2 378.5,848.3 378,848.9 377.5,849.3 377,848.6 376.5,849.6 376,848.5 375.5,848.9 375,848.8 374.5,848.9 374,848.5 373.5,848.5 373,850 372.5,848.9 372,849.2 371.5,848.9 371,848.3 370.5,848 370,849.3 369.5,848.5 369,849.9 368.5,849.1 368,848.5 367.5,849.4 367,849.1 366.5,848.6 366,849.1 365.5,849.4 365,848.5 364.5,848.7 364,849.3 363.5,848.5 363,849.4 362.5,848.3 362,849 361.5,848.4 361,849.8 360.5,848.4 360,849.5 359.5,849.4 359,849.2 358.5,849.3 358,848.4 357.5,848.5 357,849.2 356.5,849.7 356,849.1 355.5,848.9 355,848.6 354.5,848.8 354,849 353.5,849.2 353,848.3 352.5,849.2 352,848.8 351.5,849.9 351,848.8 350.5,848.2 350,849.4 349.5,850 349,849.8 348.5,849.7 348,848.3 347.5,849 347,849.4 346.5,849.1 346,848.5 345.5,849.2 345,849.1 344.5,849 344,848.9 343.5,848.5 343,849.4 342.5,849.7 342,849.2 341.5,848.2 341,849.1 340.5,848.6 340,849 339.5,849.4 339,849.8 338.5,848.9 338,848.1 337.5,848.6 337,848.5 336.5,848.3 336,848.8 335.5,848.6 335,848.7 334.5,848.5 334,849.7 333.5,848.7 333,848 332.5,849.1 332,848.9 331.5,848.3 331,849.9 330.5,849.3 330,848.3 329.5,849.3 329,849.1 328.5,849.5 328,848.5 327.5,848.7 327,848.4 326.5,848.8 326,848.7 325.5,848.4 325,849.3 324.5,849.9 324,848.3 323.5,848.3 323,849.6 322.5,849.1 322,848.5 321.5,849.1 321,849.4 320.5,848.7 320,848.3 319.5,848.6 319,849.4 318.5,848.3 318,848.6 317.5,848.7 317,848.5 316.5,848.8 316,849.4 315.5,848.7 315,848.4 314.5,848.9 314,848.8 313.5,848 313,848.8 312.5,849.2 312,849.6 311.5,850.2 311,848.6 310.5,848.5 310,849 309.5,849.2 309,849 308.5,849 308,848.9 307.5,848.8 307,848.6 306.5,848.3 306,849.5 305.5,847.9 305,849.6 304.5,849.4 304,849 303.5,848.4 303,848.1 302.5,849.5 302,849 301.5,848.8 301,847.4 300.5,849.5 300,849.6 299.5,849 299,848.8 298.5,848.9 298,848.9 297.5,849.1 297,848.2 296.5,849.1 296,849.5 295.5,849 295,849.3 294.5,848.2 294,848.5 293.5,848.8 293,848 292.5,849.7 292,849.2 291.5,849.3 291,849 290.5,848.5 290,849.4 289.5,848.5 289,849 288.5,849 288,849.3 287.5,848.8 287,849.6 286.5,848.9 286,849.2 285.5,849.1 285,848.9 284.5,848.7 284,848.2 283.5,849.6 283,848.9 282.5,849 282,848.4 281.5,848.7 281,849 280.5,849 280,848.7 279.5,849.5 279,849.3 278.5,848.7 278,849.3 277.5,848.5 277,848.3 276.5,849 276,848.9 275.5,849 275,849.2 274.5,848 274,848.6 273.5,848.2 273,849.1 272.5,849.3 272,849.3 271.5,849.6 271,848.6 270.5,849.8 270,848.4 269.5,848.3 269,848.6 268.5,848.2 268,849.4 267.5,849.2 267,849.7 266.5,849.2 266,849.2 265.5,848.8 265,849.1 264.5,848 264,848.6 263.5,848.3 263,848 262.5,848.7 262,848.7 261.5,849.3 261,849.1 260.5,848.8 260,849.7 259.5,848.6 259,848.5 258.5,849 258,848.6 257.5,849.1 257,848.8 256.5,848.6 256,848.6 255.5,848.9 255,849 254.5,848.7 254,848.9 253.5,849.4 253,849.3 252.5,848.7 252,849.1 251.5,848.5 251,848.1 250.5,848.4 250,849.4 249.5,848.8 249,849.7 248.5,848.8 248,848.6 247.5,848.9 247,849 246.5,848.5 246,848.9 245.5,848.2 245,848.6 244.5,848.1 244,849.1 243.5,849.3 243,848.6 242.5,848.2 242,848.6 241.5,849 241,849.7 240.5,849.5 240,848.8 239.5,849.1 239,848.7 238.5,848.9 238,849.8 237.5,849 237,850 236.5,848.1 236,848.8 235.5,849.4 235,848.6 234.5,848.3 234,849.6 233.5,848.7 233,849.3 232.5,849.4 232,849.2 231.5,848.3 231,848.1 230.5,849.3 230,848.8 229.5,849.2 229,848.9 228.5,848.5 228,848.9 227.5,847.8 227,848.9 226.5,849.6 226,848.6 225.5,849.4 225,848.6 224.5,848.1 224,849.3 223.5,849.3 223,849.3 222.5,849.5 222,848.9 221.5,849.8 221,848.7 220.5,850.2 220,848.9 219.5,850.4 219,849.1 218.5,848.6 218,848.7 217.5,849.2 217,848.8 216.5,849 216,848.9 215.5,848.7 215,849.4 214.5,848.8 214,848.6 213.5,849.2 213,848.8 212.5,848.6 212,849.6 211.5,848.1 211,848.7 210.5,849.7 210,849.1 209.5,848.4 209,849.1 208.5,848.6 208,849.3 207.5,848.6 207,848.2 206.5,849.5 206,848.6 205.5,849.8 205,848.1 204.5,849.2 204,848.8 203.5,849.1 203,849.6 202.5,848.1 202,849.2 201.5,850.2 201,848.9 200.5,849.2 200,849.4 199.5,848.3 199,848.6 198.5,848.2 198,848.3 197.5,848.3 197,849.3 196.5,848.7 196,849.2 195.5,849.3 195,849.1 194.5,848.2 194,849.2 193.5,848.9 193,849.5 192.5,849.1 192,847.8 191.5,848.5 191,849.8 190.5,848.9 190,848.9 189.5,848.7 189,848.6 188.5,848.4 188,848.9 187.5,848.3 187,849.2 186.5,849.3 186,848.2 185.5,849.1 185,849.2 184.5,849.3 184,848.1 183.5,850.2 183,849.1 182.5,849.9 182,847.8 181.5,849.3 181,848.8 180.5,848.7 180,849.8 179.5,849.1 179,849.1 178.5,848.9 178,848.5 177.5,848.5 177,848.3 176.5,849.3 176,849 175.5,849.1 175,848.2 174.5,849 174,849.1 173.5,848.6 173,850.2 172.5,849 172,849.4 171.5,848.9 171,848.4 170.5,849.3 170,849.2 169.5,848.7 169,849.1 168.5,848.8 168,850.1 167.5,848.1 167,849 166.5,849.3 166,848.1 165.5,849.1 165,848.8 164.5,848.6 164,849.1 163.5,848.8 163,848.7 162.5,848.3 162,849.6 161.5,849 161,848.4 160.5,849.1 160,848.5 159.5,849.5 159,849.8 158.5,848.6 158,849.7 157.5,848 157,848.6 156.5,849.6 156,849.3 155.5,848.9 155,848.7 154.5,848.9 154,849 153.5,848.6 153,848.7 152.5,848.3 152,849.2 151.5,849.3 151,849.6 150.5,849.4 150,848.5 149.5,848.6 149,848.5 148.5,849.1 148,849.3 147.5,848.8 147,848.9 146.5,848.9 146,848.7 145.5,849.3 145,848.4 144.5,848.4 144,848.4 143.5,849.3 143,848.9 142.5,849.1 142,848.8 141.5,849.3 141,849.7 140.5,848.6 140,848.8 139.5,849.1 139,848.6 138.5,847.4 138,849.1 137.5,850 137,849.4 136.5,849 136,848.7 135.5,848.7 135,849 134.5,849.4 134,849.7 133.5,848.7 133,849 132.5,848.4 132,848.4 131.5,848.3 131,849.5 130.5,848.8 130,848.7 129.5,848.6 129,849.4 128.5,849.1 128,849 127.5,849 127,848.1 126.5,849.5 126,849.1 125.5,849.1 125,849.3 124.5,848.9 124,848.8 123.5,848.4 123,849.2 122.5,849.5 122,850 121.5,847.2 121,848.9 120.5,848.3 120,848.7 119.5,848.9 119,849.5 118.5,850.1 118,849.2 117.5,849 117,848.9 116.5,849.3"/>
<path d="M116.5,839.9 116.5,842.5 117,842.6 117,840.3 117.5,840.2 117.5,842.8 118,842.5 118,840.2 118.5,840.1 118.5,842.7 119,842.2 119,840.2 119.5,840.2 119.5,842.2 120,842.8 120,840 120.5,840.1 120.5,842.3 121,842.4 121,839.9 121.5,840.1 121.5,842.8 122,842.4 122,840.3 122.5,839.7 122.5,842.4 123,842.5 123,840 123.5,840 123.5,843.1 124,842.5 124,840.3 124.5,840.2 124.5,842.4 125,842.6 125,839.7 125.5,839.8 125.5,842.3 126,842.6 126,840.1 126.5,840.1 126.5,842.4 127,842.3 127,840.3 127.5,840.4 127.5,842.6 128,843 128,840.1 128.5,840.1 128.5,843 129,842.3 129,840.3 129.5,840.1 129.5,842.3 130,842.2 130,840.3 130.5,839.7 130.5,842.1 131,842.4 131,840.3 131.5,840.2 131.5,842.3 132,842.4 132,840.3 132.5,840 132.5,842.6 133,842.5 133,840.4 133.5,839.9 133.5,842.6 134,842.4 134,840 134.5,840.2 134.5,842.4 135,842.6 135,839.8 135.5,840.2 135.5,842.3 136,843 136,840.1 136.5,840 136.5,842.2 137,842.2 137,840 137.5,839.9 137.5,842.5 138,843.2 138,839.7 138.5,840.2 138.5,842.7 139,842.3 139,839.9 139.5,839.9 139.5,842.7 140,842.1 140,839.8 140.5,840.3 140.5,842.9 141,842.7 141,840.1 141.5,840.2 141.5,843.4 142,842.8 142,840 142.5,840.2 142.5,842.3 143,842.4 143,840.1 143.5,839.9 143.5,842.4 144,842.4 144,840.1 144.5,840.2 144.5,842.5 145,842.3 145,840.3 145.5,840 145.5,842.3 146,842.2 146,840 146.5,839.6 146.5,842.2 147,842.9 147,839.5 147.5,840.2 147.5,842.3 148,842.3 148,840.4 148.5,840.4 148.5,842.7 149,843.4 149,839.9 149.5,839.7 149.5,842.9 150,842.4 150,840.2 150.5,840.3 150.5,842.4 151,842.7 151,840 151.5,840.2 151.5,842.9 152,842.2 152,840 152.5,840.1 152.5,842.4 153,843.5 153,840.4 153.5,840.2 153.5,842.4 154,842.6 154,840.2 154.5,840.4 154.5,842.2 155,842.7 155,839.8 155.5,840 155.5,842.2 156,843 156,840.4 156.5,840.2 156.5,842.2 157,842.5 157,840.1 157.5,840.1 157.5,842.7 158,842.3 158,840 158.5,840.1 158.5,842.5 159,842.4 159,840 159.5,840.1 159.5,843.5 160,842.4 160,840.4 160.5,840.2 160.5,842.6 161,842.6 161,840 161.5,839.7 161.5,842.7 162,842.5 162,840 162.5,839.6 162.5,843.6 163,843.3 163,840 163.5,840.3 163.5,842.6 164,842.1 164,840.2 164.5,840.3 164.5,842.5 165,842.5 165,840.4 165.5,840.3 165.5,842.2 166,842.6 166,839.8 166.5,840.4 166.5,842.8 167,842.4 167,840.2 167.5,839.9 167.5,842.4 168,842.6 168,839.9 168.5,840.4 168.5,842.5 169,842.6 169,839.8 169.5,840.1 169.5,842.6 170,842.3 170,839 170.5,839.9 170.5,842.6 171,842.8 171,840.2 171.5,840.2 171.5,842.6 172,842.6 172,839.8 172.5,840.2 172.5,843.1 173,842.5 173,839.9 173.5,840 173.5,842.6 174,842.4 174,840.5 174.5,839.9 174.5,842.4 175,842.5 175,840.5 175.5,840 175.5,842.3 176,842.6 176,839.8 176.5,840.2 176.5,842.3 177,842.8 177,840.2 177.5,840.1 177.5,842.5 178,842.5 178,839.6 178.5,840.2 178.5,842.1 179,842.7 179,840.1 179.5,840.3 179.5,842.5 180,842.2 180,840.1 180.5,840.1 180.5,842.8 181,842.3 181,840.1 181.5,839.2 181.5,842.3 182,842.5 182,839.8 182.5,839.9 182.5,842.2 183,842.3 183,840.3 183.5,840.2 183.5,842.1 184,842.4 184,839.5 184.5,840.1 184.5,842.4 185,842.5 185,840.5 185.5,839.9 185.5,842.8 186,843.5 186,840 186.5,839.8 186.5,842.5 187,842.4 187,840.2 187.5,839.6 187.5,842.6 188,842.3 188,839.9 188.5,840.3 188.5,842.2 189,842.6 189,839.6 189.5,839.9 189.5,842.5 190,842.4 190,840.1 190.5,839.8 190.5,842.1 191,842.4 191,839.8 191.5,840.2 191.5,842.3 192,842.9 192,839.9 192.5,840.4 192.5,842.4 193,842.5 193,839.4 193.5,840.4 193.5,842.5 194,842.5 194,840.3 194.5,839.8 194.5,842.4 195,842.6 195,840 195.5,840.3 195.5,842.5 196,842.5 196,840.5 196.5,840.1 196.5,842.5 197,842.1 197,839.9 197.5,840.3 197.5,842.4 198,842.2 198,840 198.5,839.7 198.5,842.3 199,842.2 199,840.3 199.5,840.2 199.5,842.7 200,842.3 200,839.5 200.5,840.1 200.5,842.3 201,842.5 201,839.9 201.5,840.4 201.5,842.6 202,842.6 202,840.2 202.5,840.3 202.5,842.5 203,842.5 203,840.1 203.5,840.2 203.5,842.5 204,842.1 204,840 204.5,840 204.5,842.8 205,842.9 205,840.1 205.5,840.1 205.5,842.2 206,842.5 206,839.8 206.5,840.2 206.5,842.5 207,842.6 207,840.2 207.5,840.1 207.5,842.3 208,843 208,840.3 208.5,839.8 208.5,842.3 209,842.5 209,840 209.5,840.4 209.5,842.7 210,842.6 210,840.4 210.5,840.2 210.5,842.4 211,842.4 211,840.3 211.5,840 211.5,842.9 212,842.6 212,839.7 212.5,840.2 212.5,843.3 213,842.7 213,840.1 213.5,840.2 213.5,842.8 214,842.9 214,840.2 214.5,840.4 214.5,842.4 215,842.8 215,840 215.5,840.2 215.5,842.6 216,842.8 216,839.5 216.5,840.3 216.5,842.5 217,842.5 217,840.2 217.5,839.9 217.5,842.6 218,842.4 218,840.1 218.5,840.1 218.5,842.6 219,842.4 219,840.4 219.5,839.9 219.5,842.5 220,842.7 220,840 220.5,840.1 220.5,842.7 221,842.3 221,839.8 221.5,839.8 221.5,842.9 222,842.5 222,840.4 222.5,839.9 222.5,842.8 223,842.6 223,840.4 223.5,840.4 223.5,842.4 224,842.5 224,840.4 224.5,839.9 224.5,842.2 225,842.3 225,840.5 225.5,840.6 225.5,842.7 226,842.5 226,839.8 226.5,840.1 226.5,843 227,842.1 227,840.1 227.5,840 227.5,842.3 228,842.1 228,840 228.5,840.2 228.5,842.2 229,842.5 229,840.1 229.5,840.5 229.5,842.8 230,842.2 230,840.5 230.5,840 230.5,843.1 231,842.4 231,840.4 231.5,839.9 231.5,842.4 232,842.6 232,840.4 232.5,839.8 232.5,842.7 233,843.2 233,839.6 233.5,839.9 233.5,842.5 234,842.5 234,840.3 234.5,840.1 234.5,842.6 235,842.3 235,840.2 235.5,840.2 235.5,842.2 236,842.5 236,840 236.5,840 236.5,842.4 237,842.5 237,839.8 237.5,840 237.5,842.1 238,842.5 238,840 238.5,840.4 238.5,842.2 239,842.8 239,840.3 239.5,840 239.5,842.9 240,842.8 240,840 240.5,840.3 240.5,842.4 241,842.7 241,840 241.5,840.1 241.5,842.4 242,842.1 242,839.4 242.5,839.2 242.5,842.5 243,842.4 243,840.1 243.5,840.3 243.5,842.4 244,842.5 244,840.2 244.5,840.2 244.5,842.7 245,842.7 245,840.4 245.5,840.3 245.5,842.8 246,842.7 246,840 246.5,840.2 246.5,842.8 247,842.4 247,840.1 247.5,840.3 247.5,842.3 248,842.5 248,839.9 248.5,839.8 248.5,842.6 249,843 249,840.3 249.5,839.5 249.5,842.6 250,842.4 250,840.3 250.5,839.8 250.5,842.4 251,842.4 251,840 251.5,839.8 251.5,842.6 252,842.5 252,840.2 252.5,840.1 252.5,842.6 253,842.4 253,839.9 253.5,840.1 253.5,842.7 254,842.5 254,840.3 254.5,840.4 254.5,842.6 255,842.4 255,839.8 255.5,840.6 255.5,842.1 256,842.2 256,840 256.5,840 256.5,842.2 257,842.4 257,840.2 257.5,840.1 257.5,842.3 258,842.5 258,840.2 258.5,840.4 258.5,842.3 259,842.7 259,839.8 259.5,840.5 259.5,842.5 260,842.3 260,840.2 260.5,840 260.5,843 261,842.3 261,840.1 261.5,840.1 261.5,842.7 262,842.6 262,840.2 262.5,840.4 262.5,842.3 263,842.4 263,839.8 263.5,840.2 263.5,842.4 264,842.3 264,840.4 264.5,839.9 264.5,842.7 265,842.6 265,840.2 265.5,839.9 265.5,842.7 266,842.9 266,840.1 266.5,840 266.5,842.3 267,842.6 267,840 267.5,840.1 267.5,842.3 268,842.6 268,840.1 268.5,840.1 268.5,842.4 269,842.9 269,840.1 269.5,840.2 269.5,842.4 270,843 270,839.8 270.5,840.1 270.5,842.1 271,842.4 271,839.4 271.5,840 271.5,842.6 272,842.7 272,840.2 272.5,840.1 272.5,842.4 273,842.9 273,840.1 273.5,839.9 273.5,842.2 274,842.9 274,840.4 274.5,840.1 274.5,842.5 275,842.4 275,839.7 275.5,840.1 275.5,844.3 276,842.5 276,840.2 276.5,840.5 276.5,842.3 277,842.4 277,840 277.5,839.8 277.5,842.2 278,842.2 278,840.1 278.5,840.1 278.5,842.3 279,843 279,840.3 279.5,840.2 279.5,842.4 280,842.4 280,840 280.5,840.3 280.5,842.5 281,842.2 281,840 281.5,840.5 281.5,842.4 282,842.3 282,840.1 282.5,840.2 282.5,842.4 283,842.2 283,840.1 283.5,840.1 283.5,842.4 284,842.4 284,840 284.5,840.4 284.5,843 285,842.8 285,839.9 285.5,840.2 285.5,842.3 286,842.3 286,839.8 286.5,839.9 286.5,842.5 287,842.6 287,839.6 287.5,839.9 287.5,842.8 288,843.1 288,840 288.5,840.3 288.5,842.5 289,842.7 289,839.9 289.5,840.2 289.5,842.4 290,843 290,840.2 290.5,840.4 290.5,842.5 291,842.7 291,840.4 291.5,840.1 291.5,842.2 292,842.8 292,840.3 292.5,840.1 292.5,842 293,842.2 293,839.7 293.5,839.9 293.5,842.4 294,842.5 294,840.3 294.5,840.1 294.5,842.4 295,842 295,840.1 295.5,839.9 295.5,842.8 296,842.7 296,840.2 296.5,840.5 296.5,842.5 297,842.9 297,840.5 297.5,840.3 297.5,842.5 298,842.2 298,840.3 298.5,840.1 298.5,842.7 299,842.3 299,840 299.5,840.5 299.5,842.3 300,842.6 300,840.3 300.5,840.4 300.5,842.1 301,842.6 301,839.8 301.5,840.3 301.5,843.1 302,842.5 302,840.2 302.5,840.1 302.5,842.3 303,842.4 303,839.5 303.5,840.3 303.5,842.6 304,842.8 304,840.4 304.5,840 304.5,842.4 305,842.5 305,840 305.5,840 305.5,842.8 306,842.8 306,839.9 306.5,839.7 306.5,842.2 307,842.5 307,840.4 307.5,839.3 307.5,842.5 308,842.5 308,840.2 308.5,840.1 308.5,842.4 309,842.6 309,840.2 309.5,840.2 309.5,842.7 310,842.4 310,840.2 310.5,840.2 310.5,842.6 311,842.6 311,840.1 311.5,840.2 311.5,842.7 312,842.3 312,840.2 312.5,839.8 312.5,842.3 313,842.6 313,840.1 313.5,840 313.5,842.7 314,842.4 314,839.7 314.5,838.9 314.5,842.2 315,842.4 315,840.4 315.5,839.9 315.5,842.2 316,842.5 316,840.4 316.5,840.4 316.5,842.7 317,842.3 317,839.8 317.5,839.6 317.5,842.5 318,842.3 318,840.2 318.5,839.9 318.5,842.6 319,842.4 319,839.6 319.5,839.9 319.5,842.4 320,842.3 320,840.3 320.5,839.8 320.5,842.4 321,842.3 321,840.4 321.5,839.7 321.5,842.3 322,842.4 322,839.4 322.5,840.1 322.5,842.3 323,842.4 323,840.1 323.5,840.3 323.5,842.5 324,842.4 324,840.3 324.5,839.7 324.5,842.7 325,843 325,840.2 325.5,840.1 325.5,842.8 326,842.4 326,840.2 326.5,839.9 326.5,842.3 327,843.1 327,840.3 327.5,840.3 327.5,842.3 328,842.6 328,840.2 328.5,840.3 328.5,842.7 329,842.5 329,840 329.5,839.9 329.5,842.7 330,842.5 330,840.1 330.5,839.9 330.5,842.4 331,842.7 331,840 331.5,840.2 331.5,842.6 332,842.2 332,839.9 332.5,840.3 332.5,842.8 333,842.2 333,839.7 333.5,839.9 333.5,843.4 334,842.7 334,840.3 334.5,840.1 334.5,842.3 335,842.4 335,839.9 335.5,840.2 335.5,842.3 336,842.4 336,840.4 336.5,840.2 336.5,842.4 337,842.9 337,839.9 337.5,840.2 337.5,842.5 338,842.7 338,840.3 338.5,840.4 338.5,842.3 339,842.7 339,840.4 339.5,840.1 339.5,842.7 340,842.6 340,840 340.5,839.7 340.5,842.3 341,842.7 341,839.7 341.5,839.7 341.5,843 342,842.8 342,840.1 342.5,840.2 342.5,842.5 343,842.8 343,840 343.5,839.9 343.5,842.5 344,843.1 344,840.3 344.5,840 344.5,842.4 345,843.2 345,840.2 345.5,840.3 345.5,842.3 346,842.6 346,840.3 346.5,840 346.5,842.4 347,842.2 347,840.1 347.5,839.9 347.5,842.4 348,842.5 348,839.8 348.5,840.1 348.5,842.3 349,842.5 349,840.3 349.5,839.9 349.5,842.4 350,842.2 350,840.1 350.5,840.1 350.5,842.8 351,842.3 351,839.5 351.5,840 351.5,842.3 352,842.3 352,840.3 352.5,840.3 352.5,842.5 353,842.7 353,840.2 353.5,840 353.5,842.5 354,842.7 354,839.8 354.5,840.1 354.5,843 355,842.4 355,840 355.5,840.1 355.5,842.4 356,842.4 356,839.4 356.5,840.1 356.5,842.5 357,842.6 357,840.2 357.5,840.2 357.5,842.2 358,842 358,840.4 358.5,839.6 358.5,842.4 359,842.2 359,840.6 359.5,840.3 359.5,843.1 360,842.3 360,840.3 360.5,840 360.5,842.4 361,842.4 361,840.1 361.5,839.8 361.5,842.5 362,842.2 362,840.4 362.5,840.3 362.5,842.6 363,842.2 363,840.3 363.5,839.8 363.5,842.2 364,842.3 364,839.8 364.5,840.4 364.5,842.6 365,842.7 365,838.9 365.5,839.5 365.5,843 366,842.6 366,840.2 366.5,840.3 366.5,842.6 367,842.7 367,839.9 367.5,840.2 367.5,842.2 368,843 368,840.5 368.5,839.8 368.5,842.2 369,842.8 369,840.1 369.5,840.3 369.5,842.7 370,842.1 370,840.3 370.5,840.2 370.5,842.2 371,842.9 371,840 371.5,840 371.5,842.4 372,842.5 372,839.9 372.5,839.9 372.5,842.7 373,842.7 373,840.2 373.5,840.3 373.5,842.2 374,842.6 374,840.5 374.5,839.7 374.5,842.2 375,842.6 375,839.7 375.5,840.1 375.5,842.2 376,842.5 376,839.9 376.5,840.2 376.5,842.3 377,842.7 377,840 377.5,840.1 377.5,842.2 378,842.9 378,838.8 378.5,840.5 378.5,842.4 379,842.8 379,840.2 379.5,839.9 379.5,842.6 380,842.6 380,840 380.5,840.2 380.5,842.4 381,842.5 381,840.3 381.5,840.3 381.5,842.6 382,842.4 382,840.2 382.5,840.3 382.5,842.3 383,842.6 383,840.4 383.5,839.8 383.5,842.2 384,842.4 384,840.5 384.5,840.2 384.5,842.4 385,842.3 385,839.9 385.5,840.2 385.5,842.5 386,842.4 386,840.1 386.5,840.2 386.5,842.3 387,842.2 387,840.2 387.5,840 387.5,842.6 388,842.6 388,839.7 388.5,840.2 388.5,842.3 389,842.9 389,839.9 389.5,839.8 389.5,842.2 390,842.4 390,839.9 390.5,840.1 390.5,842.7 391,842.5 391,840.1 391.5,840.4 391.5,842.4 392,842.4 392,839.2 392.5,840.3 392.5,842.2 393,842.2 393,840.3 393.5,840.4 393.5,842.2 394,842.6 394,840.3 394.5,839.9 394.5,842.7 395,842.4 395,840.3 395.5,840.2 395.5,842.6 396,842.6 396,840.1 396.5,840.1 396.5,842.4 397,842.5 397,840.3 397.5,840.1 397.5,842.5 398,842.3 398,839.9 398.5,839.9 398.5,842.5 399,842.5 399,840.3 399.5,840.2 399.5,842.5 400,842.4 400,840.1 400.5,840.3 400.5,842.4 401,842.9 401,840.2 401.5,839.6 401.5,842.2 402,842.5 402,840.2 402.5,840.1 402.5,842.4 403,842.8 403,839.9 403.5,840.4 403.5,842.3 404,842.4 404,840.2 404.5,839.9 404.5,842.2 405,842.2 405,839.9 405.5,840.2 405.5,842.7 406,842.9 406,840.2 406.5,839.7 406.5,842.6 407,842.2 407,840 407.5,840.1 407.5,842.6 408,842.9 408,840.5 408.5,840.1 408.5,842.4 409,842.5 409,839.3 409.5,840.2 409.5,842.3 410,842.6 410,840.4 410.5,840.3 410.5,842.5 411,842.2 411,840.5 411.5,840.2 411.5,842.4 412,842.6 412,840.3 412.5,839.9 412.5,842.6 413,842.6 413,840.3 413.5,840.2 413.5,842.3 414,842.2 414,840.3 414.5,839.6 414.5,842.6 415,842.4 415,840.1 415.5,839.8 415.5,842.6 416,843 416,840.3 416.5,840.2 416.5,842.5 417,842.5 417,840.4 417.5,840 417.5,842.7 418,842.1 418,840.2 418.5,840 418.5,842.1 419,842.5 419,840.2 419.5,840.4 419.5,842.3 420,842.5 420,839.7 420.5,839.9 420.5,843.1 421,842.3 421,839.5 421.5,840.3 421.5,842.5 422,842.2 422,840.4 422.5,840.2 422.5,842.6 423,842.9 423,840.1 423.5,840.3 423.5,842.4 424,842.7 424,840.3 424.5,840.1 424.5,842.6 425,842.9 425,839.9 425.5,839.9 425.5,842.4 426,842.5 426,840.5 426.5,840.1 426.5,843 427,842.2 427,839.7 427.5,840.3 427.5,842.6 428,842.4 428,839.8 428.5,840.1 428.5,842.4 429,842.9 429,840.3 429.5,840.1 429.5,842.1 430,842.9 430,839.9 430.5,840.2 430.5,842.8 431,842.7 431,840.1 431.5,839.9 431.5,842.4 432,842.8 432,839.7 432.5,840.2 432.5,842.5 433,842.3 433,840.1 433.5,839.7 433.5,842.4 434,842.4 434,840.3 434.5,840.4 434.5,842.6 435,842.8 435,839.2 435.5,840 435.5,842.2 436,842.5 436,840.4 436.5,839.8 436.5,842.7 437,842.4 437,839.9 437.5,840 437.5,842.4 438,842.4 438,840.1 438.5,840.2 438.5,842.5 439,842.3 439,840.2 439.5,840.5 439.5,842.7 440,842.6 440,840.1 440.5,840.1 440.5,842.3 441,842.8 441,840 441.5,840.3 441.5,842.7 442,842.5 442,840.3 442.5,840.1 442.5,842.3 443,842.6 443,839.6 443.5,840.2 443.5,842.5 444,842.1 444,840.2 444.5,840.2 444.5,842.1 445,842.4 445,840.2 445.5,840.1 445.5,842.2 446,842.7 446,839.9 446.5,839.8 446.5,843 447,842.7 447,840.1 447.5,839.9 447.5,842.3 448,842.4 448,840.3 448.5,839.9 448.5,842.2 449,842.4 449,839.9 449.5,840.2 449.5,842.3 450,842.5 450,840.1 450.5,840.4 450.5,842.5 451,842.2 451,840.1 451.5,839.7 451.5,842.4 452,842.6 452,840.1 452.5,839.7 452.5,842.4 453,842.9 453,840.2 453.5,840.2 453.5,842.3 454,842.5 454,840.1 454.5,840.1 454.5,842.5" fill="none" stroke="#1f77b4" stroke-width="4.4" stroke-linejoin="round" stroke-linecap="butt"/>
<g clip-path="url(#c21)">
<polygon fill="#8fbbd9" points="570.5,831.4 571,828.8 571.5,825.2 572,820.9 572.5,816.9 573,813.7 573.5,811.4 574,809.7 574.5,808.1 575,806.6 575.5,804.5 576,803 576.5,801.1 577,799 577.5,796.7 578,794.4 578.5,792.2 579,789.4 579.5,787.2 580,784.8 580.5,781.3 581,778.8 581.5,775.3 582,771.7 582.5,768.1 583,765 583.5,761.3 584,757.1 584.5,754 585,749.8 585.5,745.2 586,741.6 586.5,737.6 587,732.6 587.5,727.1 588,722 588.5,716.6 589,709.7 589.5,703.8 590,698 590.5,693.1 591,687.7 591.5,682.7 592,677.1 592.5,673.1 593,667.7 593.5,663.4 594,659.3 594.5,656.1 595,652.4 595.5,649.9 596,647.1 596.5,644.5 597,641.9 597.5,638.8 598,637.1 598.5,635.5 599,633.3 599.5,631.4 600,629.3 600.5,627.9 601,625.9 601.5,625.2 602,623.8 602.5,623.5 603,622.4 603.5,621.5 604,620.7 604.5,620.1 605,619.7 605.5,619.1 606,618.7 606.5,618.8 607,618 607.5,617.3 608,618.1 608.5,617 609,616.6 609.5,616.6 610,616.3 610.5,615.9 611,616 611.5,616.1 612,616.1 612.5,615.8 613,615.8 613.5,616 614,616 614.5,615.2 615,615.8 615.5,615.4 616,615.2 616.5,615.5 617,615.4 617.5,615.6 618,614.8 618.5,615 619,615.2 619.5,615.1 620,615.1 620.5,615.4 621,615.1 621.5,614.4 622,615.2 622.5,615.1 623,615.5 623.5,615.1 624,615.5 624.5,615.6 625,615.7 625.5,615.9 626,615 626.5,615.5 627,615.6 627.5,615.6 628,615.8 628.5,616 629,615.9 629.5,616.4 630,616.3 630.5,616.3 631,616.3 631.5,615.9 632,616.3 632.5,616.3 633,616.5 633.5,616.4 634,616.8 634.5,616.6 635,616.7 635.5,617 636,617.1 636.5,616.7 637,616.5 637.5,616.7 638,616.8 638.5,617.1 639,617.2 639.5,617.1 640,616.8 640.5,616.7 641,616.9 641.5,617 642,617.1 642.5,617.6 643,617.7 643.5,617.3 644,617.4 644.5,617.7 645,617.4 645.5,617.6 646,617.8 646.5,617.4 647,617.8 647.5,617.8 648,617.7 648.5,617.5 649,618.1 649.5,617.9 650,617.9 650.5,618.3 651,618.3 651.5,618.2 652,618.3 652.5,618 653,618.8 653.5,618.8 654,618.3 654.5,618.7 655,618.6 655.5,619 656,619 656.5,618.9 657,619.5 657.5,619.1 658,619 658.5,619.2 659,618.9 659.5,619.2 660,619.7 660.5,619.2 661,620.3 661.5,619.6 662,620.1 662.5,619.7 663,620.3 663.5,619.5 664,620.2 664.5,620.4 665,620.2 665.5,620.2 666,620.4 666.5,620.3 667,620.6 667.5,620.3 668,620.6 668.5,620 669,620.1 669.5,620.3 670,620.1 670.5,620.3 671,620.2 671.5,619.9 672,620.2 672.5,620.4 673,620.2 673.5,620.1 674,620.5 674.5,620.2 675,620.9 675.5,620.7 676,620.7 676.5,620.5 677,620.7 677.5,620 678,620.4 678.5,620.5 679,620.3 679.5,620.6 680,620.4 680.5,620 681,620.2 681.5,620.9 682,620.3 682.5,620.5 683,620.6 683.5,620.1 684,620.6 684.5,620.2 685,620.6 685.5,620.2 686,620.5 686.5,620.4 687,620.2 687.5,620.3 688,620.6 688.5,620.5 689,620.2 689.5,620 690,620.2 690.5,620.5 691,620.2 691.5,620.3 692,620 692.5,620.6 693,619.9 693.5,620.6 694,620.5 694.5,619.8 695,620.6 695.5,620.3 696,620 696.5,620.1 697,620.4 697.5,620.3 698,620.5 698.5,620 699,620 699.5,620.3 700,619.9 700.5,620.4 701,620.5 701.5,620 702,619.9 702.5,620 703,620.5 703.5,620.9 704,620.1 704.5,620.2 705,620.3 705.5,620.1 706,619.8 706.5,620 707,620 707.5,619.9 708,619.7 708.5,619.9 709,620.1 709.5,620.4 710,620.6 710.5,620.4 711,619.6 711.5,620.3 712,620.5 712.5,619.9 713,619.7 713.5,620 714,619.7 714.5,619.9 715,620.3 715.5,620 716,620 716.5,619.9 717,620.2 717.5,620 718,620.1 718.5,619.9 719,620 719.5,619.8 720,620.2 720.5,619.9 721,620 721.5,620.4 722,619.8 722.5,619.6 723,620 723.5,619.8 724,620.1 724.5,619.6 725,619.7 725.5,619.9 726,619.9 726.5,619.9 727,619.5 727.5,620.5 728,619.8 728.5,619.3 729,619.9 729.5,619.7 730,620.2 730.5,619.7 731,619.9 731.5,620 732,620.1 732.5,619.8 733,619.8 733.5,620.1 734,619.5 734.5,620.1 735,619.8 735.5,620.2 736,619.8 736.5,620.1 737,620 737.5,620.1 738,619.8 738.5,620 739,619.8 739.5,620.1 740,620.1 740.5,620.1 741,619.8 741.5,619.5 742,620 742.5,619.7 743,619.9 743.5,620.1 744,619.7 744.5,619.9 745,620 745.5,619.5 746,620 746.5,619.5 747,620 747.5,620.3 748,619.8 748.5,620.2 749,620.2 749.5,619.3 750,620.3 750.5,620 751,619.2 751.5,619.5 752,620 752.5,619.4 753,619.7 753.5,620.1 754,619.9 754.5,620.2 755,619.7 755.5,619.5 756,619.9 756.5,620.1 757,619.9 757.5,620.1 758,620 758.5,620 759,619.8 759.5,619.6 760,619.8 760.5,619.6 761,620.3 761.5,619.8 762,619.8 762.5,619.4 763,620.1 763.5,620.3 764,620.1 764.5,619.6 765,619.8 765.5,620 766,619.9 766.5,619.8 767,619.9 767.5,619.9 768,620.3 768.5,619.7 769,620 769.5,619.6 770,619.8 770.5,620 771,619.7 771.5,620 772,619.9 772.5,620 773,619.5 773.5,620.3 774,620.4 774.5,620.1 775,619.7 775.5,619.7 776,619.9 776.5,620 777,620 777.5,619.9 778,620.2 778.5,620.1 779,619.9 779.5,620.3 780,620.1 780.5,620.1 781,619.9 781.5,619.9 782,620 782.5,620.2 783,620.2 783.5,619.7 784,619.6 784.5,620 785,620.3 785.5,620 786,619.5 786.5,620 787,619.8 787.5,619.6 788,619.9 788.5,619.9 789,620 789.5,620 790,619.7 790.5,619.5 791,619.7 791.5,620.2 792,620.3 792.5,620.2 793,619.9 793.5,620.3 794,619.9 794.5,620.2 795,620 795.5,619.6 796,620.2 796.5,620.1 797,619.9 797.5,620 798,619.6 798.5,620.3 799,619.7 799.5,619.9 800,619.1 800.5,619.7 801,620 801.5,619.9 802,620.1 802.5,620.1 803,619.7 803.5,619.6 804,620.1 804.5,619.5 805,620.1 805.5,619.9 806,619.8 806.5,620.2 807,619.7 807.5,619.5 808,620 808.5,619.8 809,620.1 809.5,620.1 810,619.9 810.5,619.9 811,620 811.5,620.1 812,620 812.5,620.1 813,620.2 813.5,620.1 814,619.8 814.5,619.6 815,619.7 815.5,619.7 816,619.5 816.5,620.1 817,620.1 817.5,620 818,620 818.5,620.2 819,620 819.5,620 820,620.1 820.5,619.7 821,619.3 821.5,619.5 822,619.9 822.5,619.8 823,620 823.5,620.3 824,620 824.5,619.8 825,619.9 825.5,619.9 826,620 826.5,620 827,619.6 827.5,620.1 828,619.8 828.5,620.1 829,619.8 829.5,620.2 830,620.4 830.5,620 831,619.7 831.5,620.1 832,620.3 832.5,620 833,619.8 833.5,620 834,620 834.5,620 835,620.1 835.5,619.9 836,619.9 836.5,620.1 837,619.7 837.5,619.7 838,619.7 838.5,619.7 839,619.4 839.5,619.9 840,619.8 840.5,620 841,620.2 841.5,619.6 842,619.9 842.5,619.9 843,620.3 843.5,620.1 844,619.4 844.5,620.1 845,620 845.5,619.9 846,619.9 846.5,620 847,619.7 847.5,619.8 848,620.1 848.5,620.2 849,619.7 849.5,620 850,620.1 850.5,619.7 851,619.9 851.5,620.2 852,619.6 852.5,619.7 853,619.6 853.5,620.1 854,619.8 854.5,620 855,620.3 855.5,619.8 856,619.8 856.5,620.5 857,620.2 857.5,619.7 858,620.1 858.5,619.5 859,619.8 859.5,619.8 860,620.2 860.5,619.8 861,619.6 861.5,619.7 862,620 862.5,619.5 863,620.1 863.5,619.9 864,620.2 864.5,619.7 865,619.8 865.5,619.8 866,620 866.5,619.5 867,619.7 867.5,620 868,619.7 868.5,620.3 869,620.3 869.5,619.8 870,620 870.5,620 871,619.9 871.5,619.7 872,619.5 872.5,619.8 873,619.5 873.5,620.3 874,620 874.5,619.9 875,620.1 875.5,619.8 876,620 876.5,619.6 877,619.7 877.5,619.7 878,619.7 878.5,619.8 879,620.2 879.5,620 880,620.1 880.5,619.8 881,619.8 881.5,619.9 882,620.1 882.5,619.9 883,620.2 883.5,619.9 884,620 884.5,619.7 885,620.1 885.5,619.7 886,620.1 886.5,620.1 887,620.4 887.5,620.1 888,619.9 888.5,620 889,619.6 889.5,620.4 890,620.3 890.5,619.6 891,619.9 891.5,619.8 892,620.1 892.5,620.3 893,619.8 893.5,619.7 894,620.2 894.5,619.9 895,619.7 895.5,620.2 896,620.1 896.5,620.2 897,619.6 897.5,619.6 898,619.9 898.5,619.8 899,619.8 899.5,619.9 900,619.8 900.5,620.5 901,619.6 901.5,620.1 902,620.2 902.5,620.1 903,620.1 903.5,619.9 904,620 904.5,619.8 905,619.2 905.5,620.1 906,620.1 906.5,619.7 907,620.2 907.5,619.8 908,620.2 908.5,619.7 908.5,685.7 908,685.5 907.5,685.5 907,685.7 906.5,685.4 906,685.6 905.5,685.3 905,685.8 904.5,685.5 904,685.3 903.5,685.9 903,685.5 902.5,685.7 902,685.5 901.5,685.7 901,685.5 900.5,685.6 900,685.7 899.5,685.7 899,685.8 898.5,685 898,685.5 897.5,685.4 897,685.7 896.5,685.6 896,685.7 895.5,685.7 895,685.2 894.5,685.6 894,686.1 893.5,685.5 893,685.1 892.5,686 892,685.5 891.5,685.5 891,685.5 890.5,685.1 890,685.6 889.5,686.2 889,685.6 888.5,685.7 888,685.9 887.5,685.7 887,685.6 886.5,685.7 886,685.4 885.5,685.5 885,685.6 884.5,685.6 884,685.3 883.5,685.5 883,685.8 882.5,685.3 882,685.7 881.5,685.5 881,685.7 880.5,685.8 880,685.5 879.5,685.6 879,685.4 878.5,685.5 878,685.4 877.5,685.4 877,685.5 876.5,685.8 876,685.6 875.5,685.6 875,685.8 874.5,685.3 874,685.8 873.5,685.8 873,685.6 872.5,685.3 872,685.7 871.5,685.8 871,685.5 870.5,685.3 870,685.4 869.5,685.7 869,685.9 868.5,685.7 868,685.6 867.5,685.4 867,685.9 866.5,686.1 866,685.3 865.5,685.7 865,686.2 864.5,685.7 864,685.3 863.5,685.9 863,685.7 862.5,685.6 862,685.7 861.5,685.5 861,685.7 860.5,685.5 860,685.7 859.5,685.9 859,685.4 858.5,685.3 858,686 857.5,685.5 857,685.4 856.5,685.5 856,685.7 855.5,685.8 855,685.5 854.5,685.2 854,685.5 853.5,685.9 853,685.6 852.5,685.9 852,685.7 851.5,685.5 851,685.8 850.5,685.7 850,685.2 849.5,685.4 849,686 848.5,685.2 848,685.4 847.5,685.8 847,685.4 846.5,685.4 846,685.2 845.5,686 845,685.8 844.5,685.7 844,685.4 843.5,685.7 843,685.7 842.5,686 842,685.5 841.5,685.6 841,685.8 840.5,685.1 840,685.8 839.5,685.4 839,685.7 838.5,685.6 838,685.9 837.5,685.9 837,685.8 836.5,685.7 836,685.4 835.5,685.2 835,685.8 834.5,685.5 834,685.6 833.5,685.8 833,685.7 832.5,685.6 832,686 831.5,685.9 831,685.9 830.5,685.6 830,685.6 829.5,685.4 829,685.2 828.5,685.4 828,685.7 827.5,685.6 827,685.6 826.5,685.5 826,685.5 825.5,686.2 825,685.5 824.5,685.3 824,685.8 823.5,685.9 823,685.7 822.5,685.4 822,685.4 821.5,685.6 821,686 820.5,685.7 820,685.3 819.5,685.4 819,685.7 818.5,685.7 818,685.6 817.5,685.4 817,685.2 816.5,685.8 816,685.8 815.5,685.3 815,685.6 814.5,685.7 814,685.6 813.5,685.7 813,685.4 812.5,685.5 812,685.5 811.5,685.3 811,685.7 810.5,685.9 810,685.6 809.5,685.8 809,685.7 808.5,685.2 808,685.8 807.5,685.7 807,685.8 806.5,685.6 806,685.6 805.5,685.5 805,685.6 804.5,685.8 804,685.1 803.5,685.3 803,685.6 802.5,685.1 802,685.5 801.5,686 801,685.9 800.5,685.5 800,685.4 799.5,685.4 799,686 798.5,685.6 798,686 797.5,686 797,685.8 796.5,685.9 796,685.5 795.5,685.4 795,685.3 794.5,685.7 794,685.3 793.5,685.8 793,685.6 792.5,685.8 792,685.3 791.5,685.7 791,686 790.5,685.6 790,685.1 789.5,685.2 789,686.1 788.5,685.5 788,685.9 787.5,685.5 787,685.4 786.5,685.9 786,685.6 785.5,685.6 785,685.7 784.5,686 784,685.7 783.5,685.7 783,685.6 782.5,685.7 782,685.3 781.5,685.2 781,685.5 780.5,685.9 780,685.4 779.5,685.8 779,685.8 778.5,685.6 778,685.7 777.5,686 777,685.8 776.5,685.9 776,685.8 775.5,685.5 775,685.3 774.5,685.3 774,685.4 773.5,685.7 773,685.5 772.5,685.4 772,685.6 771.5,685.4 771,685.4 770.5,685.2 770,685.8 769.5,685.8 769,685.5 768.5,685.7 768,685.6 767.5,685.5 767,685.5 766.5,685.7 766,685.9 765.5,685.5 765,685.3 764.5,685.8 764,685.3 763.5,685.6 763,685.7 762.5,685.3 762,685.9 761.5,685.6 761,685.4 760.5,685.6 760,685.5 759.5,685.7 759,685.7 758.5,685.5 758,685.3 757.5,685.5 757,685.4 756.5,685.4 756,685.4 755.5,685.7 755,685.6 754.5,685.6 754,685.2 753.5,685.6 753,685.7 752.5,685.8 752,686 751.5,686 751,685.4 750.5,685.3 750,686.1 749.5,685.5 749,685.8 748.5,685.5 748,685.2 747.5,685.5 747,685.7 746.5,685.5 746,685.7 745.5,685.7 745,685.7 744.5,685.8 744,685.7 743.5,685.6 743,685.8 742.5,685.7 742,685.7 741.5,685.4 741,685.2 740.5,685.6 740,685.6 739.5,685.6 739,685.9 738.5,685.7 738,685.6 737.5,685.4 737,685.5 736.5,685.6 736,685.2 735.5,685.3 735,685.7 734.5,685.8 734,685.5 733.5,685.6 733,685.7 732.5,685.4 732,686 731.5,685.6 731,685.6 730.5,685.6 730,685.2 729.5,685.1 729,685.4 728.5,685.6 728,685.4 727.5,685.3 727,685.6 726.5,685.7 726,685.9 725.5,685.8 725,685.5 724.5,685.3 724,685.6 723.5,685.7 723,686 722.5,685.6 722,685.5 721.5,685.9 721,685.9 720.5,685.4 720,686 719.5,685.8 719,685.4 718.5,686 718,685.9 717.5,686.2 717,685.9 716.5,685.8 716,685.9 715.5,685.6 715,685.7 714.5,685.7 714,685.8 713.5,685.7 713,685.5 712.5,685.8 712,685.7 711.5,685.4 711,686 710.5,685.8 710,686.2 709.5,685.9 709,685.4 708.5,686 708,685.9 707.5,685.9 707,686.3 706.5,686.2 706,685.5 705.5,685.7 705,685.9 704.5,685.7 704,686.2 703.5,685.4 703,686 702.5,686.1 702,685.8 701.5,685.8 701,685.7 700.5,685.9 700,686 699.5,685.7 699,685.6 698.5,686.1 698,685.7 697.5,686.1 697,686 696.5,686.1 696,686.2 695.5,685.9 695,686.2 694.5,685.5 694,686.2 693.5,686 693,686.4 692.5,686.2 692,686.2 691.5,685.9 691,686.3 690.5,686 690,686.1 689.5,686.1 689,685.8 688.5,685.5 688,685.9 687.5,686.3 687,686.2 686.5,686 686,685.6 685.5,686.2 685,686.7 684.5,686.5 684,686.2 683.5,686.4 683,686 682.5,686.3 682,686.2 681.5,686.2 681,686.7 680.5,686.6 680,686.2 679.5,686.3 679,686.1 678.5,686.1 678,686.4 677.5,686.4 677,686.2 676.5,686.8 676,686.4 675.5,686.6 675,686.8 674.5,686.6 674,686.8 673.5,686.9 673,686.5 672.5,686.7 672,687 671.5,687.1 671,686.9 670.5,687.1 670,686.9 669.5,687.3 669,686.9 668.5,687.5 668,687.2 667.5,687.4 667,687.8 666.5,687.7 666,687.3 665.5,687.5 665,688 664.5,688.1 664,687.8 663.5,687.9 663,687.9 662.5,687.8 662,688.3 661.5,687.8 661,687.9 660.5,688.7 660,689.2 659.5,689.1 659,688.8 658.5,689 658,689.1 657.5,689.5 657,689.6 656.5,689.8 656,690.5 655.5,690.7 655,690.1 654.5,690.5 654,690.8 653.5,691.1 653,691 652.5,691.6 652,691.4 651.5,691 651,692 650.5,691.8 650,692.2 649.5,692.2 649,692.7 648.5,692.5 648,692.3 647.5,692.6 647,693 646.5,693.3 646,693.8 645.5,693.3 645,693.8 644.5,693.5 644,694.4 643.5,694.7 643,694.7 642.5,694.7 642,695.5 641.5,695.9 641,695.6 640.5,695.7 640,696.2 639.5,696.4 639,696.7 638.5,697.3 638,697.1 637.5,697 637,698.1 636.5,698.7 636,698.4 635.5,699.1 635,699.6 634.5,699.9 634,700.3 633.5,701.3 633,700.7 632.5,701.7 632,702.3 631.5,702.1 631,702.5 630.5,703.9 630,704 629.5,704.5 629,705.1 628.5,705.8 628,706.5 627.5,706.9 627,707.6 626.5,707.9 626,708.8 625.5,709.3 625,710 624.5,711 624,711.8 623.5,712.5 623,713.9 622.5,714 622,715.7 621.5,716.2 621,717 620.5,717.8 620,719.1 619.5,719.7 619,720.2 618.5,721.3 618,721.8 617.5,722.9 617,723.4 616.5,724.3 616,725 615.5,725.4 615,726.6 614.5,727.4 614,727.9 613.5,728.4 613,729.9 612.5,730.7 612,730.9 611.5,732.1 611,732.9 610.5,734.1 610,735.5 609.5,736.8 609,737.9 608.5,739.6 608,740.9 607.5,741.9 607,744.1 606.5,745.3 606,746.8 605.5,748.4 605,750.2 604.5,751.5 604,753.4 603.5,755.9 603,757.4 602.5,759.1 602,761.3 601.5,762.9 601,765.1 600.5,767.3 600,769.5 599.5,771.4 599,773.6 598.5,776.4 598,778.7 597.5,781.2 597,783.9 596.5,786.2 596,789.5 595.5,791.8 595,795.1 594.5,797.9 594,801.1 593.5,804 593,806.7 592.5,809.6 592,811.8 591.5,815 591,817.1 590.5,819.5 590,821.6 589.5,823.6 589,825.7 588.5,827.8 588,828.5 587.5,829.6 587,831.2 586.5,832.2 586,833.3 585.5,834.1 585,835.3 584.5,835.7 584,836.9 583.5,837.2 583,837.9 582.5,838 582,838.1 581.5,838.8 581,838.9 580.5,839.1 580,839.7 579.5,840 579,839.7 578.5,840.3 578,840.4 577.5,840.6 577,841.5 576.5,841.7 576,842.6 575.5,842.1 575,842 574.5,843.2 574,843.9 573.5,843.7 573,844.3 572.5,844.9 572,845.1 571.5,845.7 571,845.5 570.5,846"/>
</g>
<polygon fill="#1f77b4" points="572.7,840.3 572.9,839.6 573.2,838.9 573.4,838.1 573.7,837.4 573.9,836.5 574.2,835.6 574.4,834.7 574.7,833.8 574.9,833.2 575.1,832.6 575.4,832 575.6,831.3 575.8,830.7 576.1,830.1 576.3,829.5 576.5,828.9 576.7,828.3 576.9,827.7 577.1,827.2 577.4,826.4 577.7,825.6 578,824.8 578.2,824.1 578.5,823.4 578.8,822.7 579.1,822 579.4,821.3 579.7,820.6 580,819.9 580.3,819.2 580.6,818.5 580.9,817.8 581.2,817.1 581.5,816.4 581.8,815.6 582.1,814.8 582.5,813.9 582.8,813.1 583,812.5 583.2,811.9 583.4,811.3 583.6,810.6 583.8,810 584,809.4 584.2,808.7 584.4,808 584.6,807.3 584.8,806.7 585,806 585.2,805.3 585.4,804.6 585.6,803.9 585.8,803.1 586,802.4 586.2,801.6 586.4,800.8 586.6,800 586.8,799.1 587,798.3 587.3,797.4 587.5,796.5 587.7,795.6 587.9,794.7 588.1,793.7 588.3,792.7 588.5,791.7 588.7,790.7 588.9,789.6 589.1,788.5 589.3,787.4 589.5,786.3 589.7,785.2 589.9,784 590,783.4 590.1,782.8 590.2,782.2 590.3,781.6 590.4,781 590.5,780.3 590.6,779.7 590.7,779 590.8,778.4 590.9,777.7 591,777 591.1,776.4 591.2,775.7 591.3,775 591.4,774.3 591.5,773.6 591.6,772.9 591.7,772.2 591.8,771.6 591.9,770.9 592,770.2 592.1,769.5 592.2,768.8 592.3,768.1 592.4,767.3 592.5,766.6 592.6,765.9 592.7,765.2 592.8,764.5 592.9,763.8 593,763.1 593.1,762.3 593.2,761.6 593.3,760.9 593.4,760.2 593.5,759.5 593.6,758.8 593.7,758.1 593.8,757.4 593.9,756.7 594,756 594.1,755.3 594.2,754.6 594.3,753.9 594.4,753.2 594.5,752.5 594.6,751.9 594.7,751.2 594.8,750.5 594.9,749.8 595,749.1 595.1,748.4 595.2,747.8 595.3,747.1 595.4,746.4 595.5,745.7 595.6,745 595.7,744.3 595.8,743.6 595.9,742.8 596,742.1 596.1,741.4 596.2,740.7 596.3,740 596.4,739.2 596.5,738.5 596.6,737.8 596.7,737 596.8,736.3 596.9,735.5 597,734.8 597.1,734.1 597.2,733.4 597.3,732.6 597.4,731.9 597.5,731.2 597.6,730.5 597.7,729.8 597.8,729.1 597.9,728.4 598,727.7 598.1,727 598.2,726.3 598.3,725.6 598.4,724.9 598.5,724.2 598.6,723.6 598.7,722.9 598.8,722.3 598.9,721.6 599,721 599.1,720.3 599.2,719.7 599.3,719.1 599.4,718.5 599.5,717.9 599.6,717.3 599.8,716.1 600,715 600.1,713.8 600.3,712.6 600.5,711.4 600.7,710.3 600.9,709.1 601.1,707.9 601.3,706.8 601.5,705.6 601.7,704.6 601.9,703.5 602,702.5 602.2,701.6 602.4,700.7 602.6,699.8 602.8,699 603,698.2 603.2,697.5 603.3,696.8 603.5,696.2 603.7,695.6 603.9,695 604.1,694.3 604.4,693.5 604.7,692.7 605,692 605.3,691.2 605.6,690.4 605.8,689.6 606.1,688.8 606.4,688 606.7,687.2 607,686.5 607.3,685.7 607.6,685 607.8,684.3 608.1,683.6 608.4,682.9 608.7,682.3 608.9,681.7 609.2,681.1 609.5,680.5 609.7,680 610,679.5 610.3,678.9 610.6,678.4 610.9,677.8 611.2,677.3 611.5,676.7 611.8,676.2 612,675.6 612.3,675.1 612.6,674.5 612.9,674 613.2,673.5 613.5,672.9 613.9,672.3 614.2,671.8 614.5,671.4 614.9,671 615.2,670.7 615.6,670.3 616.1,669.9 616.6,669.5 617.1,669.1 617.6,668.6 618.1,668.2 618.6,667.8 619.1,667.4 619.6,667 620.1,666.6 620.6,666.2 621,665.9 621.4,665.6 621.9,665.3 622.4,665 623,664.8 623.6,664.5 624.2,664.2 624.8,663.9 625.4,663.5 626,663.2 626.6,662.9 627.2,662.6 627.8,662.3 628.4,662 629,661.7 629.6,661.4 630.2,661.1 630.8,660.8 631.3,660.6 631.8,660.4 632.3,660.2 632.8,660 633.3,659.9 633.9,659.7 634.5,659.6 635.1,659.4 635.7,659.3 636.3,659.2 636.9,659 637.5,658.9 638.1,658.7 638.7,658.6 639.3,658.4 639.9,658.3 640.5,658.1 641.1,658 641.7,657.8 642.3,657.7 642.9,657.5 643.5,657.4 644,657.3 644.5,657.2 645,657.2 645.6,657.1 646.2,657.1 646.8,657 647.4,657 648,656.9 648.6,656.9 649.2,656.8 649.8,656.8 650.4,656.7 651,656.7 651.6,656.6 652.2,656.6 652.8,656.5 653.4,656.5 654,656.4 654.6,656.4 655.2,656.3 655.8,656.3 656.4,656.2 657,656.2 657.6,656.1 658.2,656.1 658.8,656 659.4,656 660,656 660.6,655.9 661.2,655.9 661.7,655.8 662.3,655.8 662.9,655.8 663.5,655.7 664,655.7 664.6,655.7 665.2,655.7 665.8,655.7 666.4,655.7 667,655.7 667.6,655.7 668.2,655.6 668.8,655.6 669.4,655.6 670,655.6 670.6,655.6 671.2,655.6 671.8,655.6 672.4,655.6 673,655.6 673.6,655.6 674.2,655.6 674.8,655.5 675.4,655.5 676,655.5 676.6,655.5 677.2,655.5 677.8,655.5 678.4,655.5 679,655.5 679.6,655.5 680.2,655.5 680.8,655.4 681.4,655.4 682,655.4 682.6,655.4 683.2,655.4 683.8,655.4 684.4,655.4 685,655.4 685.6,655.4 686.2,655.4 686.8,655.3 687.4,655.3 688,655.3 688.6,655.3 689.2,655.3 689.8,655.3 690.4,655.3 691,655.3 691.6,655.3 692.2,655.3 692.8,655.3 693.4,655.3 694,655.3 694.6,655.3 695.2,655.3 695.8,655.3 696.4,655.3 697,655.3 697.6,655.3 698.2,655.3 698.8,655.3 699.4,655.3 700,655.3 700.6,655.3 701.2,655.3 701.8,655.3 702.4,655.3 703,655.3 703.6,655.2 704.2,655.2 704.8,655.2 705.4,655.2 706,655.2 706.6,655.2 707.2,655.2 707.8,655.2 708.4,655.2 709,655.2 709.6,655.2 710.2,655.2 710.8,655.2 711.4,655.2 712,655.2 712.6,655.2 713.2,655.2 713.8,655.2 714.4,655.2 715,655.2 715.6,655.2 716.2,655.2 716.8,655.2 717.4,655.2 718,655.2 718.6,655.2 719.2,655.2 719.8,655.2 720.4,655.2 721,655.2 721.6,655.1 722.2,655.1 722.8,655.1 723.4,655.1 724,655.1 724.6,655.1 725.2,655.1 725.8,655.1 726.4,655.1 727,655.1 727.6,655.1 728.3,655.1 728.9,655.1 729.5,655.1 730.1,655.1 730.8,655.1 731.4,655.1 732,655.1 732.6,655.1 733.3,655.1 733.9,655.1 734.5,655.1 735.1,655.1 735.8,655.1 736.4,655.1 737,655.1 737.6,655.1 738.3,655.1 738.9,655.1 739.5,655.1 740.1,655.1 740.8,655.1 741.4,655.1 742,655.1 742.6,655.1 743.3,655.1 743.9,655.1 744.5,655.1 745.1,655.1 745.8,655.1 746.4,655.1 747,655.1 747.6,655.1 748.3,655.1 748.9,655.1 749.5,655.1 750.1,655.1 750.8,655.1 751.4,655.1 752,655.1 752.6,655.1 753.3,655.1 753.9,655.1 754.5,655.1 755.1,655.1 755.8,655.1 756.4,655.1 757,655.1 757.6,655.1 758.3,655.1 758.9,655.1 759.5,655.1 760.1,655.1 760.8,655.1 761.4,655.1 762,655.1 762.6,655.1 763.3,655.1 763.9,655.1 764.5,655.1 765.1,655.1 765.8,655.1 766.4,655.1 767,655.1 767.6,655.1 768.3,655.1 768.9,655.1 769.5,655.1 770.1,655.1 770.8,655.1 771.4,655.1 772,655.1 772.6,655.1 773.3,655.1 773.9,655.1 774.5,655.1 775.1,655.1 775.8,655.1 776.4,655.1 777,655.1 777.6,655.1 778.3,655.1 778.9,655.1 779.5,655.1 780.1,655.1 780.8,655.1 781.4,655.1 782,655.1 782.6,655.1 783.3,655.1 783.9,655.1 784.5,655.1 785.1,655.1 785.8,655.1 786.4,655.1 787,655.1 787.6,655.1 788.3,655.1 788.9,655.1 789.5,655.1 790.1,655.1 790.8,655.1 791.4,655.1 792,655.1 792.6,655.1 793.3,655.1 793.9,655.1 794.5,655.1 795.1,655.1 795.8,655.1 796.4,655.1 797,655.1 797.6,655.1 798.3,655.1 798.9,655.1 799.5,655.1 800.1,655.1 800.8,655.1 801.4,655.1 802,655.1 802.6,655.1 803.3,655.1 803.9,655.1 804.5,655.1 805.1,655.1 805.8,655.1 806.4,655.1 807,655.1 807.6,655.1 808.3,655.1 808.9,655.1 809.5,655.1 810.1,655.1 810.8,655.1 811.4,655.1 812,655.1 812.6,655.1 813.3,655.1 813.9,655.1 814.5,655.1 815.1,655.1 815.8,655.1 816.4,655.1 817,655.1 817.6,655.1 818.3,655.1 818.9,655.1 819.5,655.1 820.1,655.1 820.8,655.1 821.4,655.1 822,655.1 822.6,655.1 823.3,655.1 823.9,655.1 824.5,655.1 825.1,655.1 825.8,655.1 826.4,655.1 827,655.1 827.6,655.1 828.3,655.1 828.9,655.1 829.6,655.1 830.3,655.1 830.9,655.1 831.6,655.1 832.3,655.1 832.9,655.1 833.6,655.1 834.3,655.1 834.9,655.1 835.6,655.1 836.3,655.1 836.9,655.1 837.6,655.1 838.3,655.1 838.9,655.1 839.6,655.1 840.3,655.1 840.9,655.1 841.6,655.1 842.3,655.1 842.9,655.1 843.6,655.1 844.3,655.1 844.9,655.1 845.6,655.1 846.3,655.1 846.9,655.1 847.6,655.1 848.3,655.1 848.9,655.1 849.6,655.1 850.3,655.1 850.9,655.1 851.6,655.1 852.3,655.1 852.9,655.1 853.6,655.1 854.3,655.1 854.9,655.1 855.6,655.1 856.3,655.1 856.9,655.1 857.6,655.1 858.3,655.1 858.9,655.1 859.6,655.1 860.3,655.1 860.9,655.1 861.6,655.1 862.3,655.1 862.9,655.1 863.6,655.1 864.3,655.1 864.9,655.1 865.6,655.1 866.3,655.1 866.9,655.1 867.6,655.1 868.3,655.1 868.9,655.1 869.6,655.1 870.3,655.1 870.9,655.1 871.6,655.1 872.3,655.1 872.9,655.1 873.6,655.1 874.3,655.1 874.9,655.1 875.6,655.1 876.3,655.1 876.9,655.1 877.6,655.1 878.3,655.1 878.9,655.1 879.6,655.1 880.3,655.1 880.9,655.1 881.6,655.1 882.3,655.1 882.9,655.1 883.6,655.1 884.3,655.1 884.9,655.1 885.6,655.1 886.3,655.1 886.9,655.1 887.6,655.1 888.3,655.1 888.9,655.1 889.6,655.1 890.3,655.1 890.9,655.1 891.6,655.1 892.3,655.1 892.9,655.1 893.6,655.1 894.3,655.1 894.9,655.1 895.6,655.1 896.3,655.1 896.9,655.1 897.6,655.1 898.3,655.1 898.9,655.1 899.6,655.1 900.3,655.1 900.9,655.1 901.6,655.1 902.3,655.1 902.9,655.1 903.6,655.1 904.3,655.1 904.9,655.1 905.6,655.1 906.3,655.1 906.9,655.1 907.6,655.1 908.3,655.1 908.3,650.7 907.6,650.7 906.9,650.7 906.3,650.7 905.6,650.7 904.9,650.7 904.3,650.7 903.6,650.7 902.9,650.7 902.3,650.7 901.6,650.7 900.9,650.7 900.3,650.7 899.6,650.7 898.9,650.7 898.3,650.7 897.6,650.7 896.9,650.7 896.3,650.7 895.6,650.7 894.9,650.7 894.3,650.7 893.6,650.7 892.9,650.7 892.3,650.7 891.6,650.7 890.9,650.7 890.3,650.7 889.6,650.7 888.9,650.7 888.3,650.7 887.6,650.7 886.9,650.7 886.3,650.7 885.6,650.7 884.9,650.7 884.3,650.7 883.6,650.7 882.9,650.7 882.3,650.7 881.6,650.7 880.9,650.7 880.3,650.7 879.6,650.7 878.9,650.7 878.3,650.7 877.6,650.7 876.9,650.7 876.3,650.7 875.6,650.7 874.9,650.7 874.3,650.7 873.6,650.7 872.9,650.7 872.3,650.7 871.6,650.7 870.9,650.7 870.3,650.7 869.6,650.7 868.9,650.7 868.3,650.7 867.6,650.7 866.9,650.7 866.3,650.7 865.6,650.7 864.9,650.7 864.3,650.7 863.6,650.7 862.9,650.7 862.3,650.7 861.6,650.7 860.9,650.7 860.3,650.7 859.6,650.7 858.9,650.7 858.3,650.7 857.6,650.7 856.9,650.7 856.3,650.7 855.6,650.7 854.9,650.7 854.3,650.7 853.6,650.7 852.9,650.7 852.3,650.7 851.6,650.7 850.9,650.7 850.3,650.7 849.6,650.7 848.9,650.7 848.3,650.7 847.6,650.7 846.9,650.7 846.3,650.7 845.6,650.7 844.9,650.7 844.3,650.7 843.6,650.7 842.9,650.7 842.3,650.7 841.6,650.7 840.9,650.7 840.3,650.7 839.6,650.7 838.9,650.7 838.3,650.7 837.6,650.7 836.9,650.7 836.3,650.7 835.6,650.7 834.9,650.7 834.3,650.7 833.6,650.7 832.9,650.7 832.3,650.7 831.6,650.7 830.9,650.7 830.3,650.7 829.6,650.7 828.9,650.7 828.3,650.7 827.6,650.7 827,650.7 826.4,650.7 825.8,650.7 825.1,650.7 824.5,650.7 823.9,650.7 823.3,650.7 822.6,650.7 822,650.7 821.4,650.7 820.8,650.7 820.1,650.7 819.5,650.7 818.9,650.7 818.3,650.7 817.6,650.7 817,650.7 816.4,650.7 815.8,650.7 815.1,650.7 814.5,650.7 813.9,650.7 813.3,650.7 812.6,650.7 812,650.7 811.4,650.7 810.8,650.7 810.1,650.7 809.5,650.7 808.9,650.7 808.3,650.7 807.6,650.7 807,650.7 806.4,650.7 805.8,650.7 805.1,650.7 804.5,650.7 803.9,650.7 803.3,650.7 802.6,650.7 802,650.7 801.4,650.7 800.8,650.7 800.1,650.7 799.5,650.7 798.9,650.7 798.3,650.7 797.6,650.7 797,650.7 796.4,650.7 795.8,650.7 795.1,650.7 794.5,650.7 793.9,650.7 793.3,650.7 792.6,650.7 792,650.7 791.4,650.7 790.8,650.7 790.1,650.7 789.5,650.7 788.9,650.7 788.3,650.7 787.6,650.7 787,650.7 786.4,650.7 785.8,650.7 785.1,650.7 784.5,650.7 783.9,650.7 783.3,650.7 782.6,650.7 782,650.7 781.4,650.7 780.8,650.7 780.1,650.7 779.5,650.7 778.9,650.7 778.3,650.7 777.6,650.7 777,650.7 776.4,650.7 775.8,650.7 775.1,650.7 774.5,650.7 773.9,650.7 773.3,650.7 772.6,650.7 772,650.7 771.4,650.7 770.8,650.7 770.1,650.7 769.5,650.7 768.9,650.7 768.3,650.7 767.6,650.7 767,650.7 766.4,650.7 765.8,650.7 765.1,650.7 764.5,650.7 763.9,650.7 763.3,650.7 762.6,650.7 762,650.7 761.4,650.7 760.8,650.7 760.1,650.7 759.5,650.7 758.9,650.7 758.3,650.7 757.6,650.7 757,650.7 756.4,650.7 755.8,650.7 755.1,650.7 754.5,650.7 753.9,650.7 753.3,650.7 752.6,650.7 752,650.7 751.4,650.7 750.8,650.7 750.1,650.7 749.5,650.7 748.9,650.7 748.3,650.7 747.6,650.7 747,650.7 746.4,650.7 745.8,650.7 745.1,650.7 744.5,650.7 743.9,650.7 743.3,650.7 742.6,650.7 742,650.7 741.4,650.7 740.8,650.7 740.1,650.7 739.5,650.7 738.9,650.7 738.3,650.7 737.6,650.7 737,650.7 736.4,650.7 735.8,650.7 735.1,650.7 734.5,650.7 733.9,650.7 733.3,650.7 732.6,650.7 732,650.7 731.4,650.7 730.8,650.7 730.1,650.7 729.5,650.7 728.9,650.7 728.3,650.7 727.6,650.7 727,650.7 726.4,650.7 725.8,650.7 725.2,650.7 724.6,650.7 724,650.7 723.4,650.7 722.8,650.7 722.2,650.7 721.6,650.7 721,650.7 720.4,650.7 719.8,650.7 719.2,650.7 718.6,650.7 718,650.7 717.4,650.7 716.8,650.7 716.2,650.7 715.6,650.7 715,650.7 714.4,650.7 713.8,650.7 713.2,650.7 712.6,650.7 712,650.7 711.4,650.7 710.8,650.7 710.2,650.7 709.6,650.7 709,650.8 708.4,650.8 707.8,650.8 707.2,650.8 706.6,650.8 706,650.8 705.4,650.8 704.8,650.8 704.2,650.8 703.6,650.8 703,650.8 702.4,650.8 701.8,650.8 701.2,650.8 700.6,650.8 700,650.8 699.4,650.8 698.8,650.8 698.2,650.8 697.6,650.8 697,650.8 696.4,650.8 695.8,650.8 695.2,650.8 694.6,650.8 694,650.8 693.4,650.8 692.8,650.8 692.2,650.8 691.6,650.8 691,650.8 690.4,650.8 689.8,650.9 689.2,650.9 688.6,650.9 688,650.9 687.4,650.9 686.8,650.9 686.2,650.9 685.6,650.9 685,650.9 684.4,650.9 683.8,650.9 683.2,650.9 682.6,650.9 682,651 681.4,651 680.8,651 680.2,651 679.6,651 679,651 678.4,651 677.8,651 677.2,651 676.6,651 676,651 675.4,651.1 674.8,651.1 674.2,651.1 673.6,651.1 673,651.1 672.4,651.1 671.8,651.1 671.2,651.1 670.6,651.1 670,651.1 669.4,651.1 668.8,651.2 668.2,651.2 667.6,651.2 667,651.2 666.4,651.2 665.8,651.2 665.2,651.2 664.6,651.2 664,651.2 663.3,651.2 662.7,651.3 662.1,651.3 661.5,651.3 660.8,651.4 660.2,651.4 659.6,651.5 659,651.5 658.4,651.6 657.8,651.6 657.2,651.7 656.6,651.7 656,651.8 655.4,651.8 654.8,651.9 654.2,651.9 653.6,652 653,652 652.4,652.1 651.8,652.1 651.2,652.2 650.6,652.2 650,652.2 649.4,652.3 648.8,652.3 648.2,652.4 647.6,652.4 647,652.5 646.4,652.5 645.8,652.6 645.2,652.6 644.6,652.7 643.9,652.8 643.2,652.9 642.5,653 641.9,653.2 641.3,653.3 640.7,653.5 640.1,653.6 639.5,653.8 638.9,653.9 638.3,654 637.7,654.2 637.1,654.3 636.5,654.5 635.9,654.6 635.3,654.8 634.7,654.9 634.1,655.1 633.5,655.2 632.9,655.4 632.3,655.5 631.6,655.7 630.9,655.9 630.2,656.2 629.5,656.5 628.8,656.8 628.2,657.1 627.6,657.4 627,657.7 626.4,658 625.8,658.3 625.2,658.6 624.6,658.9 624,659.2 623.4,659.5 622.8,659.8 622.2,660.1 621.6,660.4 621,660.7 620.4,661.1 619.7,661.4 619,661.9 618.4,662.2 617.8,662.7 617.3,663.1 616.8,663.5 616.3,663.9 615.8,664.4 615.3,664.8 614.8,665.2 614.3,665.6 613.8,666 613.3,666.4 612.8,666.9 612.2,667.4 611.5,668 611.1,668.6 610.6,669.2 610.1,669.8 609.7,670.5 609.2,671.2 608.9,671.8 608.6,672.3 608.3,672.8 608,673.4 607.6,673.9 607.3,674.4 607,675 606.7,675.5 606.4,676 606.1,676.6 605.8,677.1 605.5,677.7 605.1,678.3 604.8,678.9 604.5,679.5 604.1,680.2 603.8,680.9 603.5,681.6 603.2,682.3 602.8,683.1 602.5,683.8 602.2,684.6 601.9,685.4 601.6,686.2 601.3,686.9 601,687.7 600.6,688.5 600.3,689.3 600,690 599.7,690.8 599.4,691.6 599.1,692.4 598.7,693.3 598.5,693.9 598.3,694.6 598.1,695.3 597.8,696.1 597.6,696.9 597.4,697.7 597.2,698.6 597,699.5 596.8,700.4 596.6,701.4 596.3,702.5 596.1,703.5 595.9,704.6 595.7,705.8 595.5,707 595.3,708.1 595.1,709.3 594.9,710.5 594.7,711.6 594.5,712.8 594.2,714 594,715.1 593.8,716.3 593.7,716.9 593.6,717.6 593.5,718.2 593.4,718.8 593.3,719.4 593.2,720.1 593.1,720.7 593,721.4 592.9,722 592.8,722.7 592.7,723.4 592.6,724.1 592.5,724.7 592.4,725.4 592.3,726.1 592.2,726.8 592.1,727.5 592,728.3 591.9,729 591.8,729.7 591.7,730.4 591.6,731.1 591.5,731.8 591.4,732.6 591.3,733.3 591.2,734 591.1,734.8 591,735.5 590.9,736.2 590.8,737 590.7,737.7 590.6,738.4 590.5,739.2 590.4,739.9 590.3,740.6 590.2,741.3 590.1,742 590,742.7 589.9,743.4 589.8,744.1 589.7,744.8 589.6,745.5 589.5,746.2 589.4,746.9 589.3,747.6 589.2,748.3 589.1,749 589,749.7 588.9,750.3 588.8,751 588.7,751.7 588.6,752.4 588.5,753.1 588.4,753.8 588.3,754.5 588.2,755.2 588.1,755.9 588,756.6 587.9,757.3 587.8,758 587.7,758.7 587.6,759.4 587.5,760.1 587.4,760.8 587.3,761.5 587.2,762.3 587.1,763 587,763.7 586.9,764.4 586.8,765.1 586.7,765.8 586.6,766.5 586.5,767.2 586.4,767.9 586.3,768.6 586.2,769.3 586.1,770 586,770.7 585.9,771.4 585.8,772.1 585.7,772.8 585.6,773.5 585.5,774.1 585.4,774.8 585.3,775.5 585.2,776.2 585.1,776.8 585,777.5 584.9,778.1 584.8,778.8 584.7,779.4 584.6,780 584.5,780.7 584.4,781.3 584.3,781.9 584.2,782.4 584.1,783 583.9,784.2 583.7,785.3 583.5,786.4 583.3,787.5 583.1,788.5 582.9,789.6 582.7,790.6 582.5,791.6 582.3,792.5 582.1,793.5 581.9,794.4 581.7,795.2 581.5,796.1 581.4,796.9 581.2,797.8 581,798.6 580.8,799.3 580.6,800.1 580.4,800.9 580.2,801.6 580,802.3 579.8,803 579.6,803.7 579.4,804.3 579.2,805 579,805.7 578.8,806.3 578.6,807 578.4,807.6 578.2,808.2 578,808.8 577.8,809.4 577.6,810 577.4,810.6 577.2,811.1 576.9,811.9 576.7,812.7 576.4,813.4 576.1,814.1 575.8,814.8 575.5,815.5 575.2,816.2 574.9,816.9 574.6,817.6 574.3,818.3 574,819 573.7,819.7 573.4,820.4 573.1,821.1 572.8,821.9 572.4,822.7 572.1,823.5 571.8,824.4 571.5,825.2 571.3,825.8 571.1,826.4 570.9,827.1 570.7,827.7 570.5,828.4 570.4,829 570.2,829.7 570,830.4 569.9,831 569.7,831.7 569.5,832.7 569.4,833.6 569.2,834.5 569.1,835.4 568.9,836.1 568.8,836.9 568.6,837.6 568.5,838.3 568.3,838.9"/>
<circle cx="908.3" cy="652.9" r="2.2" fill="#1f77b4"/>
<polygon fill="#8fbbd9" points="1024.1,834.5 1024.6,834.5 1025.1,834.5 1025.6,834.5 1026.1,834.5 1026.6,834.5 1027.1,834.5 1027.6,834.5 1028.1,834.5 1028.6,834.5 1029.1,834.5 1029.6,834.5 1030.1,834.5 1030.6,834.5 1031.1,834.5 1031.6,834.5 1032.1,834.5 1032.6,834.5 1033.1,834.5 1033.6,834.5 1034.1,834.5 1034.6,834.5 1035.1,834.5 1035.6,834.5 1036.1,834.5 1036.6,834.5 1037.1,834.5 1037.6,834.5 1038.1,834.5 1038.6,834.5 1039.1,834.5 1039.6,834.5 1040.1,834.5 1040.6,834.5 1041.1,834.5 1041.6,834.5 1042.1,834.5 1042.6,834.5 1043.1,834.5 1043.6,834.5 1044.1,834.5 1044.6,834.5 1045.1,834.5 1045.6,834.5 1046.1,834.5 1046.6,834.5 1047.1,834.5 1047.6,834.5 1048.1,834.5 1048.6,834.5 1049.1,834.5 1049.6,834.5 1050.1,834.5 1050.6,834.5 1051.1,834.5 1051.6,834.5 1052.1,834.5 1052.6,834.5 1053.1,834.5 1053.6,834.5 1054.1,834.5 1054.6,834.5 1055.1,834.5 1055.6,834.5 1056.1,834.5 1056.6,834.5 1057.1,834.5 1057.6,834.5 1058.1,834.5 1058.6,834.5 1059.1,834.5 1059.6,834.5 1060.1,834.5 1060.6,834.5 1061.1,834.5 1061.6,834.5 1062.1,834.5 1062.6,834.5 1063.1,834.5 1063.6,834.5 1064.1,834.5 1064.6,834.5 1065.1,834.5 1065.6,834.5 1066.1,834.5 1066.6,834.5 1067.1,834.5 1067.6,834.5 1068.1,834.5 1068.6,834.5 1069.1,834.5 1069.6,834.5 1070.1,834.5 1070.6,834.5 1071.1,834.5 1071.6,834.5 1072.1,834.5 1072.6,834.5 1073.1,834.5 1073.6,834.5 1074.1,834.5 1074.6,834.5 1075.1,834.5 1075.6,834.5 1076.1,834.5 1076.6,834.5 1077.1,834.5 1077.6,834.5 1078.1,834.5 1078.6,834.5 1079.1,834.5 1079.6,834.5 1080.1,834.5 1080.6,834.5 1081.1,834.5 1081.6,834.5 1082.1,834.5 1082.6,834.5 1083.1,834.5 1083.6,834.5 1084.1,834.5 1084.6,834.5 1085.1,834.5 1085.6,834.5 1086.1,834.5 1086.6,834.5 1087.1,834.5 1087.6,834.5 1088.1,834.5 1088.6,834.5 1089.1,834.5 1089.6,834.5 1090.1,834.5 1090.6,834.5 1091.1,834.5 1091.6,834.5 1092.1,834.5 1092.6,834.5 1093.1,834.5 1093.6,834.5 1094.1,834.5 1094.6,834.5 1095.1,834.5 1095.6,834.5 1096.1,834.5 1096.6,834.5 1097.1,834.5 1097.6,834.5 1098.1,834.5 1098.6,834.5 1099.1,834.5 1099.6,834.5 1100.1,834.5 1100.6,834.5 1101.1,834.5 1101.6,834.5 1102.1,834.5 1102.6,834.5 1103.1,834.5 1103.6,834.5 1104.1,834.5 1104.6,834.5 1105.1,834.5 1105.6,834.5 1106.1,834.5 1106.6,834.5 1107.1,834.5 1107.6,834.5 1108.1,834.5 1108.6,834.5 1109.1,834.5 1109.6,834.5 1110.1,834.5 1110.6,834.5 1111.1,834.5 1111.6,834.5 1112.1,834.5 1112.6,834.5 1113.1,834.5 1113.6,834.5 1114.1,834.5 1114.6,834.5 1115.1,834.5 1115.6,834.5 1116.1,834.5 1116.6,834.5 1117.1,834.5 1117.6,834.5 1118.1,834.5 1118.6,834.5 1119.1,834.5 1119.6,834.5 1120.1,834.5 1120.6,834.5 1121.1,834.5 1121.6,834.5 1122.1,834.5 1122.6,834.5 1123.1,834.5 1123.6,834.5 1124.1,834.5 1124.6,834.5 1125.1,834.5 1125.6,834.5 1126.1,834.5 1126.6,834.5 1127.1,834.5 1127.6,834.5 1128.1,834.5 1128.6,834.5 1129.1,834.5 1129.6,834.5 1130.1,834.5 1130.6,834.5 1131.1,834.5 1131.6,834.5 1132.1,834.5 1132.6,834.5 1133.1,834.5 1133.6,834.5 1134.1,834.5 1134.6,834.5 1135.1,834.5 1135.6,834.5 1136.1,834.5 1136.6,834.5 1137.1,834.5 1137.6,834.5 1138.1,834.5 1138.6,834.5 1139.1,834.5 1139.6,834.5 1140.1,834.5 1140.6,834.5 1141.1,834.5 1141.6,834.5 1142.1,834.5 1142.6,834.5 1143.1,834.5 1143.6,834.5 1144.1,834.5 1144.6,834.5 1145.1,834.5 1145.6,834.5 1146.1,834.5 1146.6,834.5 1147.1,834.5 1147.6,834.5 1148.1,834.5 1148.6,834.5 1149.1,834.5 1149.6,834.5 1150.1,834.5 1150.6,834.5 1151.1,834.5 1151.6,834.5 1152.1,834.5 1152.6,834.5 1153.1,834.5 1153.6,834.5 1154.1,834.5 1154.6,834.5 1155.1,834.5 1155.6,834.5 1156.1,834.5 1156.6,834.5 1157.1,834.5 1157.6,834.5 1158.1,834.5 1158.6,834.5 1159.1,834.5 1159.6,834.5 1160.1,834.5 1160.6,834.5 1161.1,834.5 1161.6,834.5 1162.1,834.5 1162.6,834.5 1163.1,834.5 1163.6,834.5 1164.1,834.5 1164.6,834.5 1165.1,834.5 1165.6,834.5 1166.1,834.5 1166.6,834.5 1167.1,834.5 1167.6,834.5 1168.1,834.5 1168.6,834.5 1169.1,834.5 1169.6,834.5 1170.1,834.5 1170.6,834.5 1171.1,834.5 1171.6,834.5 1172.1,834.5 1172.6,834.5 1173.1,834.5 1173.6,834.5 1174.1,834.5 1174.6,834.5 1175.1,834.5 1175.6,834.5 1176.1,834.5 1176.6,834.5 1177.1,834.5 1177.6,834.5 1178.1,834.5 1178.6,834.5 1179.1,834.5 1179.6,834.5 1180.1,834.5 1180.6,834.5 1181.1,834.5 1181.6,834.5 1182.1,834.5 1182.6,834.5 1183.1,834.5 1183.6,834.5 1184.1,834.5 1184.6,834.5 1185.1,834.5 1185.6,834.5 1186.1,834.5 1186.6,834.5 1187.1,834.5 1187.6,834.5 1188.1,834.5 1188.6,834.5 1189.1,834.5 1189.6,834.5 1190.1,834.5 1190.6,834.5 1191.1,834.5 1191.6,834.5 1192.1,834.5 1192.6,834.5 1193.1,834.5 1193.6,834.5 1194.1,834.5 1194.6,834.5 1195.1,834.5 1195.6,834.5 1196.1,834.5 1196.6,834.5 1197.1,834.5 1197.6,834.5 1198.1,834.5 1198.6,834.5 1199.1,834.5 1199.6,834.5 1200.1,834.5 1200.6,834.5 1201.1,834.5 1201.6,834.5 1202.1,834.5 1202.6,834.5 1203.1,834.5 1203.6,834.5 1204.1,834.5 1204.6,834.5 1205.1,834.5 1205.6,834.5 1206.1,834.5 1206.6,834.5 1207.1,834.5 1207.6,834.5 1208.1,834.5 1208.6,834.5 1209.1,834.5 1209.6,834.5 1210.1,834.5 1210.6,834.5 1211.1,834.5 1211.6,834.5 1212.1,834.5 1212.6,834.5 1213.1,834.5 1213.6,834.5 1214.1,834.5 1214.6,834.5 1215.1,834.5 1215.6,834.5 1216.1,834.5 1216.6,834.5 1217.1,834.5 1217.6,834.5 1218.1,834.5 1218.6,834.5 1219.1,834.5 1219.6,834.5 1220.1,834.5 1220.6,834.5 1221.1,834.5 1221.6,834.5 1222.1,834.5 1222.6,834.5 1223.1,834.5 1223.6,834.5 1224.1,834.5 1224.6,834.5 1225.1,834.5 1225.6,834.5 1226.1,834.5 1226.6,834.5 1227.1,834.5 1227.6,834.5 1228.1,834.5 1228.6,834.5 1229.1,834.5 1229.6,834.5 1230.1,834.5 1230.6,834.5 1231.1,834.5 1231.6,834.5 1232.1,834.5 1232.6,834.5 1233.1,834.5 1233.6,834.5 1234.1,834.5 1234.6,834.5 1235.1,834.5 1235.6,834.5 1236.1,834.5 1236.6,834.5 1237.1,834.5 1237.6,834.5 1238.1,834.5 1238.6,834.5 1239.1,834.5 1239.6,834.5 1240.1,834.5 1240.6,834.5 1241.1,834.5 1241.6,834.5 1242.1,834.5 1242.6,834.5 1243.1,834.5 1243.6,834.5 1244.1,834.5 1244.6,834.5 1245.1,834.5 1245.6,834.5 1246.1,834.5 1246.6,834.5 1247.1,834.5 1247.6,834.5 1248.1,834.5 1248.6,834.5 1249.1,834.5 1249.6,834.5 1250.1,834.5 1250.6,834.5 1251.1,834.5 1251.6,834.5 1252.1,834.5 1252.6,834.5 1253.1,834.5 1253.6,834.5 1254.1,834.5 1254.6,834.5 1255.1,834.5 1255.6,834.5 1256.1,834.5 1256.6,834.5 1257.1,834.5 1257.6,834.5 1258.1,834.5 1258.6,834.5 1259.1,834.5 1259.6,834.5 1260.1,834.5 1260.6,834.5 1261.1,834.5 1261.6,834.5 1262.1,834.5 1262.6,834.5 1263.1,834.5 1263.6,834.5 1264.1,834.5 1264.6,834.5 1265.1,834.5 1265.6,834.5 1266.1,834.5 1266.6,834.5 1267.1,834.5 1267.6,834.5 1268.1,834.5 1268.6,834.5 1269.1,834.5 1269.6,834.5 1270.1,834.5 1270.6,834.5 1271.1,834.5 1271.6,834.5 1272.1,834.5 1272.6,834.5 1273.1,834.5 1273.6,834.5 1274.1,834.5 1274.6,834.5 1275.1,834.5 1275.6,834.5 1276.1,834.5 1276.6,834.5 1277.1,834.5 1277.6,834.5 1278.1,834.5 1278.6,834.5 1279.1,834.5 1279.6,834.5 1280.1,834.5 1280.6,834.5 1281.1,834.5 1281.6,834.5 1282.1,834.5 1282.6,834.5 1283.1,834.5 1283.6,834.5 1284.1,834.5 1284.6,834.5 1285.1,834.5 1285.6,834.5 1286.1,834.5 1286.6,834.5 1287.1,834.5 1287.6,834.5 1288.1,834.5 1288.6,834.5 1289.1,834.5 1289.6,834.5 1290.1,834.5 1290.6,834.5 1291.1,834.5 1291.6,834.5 1292.1,834.5 1292.6,834.5 1293.1,834.5 1293.6,834.5 1294.1,834.5 1294.6,834.5 1295.1,834.5 1295.6,834.5 1296.1,834.5 1296.6,834.5 1297.1,834.5 1297.6,834.5 1298.1,834.5 1298.6,834.5 1299.1,834.5 1299.6,834.5 1300.1,834.5 1300.6,834.5 1301.1,834.5 1301.6,834.5 1302.1,834.5 1302.6,834.5 1303.1,834.5 1303.6,834.5 1304.1,834.5 1304.6,834.5 1305.1,834.5 1305.6,834.5 1306.1,834.5 1306.6,834.5 1307.1,834.5 1307.6,834.5 1308.1,834.5 1308.6,834.5 1309.1,834.5 1309.6,834.5 1310.1,834.5 1310.6,834.5 1311.1,834.5 1311.6,834.5 1312.1,834.5 1312.6,834.5 1313.1,834.5 1313.6,834.5 1314.1,834.5 1314.6,834.5 1315.1,834.5 1315.6,834.5 1316.1,834.5 1316.6,834.5 1317.1,834.5 1317.6,834.5 1318.1,834.5 1318.6,834.5 1319.1,834.5 1319.6,834.5 1320.1,834.5 1320.6,834.5 1321.1,834.5 1321.6,834.5 1322.1,834.5 1322.6,834.5 1323.1,834.5 1323.6,834.5 1324.1,834.5 1324.6,834.5 1325.1,834.5 1325.6,834.5 1326.1,834.5 1326.6,834.5 1327.1,834.5 1327.6,834.5 1328.1,834.5 1328.6,834.5 1329.1,834.5 1329.6,834.5 1330.1,834.5 1330.6,834.5 1331.1,834.5 1331.6,834.5 1332.1,834.5 1332.6,834.5 1333.1,834.5 1333.6,834.5 1334.1,834.5 1334.6,834.5 1335.1,834.5 1335.6,834.5 1336.1,834.5 1336.6,834.5 1337.1,834.5 1337.6,834.5 1338.1,834.5 1338.6,834.5 1339.1,834.5 1339.6,834.5 1340.1,834.5 1340.6,834.5 1341.1,834.5 1341.6,834.5 1342.1,834.5 1342.6,834.5 1343.1,834.5 1343.6,834.5 1344.1,834.5 1344.6,834.5 1345.1,834.5 1345.6,834.5 1346.1,834.5 1346.6,834.5 1347.1,834.5 1347.6,834.5 1348.1,834.5 1348.6,834.5 1349.1,834.5 1349.6,834.5 1350.1,834.5 1350.6,834.5 1351.1,834.5 1351.6,834.5 1352.1,834.5 1352.6,834.5 1353.1,834.5 1353.6,834.5 1354.1,834.5 1354.6,834.5 1355.1,834.5 1355.6,834.5 1356.1,834.5 1356.6,834.5 1357.1,834.5 1357.6,834.5 1358.1,834.5 1358.6,834.5 1359.1,834.5 1359.6,834.5 1360.1,834.5 1360.6,834.5 1361.1,834.5 1361.6,834.5 1362.1,834.5 1362.1,843.9 1361.6,843.9 1361.1,843.9 1360.6,843.9 1360.1,843.9 1359.6,843.9 1359.1,843.9 1358.6,843.9 1358.1,843.9 1357.6,843.9 1357.1,843.9 1356.6,843.9 1356.1,843.9 1355.6,843.9 1355.1,843.9 1354.6,843.9 1354.1,843.9 1353.6,843.9 1353.1,843.9 1352.6,843.9 1352.1,843.9 1351.6,843.9 1351.1,843.9 1350.6,843.9 1350.1,843.9 1349.6,843.9 1349.1,843.9 1348.6,843.9 1348.1,843.9 1347.6,843.9 1347.1,843.9 1346.6,843.9 1346.1,843.9 1345.6,843.9 1345.1,843.9 1344.6,843.9 1344.1,843.9 1343.6,843.9 1343.1,843.9 1342.6,843.9 1342.1,843.9 1341.6,843.9 1341.1,843.9 1340.6,843.9 1340.1,843.9 1339.6,843.9 1339.1,843.9 1338.6,843.9 1338.1,843.9 1337.6,843.9 1337.1,843.9 1336.6,843.9 1336.1,843.9 1335.6,843.9 1335.1,843.9 1334.6,843.9 1334.1,843.9 1333.6,843.9 1333.1,843.9 1332.6,843.9 1332.1,843.9 1331.6,843.9 1331.1,843.9 1330.6,843.9 1330.1,843.9 1329.6,843.9 1329.1,843.9 1328.6,843.9 1328.1,843.9 1327.6,843.9 1327.1,843.9 1326.6,843.9 1326.1,843.9 1325.6,843.9 1325.1,843.9 1324.6,843.9 1324.1,843.9 1323.6,843.9 1323.1,843.9 1322.6,843.9 1322.1,843.9 1321.6,843.9 1321.1,843.9 1320.6,843.9 1320.1,843.9 1319.6,843.9 1319.1,843.9 1318.6,843.9 1318.1,843.9 1317.6,843.9 1317.1,843.9 1316.6,843.9 1316.1,843.9 1315.6,843.9 1315.1,843.9 1314.6,843.9 1314.1,843.9 1313.6,843.9 1313.1,843.9 1312.6,843.9 1312.1,843.9 1311.6,843.9 1311.1,843.9 1310.6,843.9 1310.1,843.9 1309.6,843.9 1309.1,843.9 1308.6,843.9 1308.1,843.9 1307.6,843.9 1307.1,843.9 1306.6,843.9 1306.1,843.9 1305.6,843.9 1305.1,843.9 1304.6,843.9 1304.1,843.9 1303.6,843.9 1303.1,843.9 1302.6,843.9 1302.1,843.9 1301.6,843.9 1301.1,843.9 1300.6,843.9 1300.1,843.9 1299.6,843.9 1299.1,843.9 1298.6,843.9 1298.1,843.9 1297.6,843.9 1297.1,843.9 1296.6,843.9 1296.1,843.9 1295.6,843.9 1295.1,843.9 1294.6,843.9 1294.1,843.9 1293.6,843.9 1293.1,843.9 1292.6,843.9 1292.1,843.9 1291.6,843.9 1291.1,843.9 1290.6,843.9 1290.1,843.9 1289.6,843.9 1289.1,843.9 1288.6,843.9 1288.1,843.9 1287.6,843.9 1287.1,843.9 1286.6,843.9 1286.1,843.9 1285.6,843.9 1285.1,843.9 1284.6,843.9 1284.1,843.9 1283.6,843.9 1283.1,843.9 1282.6,843.9 1282.1,843.9 1281.6,843.9 1281.1,843.9 1280.6,843.9 1280.1,843.9 1279.6,843.9 1279.1,843.9 1278.6,843.9 1278.1,843.9 1277.6,843.9 1277.1,843.9 1276.6,843.9 1276.1,843.9 1275.6,843.9 1275.1,843.9 1274.6,843.9 1274.1,843.9 1273.6,843.9 1273.1,843.9 1272.6,843.9 1272.1,843.9 1271.6,843.9 1271.1,843.9 1270.6,843.9 1270.1,843.9 1269.6,843.9 1269.1,843.9 1268.6,843.9 1268.1,843.9 1267.6,843.9 1267.1,843.9 1266.6,843.9 1266.1,843.9 1265.6,843.9 1265.1,843.9 1264.6,843.9 1264.1,843.9 1263.6,843.9 1263.1,843.9 1262.6,843.9 1262.1,843.9 1261.6,843.9 1261.1,843.9 1260.6,843.9 1260.1,843.9 1259.6,843.9 1259.1,843.9 1258.6,843.9 1258.1,843.9 1257.6,843.9 1257.1,843.9 1256.6,843.9 1256.1,843.9 1255.6,843.9 1255.1,843.9 1254.6,843.9 1254.1,843.9 1253.6,843.9 1253.1,843.9 1252.6,843.9 1252.1,843.9 1251.6,843.9 1251.1,843.9 1250.6,843.9 1250.1,843.9 1249.6,843.9 1249.1,843.9 1248.6,843.9 1248.1,843.9 1247.6,843.9 1247.1,843.9 1246.6,843.9 1246.1,843.9 1245.6,843.9 1245.1,843.9 1244.6,843.9 1244.1,843.9 1243.6,843.9 1243.1,843.9 1242.6,843.9 1242.1,843.9 1241.6,843.9 1241.1,843.9 1240.6,843.9 1240.1,843.9 1239.6,843.9 1239.1,843.9 1238.6,843.9 1238.1,843.9 1237.6,843.9 1237.1,843.9 1236.6,843.9 1236.1,843.9 1235.6,843.9 1235.1,843.9 1234.6,843.9 1234.1,843.9 1233.6,843.9 1233.1,843.9 1232.6,843.9 1232.1,843.9 1231.6,843.9 1231.1,843.9 1230.6,843.9 1230.1,843.9 1229.6,843.9 1229.1,843.9 1228.6,843.9 1228.1,843.9 1227.6,843.9 1227.1,843.9 1226.6,843.9 1226.1,843.9 1225.6,843.9 1225.1,843.9 1224.6,843.9 1224.1,843.9 1223.6,843.9 1223.1,843.9 1222.6,843.9 1222.1,843.9 1221.6,843.9 1221.1,843.9 1220.6,843.9 1220.1,843.9 1219.6,843.9 1219.1,843.9 1218.6,843.9 1218.1,843.9 1217.6,843.9 1217.1,843.9 1216.6,843.9 1216.1,843.9 1215.6,843.9 1215.1,843.9 1214.6,843.9 1214.1,843.9 1213.6,843.9 1213.1,843.9 1212.6,843.9 1212.1,843.9 1211.6,843.9 1211.1,843.9 1210.6,843.9 1210.1,843.9 1209.6,843.9 1209.1,843.9 1208.6,843.9 1208.1,843.9 1207.6,843.9 1207.1,843.9 1206.6,843.9 1206.1,843.9 1205.6,843.9 1205.1,843.9 1204.6,843.9 1204.1,843.9 1203.6,843.9 1203.1,843.9 1202.6,843.9 1202.1,843.9 1201.6,843.9 1201.1,843.9 1200.6,843.9 1200.1,843.9 1199.6,843.9 1199.1,843.9 1198.6,843.9 1198.1,843.9 1197.6,843.9 1197.1,843.9 1196.6,843.9 1196.1,843.9 1195.6,843.9 1195.1,843.9 1194.6,843.9 1194.1,843.9 1193.6,843.9 1193.1,843.9 1192.6,843.9 1192.1,843.9 1191.6,843.9 1191.1,843.9 1190.6,843.9 1190.1,843.9 1189.6,843.9 1189.1,843.9 1188.6,843.9 1188.1,843.9 1187.6,843.9 1187.1,843.9 1186.6,843.9 1186.1,843.9 1185.6,843.9 1185.1,843.9 1184.6,843.9 1184.1,843.9 1183.6,843.9 1183.1,843.9 1182.6,843.9 1182.1,843.9 1181.6,843.9 1181.1,843.9 1180.6,843.9 1180.1,843.9 1179.6,843.9 1179.1,843.9 1178.6,843.9 1178.1,843.9 1177.6,843.9 1177.1,843.9 1176.6,843.9 1176.1,843.9 1175.6,843.9 1175.1,843.9 1174.6,843.9 1174.1,843.9 1173.6,843.9 1173.1,843.9 1172.6,843.9 1172.1,843.9 1171.6,843.9 1171.1,843.9 1170.6,843.9 1170.1,843.9 1169.6,843.9 1169.1,843.9 1168.6,843.9 1168.1,843.9 1167.6,843.9 1167.1,843.9 1166.6,843.9 1166.1,843.9 1165.6,843.9 1165.1,843.9 1164.6,843.9 1164.1,843.9 1163.6,843.9 1163.1,843.9 1162.6,843.9 1162.1,843.9 1161.6,843.9 1161.1,843.9 1160.6,843.9 1160.1,843.9 1159.6,843.9 1159.1,843.9 1158.6,843.9 1158.1,843.9 1157.6,843.9 1157.1,843.9 1156.6,843.9 1156.1,843.9 1155.6,843.9 1155.1,843.9 1154.6,843.9 1154.1,843.9 1153.6,843.9 1153.1,843.9 1152.6,843.9 1152.1,843.9 1151.6,843.9 1151.1,843.9 1150.6,843.9 1150.1,843.9 1149.6,843.9 1149.1,843.9 1148.6,843.9 1148.1,843.9 1147.6,843.9 1147.1,843.9 1146.6,843.9 1146.1,843.9 1145.6,843.9 1145.1,843.9 1144.6,843.9 1144.1,843.9 1143.6,843.9 1143.1,843.9 1142.6,843.9 1142.1,843.9 1141.6,843.9 1141.1,843.9 1140.6,843.9 1140.1,843.9 1139.6,843.9 1139.1,843.9 1138.6,843.9 1138.1,843.9 1137.6,843.9 1137.1,843.9 1136.6,843.9 1136.1,843.9 1135.6,843.9 1135.1,843.9 1134.6,843.9 1134.1,843.9 1133.6,843.9 1133.1,843.9 1132.6,843.9 1132.1,843.9 1131.6,843.9 1131.1,843.9 1130.6,843.9 1130.1,843.9 1129.6,843.9 1129.1,843.9 1128.6,843.9 1128.1,843.9 1127.6,843.9 1127.1,843.9 1126.6,843.9 1126.1,843.9 1125.6,843.9 1125.1,843.9 1124.6,843.9 1124.1,843.9 1123.6,843.9 1123.1,843.9 1122.6,843.9 1122.1,843.9 1121.6,843.9 1121.1,843.9 1120.6,843.9 1120.1,843.9 1119.6,843.9 1119.1,843.9 1118.6,843.9 1118.1,843.9 1117.6,843.9 1117.1,843.9 1116.6,843.9 1116.1,843.9 1115.6,843.9 1115.1,843.9 1114.6,843.9 1114.1,843.9 1113.6,843.9 1113.1,843.9 1112.6,843.9 1112.1,843.9 1111.6,843.9 1111.1,843.9 1110.6,843.9 1110.1,843.9 1109.6,843.9 1109.1,843.9 1108.6,843.9 1108.1,843.9 1107.6,843.9 1107.1,843.9 1106.6,843.9 1106.1,843.9 1105.6,843.9 1105.1,843.9 1104.6,843.9 1104.1,843.9 1103.6,843.9 1103.1,843.9 1102.6,843.9 1102.1,843.9 1101.6,843.9 1101.1,843.9 1100.6,843.9 1100.1,843.9 1099.6,843.9 1099.1,843.9 1098.6,843.9 1098.1,843.9 1097.6,843.9 1097.1,843.9 1096.6,843.9 1096.1,843.9 1095.6,843.9 1095.1,843.9 1094.6,843.9 1094.1,843.9 1093.6,843.9 1093.1,843.9 1092.6,843.9 1092.1,843.9 1091.6,843.9 1091.1,843.9 1090.6,843.9 1090.1,843.9 1089.6,843.9 1089.1,843.9 1088.6,843.9 1088.1,843.9 1087.6,843.9 1087.1,843.9 1086.6,843.9 1086.1,843.9 1085.6,843.9 1085.1,843.9 1084.6,843.9 1084.1,843.9 1083.6,843.9 1083.1,843.9 1082.6,843.9 1082.1,843.9 1081.6,843.9 1081.1,843.9 1080.6,843.9 1080.1,843.9 1079.6,843.9 1079.1,843.9 1078.6,843.9 1078.1,843.9 1077.6,843.9 1077.1,843.9 1076.6,843.9 1076.1,843.9 1075.6,843.9 1075.1,843.9 1074.6,843.9 1074.1,843.9 1073.6,843.9 1073.1,843.9 1072.6,843.9 1072.1,843.9 1071.6,843.9 1071.1,843.9 1070.6,843.9 1070.1,843.9 1069.6,843.9 1069.1,843.9 1068.6,843.9 1068.1,843.9 1067.6,843.9 1067.1,843.9 1066.6,843.9 1066.1,843.9 1065.6,843.9 1065.1,843.9 1064.6,843.9 1064.1,843.9 1063.6,843.9 1063.1,843.9 1062.6,843.9 1062.1,843.9 1061.6,843.9 1061.1,843.9 1060.6,843.9 1060.1,843.9 1059.6,843.9 1059.1,843.9 1058.6,843.9 1058.1,843.9 1057.6,843.9 1057.1,843.9 1056.6,843.9 1056.1,843.9 1055.6,843.9 1055.1,843.9 1054.6,843.9 1054.1,843.9 1053.6,843.9 1053.1,843.9 1052.6,843.9 1052.1,843.9 1051.6,843.9 1051.1,843.9 1050.6,843.9 1050.1,843.9 1049.6,843.9 1049.1,843.9 1048.6,843.9 1048.1,843.9 1047.6,843.9 1047.1,843.9 1046.6,843.9 1046.1,843.9 1045.6,843.9 1045.1,843.9 1044.6,843.9 1044.1,843.9 1043.6,843.9 1043.1,843.9 1042.6,843.9 1042.1,843.9 1041.6,843.9 1041.1,843.9 1040.6,843.9 1040.1,843.9 1039.6,843.9 1039.1,843.9 1038.6,843.9 1038.1,843.9 1037.6,843.9 1037.1,843.9 1036.6,843.9 1036.1,843.9 1035.6,843.9 1035.1,843.9 1034.6,843.9 1034.1,843.9 1033.6,843.9 1033.1,843.9 1032.6,843.9 1032.1,843.9 1031.6,843.9 1031.1,843.9 1030.6,843.9 1030.1,843.9 1029.6,843.9 1029.1,843.9 1028.6,843.9 1028.1,843.9 1027.6,843.9 1027.1,843.9 1026.6,843.9 1026.1,843.9 1025.6,843.9 1025.1,843.9 1024.6,843.9 1024.1,843.9"/>
<path d="M1024.1,837 1024.1,843 1024.1,838.8 1024.1,840 1024.6,840.2 1024.6,838.9 1025.1,838.7 1025.1,839.9 1025.6,839.9 1025.6,839 1026.1,838.8 1026.1,840.2 1026.6,839.9 1026.6,838.9 1027.1,838.8 1027.1,840 1027.6,839.9 1027.6,839 1028.1,839 1028.1,839.9 1028.6,839.9 1028.6,839 1029.1,839 1029.1,839.9 1029.6,839.9 1029.6,838.9 1030.1,838.8 1030.1,839.9 1030.6,839.8 1030.6,838.8 1031.1,838.8 1031.1,839.9 1031.6,839.8 1031.6,838.9 1032.1,839 1032.1,840.1 1032.6,840 1032.6,838.8 1033.1,838.8 1033.1,840 1033.6,839.8 1033.6,838.9 1034.1,838.9 1034.1,839.9 1034.6,839.8 1034.6,838.9 1035.1,838.8 1035.1,840.4 1035.6,839.9 1035.6,838.9 1036.1,839 1036.1,839.9 1036.6,839.9 1036.6,838.9 1037.1,839 1037.1,840.1 1037.6,839.9 1037.6,838.9 1038.1,838.9 1038.1,839.9 1038.6,839.9 1038.6,838.7 1039.1,838.9 1039.1,839.9 1039.6,839.9 1039.6,838.9 1040.1,839 1040.1,839.9 1040.6,839.8 1040.6,839 1041.1,838.9 1041.1,839.9 1041.6,839.9 1041.6,838.8 1042.1,838.9 1042.1,839.8 1042.6,839.9 1042.6,838.7 1043.1,838.8 1043.1,840 1043.6,839.8 1043.6,838.9 1044.1,838.9 1044.1,839.8 1044.6,839.9 1044.6,838.9 1045.1,838.9 1045.1,839.9 1045.6,839.8 1045.6,838.7 1046.1,838.7 1046.1,839.9 1046.6,840 1046.6,838.9 1047.1,838.9 1047.1,840 1047.6,839.9 1047.6,838.9 1048.1,838.9 1048.1,839.8 1048.6,839.9 1048.6,838.9 1049.1,838.8 1049.1,840.1 1049.6,839.9 1049.6,838.9 1050.1,838.9 1050.1,839.9 1050.6,840.1 1050.6,838.9 1051.1,838.9 1051.1,839.8 1051.6,839.9 1051.6,838.8 1052.1,838.8 1052.1,839.8 1052.6,839.8 1052.6,839 1053.1,839 1053.1,839.8 1053.6,840.2 1053.6,838.9 1054.1,838.9 1054.1,839.9 1054.6,839.9 1054.6,838.9 1055.1,839 1055.1,840 1055.6,839.7 1055.6,838.9 1056.1,839 1056.1,839.7 1056.6,839.8 1056.6,838.7 1057.1,839 1057.1,840.1 1057.6,839.8 1057.6,838.9 1058.1,838.9 1058.1,839.9 1058.6,840.1 1058.6,838.5 1059.1,839 1059.1,839.8 1059.6,840 1059.6,838.8 1060.1,838.7 1060.1,839.9 1060.6,839.9 1060.6,838.9 1061.1,839 1061.1,839.9 1061.6,839.9 1061.6,839 1062.1,838.9 1062.1,840.1 1062.6,840.1 1062.6,838.7 1063.1,838.9 1063.1,840 1063.6,839.7 1063.6,838.7 1064.1,838.8 1064.1,839.9 1064.6,839.8 1064.6,838.9 1065.1,838.9 1065.1,839.9 1065.6,839.9 1065.6,838.8 1066.1,838.9 1066.1,840 1066.6,839.9 1066.6,838.9 1067.1,838.8 1067.1,839.8 1067.6,839.9 1067.6,838.8 1068.1,838.9 1068.1,839.8 1068.6,840 1068.6,838.9 1069.1,838.9 1069.1,840 1069.6,839.9 1069.6,838.6 1070.1,838.8 1070.1,839.9 1070.6,840 1070.6,838.8 1071.1,838.8 1071.1,839.9 1071.6,839.9 1071.6,838.9 1072.1,838.8 1072.1,839.9 1072.6,839.8 1072.6,838.9 1073.1,838.4 1073.1,840 1073.6,839.8 1073.6,839 1074.1,838.8 1074.1,839.9 1074.6,839.9 1074.6,838.8 1075.1,839 1075.1,839.9 1075.6,839.9 1075.6,839 1076.1,838.9 1076.1,840.1 1076.6,839.9 1076.6,838.7 1077.1,838.9 1077.1,839.8 1077.6,840 1077.6,838.9 1078.1,838.9 1078.1,839.9 1078.6,840.1 1078.6,838.7 1079.1,838.9 1079.1,839.9 1079.6,839.8 1079.6,839 1080.1,838.6 1080.1,840 1080.6,839.8 1080.6,839 1081.1,838.8 1081.1,840.1 1081.6,839.8 1081.6,838.9 1082.1,838.8 1082.1,839.9 1082.6,839.8 1082.6,838.9 1083.1,838.9 1083.1,840 1083.6,839.7 1083.6,838.9 1084.1,838.8 1084.1,839.9 1084.6,839.9 1084.6,839 1085.1,838.9 1085.1,840 1085.6,839.9 1085.6,839 1086.1,838.9 1086.1,839.9 1086.6,840.1 1086.6,838.9 1087.1,838.9 1087.1,839.9 1087.6,839.9 1087.6,838.9 1088.1,838.8 1088.1,839.9 1088.6,839.8 1088.6,838.9 1089.1,838.7 1089.1,839.9 1089.6,840.1 1089.6,839 1090.1,838.9 1090.1,839.9 1090.6,839.9 1090.6,838.9 1091.1,838.9 1091.1,840 1091.6,839.8 1091.6,839 1092.1,838.8 1092.1,840 1092.6,840 1092.6,838.8 1093.1,838.8 1093.1,839.9 1093.6,839.9 1093.6,838.8 1094.1,838.9 1094.1,840 1094.6,839.8 1094.6,838.9 1095.1,838.9 1095.1,839.8 1095.6,840.2 1095.6,838.6 1096.1,838.9 1096.1,839.9 1096.6,840 1096.6,838.8 1097.1,839 1097.1,839.9 1097.6,839.9 1097.6,838.8 1098.1,838.9 1098.1,839.8 1098.6,840 1098.6,838.9 1099.1,838.9 1099.1,839.8 1099.6,840.1 1099.6,838.8 1100.1,838.9 1100.1,839.9 1100.6,839.9 1100.6,838.9 1101.1,838.9 1101.1,839.8 1101.6,839.8 1101.6,838.9 1102.1,838.9 1102.1,839.8 1102.6,839.8 1102.6,838.9 1103.1,838.9 1103.1,839.8 1103.6,839.9 1103.6,838.9 1104.1,839 1104.1,840.1 1104.6,840.3 1104.6,838.4 1105.1,838.9 1105.1,839.9 1105.6,839.9 1105.6,838.8 1106.1,838.9 1106.1,840 1106.6,839.9 1106.6,838.8 1107.1,838.7 1107.1,839.8 1107.6,839.9 1107.6,838.9 1108.1,838.9 1108.1,839.9 1108.6,840.3 1108.6,838.9 1109.1,838.8 1109.1,839.9 1109.6,840.1 1109.6,838.9 1110.1,839.1 1110.1,840 1110.6,839.9 1110.6,838.9 1111.1,838.9 1111.1,839.9 1111.6,839.9 1111.6,839 1112.1,839 1112.1,840.1 1112.6,839.8 1112.6,838.7 1113.1,839 1113.1,839.8 1113.6,839.9 1113.6,838.7 1114.1,838.9 1114.1,839.9 1114.6,839.8 1114.6,838.9 1115.1,839 1115.1,839.9 1115.6,839.8 1115.6,839 1116.1,838.9 1116.1,840 1116.6,839.8 1116.6,838.8 1117.1,838.9 1117.1,840 1117.6,840.1 1117.6,838.9 1118.1,838.9 1118.1,839.9 1118.6,839.9 1118.6,838.9 1119.1,839 1119.1,839.8 1119.6,839.8 1119.6,838.9 1120.1,838.9 1120.1,840 1120.6,839.9 1120.6,838.9 1121.1,838.9 1121.1,840 1121.6,839.9 1121.6,838.8 1122.1,838.8 1122.1,839.8 1122.6,839.8 1122.6,838.9 1123.1,838.9 1123.1,839.8 1123.6,839.9 1123.6,839 1124.1,838.9 1124.1,839.8 1124.6,839.8 1124.6,838.8 1125.1,838.9 1125.1,839.9 1125.6,839.8 1125.6,838.9 1126.1,839 1126.1,840.1 1126.6,839.8 1126.6,838.8 1127.1,839 1127.1,839.8 1127.6,839.9 1127.6,838.9 1128.1,838.7 1128.1,840 1128.6,839.8 1128.6,838.9 1129.1,838.9 1129.1,839.9 1129.6,839.9 1129.6,838.8 1130.1,838.9 1130.1,840.1 1130.6,839.9 1130.6,839 1131.1,838.8 1131.1,840 1131.6,839.8 1131.6,838.8 1132.1,839 1132.1,839.9 1132.6,840.1 1132.6,838.9 1133.1,838.9 1133.1,839.9 1133.6,840.1 1133.6,839 1134.1,838.9 1134.1,840 1134.6,839.9 1134.6,838.9 1135.1,838.9 1135.1,839.8 1135.6,840 1135.6,838.8 1136.1,838.9 1136.1,839.9 1136.6,839.8 1136.6,838.8 1137.1,838.9 1137.1,839.8 1137.6,840.2 1137.6,838.8 1138.1,838.9 1138.1,839.8 1138.6,839.8 1138.6,838.8 1139.1,838.8 1139.1,840.1 1139.6,839.9 1139.6,838.8 1140.1,838.9 1140.1,839.8 1140.6,839.9 1140.6,839 1141.1,839 1141.1,839.8 1141.6,839.8 1141.6,839 1142.1,838.8 1142.1,839.8 1142.6,839.9 1142.6,838.9 1143.1,838.9 1143.1,840 1143.6,840.3 1143.6,838.6 1144.1,838.9 1144.1,840.1 1144.6,839.8 1144.6,839 1145.1,838.8 1145.1,839.9 1145.6,839.9 1145.6,838.9 1146.1,838.7 1146.1,839.8 1146.6,839.9 1146.6,838.7 1147.1,838.8 1147.1,839.9 1147.6,839.8 1147.6,839 1148.1,838.8 1148.1,839.9 1148.6,840 1148.6,838.8 1149.1,838.9 1149.1,839.9 1149.6,840.1 1149.6,838.9 1150.1,838.8 1150.1,840 1150.6,840.1 1150.6,839 1151.1,838.9 1151.1,840.1 1151.6,840.1 1151.6,838.8 1152.1,838.7 1152.1,839.9 1152.6,839.8 1152.6,838.8 1153.1,838.8 1153.1,840.1 1153.6,839.8 1153.6,838.9 1154.1,838.8 1154.1,839.9 1154.6,840 1154.6,839 1155.1,838.8 1155.1,839.8 1155.6,839.9 1155.6,839 1156.1,838.9 1156.1,840.1 1156.6,839.9 1156.6,838.9 1157.1,838.7 1157.1,839.9 1157.6,839.9 1157.6,838.7 1158.1,838.9 1158.1,839.9 1158.6,840.1 1158.6,838.9 1159.1,838.6 1159.1,840 1159.6,840 1159.6,838.5 1160.1,838.8 1160.1,839.8 1160.6,839.8 1160.6,838.8 1161.1,838.7 1161.1,839.8 1161.6,839.8 1161.6,838.8 1162.1,838.9 1162.1,840 1162.6,839.8 1162.6,839 1163.1,838.9 1163.1,839.9 1163.6,840.1 1163.6,838.9 1164.1,838.9 1164.1,839.9 1164.6,839.9 1164.6,838.9 1165.1,838.8 1165.1,839.9 1165.6,839.8 1165.6,839 1166.1,839 1166.1,839.9 1166.6,840 1166.6,839 1167.1,838.9 1167.1,840 1167.6,840.3 1167.6,839 1168.1,839 1168.1,839.9 1168.6,839.9 1168.6,838.9 1169.1,838.7 1169.1,840.1 1169.6,840.1 1169.6,838.8 1170.1,838.8 1170.1,840 1170.6,839.9 1170.6,838.9 1171.1,839 1171.1,840 1171.6,840.1 1171.6,839.1 1172.1,838.8 1172.1,839.9 1172.6,839.9 1172.6,838.9 1173.1,838.8 1173.1,839.8 1173.6,839.9 1173.6,838.9 1174.1,838.8 1174.1,839.9 1174.6,839.8 1174.6,838.9 1175.1,838.9 1175.1,840 1175.6,839.8 1175.6,838.9 1176.1,838.8 1176.1,839.9 1176.6,840 1176.6,838.9 1177.1,838.9 1177.1,839.9 1177.6,839.9 1177.6,838.9 1178.1,838.9 1178.1,839.8 1178.6,840 1178.6,838.9 1179.1,838.9 1179.1,839.8 1179.6,839.8 1179.6,839 1180.1,838.9 1180.1,839.9 1180.6,840 1180.6,838.9 1181.1,838.9 1181.1,839.8 1181.6,839.9 1181.6,838.9 1182.1,838.9 1182.1,839.8 1182.6,839.9 1182.6,838.9 1183.1,838.9 1183.1,840.5 1183.6,840.2 1183.6,838.9 1184.1,838.8 1184.1,839.9 1184.6,839.9 1184.6,838.9 1185.1,838.9 1185.1,839.9 1185.6,839.9 1185.6,838.9 1186.1,838.8 1186.1,839.9 1186.6,839.8 1186.6,838.9 1187.1,839.1 1187.1,839.8 1187.6,839.8 1187.6,838.9 1188.1,838.9 1188.1,839.8 1188.6,840 1188.6,838.9 1189.1,838.9 1189.1,839.9 1189.6,840.1 1189.6,838.8 1190.1,838.9 1190.1,839.9 1190.6,839.9 1190.6,839 1191.1,838.8 1191.1,840 1191.6,839.8 1191.6,838.9 1192.1,838.9 1192.1,839.8 1192.6,840 1192.6,838.9 1193.1,838.9 1193.1,839.9 1193.6,839.8 1193.6,838.8 1194.1,838.8 1194.1,840.6 1194.6,839.8 1194.6,838.8 1195.1,838.7 1195.1,839.9 1195.6,840 1195.6,838.8 1196.1,839 1196.1,840.1 1196.6,839.9 1196.6,838.6 1197.1,838.8 1197.1,839.8 1197.6,840 1197.6,838.9 1198.1,838.7 1198.1,840 1198.6,840 1198.6,838.9 1199.1,838.9 1199.1,840.2 1199.6,839.9 1199.6,838.6 1200.1,838.6 1200.1,839.8 1200.6,839.8 1200.6,839 1201.1,839 1201.1,839.9 1201.6,840 1201.6,838.8 1202.1,838.6 1202.1,839.9 1202.6,839.8 1202.6,838.8 1203.1,838.8 1203.1,839.8 1203.6,840 1203.6,839 1204.1,838.9 1204.1,840 1204.6,840 1204.6,839 1205.1,838.8 1205.1,839.9 1205.6,840 1205.6,838.7 1206.1,838.9 1206.1,839.8 1206.6,839.8 1206.6,839 1207.1,838.8 1207.1,839.9 1207.6,839.9 1207.6,838.9 1208.1,838.9 1208.1,840 1208.6,840 1208.6,838.8 1209.1,838.9 1209.1,840 1209.6,840 1209.6,838.9 1210.1,838.7 1210.1,839.8 1210.6,839.9 1210.6,839 1211.1,838.9 1211.1,840 1211.6,840.1 1211.6,838.9 1212.1,838.9 1212.1,839.9 1212.6,839.8 1212.6,838.9 1213.1,838.7 1213.1,840 1213.6,840 1213.6,838.8 1214.1,839 1214.1,840 1214.6,839.9 1214.6,839 1215.1,838.9 1215.1,839.9 1215.6,840 1215.6,839 1216.1,839 1216.1,839.9 1216.6,840 1216.6,838.9 1217.1,838.8 1217.1,839.9 1217.6,840 1217.6,838.8 1218.1,838.9 1218.1,839.8 1218.6,839.9 1218.6,838.7 1219.1,838.9 1219.1,839.8 1219.6,840 1219.6,839 1220.1,839 1220.1,839.8 1220.6,839.9 1220.6,838.8 1221.1,838.9 1221.1,839.8 1221.6,839.9 1221.6,838.8 1222.1,838.9 1222.1,840 1222.6,839.9 1222.6,839 1223.1,838.8 1223.1,839.9 1223.6,839.9 1223.6,839 1224.1,838.9 1224.1,839.9 1224.6,839.8 1224.6,838.9 1225.1,838.8 1225.1,840 1225.6,839.8 1225.6,838.9 1226.1,839 1226.1,839.8 1226.6,840.1 1226.6,838.8 1227.1,838.9 1227.1,839.9 1227.6,840 1227.6,838.7 1228.1,838.9 1228.1,839.9 1228.6,840 1228.6,838.7 1229.1,839 1229.1,840.1 1229.6,839.9 1229.6,838.9 1230.1,838.7 1230.1,839.8 1230.6,839.9 1230.6,839 1231.1,838.8 1231.1,839.8 1231.6,839.9 1231.6,838.9 1232.1,838.9 1232.1,839.9 1232.6,839.8 1232.6,838.9 1233.1,838.8 1233.1,839.9 1233.6,839.9 1233.6,839 1234.1,838.9 1234.1,839.8 1234.6,839.7 1234.6,838.9 1235.1,838.9 1235.1,840 1235.6,840 1235.6,838.8 1236.1,839 1236.1,839.9 1236.6,839.9 1236.6,838.8 1237.1,838.9 1237.1,839.8 1237.6,840 1237.6,838.9 1238.1,838.9 1238.1,839.8 1238.6,839.8 1238.6,838.6 1239.1,838.6 1239.1,839.9 1239.6,839.9 1239.6,838.8 1240.1,838.9 1240.1,840 1240.6,839.9 1240.6,839 1241.1,839 1241.1,840 1241.6,839.9 1241.6,838.9 1242.1,838.8 1242.1,839.8 1242.6,839.9 1242.6,838.8 1243.1,838.9 1243.1,839.8 1243.6,840.2 1243.6,838.9 1244.1,838.9 1244.1,839.8 1244.6,839.9 1244.6,838.9 1245.1,838.9 1245.1,839.9 1245.6,840 1245.6,838.9 1246.1,838.8 1246.1,840 1246.6,839.9 1246.6,838.9 1247.1,838.9 1247.1,840 1247.6,840.1 1247.6,838.9 1248.1,838.9 1248.1,840 1248.6,839.8 1248.6,839 1249.1,838.9 1249.1,839.8 1249.6,839.8 1249.6,838.7 1250.1,839 1250.1,839.8 1250.6,839.8 1250.6,838.9 1251.1,838.8 1251.1,839.8 1251.6,840 1251.6,838.9 1252.1,838.9 1252.1,840.1 1252.6,839.9 1252.6,838.9 1253.1,839 1253.1,839.8 1253.6,839.9 1253.6,838.9 1254.1,838.8 1254.1,840 1254.6,840 1254.6,838.8 1255.1,838.7 1255.1,840 1255.6,840.1 1255.6,838.8 1256.1,839 1256.1,840.1 1256.6,839.9 1256.6,839 1257.1,838.9 1257.1,839.8 1257.6,839.9 1257.6,838.9 1258.1,838.9 1258.1,839.9 1258.6,839.9 1258.6,838.8 1259.1,838.9 1259.1,839.8 1259.6,839.9 1259.6,838.8 1260.1,838.9 1260.1,840.2 1260.6,839.8 1260.6,838.9 1261.1,838.9 1261.1,840.4 1261.6,839.9 1261.6,838.9 1262.1,838.9 1262.1,839.9 1262.6,839.8 1262.6,839 1263.1,839 1263.1,839.9 1263.6,840 1263.6,838.9 1264.1,839 1264.1,839.9 1264.6,840.2 1264.6,839 1265.1,838.8 1265.1,840 1265.6,839.9 1265.6,838.9 1266.1,838.9 1266.1,839.9 1266.6,839.8 1266.6,838.9 1267.1,838.8 1267.1,839.8 1267.6,839.9 1267.6,839 1268.1,839 1268.1,839.9 1268.6,839.9 1268.6,839 1269.1,838.9 1269.1,840 1269.6,839.9 1269.6,838.9 1270.1,838.8 1270.1,839.8 1270.6,839.9 1270.6,839 1271.1,838.9 1271.1,840.1 1271.6,839.8 1271.6,839 1272.1,838.9 1272.1,840 1272.6,840 1272.6,839 1273.1,838.9 1273.1,840 1273.6,839.9 1273.6,838.9 1274.1,838.9 1274.1,839.9 1274.6,840 1274.6,838.8 1275.1,838.9 1275.1,839.8 1275.6,839.8 1275.6,839 1276.1,838.9 1276.1,839.9 1276.6,840 1276.6,838.8 1277.1,838.8 1277.1,839.8 1277.6,839.8 1277.6,838.9 1278.1,838.9 1278.1,840.3 1278.6,840 1278.6,838.8 1279.1,839 1279.1,839.8 1279.6,840.1 1279.6,838.8 1280.1,838.9 1280.1,840 1280.6,840 1280.6,838.8 1281.1,838.8 1281.1,840 1281.6,840.1 1281.6,839 1282.1,838.7 1282.1,839.9 1282.6,840 1282.6,839 1283.1,838.8 1283.1,840 1283.6,839.7 1283.6,838.8 1284.1,838.7 1284.1,839.9 1284.6,839.9 1284.6,838.8 1285.1,839 1285.1,840 1285.6,839.9 1285.6,838.9 1286.1,838.8 1286.1,840 1286.6,840.1 1286.6,838.8 1287.1,838.8 1287.1,839.8 1287.6,839.9 1287.6,838.8 1288.1,838.9 1288.1,839.8 1288.6,839.9 1288.6,838.9 1289.1,839 1289.1,840.1 1289.6,839.9 1289.6,838.9 1290.1,838.7 1290.1,839.9 1290.6,840 1290.6,839 1291.1,838.9 1291.1,840 1291.6,839.9 1291.6,838.9 1292.1,839 1292.1,839.8 1292.6,839.9 1292.6,838.8 1293.1,838.9 1293.1,839.9 1293.6,840.2 1293.6,839 1294.1,839 1294.1,840.1 1294.6,840.1 1294.6,838.8 1295.1,838.8 1295.1,839.8 1295.6,839.8 1295.6,839 1296.1,838.7 1296.1,839.9 1296.6,839.9 1296.6,838.8 1297.1,838.8 1297.1,839.8 1297.6,839.9 1297.6,839 1298.1,838.8 1298.1,840 1298.6,839.8 1298.6,839 1299.1,838.9 1299.1,839.9 1299.6,839.8 1299.6,838.8 1300.1,838.9 1300.1,839.9 1300.6,839.9 1300.6,839 1301.1,838.9 1301.1,839.9 1301.6,839.8 1301.6,839 1302.1,838.9 1302.1,839.9 1302.6,840.2 1302.6,838.9 1303.1,838.9 1303.1,839.9 1303.6,840.1 1303.6,838.8 1304.1,838.9 1304.1,839.8 1304.6,840.1 1304.6,838.9 1305.1,838.9 1305.1,839.9 1305.6,840 1305.6,838.6 1306.1,838.9 1306.1,839.9 1306.6,839.9 1306.6,838.8 1307.1,838.8 1307.1,840 1307.6,840.1 1307.6,838.8 1308.1,838.9 1308.1,840 1308.6,839.9 1308.6,838.9 1309.1,838.7 1309.1,840 1309.6,839.8 1309.6,838.9 1310.1,838.7 1310.1,840.1 1310.6,840 1310.6,838.9 1311.1,838.8 1311.1,839.9 1311.6,839.8 1311.6,838.8 1312.1,839 1312.1,839.8 1312.6,839.8 1312.6,838.9 1313.1,838.8 1313.1,840.2 1313.6,840.1 1313.6,838.8 1314.1,839 1314.1,839.8 1314.6,839.9 1314.6,838.8 1315.1,839 1315.1,840 1315.6,840 1315.6,838.9 1316.1,839 1316.1,839.8 1316.6,839.9 1316.6,838.8 1317.1,838.8 1317.1,839.9 1317.6,839.8 1317.6,838.9 1318.1,839 1318.1,839.9 1318.6,839.9 1318.6,838.9 1319.1,838.9 1319.1,839.9 1319.6,840 1319.6,838.9 1320.1,839 1320.1,839.9 1320.6,840 1320.6,838.8 1321.1,838.8 1321.1,839.8 1321.6,839.9 1321.6,838.9 1322.1,839 1322.1,840 1322.6,839.9 1322.6,838.9 1323.1,838.9 1323.1,840 1323.6,840.1 1323.6,838.7 1324.1,838.9 1324.1,839.8 1324.6,840 1324.6,838.8 1325.1,839 1325.1,839.9 1325.6,839.8 1325.6,838.9 1326.1,839 1326.1,839.8 1326.6,839.9 1326.6,839 1327.1,838.8 1327.1,840 1327.6,839.9 1327.6,838.9 1328.1,838.9 1328.1,840 1328.6,839.9 1328.6,839 1329.1,838.7 1329.1,839.9 1329.6,840.1 1329.6,838.9 1330.1,839 1330.1,840 1330.6,839.9 1330.6,838.9 1331.1,838.9 1331.1,840.1 1331.6,839.9 1331.6,838.9 1332.1,838.9 1332.1,840 1332.6,839.9 1332.6,838.9 1333.1,838.8 1333.1,839.8 1333.6,840 1333.6,838.8 1334.1,838.9 1334.1,839.8 1334.6,840 1334.6,838.7 1335.1,838.8 1335.1,839.8 1335.6,840 1335.6,839 1336.1,839 1336.1,840 1336.6,840 1336.6,838.9 1337.1,838.9 1337.1,839.8 1337.6,839.9 1337.6,838.8 1338.1,838.8 1338.1,839.9 1338.6,839.9 1338.6,838.6 1339.1,838.9 1339.1,839.8 1339.6,839.9 1339.6,839 1340.1,838.9 1340.1,840.1 1340.6,840 1340.6,838.8 1341.1,839 1341.1,839.8 1341.6,840 1341.6,838.7 1342.1,839 1342.1,839.8 1342.6,840.1 1342.6,838.8 1343.1,839 1343.1,839.9 1343.6,839.9 1343.6,838.8 1344.1,838.9 1344.1,840 1344.6,839.9 1344.6,838.8 1345.1,838.9 1345.1,840.1 1345.6,840 1345.6,838.8 1346.1,838.8 1346.1,839.9 1346.6,839.9 1346.6,838.8 1347.1,838.9 1347.1,839.9 1347.6,839.9 1347.6,838.9 1348.1,838.9 1348.1,840.1 1348.6,840 1348.6,839 1349.1,838.8 1349.1,839.8 1349.6,839.8 1349.6,838.9 1350.1,838.9 1350.1,840 1350.6,839.9 1350.6,839 1351.1,838.9 1351.1,839.8 1351.6,840 1351.6,838.9 1352.1,838.9 1352.1,839.8 1352.6,840 1352.6,838.9 1353.1,838.9 1353.1,840 1353.6,840.1 1353.6,838.7 1354.1,838.9 1354.1,840 1354.6,839.9 1354.6,838.9 1355.1,839 1355.1,839.8 1355.6,840 1355.6,838.7 1356.1,838.9 1356.1,839.8 1356.6,839.8 1356.6,838.7 1357.1,838.9 1357.1,839.9 1357.6,840 1357.6,838.8 1358.1,838.9 1358.1,839.9 1358.6,840 1358.6,839 1359.1,838.9 1359.1,840 1359.6,840 1359.6,838.8 1360.1,838.9 1360.1,839.8 1360.6,839.8 1360.6,838.8 1361.1,838.9 1361.1,840 1361.6,840 1361.6,838.9 1362.1,839 1362.1,839.9" fill="none" stroke="#1f77b4" stroke-width="4.4" stroke-linejoin="round" stroke-linecap="butt"/>
<path d="M99.57,14.10V259.75" stroke="#000" stroke-width="1.1"/>
<path d="M471.06,14.10V259.75" stroke="#000" stroke-width="1.8"/>
<path d="M99.04,15.00H471.96" stroke="#000" stroke-width="1.8"/>
<path d="M99.04,258.90H471.96" stroke="#000" stroke-width="1.7"/>
<path d="M553.60,14.10V259.75" stroke="#000" stroke-width="1.6"/>
<path d="M925.40,14.10V259.75" stroke="#000" stroke-width="1.4"/>
<path d="M552.80,15.00H926.07" stroke="#000" stroke-width="1.8"/>
<path d="M552.80,258.90H926.07" stroke="#000" stroke-width="1.7"/>
<path d="M1007.20,14.10V259.75" stroke="#000" stroke-width="1.8"/>
<path d="M1379.50,14.10V259.75" stroke="#000" stroke-width="1.8"/>
<path d="M1006.30,15.00H1380.40" stroke="#000" stroke-width="1.8"/>
<path d="M1006.30,258.90H1380.40" stroke="#000" stroke-width="1.7"/>
<path d="M99.57,314.77V559.58" stroke="#000" stroke-width="1.1"/>
<path d="M471.06,314.77V559.58" stroke="#000" stroke-width="1.8"/>
<path d="M99.04,315.40H471.96" stroke="#000" stroke-width="1.2"/>
<path d="M99.04,558.73H471.96" stroke="#000" stroke-width="1.7"/>
<path d="M553.60,314.77V559.58" stroke="#000" stroke-width="1.6"/>
<path d="M925.40,314.77V559.58" stroke="#000" stroke-width="1.4"/>
<path d="M552.80,315.40H926.07" stroke="#000" stroke-width="1.2"/>
<path d="M552.80,558.73H926.07" stroke="#000" stroke-width="1.7"/>
<path d="M1007.20,314.77V559.58" stroke="#000" stroke-width="1.8"/>
<path d="M1379.50,314.77V559.58" stroke="#000" stroke-width="1.8"/>
<path d="M1006.30,315.40H1380.40" stroke="#000" stroke-width="1.2"/>
<path d="M1006.30,558.73H1380.40" stroke="#000" stroke-width="1.7"/>
<path d="M99.57,614.60V859.52" stroke="#000" stroke-width="1.1"/>
<path d="M471.06,614.60V859.52" stroke="#000" stroke-width="1.8"/>
<path d="M99.04,615.40H471.96" stroke="#000" stroke-width="1.6"/>
<path d="M99.04,858.77H471.96" stroke="#000" stroke-width="1.5"/>
<path d="M553.60,614.60V859.52" stroke="#000" stroke-width="1.6"/>
<path d="M925.40,614.60V859.52" stroke="#000" stroke-width="1.4"/>
<path d="M552.80,615.40H926.07" stroke="#000" stroke-width="1.6"/>
<path d="M552.80,858.77H926.07" stroke="#000" stroke-width="1.5"/>
<path d="M1007.20,614.60V859.52" stroke="#000" stroke-width="1.8"/>
<path d="M1379.50,614.60V859.52" stroke="#000" stroke-width="1.8"/>
<path d="M1006.30,615.40H1380.40" stroke="#000" stroke-width="1.6"/>
<path d="M1006.30,858.77H1380.40" stroke="#000" stroke-width="1.5"/>
<path d="M93.17,15.00h6.4M93.17,110.17h6.4M93.17,205.35h6.4M116.47,258.90v6.4M285.37,258.90v6.4M454.27,258.90v6.4M547.20,15.00h6.4M547.20,110.17h6.4M547.20,205.35h6.4M570.50,258.90v6.4M739.40,258.90v6.4M908.30,258.90v6.4M1000.80,15.00h6.4M1000.80,110.17h6.4M1000.80,205.35h6.4M1024.10,258.90v6.4M1193.00,258.90v6.4M1361.90,258.90v6.4M93.17,360.35h6.4M93.17,447.93h6.4M93.17,535.50h6.4M116.47,558.73v6.4M285.37,558.73v6.4M454.27,558.73v6.4M547.20,360.35h6.4M547.20,447.93h6.4M547.20,535.50h6.4M570.50,558.73v6.4M739.40,558.73v6.4M908.30,558.73v6.4M1000.80,360.35h6.4M1000.80,447.93h6.4M1000.80,535.50h6.4M1024.10,558.73v6.4M1193.00,558.73v6.4M1361.90,558.73v6.4M93.17,615.40h6.4M93.17,737.09h6.4M93.17,858.77h6.4M116.47,858.77v6.4M285.37,858.77v6.4M454.27,858.77v6.4M547.20,615.40h6.4M547.20,737.09h6.4M547.20,858.77h6.4M570.50,858.77v6.4M739.40,858.77v6.4M908.30,858.77v6.4M1000.80,615.40h6.4M1000.80,737.09h6.4M1000.80,858.77h6.4M1024.10,858.77v6.4M1193.00,858.77v6.4M1361.90,858.77v6.4" stroke="#000" stroke-width="1.4" fill="none"/>
<text class="d" x="86.8" y="26.9" text-anchor="end">75</text>
<text class="d" x="86.8" y="122" text-anchor="end">50</text>
<text class="d" x="86.8" y="216.5" text-anchor="end">25</text>
<text class="d" x="86.8" y="372.2" text-anchor="end">50</text>
<text class="d" x="86.8" y="459.8" text-anchor="end">25</text>
<text class="d" x="86.8" y="547.4" text-anchor="end">0</text>
<text class="d" x="86.8" y="626.8" text-anchor="end">1.0</text>
<text class="d" x="86.8" y="748.9" text-anchor="end">0.5</text>
<text class="d" x="86.8" y="870" text-anchor="end">0.0</text>
<text class="d" x="115.8" y="895.2" text-anchor="middle">0</text>
<text class="d" x="285.6" y="895.2" text-anchor="middle">100000</text>
<text class="d" x="453.9" y="895.2" text-anchor="middle">200000</text>
<text x="279.9" y="934" text-anchor="middle">Timesteps</text>
<text class="d" x="241.6" y="970.5">q<tspan dx="-0.25" dy="3.7" textLength="24.4" lengthAdjust="spacingAndGlyphs">=</tspan><tspan dx="-0.15" dy="-3.7">0.4</tspan></text>
<text class="d" x="569.8" y="895.2" text-anchor="middle">0</text>
<text class="d" x="739.6" y="895.2" text-anchor="middle">100000</text>
<text class="d" x="907.9" y="895.2" text-anchor="middle">200000</text>
<text x="733.9" y="934" text-anchor="middle">Timesteps</text>
<text class="d" x="686.7" y="970.5">q<tspan dx="-0.25" dy="3.7" textLength="24.4" lengthAdjust="spacingAndGlyphs">=</tspan><tspan dx="-0.15" dy="-3.7">0.52</tspan></text>
<text class="d" x="1023.4" y="895.2" text-anchor="middle">0</text>
<text class="d" x="1193.2" y="895.2" text-anchor="middle">100000</text>
<text class="d" x="1361.5" y="895.2" text-anchor="middle">200000</text>
<text x="1187.5" y="934" text-anchor="middle">Timesteps</text>
<text class="d" x="1149.2" y="970.5">q<tspan dx="-0.25" dy="3.7" textLength="24.4" lengthAdjust="spacingAndGlyphs">=</tspan><tspan dx="-0.15" dy="-3.7">0.7</tspan></text>
<text class="yl" transform="translate(36.5,136.9) rotate(-90)" text-anchor="middle">Color-Changes</text>
<text class="yl" transform="translate(36.5,437.1) rotate(-90)" text-anchor="middle">Table-Changes</text>
<text class="yl" transform="translate(28.4,737.1) rotate(-90)" text-anchor="middle">rel. Clustersize</text>
</svg></body></html>
